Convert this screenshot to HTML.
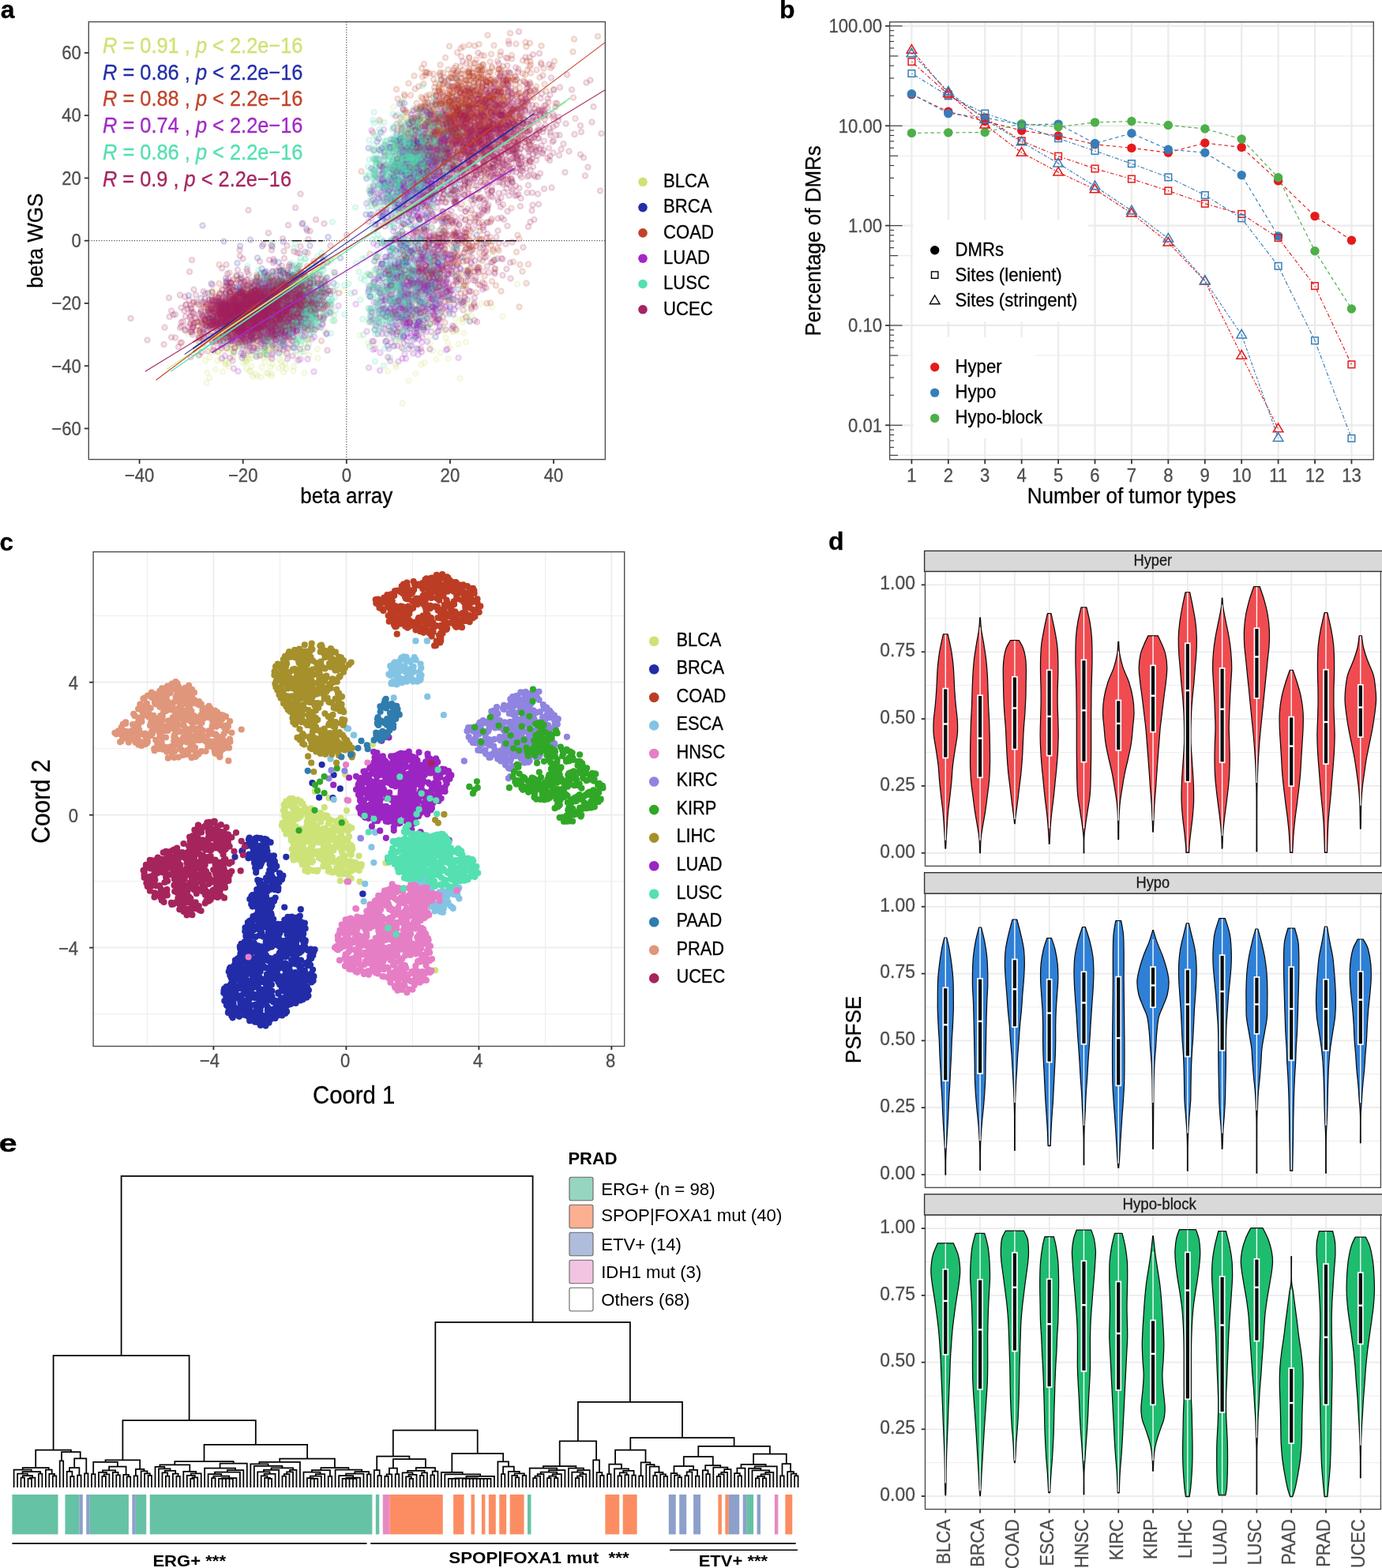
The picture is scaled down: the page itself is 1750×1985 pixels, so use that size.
<!DOCTYPE html>
<html lang="en"><head><meta charset="utf-8"><title>Figure</title>
<style>html,body{margin:0;padding:0;background:#fff}svg{display:block}text{font-family:'Liberation Sans', sans-serif}</style>
</head><body>
<svg width="1750" height="1985" viewBox="0 0 1750 1985">
<rect width="1750" height="1985" fill="#fff"/>
<g id="pa">
<rect x="112.3" y="27.6" width="654.1" height="554" fill="#fff"/>
<line x1="112.3" y1="304.7" x2="766.4" y2="304.7" stroke="#222" stroke-width="1" stroke-dasharray="1.2 2"/>
<line x1="438.8" y1="27.6" x2="438.8" y2="581.6" stroke="#222" stroke-width="1" stroke-dasharray="1.2 2"/>
<defs>
<marker id="mBLCA" markerUnits="userSpaceOnUse" markerWidth="20" markerHeight="20" refX="10" refY="10"><circle cx="10" cy="10" r="6.7" fill="#CDE374" fill-opacity=".12" stroke="#CDE374" stroke-opacity=".19" stroke-width="3.6"/></marker>
<marker id="mBRCA" markerUnits="userSpaceOnUse" markerWidth="20" markerHeight="20" refX="10" refY="10"><circle cx="10" cy="10" r="6.7" fill="#232EA8" fill-opacity=".12" stroke="#232EA8" stroke-opacity=".19" stroke-width="3.6"/></marker>
<marker id="mCOAD" markerUnits="userSpaceOnUse" markerWidth="20" markerHeight="20" refX="10" refY="10"><circle cx="10" cy="10" r="6.7" fill="#C1432A" fill-opacity=".12" stroke="#C1432A" stroke-opacity=".19" stroke-width="3.6"/></marker>
<marker id="mLUAD" markerUnits="userSpaceOnUse" markerWidth="20" markerHeight="20" refX="10" refY="10"><circle cx="10" cy="10" r="6.7" fill="#A229C5" fill-opacity=".12" stroke="#A229C5" stroke-opacity=".19" stroke-width="3.6"/></marker>
<marker id="mLUSC" markerUnits="userSpaceOnUse" markerWidth="20" markerHeight="20" refX="10" refY="10"><circle cx="10" cy="10" r="6.7" fill="#53E0B0" fill-opacity=".12" stroke="#53E0B0" stroke-opacity=".19" stroke-width="3.6"/></marker>
<marker id="mUCEC" markerUnits="userSpaceOnUse" markerWidth="20" markerHeight="20" refX="10" refY="10"><circle cx="10" cy="10" r="6.7" fill="#A62560" fill-opacity=".12" stroke="#A62560" stroke-opacity=".19" stroke-width="3.6"/></marker>
</defs>
<path transform="scale(.5)" d="M1106,372 1101,301 625,864 535,853 681,879 966,462 1161,871 712,813 559,851 1115,893 564,859 702,845 1083,823 727,843 650,857 1070,737 638,792 745,760 717,738 747,799 1017,815 601,844 637,927 1132,688 1102,689 656,828 1094,444 727,812 584,884 763,752 996,449 1037,613 1090,669 607,806 1101,432 1145,361 667,905 1100,817 1099,693 1093,763 638,803 1152,512 722,921 987,760 539,892 1192,296 1210,297 705,818 1013,867 1012,412 1142,268 1065,716 658,773 1057,417 1058,354 520,913 681,808 1122,383 616,919 1166,342 1007,541 1097,380 1110,475 767,785 1105,800 538,885 1097,747 655,766 608,819 624,819 781,782 1127,837 779,880 684,861 751,689 623,887 721,750 1138,644 666,829 1131,496 1154,256 1084,625 743,939 698,875 602,818 637,840 625,895 1035,365 1050,403 1032,358 1127,377 631,909 1157,342 626,748 1047,836 1161,332 932,868 1040,339 1127,587 956,869 595,865 804,684 1165,706 671,917 1012,840 1111,225 662,811 685,880 774,775 718,804 1093,764 776,824 639,875 523,969 1182,334 1070,795 1149,825 1047,534 641,742 765,696 591,889 718,830 562,845 632,885 1234,227 621,899 640,953 652,899 1208,344 647,861 572,914 576,880 730,740 751,819 1087,306 948,377 1003,843 1129,855 1047,432 1110,211 1175,733 1046,299 682,808 656,817 1066,829 959,443 1139,414 979,862 1056,367 707,748 647,828 656,832 710,812 745,850 1127,329 640,791 1032,303 1040,414 728,814 571,922 693,862 550,773 804,884 679,857 675,834 546,935 531,905 820,787 712,868 653,828 1158,486 1225,269 1026,376 1175,723 1029,519 631,843 1100,364 608,865 1118,760 1171,372 756,812 712,861 1024,467 1018,704 1129,338 570,919 730,902 1098,366 687,908 1099,734 1117,735 652,952 720,833 1035,964 1097,361 667,888 1140,443 1129,414 1198,218 1034,339 1108,370 1146,349 1125,379 667,873 710,802 691,827 1071,348 1001,794 679,776 666,798 708,781 725,793 1022,523 727,860 1091,755 982,837 1077,703 623,864 982,940 1030,305 690,826 1086,336 692,800 698,789 672,761 990,695 688,841 1079,820 663,930 1097,741 1171,807 1174,430 665,856 1030,447 1222,447 767,883 754,783 528,804 1191,352 1149,322 701,833 681,885 1187,811 658,817 647,947 1144,338 691,805 502,877 644,801 1132,311 839,780 997,643 1115,348 1119,391 785,761 600,877 738,789 775,832 709,846 1152,516 714,852 700,831 527,842 1049,821 580,928 757,790 657,901 659,706 954,669 1010,592 1044,388 525,944 780,860 1153,824 1154,358 1089,869 671,877 1098,810 1011,676 1157,839 660,853 574,781 726,821 1080,291 1089,652 1050,347 496,892 771,944 673,854 1031,337 980,800 603,849 1167,720 615,868 1076,792 1169,349 667,843 591,855 1096,363 1160,214 1054,685 1064,802 674,839 690,922 752,831 1178,767 537,805 1182,442 1136,760 1122,593 1003,930 685,929 688,785 1027,766 733,840 1025,790 701,860 1072,727 1310,719 709,864 630,812 635,940 1146,477 549,836 1150,676 1068,411 1188,470 1183,513 1187,376 632,940 1135,303 713,820 1044,501 804,825 984,907 720,862 709,814 1176,430 721,864 1150,263 715,926 1190,260 1061,389 713,817 690,866 636,900 792,805 1178,772 1004,476 578,857 1120,456 1058,840 1088,884 723,802 690,845 1099,607 635,891 573,842 622,917 629,847 664,792 1107,550 1094,732 1082,522 1096,888 768,839 580,771 661,817 654,855 675,849 1229,331 676,789 1122,404 728,860 1254,380 614,851 708,911 751,818 1198,755 1113,468 706,811 666,899 763,778 965,764 975,801 1182,272 1090,323 822,838 624,802 476,845 607,837 724,823 1264,367 751,772 734,884 700,833 1122,384 1099,758 1059,361 969,717 622,869 636,828 1164,347 752,914 1128,300 1011,783 651,811 870,736 695,853 635,813 691,862 1171,816 710,866 667,794 551,913 1075,918 675,944 972,421 687,828 1029,429 580,880 610,899 772,869 661,955 506,878 1117,388 732,882 724,805 1093,302 1074,259 601,743 1021,298 1177,428 1156,200 665,853 651,884 728,851 679,946 1118,373 546,738 621,905 1117,440 1041,787 1106,540 1001,859 1146,840 1169,274 568,857 605,873 1222,268 1193,770 1114,327 788,812 674,762 567,860 1156,375 756,819 700,884 724,853 668,877 697,859 1005,734 1115,434 1195,679 1132,390 776,821 751,734 1150,427 1037,441 641,864 1238,369 565,941 620,844 712,875 669,794 507,865 1122,684 1079,401 587,862 1019,729 782,858 733,733 1155,411 725,934 697,830 671,832 1082,770 1200,385 763,891 709,771 1085,372 1077,826 1219,769 1161,273 951,521 1121,780 1077,770 1036,574 658,845 684,772 1074,786 589,874 1256,417 1086,625 596,794 552,890 671,866 732,700 1238,304 1106,391 934,695 603,835 596,814 678,725 743,774 1090,697 1154,362 719,746 1171,304 669,790 1143,243 552,890 1121,801 990,838 1136,356 1065,766 673,865 725,831 736,820 678,859 708,818 668,815 1172,808 1126,372 1002,923 692,854 607,848 1167,313 658,843 591,905 592,839 1154,295 997,768 1184,801 817,814 689,857 1173,275 1165,958 1140,882 1015,777 678,888 1053,454 1177,383 621,839 708,844 1122,683 1125,358 1112,452 1238,417 1074,413 1043,802 981,730 998,710 1140,330 733,760 744,814 744,928 1175,843 689,829 1147,331 1063,336 1111,401 695,882 748,851 1082,791 718,942 1210,343 654,767 733,857 682,790 530,827 718,851 1042,609 1077,748 1025,409 1078,796 741,838 1087,823 541,806 778,787 614,851 686,763 697,886 691,837 696,828 659,843 1144,304 622,871 765,716 689,811 770,753 1120,682 654,817 1073,452 751,836 1142,357 955,731 1089,684 1143,546 624,933 1208,483 1150,468 1141,371 632,831 1036,803 681,767 957,567 1073,300 1148,838 1122,441 1108,469 1034,758 1032,411 1059,777 619,851 1042,320 704,726 1125,836 952,489 1089,851 1104,292 1124,426 1226,317 1095,288 675,866 716,791 627,803 1224,419 588,760 1038,325 1016,370 1155,690 997,467 633,741 605,832 1189,344 690,818 559,909 1022,747 1003,764 942,870 686,801 1134,331 1120,414 1052,762 1036,770 628,828 1090,653 1123,342 1013,492 654,863 1177,657 713,916 1080,398 611,802 1077,471 1079,804 1176,470 1085,386 667,888 1093,239 684,838 1067,923 791,708 847,809 1079,717 683,793 1135,908 724,779 638,859 1060,324 752,796 1139,435 999,463 1131,794 590,898 1283,288 688,859 738,810 670,820 1233,375 1246,777 1136,490 1111,806 1014,392 659,792 737,846 696,748 583,845 1172,343 671,870 1094,476 1132,334 1028,355 759,761 1051,438 1095,826 1019,1021 730,817 783,899 673,793 686,904 1070,375 1047,321 1053,726 688,946 1124,258 1152,408 672,850 1160,309 1216,398 1026,346 1183,266 757,764 578,921 567,887 694,821 687,952 728,818 1194,799 943,694 1083,391 1021,745 655,794 729,823 722,834 1130,411 557,769 1118,354 1066,743 737,875 504,900 1122,368 777,860 732,855 676,885 740,801 1128,343 552,891 661,809 1113,736 662,745 1130,311 996,271 1140,400 612,827 1154,807 727,840 1054,804 1166,298 941,722 727,834 1118,457 805,907 494,881 507,843 1146,482 1053,946 663,780 702,713 808,795 1183,332 617,771 1226,306 624,878 1115,736 1120,268 730,737 747,824 614,868 662,852 553,824 1131,378 1104,841 1214,480 1152,416 623,875 680,905 1184,791 1138,312 1051,674 784,754 1136,480 564,775 1145,273 1046,402 588,853 1110,390 693,803 839,793 1028,303 713,897 619,850 599,826 986,375 1097,323 1016,779 1086,431 934,816 1067,848 1121,745 782,776 1012,822 714,834 1188,591 683,852 1018,439 1045,646 711,816 1178,342 641,817 1188,265 670,841 675,887 1247,648 773,761 763,760 659,747 637,907 668,843 1098,518 733,818 1179,368 610,818 705,849 670,854 1110,704 694,842 622,849 1112,415 725,893 911,849 1220,340 728,755 1083,673 667,897 620,776 639,777 793,766 1105,910 608,868 749,899 994,512 673,874 1120,828 623,911 745,822 1201,293 1164,399 743,814 642,869 1216,266 627,773 1156,348 1109,325 1148,263 552,861 1273,801 1188,678 998,442 1046,451 661,839 1028,422 645,799 625,835 693,847 1178,240 758,808 717,837 559,821 1118,484 801,804 681,860 706,932 1139,362 1104,317 554,890 750,746 768,808 1140,374 1050,441 753,851 583,845 647,841 1120,304 633,855 757,735 695,795 605,825 690,844 683,763 588,889 624,916 1098,414 658,829 618,850 627,841 1100,423 535,740 996,877 1113,404 1082,498 672,864 1118,337 1115,433 721,796 1077,339 1195,373 1043,890 776,834 787,833 1050,815 1107,713 1123,764 659,877 1197,540 531,957 1132,727 585,877 645,852 511,820 578,824 703,754 1043,393 1227,343 647,873 710,881 988,785 648,851 562,847 1055,484 635,800 713,805 710,791 1156,424 1077,381 587,806 1134,869 752,703 650,858 1067,387 812,720 1152,347 688,886 609,884 1093,435 1089,782 1095,727 1143,626 671,893 1030,745 1023,730 1205,344 1180,704 718,888 1116,303 736,824 1056,770 662,827 647,890 666,775 651,838 1056,729 747,814 1180,866" fill="none" stroke="none" marker-start="url(#mBLCA)" marker-mid="url(#mBLCA)" marker-end="url(#mBLCA)"/>
<path transform="scale(.5)" d="M648,775 625,774 1049,633 643,794 628,813 644,781 814,735 792,761 685,787 1048,352 645,823 1013,352 763,815 1113,396 673,799 675,801 1008,411 763,716 988,721 1019,718 660,772 1079,547 1092,498 1008,786 793,791 1054,428 1025,407 785,622 1173,372 708,751 707,792 1029,628 996,607 660,771 968,552 764,792 1150,375 1061,411 1016,352 1156,707 1065,727 670,718 1064,764 1139,452 1014,633 1057,425 727,752 1109,664 682,799 1126,352 1062,648 705,765 1035,377 737,805 1100,716 536,823 593,794 725,798 952,652 603,778 638,823 1047,580 1095,399 1015,360 755,781 1047,393 1076,319 724,713 611,798 1061,324 1094,417 1053,328 611,716 1080,377 1039,473 701,735 700,842 1032,353 1056,374 667,738 681,719 1135,332 942,543 1060,374 1006,359 1173,375 1001,533 611,703 636,852 1093,348 1083,367 744,772 538,804 509,755 1029,443 626,778 1146,674 689,820 773,638 1071,459 1149,361 1069,596 1120,363 1053,429 988,636 697,796 1120,290 1028,487 691,687 971,611 708,739 689,819 753,762 711,808 1130,712 478,748 1117,365 825,746 1081,494 731,796 1013,466 669,776 1184,690 641,818 827,846 691,803 796,715 740,804 937,750 714,840 1060,363 1084,720 1010,518 1015,757 641,761 702,766 967,548 683,755 737,789 560,830 1056,440 585,771 1041,525 745,734 1127,358 1140,426 1057,525 652,653 1063,483 938,752 1053,616 1053,386 1108,445 1031,403 621,811 985,615 1041,374 594,812 1053,489 990,353 637,829 676,805 1002,634 1142,645 1022,418 1086,618 1173,382 1050,518 1126,661 711,685 993,510 1118,358 1088,354 1108,681 1038,635 1076,326 661,782 1149,506 712,768 733,831 1042,687 772,693 656,804 1080,411 747,773 978,650 1018,375 1104,454 770,718 745,753 1022,437 756,734 693,746 1035,314 986,471 1108,426 983,625 1001,724 1118,672 1008,703 654,728 1128,260 784,703 1041,555 661,813 665,795 720,721 619,812 1093,776 626,817 739,752 1068,283 741,696 759,709 1087,376 1029,376 738,721 635,774 697,767 1095,403 1109,288 1014,621 1074,640 1054,405 646,756 548,760 1253,263 1090,503 713,778 1049,368 1084,471 1130,560 621,761 998,509 685,796 1134,402 976,865 1071,448 699,748 1089,665 640,754 1027,415 1158,383 1034,762 1039,364 1094,694 1015,471 1098,504 997,448 736,770 1166,761 1044,720 754,693 1080,348 775,819 710,686 720,751 928,452 975,693 680,790 723,783 1172,410 735,735 695,661 979,802 781,728 1050,474 1091,499 1083,458 767,775 1122,480 1050,515 1057,361 813,747 659,761 574,717 1058,449 678,772 1059,375 1019,428 1064,557 1113,692 994,771 1133,414 768,786 1050,751 675,813 1126,452 607,838 997,324 1104,757 1122,295 1117,202 1089,392 725,778 629,838 1058,693 1074,579 1120,536 513,571 1076,362 767,764 1037,705 524,838 769,767 1084,561 990,713 1006,487 671,807 1000,421 836,745 1044,440 997,384 1072,380 1093,476 992,694 1125,337 1096,446 1076,769 704,786 711,759 1066,765 962,803 1073,441 649,815 747,786 1101,344 1077,763 637,717 1195,227 1059,630 1007,707 1165,679 1061,379 573,773 731,755 582,779 608,729 773,753 726,773 1057,379 736,773 1058,830 567,773 1061,760 763,723 641,785 963,547 752,773 1119,677 589,773 1010,458 1018,477 551,798 1026,418 643,790 1032,619 1125,351 608,623 718,720 1024,622 1035,562 704,754 1066,357 1004,754 1059,401 645,782 1073,402 990,763 1082,408 1061,360 1103,728 983,696 760,777 1253,658 668,728 677,750 744,752 1155,620 743,766 616,858 1157,597 689,766 753,796 711,737 696,739 1053,479 1139,777 997,629 1109,664 660,693 1041,290 739,746 1018,671 629,808 1149,392 640,754 1044,364 651,814 1060,417 999,431 757,751 1075,576 1139,377 1020,391 1081,737 1055,426 1077,339 1028,659 1073,829 1094,487 595,778 758,771 644,811 1063,578 990,362 723,745 683,796 1025,567 1022,719 997,678 845,717 973,461 622,767 1059,620 1026,801 1018,692 685,807 1048,347 653,774 757,721 988,692 1141,270 735,748 605,751 1108,701 1045,321 1121,283 720,789 1118,338 726,842 1039,705 1105,782 1031,405 938,697 1019,385 575,842 1070,351 1006,444 1034,674 978,531 989,669 1133,384 997,353 1112,602 1056,362 1041,773 987,425 1119,403 1010,548 645,758 743,835 1115,357 740,702 592,787 739,805 1082,483 719,770 1050,425 1115,383 1057,529 1025,434 678,798 730,696 1032,382 1096,341 749,768 721,842 1021,277 947,714 1011,476 1078,687 677,744 1013,368 969,482 1100,761 1033,496 1026,661 749,775 1148,338 669,690 1080,574 1172,765 682,715 1080,522 933,375 1076,414 989,646 532,805 757,776 752,837 715,793 763,706 1068,458 1061,554 1003,437 1063,277 706,730 727,760 590,832 613,784 1121,600 611,826 633,758 1054,708 1176,444 607,744 655,749 1032,365 1040,626 1003,414 1088,448 1002,454 1043,759 1069,362 1047,715 1007,485 1027,666 1054,376 1020,565 632,781 634,786 1064,711 1082,438 686,774 632,814 1124,379 712,767 1081,682 1105,477 605,743 637,738 711,835 608,782 1003,356 817,808 1152,252 606,772 1083,795 683,761 946,430 1051,613 584,856 772,731 1096,759 713,705 680,762 717,721 793,700 1110,419 1008,698 994,684 629,783 740,762 600,749 1044,450 1107,687 964,467 1123,340 1040,797 989,372 708,747 1068,493 967,455 650,758 971,421 1096,702 997,446 738,674 721,769 771,734 1028,617 794,735 643,783 970,535 1054,388 1097,646 1084,772 1021,661 722,778 1157,355 966,698 654,758 776,579 1073,699 1094,466 1087,311 1110,391 1012,263 1042,708 588,771 617,814 601,839 621,816 1051,443 1034,608 805,768 640,759 645,803 967,375 1035,396 993,675 1093,717 753,819 1125,564 582,785 1092,349 535,718 982,790 1039,569 1018,587 960,817 1016,722 674,729 733,702 1066,793 967,616 938,490 663,680 1006,369 1085,635 661,736 1035,439 713,820 684,740 1018,518 675,704 1013,639 659,771 638,764 748,812 967,440 609,838 1017,698 1113,359 736,780 1001,605 1045,642 600,727 643,840 1105,399 661,848 780,706 1040,427 658,778 1088,433 989,611 1035,357 978,660 1097,371 1083,372 601,791 1051,853 1156,198 1123,325 742,702 1018,422 1043,476 655,722 1082,284 987,372 712,834 1074,379 661,793 1119,559 689,743 1089,657 708,785 576,814 1057,460 661,811 1074,428 1060,394 1049,354 723,761 707,781 1129,736 528,806 576,825 1007,525 1037,775 689,738 683,794 1000,684 1064,477 1010,432 982,492 1043,635 776,740 1057,373 609,783 619,762 992,703 755,744 749,818 750,800 1145,454 716,791 631,759 743,808 1140,328 1029,808 1074,720 1073,499 1032,430 1113,643 556,864 1066,611 776,789 989,702 1089,820 702,845 626,778 1103,492 989,427 795,722 1020,665 1158,280 962,710 698,816 1062,814 1136,204 734,729 990,449 1031,446 1097,778 743,736 646,736 714,788 814,728 1023,505 1078,688 676,787 1040,717 986,482 633,825 1100,413 1201,503 1093,726 637,754 775,745 1017,433 644,794 979,562 688,798 632,762 1094,260 1074,370 1160,733 1225,620 1076,269 1047,685 581,794 967,668 1068,464 813,721 724,765 767,736 1107,379 693,780 1061,412 1029,395 1092,374 658,768 1023,368 668,807 1073,421 623,804 1104,672 1034,327 968,761 1037,442 664,794 1074,409 676,735 1018,546 1086,741 1108,464 1019,469 1055,363 697,735 1151,784 740,750 1086,609 1068,433 672,785 693,754 715,743 666,790 657,799 1106,368 1094,609 1099,396 997,450 1052,721 1009,656 621,772 1068,395 603,846 1018,349 1131,346 688,778 1158,448 1061,781 788,739 683,729 1011,356 1046,391 1060,714 1050,400 1114,726 693,739 1122,436 655,743 1124,374 788,808 987,707 740,699 1064,338 1096,661 749,726 1081,420 1028,432 776,766 1050,412 746,704 1080,273 821,650 1073,657 662,717 991,547 655,741 1012,715 746,742 1114,706 1089,374 1073,427 691,836 1055,472 657,786 1124,474 1125,359 714,788 605,829 733,809 975,786 650,777 1162,474 1014,745 757,764 996,757 734,800 1051,321 592,788 1073,651 1156,698 676,847 974,385 1190,814 561,821 743,852 1192,414 1089,720 1042,307 726,816 685,796 1182,301 1049,363 1047,367 601,780 651,702 993,629 700,734 720,782 1049,361 1010,431 685,717 1059,422 616,774 1013,481 821,715 576,807 1090,291 621,763 653,799 747,720 626,767 663,778 1164,456 1058,442 1029,653 1097,731 959,351 756,757 1087,727 1024,261 1080,441 1123,586 616,900 1153,426 989,673 1042,462 1100,337 799,745 1036,394 709,816 745,746 968,457 765,567 1072,415 775,800 570,763 1099,484 727,785 702,720 1014,692 1102,489 639,756 662,770 1157,418 715,768 1026,426 1066,361 1060,708 601,860 1163,356 1022,462 701,719 1054,458 964,335 737,752 1123,398 1071,457 1048,378 608,732 1032,375 718,741 1202,373 616,807 1090,672 1130,392 1099,593 1064,401 1017,339 1011,593 1107,694 1112,379 964,381 679,780 1126,354 1085,394 1097,422 633,791 652,785 721,712 1084,290 652,754 1161,253 659,793 657,797 1074,358 1106,625 590,815 578,829 1063,481 1106,305 673,764 1038,402 1076,388 1056,477 933,739 1079,737 629,806 1034,721 673,803 1077,412 987,837 567,611 1035,452 1000,525 975,693 572,705 1078,434 1020,611 681,763 721,773 1016,619 701,787 736,747 1080,403 963,783 941,426 1044,367 763,823 641,772 739,701 681,742 634,607 1157,625 774,785 1033,640 1017,466 585,863 1059,437 652,769 1054,368 1036,364 1078,650 1093,464 1090,653 731,727 1157,287 1029,662 653,716 1026,429 1070,346 780,778 692,782 1147,424 1107,329 937,543 1019,490 561,785 1074,457 782,749 1095,471 1004,468 560,760 1089,411 659,783 1064,431 949,835 1149,333 1009,673 712,728 992,839 1058,359 1067,443 1168,317 703,728 1093,694 757,732 1056,882 1156,442 614,775 658,738 1102,447 654,747 1081,396 658,800 1026,487 572,838 1040,381 962,421 1061,435 1030,432 1060,432 1120,751 1088,288 681,755 696,760 605,738 1081,434 725,750 1092,713 1090,493 1046,480 718,691 667,750 1073,375 707,748 1113,710 1107,376 679,782 759,773 662,751 706,664 1005,514 1037,450 1092,296 753,679 1063,393 992,441 565,816 608,813 680,807 673,773 682,727 641,810 618,813 1017,682 1099,402 1150,480 1025,506 1133,313 955,358 1076,321 974,463 738,724 710,722 672,760 1052,383 769,768 1047,657 994,489 1057,409 1005,337 525,792 1020,322 1002,789 633,789 999,577 1033,372 1067,722 964,743 678,749 1111,733 1069,390 584,809 862,653 1113,434 1055,679 1091,319 674,763 1037,314 1056,308 1061,814 636,728 575,749 982,459 988,725 617,827 1057,739 1075,544 609,815 683,771 1152,469 982,876 1109,347 601,734 629,769 1016,742 600,698 1068,405 1037,679 1065,603 679,797 1016,729 1144,653 628,767 1145,354 1033,664 595,829 1207,595 676,776 1024,851 572,744 636,799 584,775 1050,417 708,764 1011,353 673,795 1068,376 688,787 617,836 1012,390 1078,685 990,792 1125,365 762,779 1201,320 998,876 743,782 1053,785 651,797 702,710 1103,853 603,794 1126,630 1145,398 1036,480 1067,367 1068,361 717,822 1052,331 752,742 1102,776 665,756 612,743 1083,828 640,750 1035,379 1086,732 1036,382 1046,310 570,770 1067,511 679,752 951,567 1058,322 1022,399 1009,679 1047,515 585,716 1096,640 947,381 707,712 1041,337 1000,503 1063,452 759,744 1014,802 1071,284 1074,340 1090,453 706,686 608,801 973,437 666,730 680,750 1135,321 1128,278 536,806 983,679 987,376 644,856 716,781 703,794 607,768 1191,636 1046,544 1123,403 648,821 799,765 800,764 949,513 1103,411 990,723 1133,738 1134,751 691,698 1179,284 1091,290 710,696 1089,390 1059,373 1064,471 968,668 1027,696 1057,358 665,740 1065,633 721,755 1161,496 1116,376 1085,412 639,828 770,755 1009,413 1127,751 1069,438 1045,639 971,476 1059,809 993,410 674,687 593,891 1108,653 1062,732 657,795 664,623 1001,508 601,666 994,801 562,874 1049,686 542,809 1032,310 742,769 610,831 555,844 1013,688 1131,373 1017,425 941,484 601,781 1112,668 629,792 1093,342 690,733 1102,721 582,751 1084,393 1065,460 1139,492 651,713 668,760 1076,438 1015,700 639,727 1066,359 677,699 781,754 1145,693 714,712 1025,444 652,773 716,776 575,770 777,769 1085,475 735,691 1059,426 1097,413 675,729 1100,358 1074,414 1029,480 686,842 606,841 681,702 1040,486 995,693 1056,396 1107,328 1128,651 729,690 633,744 1151,398 617,746 948,661 685,786 755,776 667,712 623,848 1061,378 714,785 1015,613 1069,632 773,799 1149,343 717,612 1031,550 927,543 1123,654 836,737 616,728 623,765 984,484 981,733 700,785 1056,823 759,784 690,624 1087,307 1120,379 1047,825 1080,386 1037,815 1019,393 1091,390 622,759 1099,346 702,797 1074,419 645,810 1180,269 959,502 1032,428 962,741 960,379 967,422 619,762 684,752 1026,384 1088,388 1043,698 1045,415 1011,668 614,843 1073,810 662,806 1159,283 1023,732 1082,721 728,761 650,749 749,784 1131,379 1040,438 1134,344 707,730 669,692 674,744 1167,652 585,800 733,759 676,781 1085,379 560,819 1095,686 1020,453 1093,395 1077,348 1059,504 617,789 1063,418 1108,665 629,773 992,818 1035,430 1025,762 770,819 701,795 1009,664 1184,459 951,404 722,693 1073,510 678,844 701,852 1022,852 1041,383 1065,640 704,832 700,767 660,767 1187,349 1015,437 1028,625 698,773 557,815 970,548 934,733 742,774 1065,660 1104,241 797,772 977,714 689,735 976,781 572,855 1047,527 1070,430 527,742 831,600 1120,344 1032,476 1039,688 1007,453 1027,667 1083,432" fill="none" stroke="none" marker-start="url(#mBRCA)" marker-mid="url(#mBRCA)" marker-end="url(#mBRCA)"/>
<path transform="scale(.5)" d="M1229,250 1148,721 1167,262 1219,281 690,797 1132,740 1236,193 1237,308 1108,328 1174,380 1242,315 660,769 1243,183 501,815 1235,325 1324,153 1223,163 560,791 805,749 1377,173 1122,233 554,790 1160,267 1112,261 604,811 629,766 1191,320 1205,319 1108,752 1150,327 671,782 1196,264 1138,295 1233,289 1217,234 975,392 1238,296 691,752 1110,703 1084,321 1127,642 622,757 1141,337 1304,304 1160,216 1268,236 721,812 1291,357 1197,184 658,739 1159,251 656,773 1134,504 1265,268 686,774 1402,303 1151,331 1129,266 1121,213 1264,290 1173,298 1240,214 1166,743 1312,271 1168,340 624,802 1122,241 1161,692 1347,243 788,705 1106,392 1154,188 555,670 731,696 1212,362 1285,204 1222,177 672,755 1309,244 1200,270 1100,659 1163,206 1178,319 1119,449 1331,107 1281,204 1237,245 1249,247 664,760 1156,284 1163,326 1176,224 1082,309 1088,327 1200,193 1042,384 679,739 657,754 1254,210 753,721 1204,241 1137,265 1191,365 1145,307 537,760 598,760 674,773 1184,275 1187,230 1185,267 704,736 1106,242 690,792 1451,131 1316,294 1148,280 1245,325 1162,266 1248,253 1094,343 490,818 1344,366 1187,194 1302,278 1181,161 675,750 1130,644 1268,316 612,805 566,833 1236,209 1229,463 714,755 1229,638 1216,330 677,796 1230,445 745,727 624,757 1203,329 527,816 1140,329 1221,276 624,821 747,719 1098,310 639,795 1123,257 1198,264 1036,378 1306,300 1308,372 1205,292 635,808 1232,348 499,770 1188,306 1067,581 1187,182 1140,308 1227,216 573,779 1132,362 1225,385 587,763 676,803 1145,362 1179,306 1194,363 624,809 1087,240 974,739 1158,281 551,765 1110,348 1132,403 632,747 1212,359 1168,311 1200,208 1179,253 1210,197 1108,324 1260,155 1338,669 1140,308 1156,292 602,789 1188,146 1249,206 1099,651 1212,322 702,758 1090,379 1186,276 814,863 1174,763 1189,362 457,868 1232,208 662,762 645,723 1269,234 1246,361 679,751 1158,651 1117,237 1217,306 546,814 1183,685 1115,311 662,769 1160,253 1248,248 1149,658 652,797 1233,326 1101,358 1097,364 1197,247 1270,218 1101,595 1140,303 1175,285 1055,261 1240,182 584,802 1199,394 1177,588 1222,219 1290,185 1178,294 1119,639 1123,330 1218,250 1337,221 610,766 1205,257 1149,235 1072,449 1158,275 652,804 701,761 1196,186 1157,390 662,770 1077,357 1218,166 1203,297 1250,284 1213,112 1195,264 1143,428 1039,636 1113,311 1218,285 1109,393 1004,377 1248,314 665,780 1192,235 1284,260 1281,274 1114,386 1108,233 1151,172 608,832 700,707 615,795 1183,321 1189,412 1273,243 1306,319 1300,312 1298,315 714,757 1137,324 1047,309 1165,359 1077,423 1193,320 729,726 1189,608 1071,353 1164,323 632,751 662,789 780,806 1065,374 1208,294 1109,308 1270,316 1144,688 556,742 586,826 606,784 1190,338 716,755 1168,257 722,823 1094,371 521,815 1166,289 581,771 1123,573 1407,261 1343,212 721,787 1201,292 1267,140 1235,441 1221,253 550,815 1059,306 576,787 1150,331 560,783 1151,420 654,775 610,805 1090,394 637,803 1076,395 1067,298 501,825 1244,137 1188,629 1180,325 563,783 1017,327 694,755 1114,300 1093,465 1331,239 569,835 1177,751 580,757 1228,265 653,812 1259,287 1210,275 655,780 673,769 1102,342 1139,219 1315,306 1200,688 1252,279 581,691 1111,228 1298,322 1145,338 1171,391 1156,327 1268,265 1206,223 1073,344 1189,291 651,765 1177,299 1183,201 1312,278 720,735 1247,199 1082,183 1288,300 640,819 1001,604 1206,328 589,818 1175,240 1133,306 619,812 1125,367 1170,218 1161,351 1261,263 617,788 1169,357 1138,292 1066,371 711,718 1087,305 1283,184 1144,295 1140,256 1084,259 1264,240 1158,203 1269,251 1186,179 1270,293 1074,389 1159,272 1078,265 1044,350 1174,229 663,797 625,767 1140,195 618,761 1123,312 1106,350 1171,391 1212,208 1084,699 1204,160 1204,291 1154,199 1220,606 1178,265 1252,231 645,715 1173,785 1184,301 718,718 1197,236 1250,660 1133,215 1288,201 1038,325 1207,375 1254,214 1101,230 698,767 1206,364 1234,322 1218,429 1071,359 1176,213 585,745 1137,268 1262,175 1162,291 1269,350 1138,309 712,844 715,785 1327,269 1107,276 1217,240 1101,599 1130,329 1164,286 1139,296 1142,219 757,766 1085,426 1191,286 1119,366 1292,204 715,794 1220,288 1222,660 1077,627 1128,301 1130,248 1209,288 1181,307 1157,401 1103,289 1148,291 647,754 1025,423 1018,261 1144,293 718,862 1152,306 1204,229 1207,239 700,797 1270,312 1162,277 1144,313 1251,220 597,819 1084,455 667,787 1151,352 1075,304 1113,682 1221,336 1218,330 1242,245 1335,331 1330,304 1114,187 1309,240 1172,371 1110,727 1227,322 1138,606 1174,348 1093,376 721,769 662,816 672,769 1173,298 1199,193 1233,283 1268,131 522,778 1130,706 1153,294 1232,322 629,757 1302,297 1320,340 1194,244 1085,273 662,826 1249,277 576,795 1141,304 1140,256 1249,252 1239,378 1069,384 1213,207 1124,398 589,757 506,842 1235,244 1093,308 1269,233 1191,307 1146,235 1140,330 641,799 1159,180 1154,363 1213,249 579,775 588,864 1287,201 703,767 1103,329 1136,248 616,720 600,774 1101,371 684,735 611,793 1153,334 594,882 1045,595 551,815 708,841 1226,728 1165,237 1057,332 1113,331 1167,122 1168,360 1101,385 1137,275 626,769 1066,372 1089,757 679,810 624,796 1294,284 1222,220 623,788 1173,240 695,783 1134,737 1149,362 1181,311 559,791 1140,231 711,796 1296,351 651,703 705,799 1263,176 1128,669 677,784 1086,704 1207,264 944,335 1216,269 1182,364 629,755 581,765 1288,104 1181,253 664,767 539,820 642,721 549,772 667,773 643,780 1160,297 1191,233 1341,145 680,750 1244,622 1196,268 1154,252 691,774 1168,693 1168,143 1145,234 1268,189 1287,231 1248,631 1153,324 589,785 1230,325 1190,350 1264,279 1242,201 569,745 1174,285 1147,417 1242,767 588,857 1211,193 1383,231 1316,311 1241,270 1115,328 654,784 1171,291 683,785 1167,360 1343,155 679,767 1115,263 718,787 1097,277 1276,355 1304,194 794,736 1269,357 1161,323 1246,359 1141,274 1164,293 1216,320 1142,296 1155,514 1240,275 1142,369 595,850 1171,241 675,847 606,806 1132,667 1150,598 1188,223 1284,341 1220,266 1228,331 1287,254 1194,247 1112,430 1088,186 683,797 1026,372 716,721 956,651 596,833 1158,312 663,778 759,747 649,765 1133,314 610,758 713,786 1176,320 1155,223 1211,323 1199,198 1259,283 1192,204 1250,237 546,864 1159,712 1095,607 1234,297 1278,319 1344,164 1120,263 1066,275 1216,178 629,775 623,768 1150,257 682,805 607,817 686,782 1265,329 1114,343 1142,197 1249,322 1280,214 526,889 629,743 563,851 1171,269 1112,253 639,781 1318,236 1096,331 637,738 1222,256 1298,198 1229,201 1159,225 1136,686 579,851 646,766 1222,316 617,861 1186,297 1179,203 1167,245 708,805 1066,698 1212,176 1224,164 1194,264 1144,260 711,788 1077,419 1151,229 528,772 1089,676 1137,243 758,816 1225,413 1177,591 1093,284 1228,312 1015,701 537,774 1164,604 1211,210 1278,334 1160,402 1062,303 1134,304 700,779 1195,249 609,774 1314,236 1223,307 1255,287 1144,248 1188,250 1180,711 1237,184 1113,230 677,710 1028,336 1101,264 1179,325 1269,281 1024,239 751,826 1163,267 610,797 1168,187 1145,562 1133,380 671,817 1307,298 698,796 1250,313 701,776 1131,727 1164,284 506,815 600,786 1223,198 1161,666 1095,343 696,800 611,789 1214,366 642,773 746,761 678,744 752,735 689,748 1136,199 580,775 676,757 1286,148 1280,257 1211,367 961,304 1119,623 1180,724 604,771 699,767 1225,351 1239,243 710,821 1161,617 1299,277 1238,406 1227,389 1285,319 1189,391 759,690 629,819 1211,220 583,818 1079,469 1102,367 528,782 1265,263 1333,118 1193,288 647,794 1219,224 521,823 1341,215 679,738 668,796 1110,611 1113,652 1155,275 618,809 1098,187 618,740 1184,263 1256,723 1149,284 1159,274 1115,164 1252,372 1160,346 749,771 1158,373 615,784 1209,312 1157,334 1103,263 1189,648 1268,325 1238,236 656,736 1134,377 1191,192 503,856 1196,291 1109,270 619,748 1128,307 716,781 1183,659 1135,340 1066,434 765,728 1140,306 605,806 1078,671 1232,355 1160,381 751,871 1168,254 1085,379 1265,227 1098,201 1213,185 1144,621 614,744 1144,307 682,825 1142,313 636,784 550,800 1359,177 1326,205 581,816 687,762 578,816 1134,298 1282,296 1249,636 688,754 1254,681 1075,313 1271,260 1269,737 1172,186 1195,491 1225,242 1095,268 1157,670 1088,275 1052,464 1149,323 1180,291 1232,206 693,742 1367,196 1021,538 1148,178 1203,309 1187,621 1195,368 1255,267 1208,353 1172,178 1176,283 1303,350 1156,289 1154,593 695,742 1105,332 1124,411 1119,383 1178,289 568,764 1175,309 1294,318 1186,684 1153,293 1514,92 1080,249 1133,360 616,828 609,779 1181,244 1094,382 1275,255 1263,229 1051,378 607,792 594,837 637,779 1043,365 1191,274 1196,338 1049,192 634,744 1162,221 1212,346 1317,670 652,700 1180,270 1260,629 1242,244 1006,359 660,847 676,766 1137,227 634,809 614,819 771,766 624,723 1085,350 1223,627 1207,177 1143,667 1306,227 1241,600 1158,320 1217,279 1196,404 1216,609 1308,638 1121,353 1192,329 720,760 688,742 1131,610 1146,281 632,795 1141,313 724,757 633,782 1170,259 844,737 710,759 1087,305 1125,206 1166,381 656,800 626,731 1115,693 1306,363 1364,279 1057,295 737,771 1146,321 676,697 1097,319 665,736 621,779 600,748 1027,279 1227,366 618,755 1104,244 1241,296 712,760 1077,183 589,749 1152,287 616,784 686,724 553,853 1191,161 1068,173 1125,358 1090,300 1200,332 1158,295 1150,291 1067,246 704,789 1153,342 784,737 1170,225 1207,274 1173,320 1225,280 619,824 1149,645 779,640 1143,326 1150,365 520,809 1104,599 1170,303 594,832 1123,352 1141,277 1234,294 1326,259 1048,355 1173,118 1107,292 1200,263 1269,241 1239,201 1100,221 1097,312 1227,253 1162,343 1240,257 1074,581 1084,290 1111,319 711,785 650,798 1062,299 1004,226 1167,343 1102,359 1151,335 1324,186 1121,315 615,831 1052,369 1195,634 1115,268 681,806 1189,182 1119,201 1103,303 1035,211 1281,200 656,810 726,736 1317,300 1206,741 1129,302 1138,256 1062,279 1213,322 1128,146 620,775 1236,369 665,807 1149,265 1056,447 1301,202 573,798 1312,353 1240,312 1217,287 1202,242 1173,331 1147,320 1043,298 1179,327 1062,676 1246,273 612,808 731,739 1127,817 1102,659 1263,634 511,851 1129,282 1026,284 1268,319 623,786 610,823 1259,268 1128,620 1258,240 1238,291 1116,378 1159,609 1123,610 1021,482 637,787 1227,718 1080,184 546,819 660,805 1290,290 1222,224 1290,300 1241,156 652,813 1061,637 1341,169 1094,301 1072,385 1260,311 677,801 1193,362 1281,201 1152,318 1148,186 1226,313 1156,243 1181,265 695,790 638,791 640,739 752,758 550,776 1210,257 1153,218 1255,268 1137,259 634,781 1093,267 1178,201 1282,299 638,816 699,817 673,789 1110,694 1159,329 1192,294 1166,231 596,785 1158,133 1091,312 1095,689 680,816 1302,377 1016,315 1049,302 520,812 1159,356 1200,229 621,791 1203,389 1266,241 1138,117 1207,314 1204,264 1048,466 1093,477 1219,170 1158,184 1351,247 1068,394 1227,294 625,812 997,372 1154,271 640,715 614,775 1133,264 1178,614 597,823 614,787 1189,302 1177,261 1256,286 1155,167 1240,324 1197,262 1305,315 1306,214 1118,300 1337,296 1178,632 678,787 1174,641 613,780 694,806 667,860 647,749 1005,366 555,718 1169,353 1166,215 1108,707 1227,699 1164,349 1342,230 1239,361 1218,256 1214,169 768,746 1152,700 1071,373 767,749 1230,334 1216,310 1316,223 1094,577 1047,419 1214,238 1112,245 1230,205 1067,269 760,799 687,711 1119,226 610,737 1106,258 1155,287 1201,299 1094,807 1269,175 773,707 1130,326 1296,149 1216,258 1340,411 1200,255 1070,250 1171,284 704,804 617,833 1290,289 1201,354 727,760 1144,331 1152,328 1007,250 1219,605 1207,324 1132,327 1187,229 1198,221 672,755 1276,300 1287,454 1130,308 1268,183 1178,246 644,738 1188,146 1086,366 620,819 1222,179 1311,595 1112,726 784,786 1019,403 1061,664 1280,224 624,810 1141,244 621,772 1226,319 1263,261 1330,267 1079,600 786,769 724,783 1378,268 1145,244 704,789 1118,681 750,745 1250,252 1221,563 695,772 1187,202 573,797 652,814 1126,631 1032,286 1286,279 1153,260 1158,227 1214,605 1232,286 1244,371 704,770 1049,279 1164,210 523,772 1150,217 1196,451 1214,357 578,789 604,793 1271,323 1226,141 643,778 1246,169 1133,313 1100,672 1215,239 1066,322 611,771 1239,325 1126,210 1206,151 724,824 1198,625 544,831 650,787 1138,238 763,792 1067,683 1155,338 1235,562 1170,616 1054,347 1168,708 670,784 549,798 1236,250 1109,296 1180,288 670,765 567,783 1204,298 1103,341 1214,640 1395,172 1219,189 1321,310 1117,311 1125,196 1214,259 567,813 1313,294 1244,287 1219,196 1206,199 1176,722 528,785 1187,294 1079,337 1165,296 1218,298 1277,252 1192,626 1098,336 592,819 1115,183 1240,334 1179,364 1215,274 562,791 672,783 659,802 606,706 770,786 1114,361 705,750 1135,394 1160,384 679,805 1062,392 1161,666 1176,336 595,777 1039,322 1048,342 1208,614 1211,178 1136,241 1119,262 1264,246 1158,671 1191,305 1200,294 684,711 1181,229 1228,177 1213,306 1161,310 618,768 549,808 1091,281 691,875 1266,325 647,819 705,740 1215,585 596,824 1457,300 711,779 1279,309 1119,603 1224,283 1225,194 1307,111 628,773 1180,336 1142,296 1180,338 1212,361 655,734 1158,301 1268,305 1112,222 1227,272 1153,640 1102,341 1222,306 1274,168 1115,192 1200,234 1235,278 1168,303 1169,517 1305,274 1081,352 682,751 1315,605 703,780 1283,246 1158,347 611,774 1221,267 1186,301 729,732 1188,114 1085,527 1177,330 652,877 1180,213 1180,246 1333,717 756,822 1087,307 1290,316 678,752 1188,620 1084,453 1139,301 1244,202 1125,593 1021,277 1156,345 1289,368 1140,311 558,814 1095,290 605,808 1113,230 719,797 1133,551 1143,272 1127,254 1221,303 654,819 1343,233 1110,332 1160,281 1251,284 650,778 600,785 1452,247 1181,597 647,786 1169,257 1379,213 596,750 737,802 1278,286 1073,491 1195,316 677,754 646,779 623,788 625,819 629,793 1334,155 1277,267 1243,252 1231,265 699,746 1098,733 637,738 1079,621 1224,268 1089,282 535,786 1014,380 1196,351 1128,316 1321,248 1065,585 1356,227 677,748 1190,344 581,774 1052,327 1283,297 1275,215 1061,377 1230,250 594,771 1205,341 703,813 1255,322 551,825 1189,333 1342,109 1144,303 1240,257 1230,252 1235,89 1174,273 1146,297 1306,204 1170,269 1294,205 1221,219 1079,281 1274,248 747,731 1273,212 1081,683 1206,611 756,692 995,425 1359,333 1198,288 1317,356 1175,263 586,797 603,759 1119,331 1190,551 1171,383 1211,720 770,783 1205,269 1148,299 1283,325 516,778 715,776 1172,347 1183,304 654,740 1049,417 1236,301 1238,343 1080,260 620,829 677,780 1330,189 1251,115 1217,299 1178,291 764,780 774,769 1229,270 615,851 676,790 1081,329 1188,304 1150,199 574,823 657,790 1202,322 1102,384 994,429 743,768 691,770 653,734 1213,690 1295,527 1172,419 1292,299 790,773 1159,214 1155,183 1146,262 1079,316 1251,208 767,736 1158,347 650,749 1181,263 1053,688 527,827 1267,340 736,797 1118,578 1164,339 732,819 1196,277 1403,227 1315,777 1266,206 1122,445 1255,230 1205,228 1192,227 1110,256 1205,336 1093,395 567,769 1126,277 1192,698 1179,303 1057,622 1305,194 1333,235 1151,425 1006,330 645,769 1156,501 1210,274 641,821 1172,305 1136,728 1237,236 1117,422 1404,155 707,744 1059,393 1184,247 1197,632 1118,257 1148,338 662,820 564,734 1232,207 1061,374 1313,175 1209,681 1213,195 1108,308 1240,248 1220,377 655,814 1232,618 1211,252 1241,323 1389,258 678,697 1135,290 1121,335 1325,312 1194,346 1118,261 1131,323 1243,319 691,790 1204,558 710,710 1318,290 715,829 1329,350 1048,349 1226,421 1154,342 1214,292 1170,606 1057,596 1153,337 1200,160 1162,279 711,804 1066,274 1152,310 737,807 1224,202 1172,249 681,804 1287,311 1337,232 1319,273 1235,301 1262,234 614,791 602,798 1156,324 1240,271 1235,279 1064,295 1015,298 1151,397 612,773 749,788 777,740 1211,352 1329,207 1189,248 1166,289 1157,334 664,835 1233,325 1167,235 594,776 728,792 1296,365 615,762 1162,338 1222,366 1251,239 653,766 1185,185 1161,247 1191,286 1157,761 1074,162 731,777 667,734 1137,258 1219,281 1166,234 718,758 594,833 538,740 1157,316 1084,393 1181,355 1241,210 1301,276 1070,194 1098,691 562,753 1120,675 1195,299 1292,84 657,812 1344,185 1170,317 1218,182 1343,367 784,709 643,815 937,643 636,771 1176,237 607,741 1330,330 1370,159 627,825 1319,258 1212,676 1112,290 676,735 560,783 739,862 1133,235 641,749 1261,317 587,803 684,740 1225,325 1166,168 1057,636 676,837 1159,228 680,820 1084,338 1139,395 627,810 714,825 679,769 1212,353 1009,457 606,803 1157,387 741,758 915,434 681,847 640,768 651,820 1336,177 578,794 1024,341 1178,324 1192,283 1187,383 1135,176 658,749 589,734 659,780 677,778 1227,283 1116,334 665,774 1044,521 1197,193 608,792 1265,175 1234,208 1179,300 1399,167 1053,399 1117,342 571,844 1187,390 670,823 602,793 1146,669 1167,197 621,731 1244,559 678,812 1304,231 605,790 1005,313 549,847 596,835 1278,242 1120,377 1291,277 655,758 1149,358 1101,340 1189,175 1300,663 769,737 1200,262 1197,601 1064,271 1207,499 666,800 1207,263 1238,269 1080,243 1069,355 1216,343 1233,768 1089,353 1232,216 648,836 1079,346 1221,243 1165,228 504,771 1103,211 1238,325 1246,280 718,767 1016,324 1219,227 684,801 647,796 1328,361 1274,204 1218,235 1063,303 1126,355 1180,230 1173,226 1120,287 628,808 1264,287 620,762 696,724 1218,337 669,763 1191,253 1176,294 1055,377 1214,347 709,779 1323,687 1149,317 1298,243 1078,698 1184,405 1162,290 1155,271 1228,300 1454,99 1145,341 1272,347 1159,277 1257,346 655,769 1354,274 1218,199 714,762 1128,291 756,675 1056,278 1196,326 1188,273 1257,244 1219,330 1148,381 1210,225 1155,292 609,861 1180,296 593,755 1112,301 1122,185 505,837 1172,610 609,779 1246,249 1189,214 1199,210 1191,333 1150,567 623,805 1126,263 1238,247 1133,249 604,816 641,758 1077,584 1260,272 1253,252 595,749 1232,372 528,807 1258,309 575,838 571,784 1237,319 539,790 1144,198 617,833 1136,219 1024,683 1188,270 1219,326 1222,311 738,782 1153,272 746,751 629,743 609,828 612,820 1135,357 1284,260 1188,187 1186,227 1267,347 1221,388 1076,260 764,788 1182,628 574,820 1077,191 645,753 1202,116 794,780 1203,688 668,779 1224,687 694,765 1103,681 1061,317 1102,314 729,797 1178,557 1276,291 1060,219 1040,241 1070,693 646,759 1116,552 1216,241 1168,262 1308,366 775,765 1146,366 1256,203 1082,519 591,707 1138,271 710,764 1153,332 644,763 1180,251 596,766 1156,287 1139,253 1195,271 1097,345 1153,257 1124,397 616,784 1266,223 1106,301 659,766 1124,314 1269,226 1114,486 1161,646 1151,306 650,792 1281,366 669,812 710,786 1254,230 714,772 1144,313 1263,203 1143,269 1123,213 1057,300 728,771 637,834 1116,361 1134,292 1332,258 999,422 560,843 1191,235 1120,246 1111,343 662,746 1251,334 1243,287 1319,245 1213,307 1241,230 595,790 1279,325 1051,225 1246,172 1170,345 654,808 1184,343 1073,212 711,845 1025,697 1097,245 1111,396 670,820 573,813 1246,712 1025,243 1371,116 1124,553 1154,589 1113,214 1237,611 1211,288 1269,292 1241,241 669,801 1219,140 598,698 716,725 709,800 1200,772 619,866 1129,593 1181,205 1191,234 650,696 652,797 1146,221 1210,330 809,762 651,749 589,711 1150,590 1064,321 1123,321 1056,307 1161,320 693,773 1232,242 1169,199 1325,314 623,724 1190,305 1224,258 507,836 1177,261 1232,260 778,674 1191,276 1166,352 669,809 1194,274 1186,580 1111,308 1227,263 1211,214 1316,208 1187,184 1200,173 569,804 1290,292 687,764 1239,330 1262,225 1112,584 1205,204 718,816 1230,332 1110,307 608,852 703,753 1243,302 1212,240 1281,217 1133,566 732,793 1174,381 1196,356 719,816 1262,269 1247,305 1189,353 581,740 1052,483 1177,236 1104,266 592,827 1105,264 1219,337 1249,246 1188,234 1112,603 1058,338 1101,283 742,815 1358,219 1174,299 655,844 1138,302 1212,316 1296,140 1178,685 1171,386 627,797 643,827 1143,186 1284,199 1261,186 685,710 1275,314 1156,274 1186,215 1308,339 1123,536 1130,285 1247,611 1069,271 1295,246" fill="none" stroke="none" marker-start="url(#mCOAD)" marker-mid="url(#mCOAD)" marker-end="url(#mCOAD)"/>
<path transform="scale(.5)" d="M1083,353 1032,497 639,814 728,908 611,894 1041,703 1021,849 1011,798 1016,710 1035,794 732,845 600,866 1056,829 979,504 761,909 981,500 968,845 1079,647 1046,509 668,821 710,842 688,868 1034,745 1108,748 731,814 1153,428 1042,507 1033,770 744,800 1017,776 1013,350 692,824 942,508 671,878 1173,771 1072,837 1056,666 1078,736 1066,795 998,764 1059,457 586,837 1059,849 735,808 809,806 825,731 699,842 1021,406 1094,411 1096,726 714,862 1184,414 1058,760 1068,891 1051,504 1093,756 1069,433 643,801 955,621 796,853 1171,405 1041,850 1100,406 1005,805 1155,363 703,809 972,509 1066,435 1138,754 1116,748 1075,716 995,457 1060,814 749,790 705,750 988,446 1021,711 761,777 1138,793 987,477 1032,464 703,754 608,834 1052,572 996,852 1009,368 699,813 1094,416 1070,395 698,793 1062,766 1057,720 643,828 736,827 1103,737 794,755 962,938 1080,450 1013,374 1031,529 1159,776 1101,784 980,559 668,787 713,830 1051,697 1041,746 1097,391 1019,797 728,848 968,782 1022,724 1001,668 1078,454 1133,708 616,832 1048,342 1023,493 989,476 698,835 1064,502 1034,775 1032,766 1027,424 1007,715 957,452 737,810 964,511 650,796 1073,599 1010,832 946,469 1103,408 1028,412 720,805 1035,762 1035,883 694,797 1080,806 712,788 722,838 761,688 1070,756 1015,780 659,851 1053,730 578,707 1099,416 630,889 790,858 1013,775 737,834 1055,438 1055,836 539,864 1016,692 1022,696 674,784 1140,739 669,755 777,800 1021,356 1015,804 950,883 949,517 1120,714 1002,768 1147,429 676,772 681,794 1042,711 977,800 1016,418 706,817 1130,605 999,516 778,742 1059,549 720,799 638,817 1036,535 1101,800 1099,378 1014,762 685,736 1083,641 969,426 618,820 982,793 804,747 946,732 1062,664 1120,565 761,808 747,786 1099,747 574,813 1076,464 1047,464 1036,447 662,828 1038,395 675,818 995,421 662,807 662,870 1035,819 1137,382 1029,497 966,755 651,811 1030,817 1000,694 585,872 726,829 1031,845 670,812 743,829 559,765 720,819 696,854 992,682 770,807 1002,428 1056,432 1090,765 742,779 579,828 720,855 1137,694 1039,832 707,804 1141,782 960,688 779,909 1101,747 1095,759 1082,468 725,757 1021,817 734,872 767,786 1110,357 1008,559 1095,748 1051,437 993,453 1092,467 1013,385 1112,354 1065,755 947,765 608,809 1056,481 1005,698 1084,781 1004,847 994,707 1017,475 1042,471 785,845 1008,795 1016,380 1071,766 1070,466 689,818 965,669 1088,376 712,848 713,821 675,865 735,803 562,907 1010,802 988,532 979,744 1024,471 666,844 686,794 1118,735 701,819 1085,790 661,794 702,770 1068,513 746,881 1021,855 716,825 764,755 957,703 1132,464 682,835 1077,704 1030,527 1030,795 728,779 1107,644 1023,753 704,846 1065,477 673,830 700,843 1022,470 1094,541 1063,674 1069,470 974,536 1107,413 1116,408 1094,476 941,330 614,780 627,773 639,815 1040,454 670,882 1050,657 604,842 1071,415 683,794 572,857 1079,468 1081,687 1036,648 959,468 641,888 771,760 1075,508 1010,474 1010,517 660,834 673,729 1029,744 1129,774 1094,515 1050,662 1036,721 1122,674 1025,472 990,649 1136,717 1099,425 1074,462 1049,475 942,790 836,789 960,786 1011,458 771,850 663,775 1111,807 699,861 631,869 1060,434 1092,840 818,674 1081,725 1054,843 1053,816 702,796 764,761 1084,513 1114,436 1101,702 675,793 702,822 626,837 1006,489 1052,448 640,835 690,897 1021,837 677,864 1009,707 1051,582 1059,898 781,795 1129,834 642,881 976,764 1063,440 1093,399 739,737 929,839 1012,482 666,863 731,838 741,734 806,757 1051,298 1051,746 662,851 1070,779 1070,469 959,729 695,819 725,844 946,728 1031,494 1099,406 1030,786 1058,741 689,832 689,790 973,758 1106,675 1066,415 734,754 1018,372 1016,669 1010,518 958,705 794,755 1008,496 1035,854 1074,727 722,826 591,857 753,760 1025,510 1076,664 1038,786 1048,414 1039,832 676,740 1087,405 1034,741 622,797 1066,716 1082,478 1066,477 1122,803 953,447 721,879 762,805 1044,691 1027,520 660,825 1034,725 971,467 958,492 1089,381 1083,460 1135,354 638,789 685,829 633,837 1054,395 1022,431 1043,434 1001,396 660,794 1014,737 1118,511 1101,781 982,904 797,742 1020,481 676,820 1024,817 1026,476 994,843 742,790 952,825 1030,819 1108,771 950,570 1107,525 693,773 1054,832 612,848 653,802 765,777 1027,451 706,741 770,706 774,796 1096,789 1148,723 1077,330 993,793 1063,335 1149,676 650,767 1058,658 703,779 1111,762 1020,531 1026,528 1094,476 1046,466 817,756 953,765 1056,785 1027,443 1094,419 1211,688 1059,514 717,820 1111,429 775,764 749,797 742,833 755,797 1000,478 725,855 1043,712 1005,775 716,870 1042,743 1002,762 1047,451 1099,294 718,835 1068,645 1128,452 1076,722 588,800 721,820 1036,541 748,747 945,885 1060,859 1058,429 1060,540 1098,599 1127,441 1077,670 1061,728 975,651 979,473 746,804 972,677 1109,382 957,778 947,481 1068,404 1120,477 1042,529 1070,471 1059,816 1115,469 706,778 735,815 1121,679 1000,553 1051,358 1029,632 1024,483 1071,655 1113,453 1007,459 1116,380 620,833 734,856 673,829 1026,458 594,863 1118,744 720,795 1052,388 603,940 1035,382 1006,822 784,808 1025,831 1097,620 795,941 1019,908 1020,477 1084,739 1041,536 1087,293 693,789 1101,372 1046,721 1040,746 1037,766 1037,428 959,795 1066,482 702,800 1039,875 1100,414 615,806 1013,501 1038,751 1039,381 1089,283 1021,783 1100,651 1002,807 1011,423 1147,635 1156,683 1046,439 686,828 996,696 995,705 971,543 1017,674 763,836 995,734 670,780 984,730 717,835 744,810 638,858 1099,387 1016,771 1131,387 943,864 626,874 629,833 1035,828 616,775 1023,868 978,822 1009,915 581,821 1154,397 1069,543 960,431 730,831 1057,603 1139,745 1034,433 1064,719 968,669 675,784 766,751 970,502 1020,782 1054,370 717,885 1052,438 694,856 1130,717 1041,415 641,829 691,831 1058,443 937,483 647,799 1128,721 1105,359 1054,548 1031,520 1040,481 692,806 1050,843 1020,780 700,779 1040,726 727,895 1107,676 1069,453 1069,379 982,789 570,776 974,465 1110,810 1003,413 529,831 1082,807 1045,475 1076,778 1012,753 794,799 730,814 827,843 1070,405 1113,462 1018,520 657,781 971,781 748,785 1018,717 1135,397 1133,442 1010,527 1045,779 1133,449 1103,431 1097,491 1121,721 1137,468 691,837 1101,628 1040,442 1040,681 812,750 970,438 689,830 1020,609 730,768 1067,424 978,538 1100,795 723,812 1058,816 789,819 724,791 1100,382 1101,467 761,817 1053,783 802,805 1033,633 1079,736 1022,466 665,802 1042,429 983,468 1026,466 1137,683 1130,613 742,790 1011,779 770,853 720,831 1079,788 662,854 676,898 1056,503 759,787 1107,512 1055,529 1017,742 1047,400 1119,637 607,845 731,851 1014,730 1082,865 613,860 592,933 541,769 1077,733 685,731 1036,483 962,453 978,845 1047,860 1124,346 1041,455 1070,384 731,802 1136,787 1059,681 743,823 755,802 1009,422 1055,850 1053,795 1082,727 769,787 998,833 673,813 946,616 1046,488 698,861 1057,492 1017,748 1052,719 711,831 1146,825 656,834 939,802 1047,448 972,781 1115,488 674,801 1024,748 1026,774 967,496 715,795 989,560 770,758 661,824 1133,692 697,848 737,740 1113,828 681,835 617,855 1037,777 691,892 1057,791 1017,803 950,708 1033,664 687,828 1098,434 725,827 968,662 669,813 1032,705 715,772 743,730 1115,793 708,814 1038,815 1095,753 1108,691 682,773 746,804 1074,587 742,880 997,430 1117,615 726,803 1031,802 970,773 718,875 741,816 714,795 655,788 614,866 723,821 741,901 657,792 1090,650 1234,235 1043,712 1083,401 969,441 799,784 1059,469 653,883 980,727 1074,778 1034,480 963,734 732,711 1080,728 1004,788 778,793 754,828 1137,645 778,772 700,881 647,825 1075,411 1034,478 1089,434 1100,464 1123,431 1042,592 1035,793 1079,782 1159,752 664,792 1089,516 733,842 1093,663 774,754 1068,867 1073,721 1114,626 1063,793 713,780 779,823 761,783 1008,759 1053,347 677,717 1104,440 1065,361 1026,787 1065,482 720,841 785,745 738,763 1020,418 1111,658 762,795 1019,388 583,784 598,850 1085,404 727,743 1113,770 768,809 628,791 941,791 760,754 714,749 1038,817 1050,426 654,764 817,821 989,727 1037,823 955,499 1080,735 1143,656 986,496 1147,661 1183,758 1156,564 1091,458 1059,755 785,726 1022,802 1036,417 715,811 1098,435 685,808 1174,439 1095,482 1126,729 990,458 1079,777 1003,498 740,829 979,510 946,806 1073,736 702,834 1097,455 1030,502 1121,314 1031,784 964,486 760,796 1037,437 1144,734 639,783 992,504 1106,771 1074,412 729,850 769,799 963,893 748,839 1077,744 791,832 1051,486 1061,362 1004,677 1033,488 980,490 626,809 700,727 997,433 588,774 636,859 1033,735 1053,856 757,818 672,835 1063,710 1027,711 1094,733 966,831 990,779 732,835 742,855 1050,632 732,831 969,453 1090,403 1060,884 679,813 673,844 749,818 1071,791 693,803 1007,805 1078,711 1161,906 1101,487 1127,647 1053,424 624,777 989,757 1019,798 1138,734 1084,376 938,814 1124,493 628,849 805,718 1063,771 1053,453 751,785 749,810 1014,736 695,815 1123,354 1022,822 996,697 693,853 1059,700 746,742 769,781 634,778 1045,609 1084,747 673,823 647,712 1007,670 1040,682 1103,441 1043,875 1067,522 985,500 632,862 1120,448 791,701 740,747 630,861 959,740 1098,506 1018,766 1064,510 967,796 617,876 1040,637 1031,780 1089,884 987,723 1014,360 823,708 1166,681 1030,863 665,753 1038,388 657,799 653,773 946,864 1031,747 998,705 617,896 1075,811 760,770 616,797 689,874 645,881 689,908 989,750 666,857 1019,480 594,821 671,715 677,821 665,816 1031,530 632,851 1021,744 1002,466 1010,761 1051,480 1123,684 1010,628 638,847 655,802 668,859 640,847 742,864 777,825 713,857 820,800 1163,366 799,794 946,473 716,769 660,839 942,810 1112,768 973,429 1000,731 758,807 987,702 1123,697 1016,779 1163,594 991,867 1080,373 717,767 733,746 1052,737 958,402 987,783 984,826 707,722 1110,669 1119,401 638,848 1072,349 1048,448 1068,650 682,784 1044,419 839,772 1003,651 1073,492 1008,442 1024,748 717,780 1001,822 707,801 992,385 960,570 985,651 1095,745 993,770 713,778 1014,468 697,796 985,746 947,715 1015,372 1044,782 945,487 749,810 639,763 782,780 1056,699 726,780 1027,496 1046,281 699,794 1066,528 707,816 1070,854 696,710 980,473 1061,821 1051,824 760,790 1057,786 980,616 662,803 615,883 1096,428 1122,650 1058,735 655,812 1093,419 684,786 681,771 1168,420 1025,743 1062,447 816,821 1108,840 1058,546 810,829 1018,804 1017,361 985,883 708,821 1070,829 601,783 1091,429 999,722 1033,788 1072,514 682,851 1105,789 709,749 1083,754 940,781 1038,422 650,851 1029,739 1014,527 1047,793 989,780 791,758 1074,382 687,850 639,838 1059,752 1043,715 1006,840 1149,758 1010,454 1090,716 984,464 1069,650 1129,405 669,754 678,775 695,871 637,869 704,817 1076,733 967,531 1194,667 1086,546 1067,658 729,881 1106,812 964,676 1082,709 1079,513 587,831 1127,368 1060,336 1073,684 648,754 753,799 1042,634 970,793 955,727 1044,403 1041,719 1060,455 984,458 689,838 977,760 1061,685 1122,733 1079,451 994,548 1068,705 696,799 1093,483 1018,774 978,803 589,913 1202,452 1082,322 1114,825 1078,492 1168,711 976,461 654,775 696,797 692,797 613,836 738,814 689,789 680,853 1092,680 1054,419 1049,691 989,808 999,674 719,863 606,808 1032,495 1121,370 765,849 933,561 967,752 957,846 1103,312 1054,741 756,912 1098,795 712,850 712,797 651,809 626,795 652,828 726,837 742,841 1143,736 1111,727 705,835 514,837 1035,350 990,506 1135,400 1059,686 690,825 960,698 688,779 1102,815 988,914 544,825 708,843 609,808 1056,786 1049,431 1105,448 1149,829 962,764 576,840 1025,896 612,838 1042,358 1060,384 610,804 710,793 1026,729 996,585 1040,507 1087,588 973,474 1077,349 1112,624 1070,493 1071,476 634,783 708,884 689,837 755,767 1003,796 1041,697 673,753 1007,507 1067,680 1027,753 1006,683 1007,472 632,879 974,453 658,900 779,880 1087,750 997,804 1000,468 691,801 710,868 750,807 756,817 1023,727 606,852 1077,728 1097,738 1040,735 1058,404 1028,908 689,756 715,802 1005,527 650,796 1096,543 800,764 1043,747 1075,445 668,872 724,798 1025,484 780,783 1065,388 1053,464 1065,811 1045,765 1006,430 1106,816 826,796 747,734 1027,826 737,776 1048,464 993,428 629,851 611,835 1054,727 976,419 707,893 743,809 1075,386 1010,528 1084,376 715,865 637,822 692,849 970,453 898,740 691,848 974,367 1142,429 1056,546 1064,730 674,833 1025,504 677,796 1029,695 760,773 1090,493 981,515 979,726 667,777 697,774 671,808 715,802 720,841 712,833 993,488 729,798 753,819 680,822 1126,411 672,806 1056,824 1115,765 1132,696 1130,732 707,745 1141,382 672,690 1148,796 615,741 1136,425 1055,455 1110,838 1128,778 1073,834 1036,719 743,707 958,538 1069,627 992,746 1036,450 1081,453 712,828 718,809 1001,797 1040,426 1080,541 974,480 995,466 1044,403 1143,478 721,787 751,837 744,799 1185,699 954,680 1104,403 1012,383 670,704 771,746 734,699 1072,665 999,498 1018,469 1100,311 1068,461 988,761 614,821 707,866 1096,713 789,770 740,763 1012,535 1097,707 1011,750 630,811 1062,742 1040,418 662,799 750,764 1018,409 1089,349 698,802 642,766 1025,500 969,704 1089,531 716,826 774,775 1005,514 618,820 612,810 1077,477 684,792 721,757 970,725 1167,604 769,785 1039,493 1038,418 1095,777 1130,886 1060,473 744,815 1029,436 1037,354 1093,454 1106,400 1040,778 1003,765 690,806 928,515 613,906 1063,607 857,774 1127,449 720,872 730,801 1004,763 978,373 1087,437 1033,755 1115,274 774,793 1009,599 941,552 1144,464 1052,498 1001,473 574,809 740,844 1108,706 679,838 1030,419 767,742 1115,412 1003,413 760,824 723,844 1078,711 647,735 1034,443 1086,445 936,725 1066,697 1087,631 973,396 656,751 1058,729 694,771 677,739 998,777 1000,473 1025,454 1103,705 1036,382 1058,734 796,790 1036,755 686,791 1025,808 1027,809 765,782 1028,780 988,464 1014,492 1014,853 1032,508 1078,742 639,799 1024,384 743,792 1087,677 742,748 992,718 1004,779 1019,753 667,827 1001,783 818,782 808,779 836,793 753,775 1040,785 1013,425 1006,875 1053,535 1043,495 643,723 805,827 901,770 731,752 1023,473 1097,802 1051,755 1010,476 995,825 1043,490 1144,756 1140,449 645,840 610,793 661,866 623,829 1051,389 718,736 1085,459 1003,555 570,901 1131,679 656,838 1017,753 978,417 1097,334 1004,595 1084,713 1049,480 1103,767 729,827 633,811 1017,798 783,819 767,831 709,801 1103,646 1062,503 977,751 1062,494 979,863 1047,434 1056,844 678,847 977,688 754,798 581,859 946,505 1047,895 1020,815 1036,467 972,831 1083,413 642,845 1036,811 1122,745 770,836 1077,428 602,832 1000,660 1133,884 1123,356 1079,450 674,804 674,863 752,841 1162,609 1003,737 1066,496 740,786 653,865 1075,493 1044,651 760,884 1084,499 1053,798 1104,438 972,328 1096,684 986,787 635,828 560,795 1030,828 736,806 1031,797 723,804 1063,349 713,754 975,564 1222,733 1084,732 1050,452 1068,370 982,551 1059,723 1056,499 1063,825 1069,402 749,808 675,818 678,839 950,443 934,931 1153,501 740,766 616,858 1046,604 1071,431 1122,782 1039,844 1016,434 1037,783 1078,381 1009,806 954,818 1080,395 974,681 677,772 749,788 975,759 1090,396 1004,466 1134,645 1129,356 1039,498 654,831 1005,826 666,809 1018,551 1202,754 1133,484 650,903 1079,840 1044,470 625,758 743,839 1054,436 716,804 1111,714 1158,389 1024,787" fill="none" stroke="none" marker-start="url(#mLUAD)" marker-mid="url(#mLUAD)" marker-end="url(#mLUAD)"/>
<path transform="scale(.5)" d="M682,835 804,756 669,704 1005,725 1042,792 749,722 1039,336 950,915 760,753 708,769 1030,426 965,605 781,773 1031,437 972,617 1040,419 685,711 769,793 771,810 923,710 812,717 662,778 1122,461 1009,481 979,443 1086,365 743,821 983,409 715,786 782,785 758,672 812,721 694,693 786,770 1063,452 676,733 1046,275 998,373 580,729 1091,391 996,624 1091,715 743,671 821,743 1004,512 992,684 686,802 1005,778 660,786 1109,396 982,757 801,738 757,696 873,796 1137,796 788,823 1002,543 746,789 1041,499 665,773 769,714 787,795 1160,425 752,809 670,808 744,775 979,382 947,810 662,745 672,793 986,398 749,861 813,829 1021,618 745,879 815,640 1053,440 737,778 1033,785 1100,416 1000,426 752,790 760,739 985,738 975,368 976,434 738,794 918,655 1042,404 1042,505 1007,403 999,416 1062,399 991,759 817,779 945,304 1013,495 768,765 1051,405 1135,314 996,639 989,475 798,812 1032,695 736,836 697,782 1070,421 1070,470 1102,761 951,644 1067,449 1048,674 776,760 969,673 1014,740 1065,770 1038,549 646,820 1049,677 742,752 1044,810 729,757 715,819 1045,739 1048,634 1009,371 611,818 717,787 1033,369 1129,445 771,718 793,753 970,448 759,835 737,796 683,765 1022,794 1081,474 682,821 719,819 1032,401 1076,421 1093,706 996,727 701,842 961,496 718,726 1019,341 723,729 968,733 1057,443 743,794 975,738 817,768 791,787 711,823 689,793 675,761 792,780 980,472 691,780 783,777 781,782 962,514 1022,884 749,710 682,783 989,449 648,809 949,725 693,811 1077,301 1080,396 770,759 1067,696 761,708 1005,469 940,723 1065,402 977,506 1070,605 1064,284 1027,369 1028,687 1020,649 701,777 1053,731 998,655 663,801 792,758 998,632 710,702 984,817 1049,419 782,816 693,761 1065,481 742,806 700,768 795,813 784,784 1026,399 1055,430 734,802 1036,382 766,826 1049,371 700,823 980,355 1059,570 687,789 1028,479 959,685 688,780 1074,358 976,374 977,389 995,511 1003,802 710,732 757,732 739,822 1117,419 1027,358 757,770 1054,397 784,790 1026,669 982,797 787,765 693,731 785,772 672,825 977,735 646,782 788,709 1045,760 665,803 669,778 1131,411 1037,395 989,680 1087,390 914,705 1100,252 1131,498 984,469 1048,404 1121,384 759,807 720,826 1006,704 935,780 739,757 1054,314 1030,737 763,723 1041,346 767,810 712,685 1017,707 645,792 954,432 1122,402 944,402 727,833 762,752 729,737 743,719 997,374 754,718 687,781 804,649 945,709 999,798 736,843 766,764 1009,409 665,837 977,544 1004,769 731,718 991,378 999,427 709,804 937,797 1019,660 1013,457 1055,390 768,788 730,804 751,888 1132,275 913,759 987,489 1037,399 1064,467 688,782 976,496 788,784 704,755 840,760 786,708 962,838 954,345 1054,698 794,766 974,475 1053,378 749,772 1035,728 758,861 1033,800 798,782 806,808 1074,738 1021,569 708,749 809,695 975,718 1037,330 761,746 762,766 743,823 734,760 768,748 996,401 1078,415 935,404 1022,837 1007,463 697,840 762,873 700,826 733,745 1112,309 1069,217 995,680 726,783 786,742 1005,403 1079,368 999,508 1040,465 737,752 661,794 1017,634 1027,660 1019,292 723,740 999,770 702,764 1083,431 1018,489 925,653 1112,289 793,799 727,720 751,728 1109,659 1092,317 1024,411 772,793 1114,400 776,777 936,877 889,743 649,728 1119,367 695,852 700,810 722,725 650,741 941,522 1084,305 1004,435 745,774 681,740 575,855 1069,394 774,859 769,791 747,792 1085,742 1046,412 996,404 1018,429 985,657 952,685 739,697 1071,348 1026,446 690,617 848,697 1003,459 1018,358 654,799 647,852 772,740 1095,483 1013,839 960,449 1063,341 1041,416 1017,851 935,695 1078,779 1037,437 997,320 1065,396 1058,456 1021,340 789,773 976,523 953,410 575,868 932,524 1080,411 791,836 1035,470 1015,667 978,456 1008,503 1035,752 743,704 754,735 769,772 731,804 1090,321 1063,302 741,697 692,793 1079,444 1048,394 713,771 775,794 659,888 1026,398 668,753 696,702 1104,366 790,781 1002,818 987,699 751,797 1072,636 1026,761 651,802 780,755 1007,290 945,586 1111,407 1069,456 642,850 712,819 1014,765 1028,653 1017,638 1042,500 809,721 714,756 744,785 1068,801 1065,761 1119,324 1018,700 1081,648 691,813 701,812 747,809 1122,728 802,765 724,809 748,616 715,711 754,809 931,692 985,492 1008,503 1036,386 1008,349 1053,578 1018,352 661,767 725,761 793,797 758,742 986,404 754,756 1048,379 987,434 714,773 687,745 1025,606 718,792 683,765 683,826 726,733 674,898 963,616 1029,702 778,767 802,758 949,789 1081,652 942,570 763,827 714,868 730,759 1070,360 632,822 974,358 688,798 773,769 1053,783 787,698 710,852 1040,454 755,788 920,848 800,784 1026,838 1042,677 737,738 980,471 689,765 1113,800 948,344 947,401 751,778 696,758 695,729 718,708 900,525 1000,856 960,803 781,836 757,754 777,737 1011,593 1015,429 1071,416 767,768 979,433 699,815 1052,648 1024,634 951,823 819,811 999,441 1043,477 1020,544 794,842 717,818 960,371 778,781 1024,440 803,769 960,479 941,749 692,786 764,738 820,796 1061,403 792,830 1048,687 1036,698 719,872 1107,267 791,728 1018,418 661,818 1115,652 822,726 735,761 746,740 782,751 760,672 946,367 785,764 776,774 808,736 1078,434 978,496 696,760 728,843 1111,786 681,766 1006,727 933,723 1012,743 950,387 736,733 991,834 744,824 813,750 703,716 714,684 788,787 728,794 1103,361 1094,520 1108,317 1068,356 766,787 1103,406 1004,463 966,377 1022,696 1081,450 808,746 1086,445 1044,420 628,746 692,818 940,729 1012,483 634,791 1168,331 1004,473 993,424 1094,309 952,515 1026,531 648,799 1066,342 1019,585 1106,723 1053,402 752,754 1014,414 786,754 958,474 983,427 1011,404 724,744 702,814 709,711 832,790 957,768 1001,383 1057,328 734,804 1060,303 702,832 1127,395 767,749 710,776 995,420 1059,475 1014,413 567,863 967,790 872,722 1149,760 1071,419 667,711 1020,765 984,498 1032,639 1074,356 1019,709 1039,397 1103,491 819,795 783,677 993,794 707,738 709,746 817,727 1095,378 718,813 1017,257 1102,356 824,760 992,727 717,738 734,742 939,427 1083,294 1027,428 721,765 991,657 671,757 1044,434 1129,437 1005,352 711,721 935,355 690,819 983,517 757,737 806,736 1008,452 1051,802 1029,777 811,778 996,684 746,710 994,416 1016,424 820,741 853,722 786,777 957,787 1063,388 943,606 836,778 1043,356 1064,564 1031,367 729,831 1044,491 782,756 1094,663 1074,383 1034,356 796,745 1040,753 812,768 815,733 980,751 715,820 623,866 1061,769 1051,402 1025,352 987,573 1091,678 1030,834 992,685 1038,402 804,740 1135,380 954,811 1023,801 1010,726 739,772 1004,382 715,768 1030,508 703,735 781,719 787,727 842,562 1095,536 721,772 719,794 837,764 972,778 1002,440 742,817 718,817 1032,437 698,738 675,768 1017,463 668,861 687,787 767,727 1011,478 792,708 1042,399 735,760 745,750 883,718 700,762 742,780 1155,401 714,788 1013,402 984,383 1053,445 1031,430 685,811 718,738 680,710 607,876 1074,717 987,712 668,766 690,799 657,804 1084,452 1016,720 909,688 1018,814 779,755 777,788 817,736 1150,332 941,733 842,812 727,759 744,751 995,348 1050,489 776,724 942,476 997,761 976,812 1024,704 794,667 948,683 735,784 977,368 778,805 1060,405 815,727 707,838 1075,386 755,825 672,748 998,729 995,471 960,772 980,394 791,820 841,758 983,450 1031,654 988,815 974,459 1103,438 1041,458 968,699 1133,422 707,738 1014,382 987,416 808,719 950,437 774,774 819,750 1065,603 947,312 678,789 1019,675 1063,297 1074,414 762,791 732,789 1119,373 1008,716 1047,423 729,798 747,812 769,767 1098,517 1077,308 1040,394 961,428 1034,344 743,758 1011,754 799,794 1045,423 672,893 677,869 748,772 736,779 1093,574 729,730 1082,353 1011,392 770,818 997,707 826,703 1009,680 1005,396 637,795 716,728 737,741 781,747 973,405 994,825 1081,399 944,749 1034,434 943,454 1071,422 803,753 659,786 756,800 796,797 1007,749 997,405 1033,367 980,421 954,735 752,684 1057,339 684,793 732,758 1045,702 1003,530 1069,443 695,719 1026,336 1003,341 836,765 1017,459 968,813 1050,746 1068,464 654,716 712,740 836,656 775,784 982,507 746,742 1069,524 1075,431 1089,656 787,777 685,723 816,652 962,692 958,648 957,594 696,764 1122,298 787,812 752,771 719,758 785,777 1054,756 947,442 704,764 1073,378 1116,639 1087,627 996,490 776,819 1113,701 1028,383 763,864 817,717 977,475 998,722 963,792 972,667 698,754 1063,671 796,690 1042,465 946,451 715,786 711,716 677,706 741,786 811,694 696,724 620,760 1047,665 1086,336 987,568 827,724 1070,756 1041,701 627,674 1049,384 734,833 593,814 699,784 735,849 974,737 749,822 1052,719 954,781 984,698 732,767 704,733 742,723 999,434 1070,414 832,788 999,598 719,796 692,806 771,811 1030,315 995,758 1021,703 962,309 848,753 1009,407 951,449 731,801 1068,375 774,655 785,758 754,727 671,855 1061,356 654,761 1013,433 821,763 632,783 918,808 796,767 802,816 646,812 801,760 735,737 1036,398 790,714 1075,482 661,829 1007,443 971,471 1049,859 1102,347 791,769 722,820 705,714 707,816 800,810 700,790 632,748 1054,304 723,775 973,794 1107,693 1031,766 1030,772 974,882 976,728 1097,318 957,469 689,777 755,796 1028,629 1002,438 754,693 947,284 710,818 1051,436 747,781 1059,473 720,833 773,766 964,394 810,767 1058,736 745,768 777,791 1053,432 680,847 656,794 758,768 775,739 1023,458 815,684 776,815 803,784 681,814 1000,684 1045,397 1080,770 1009,560 1148,408 662,744 792,799 1001,379 991,702 954,724 691,872 993,374 1040,428 719,770 816,699 975,674 1004,390 983,392 953,770 732,791 1027,773 1012,397 1038,307 708,783 790,748 952,418 1003,422 1159,630 925,698 979,712 964,404 850,786 1018,365 771,699 1018,514 716,800 1051,411 676,768 690,780 769,891 825,729 696,804 1022,401 772,655 754,786 659,769 680,778 664,765 1129,410 1029,648 719,838 984,707 728,761 1011,312 781,754 744,737 1062,278 1069,822 698,717 651,841 632,762 752,764 1063,457 1083,354 1005,468 1104,400 985,806 1076,424 975,523 995,639 747,680 1060,490 997,497 972,439 1076,708 957,737 1013,312 1044,418 771,735 808,742 996,468 797,743 988,511 763,703 1091,681 699,779 1023,762 1005,760 767,845 1067,397 689,815 1050,373 962,692 1052,447 1084,542 1004,345 997,572 1054,742 1090,433 1050,757 1088,727 966,794 1019,754 1038,407 950,431 1004,490 1069,412 950,726 669,833 1042,357 717,853 1012,530 1043,833 727,831 1141,756 770,709 726,726 1029,418 719,686 633,809 1003,610 997,356 998,723 641,792 998,753 735,696 682,730 927,445 1061,424 715,766 1024,351 1066,743 796,724 1006,400 751,824 644,822 733,774 745,784 976,432 1051,301 700,831 972,406 658,804 962,828 1077,434 759,770 715,739 744,727 782,785 1112,387 797,800 1005,690 952,460 709,721 1040,334 1037,525 1027,683 720,786 706,786 717,777 957,749 677,739 691,807 1014,411 1024,658 1055,421 784,740 712,803 711,792 839,660 995,454 707,782 792,714 749,722 1056,606 770,733 1136,321 737,717 1059,610 1075,705 971,407 1032,427 1087,341 783,829 725,768 984,797 758,754 702,737 1005,716 638,826 1125,701 934,510 951,846 954,526 1049,750 758,737 637,822 791,735 810,655 1042,368 993,327 1055,786 976,808 1063,756 936,786 785,740 726,829 665,728 663,767 806,821 1040,695 937,473 733,781 1052,648 1055,421 655,750 825,769 688,779 982,801 748,739 648,791 630,792 950,443 1089,655 988,702 1014,516 993,622 785,799 696,823 974,473 1031,439 1077,421 1059,400 797,776 1044,611 731,826 781,725 949,436 736,781 755,771 1031,644 1029,496 1033,874 1037,458 1036,789 1163,342 765,766 702,823 629,733 696,762 696,768 784,848 638,778 683,763 684,796 949,834 1050,410 984,761 756,723 724,820 1058,437 982,782 682,696 984,768 1136,342 648,704 748,867 1085,356 1015,747 1031,364 1022,364 806,784 1000,361 762,707 1024,798 1136,397 836,770 691,804 1052,680 957,842 1058,427 1033,678 845,689 980,692 1040,727 1040,401 1022,768 1020,532 682,861 995,752 1043,379 821,772 975,671 947,438 723,830 671,858 1000,361 745,698 664,757 989,415 1077,364 1008,685 760,826 982,376 1092,389 789,679 757,858 1060,327 1083,377 1137,753 973,472 1097,323 722,755 1063,698 717,766 1046,420 1016,422 798,834 1033,421 778,703 1081,350 744,808 781,762 1097,355 956,404 758,749 1013,787 1013,375 1006,473 778,762 630,799 1005,452 995,390 1053,726 671,772 1049,576 992,729 756,789 743,712 727,709 720,799 729,799 766,800 755,855 1054,814 1013,429 1120,413 953,605 728,758 790,778 1024,401 714,780 679,740 1023,600 1053,443 987,514 687,748 997,801 961,640 1022,734 1010,415 1042,385 752,690 1007,365 1058,726 814,720 952,661 1023,428 847,813 1069,447 1092,274 733,826 1071,356 1036,649 986,520 1097,406 1065,838 1152,628 1046,344 702,725 1018,351 933,781 968,336 814,736 761,774 653,773 767,754 1061,453 1002,686 715,789 963,755 989,767 750,813 662,812 826,704 1012,739 799,823 608,827 948,403 706,784 977,358 759,790 960,816 1058,409 760,778 661,782 1005,369 782,871 993,425 696,803 724,712 973,310 944,818 985,428 761,707 1129,424 788,772 675,774 1017,800 1105,433 1031,385 1116,581 1062,466 845,798 795,799 648,900 764,766 1090,438 950,457 748,813 990,633 955,801 762,751 986,617 955,760 990,720 1099,643 1018,813 711,766 1064,622 686,794 795,804 933,747 976,627 1084,802 950,726 995,289 1041,310 1012,840 1032,747 1085,691 1064,346 947,781 707,802 635,782 751,743 823,800 1042,770 765,805 722,760 1062,449 715,770 991,731 661,690 1035,693 721,832 988,906 939,784 683,781 940,800 1091,497 752,671 941,378 1004,415 1073,747 994,411 978,447 1053,406 1018,342 1112,290 1042,451 1011,407 761,653 748,814 1123,374 773,790 1098,359 691,760 681,756 768,772 749,721 682,752 655,684 934,808 753,710 969,820 626,761 1071,805 989,804 605,819 789,724 710,870 1063,369 1009,423 1063,312 776,767 758,792 686,800 1020,603 778,826 677,795 942,494 1034,434 744,629 956,415 767,788 1103,359 1026,462 961,805 761,663 1187,695 997,356 1069,451 708,717 763,719 1130,426 700,767 1037,334 664,810 657,784 992,565 1085,404 696,803 1004,372 1065,661 1013,382 1068,389 717,762 978,682 713,786 712,736 1024,427 988,461 750,869 765,796 777,784 766,786 954,400 935,446 1031,473 1044,397 796,809 637,808 1003,405 753,735 847,733 1003,495 720,729 1050,696 951,412 1019,323 716,812 903,666 1125,392 708,816 1051,389 636,863 833,762 718,762 770,737 1003,427 1042,454 959,415 1027,429 1099,748 1036,757 962,764 965,512 1018,329 1012,618 1139,371 764,779 1018,390 771,814 1070,469 980,437 739,686 682,773 646,835 1011,800 773,741 1070,321 735,798 961,470 1060,471 785,802 737,666 1077,765 1072,419 742,784 706,776 1103,747 968,743 934,442 672,766 770,740 1097,726 987,396 1090,734 934,482 1009,653 932,422 992,738 746,759 989,677 1014,452 1060,315 989,498 1043,364 991,605 1067,350 1042,686 759,723 1025,400 935,815 1053,307 1008,468 1056,791 995,359 772,802 809,723 952,415 1043,713 1013,728 1151,625 999,529 681,860 689,761 1004,474 706,895 781,763 1014,454 1060,721 682,855 1080,362 982,847 667,838 747,800 1040,473 725,817 734,834 691,773 755,754 954,701 992,554 765,768 992,694 1003,501 1021,703 1097,416 972,926 1012,859 940,503 775,715 977,422 726,742 1122,395 829,662 1108,394 1041,622 777,828 1112,404 654,766 997,424 790,778 659,809 1059,474 1079,710 1019,682 722,829 638,788 1035,448 1135,309 1004,665 963,726 667,702 1007,708 838,844 1111,768 1027,409 1094,677 820,684 700,726 1041,473 672,878 961,327 990,397 1025,386 752,754 1000,729 1058,389 992,449 1066,331 1030,682 758,780 1042,779" fill="none" stroke="none" marker-start="url(#mLUSC)" marker-mid="url(#mLUSC)" marker-end="url(#mLUSC)"/>
<path transform="scale(.5)" d="M556,762 602,746 561,781 1060,554 562,792 1230,321 1210,315 1249,319 676,850 1258,438 1263,400 738,777 1178,360 1239,380 1203,660 604,870 630,783 488,829 1299,342 492,819 754,740 1261,327 657,788 1173,662 693,656 1296,368 617,843 1399,359 1144,656 1300,359 1080,552 1000,790 1287,436 1184,222 680,757 1131,658 1205,704 716,691 675,805 670,788 661,826 646,774 655,793 575,759 518,797 1199,386 1215,431 522,800 690,769 1134,341 701,779 595,767 543,848 647,795 1235,528 652,815 1168,439 637,844 1401,289 655,807 728,777 609,851 612,773 1271,279 701,760 601,800 1261,553 1299,277 538,866 1274,431 724,796 570,801 547,752 612,828 563,763 577,812 593,779 691,850 1282,418 628,772 1264,318 537,771 566,854 631,794 631,791 641,809 1350,138 1202,345 1230,330 691,779 720,727 581,807 1314,358 1265,461 1278,376 634,770 636,753 630,751 1066,883 564,847 775,722 662,775 578,823 750,724 1136,550 585,862 1175,494 670,795 641,793 1168,551 1298,380 636,838 509,807 1212,360 1222,538 648,774 1130,512 1146,564 1210,391 680,590 662,752 642,763 574,815 666,849 702,811 726,788 1230,368 1189,317 743,734 757,759 646,784 603,792 1083,616 614,797 1293,247 698,733 671,773 1415,296 517,854 655,814 821,712 728,698 591,733 1335,488 1272,436 655,786 669,758 670,791 1244,345 537,824 504,795 523,825 1144,318 632,763 595,842 626,780 677,786 1338,574 1218,301 1123,751 666,765 775,783 1340,357 685,748 1218,233 1117,622 1121,479 1069,454 698,825 1260,393 1183,694 624,762 1250,300 700,736 1234,393 1088,479 1227,372 680,770 1276,487 1220,405 1152,549 750,767 1104,557 560,842 1152,300 630,751 1225,326 591,792 1064,655 691,778 1241,563 1360,304 1194,532 1186,399 821,765 594,810 764,690 985,685 703,798 630,814 1298,303 584,789 727,800 712,753 699,756 622,865 1276,309 642,798 1222,290 583,766 575,826 591,822 685,778 1194,375 1154,309 639,771 613,822 1312,182 486,834 718,793 1136,594 1268,423 1303,360 579,790 1348,283 1163,567 634,788 1184,370 1215,522 608,714 695,791 719,769 1387,250 1278,186 761,491 1169,294 1115,458 1121,315 629,752 572,809 995,796 1378,357 1137,388 658,744 572,741 1268,390 1284,319 496,747 1274,350 595,727 1287,384 1192,585 635,786 1234,592 666,787 459,816 1339,264 537,782 434,787 665,762 1228,317 612,803 1192,368 1108,809 469,834 623,744 1142,326 1153,654 785,585 716,722 724,768 703,796 753,800 597,813 1269,233 694,818 586,741 1257,449 638,729 1250,432 1308,386 1370,280 1132,549 1158,439 703,772 1332,211 1082,433 1227,531 688,813 589,830 1307,436 1221,428 579,814 1344,309 635,775 1116,717 1212,340 660,830 726,751 603,820 681,777 1194,777 582,845 1230,255 1285,166 1207,274 642,777 536,762 1288,409 1269,291 700,727 542,774 1296,237 617,810 1523,338 1141,353 771,760 594,805 1325,269 1293,705 1295,304 548,821 550,771 600,818 1113,809 1152,482 661,756 1366,135 1347,350 705,765 1088,597 622,836 613,828 1092,533 1124,720 991,722 608,770 1029,652 1260,319 678,787 645,781 773,735 572,771 491,733 1285,447 802,771 1366,329 713,810 1182,250 1060,668 760,739 736,797 762,788 1396,197 1250,445 1333,427 1353,373 720,828 680,792 640,764 1257,269 1250,424 609,770 640,796 741,800 1080,356 485,839 1261,423 1150,595 582,792 764,745 1200,374 746,766 701,793 645,746 660,763 698,846 1146,609 628,794 628,844 1322,310 1040,463 1311,256 1136,356 1260,332 562,800 1222,295 1223,211 1180,803 615,804 743,793 658,730 1211,480 638,887 1250,424 632,874 1339,396 652,776 654,790 647,815 1192,315 1243,496 689,843 1204,777 630,759 681,806 1319,271 1267,326 1202,562 672,759 594,747 594,799 566,769 626,759 709,809 1282,346 1324,314 1185,355 521,818 1436,189 747,703 746,786 658,760 1206,623 534,781 687,795 1264,407 1036,724 757,784 1345,378 640,815 1241,327 1223,576 643,843 643,818 1081,434 1043,685 1225,430 1010,677 598,769 680,739 1316,289 656,757 1219,378 515,738 1091,486 537,807 820,751 1200,307 595,821 672,815 1321,400 1207,442 1247,334 1236,397 640,795 1319,416 700,753 744,752 653,797 1126,409 1002,294 1364,349 690,737 1230,616 644,802 1356,296 1202,385 1353,556 1224,340 755,748 1115,779 655,809 1191,245 625,788 1232,330 1079,674 1359,340 589,769 1198,414 582,739 1151,511 676,792 609,803 611,736 1314,80 784,761 663,823 1285,335 529,850 1080,606 714,836 1264,615 1122,549 1171,370 1312,341 712,843 732,746 700,827 625,681 535,822 1258,461 1157,396 1133,389 1026,684 509,812 554,795 648,767 719,742 1319,377 732,675 696,818 1042,300 646,820 1031,712 696,806 1291,468 690,775 695,741 728,756 1274,285 644,784 646,812 576,774 1253,405 650,827 598,784 1194,412 1213,264 1190,434 1083,635 1287,307 566,863 540,801 1233,218 1202,313 652,792 1269,392 1272,415 562,841 511,797 1093,547 1185,404 1274,210 618,748 687,773 1184,529 715,730 598,747 599,836 529,767 722,825 624,846 602,778 1244,446 1123,243 541,782 613,826 1287,383 1195,341 599,785 1266,307 578,779 1252,394 1275,291 665,797 1281,349 1212,403 633,777 759,641 1111,467 1274,518 622,801 1150,585 1073,376 633,755 678,790 1171,315 734,806 693,757 646,792 749,743 562,772 714,713 1232,371 630,787 583,779 510,788 1161,408 1185,687 742,802 475,783 1255,266 556,746 602,770 628,743 1160,305 523,824 652,783 1330,371 1213,574 649,803 686,779 558,801 1273,267 1200,401 1156,511 1299,356 771,699 541,887 1022,568 808,761 1254,250 1292,322 1228,257 1176,457 1448,227 1262,325 700,768 1234,428 576,762 475,827 1319,502 1282,273 598,778 1326,344 1305,379 1237,357 701,834 696,745 1416,393 1219,356 579,818 630,695 650,801 1291,429 630,790 619,828 631,780 1382,266 1166,477 373,861 1325,626 645,735 1129,423 553,778 670,864 1254,339 624,796 722,723 1290,231 543,823 640,759 717,796 1150,461 643,778 1238,328 692,711 655,796 754,794 504,899 1024,648 1309,401 606,808 686,755 686,834 649,772 726,784 1178,741 654,828 638,775 677,756 651,735 627,806 1088,357 560,794 1342,329 1139,560 1270,284 1004,435 1166,597 1276,556 642,859 664,751 706,803 1053,588 596,794 594,793 715,721 1179,556 1299,480 1246,326 479,760 577,789 558,817 685,754 533,805 1172,155 1111,300 1356,285 1144,450 800,744 760,722 1170,446 644,812 1269,373 1242,423 1342,406 1092,689 535,815 1285,535 1282,354 1390,375 673,784 1332,413 588,799 608,818 656,756 1358,340 581,782 597,758 1194,782 624,789 1372,237 662,756 752,836 631,789 1238,346 1318,344 672,792 1238,366 1205,425 608,648 820,805 1232,330 1470,318 571,724 701,771 546,816 581,807 608,742 572,714 703,717 1329,277 562,802 671,806 821,566 734,749 684,760 1112,616 1369,249 1071,497 1366,280 688,806 1186,270 613,770 1111,512 1217,356 1272,291 1296,457 686,790 1333,251 713,800 562,812 1263,316 1411,262 1286,225 631,784 555,787 644,774 689,840 656,738 1296,453 1296,347 721,731 571,756 1254,348 758,805 585,786 1157,632 1257,316 646,784 1393,395 753,825 1106,411 1080,583 732,806 531,817 1179,310 656,729 529,809 1282,314 563,759 545,757 585,773 679,754 662,840 660,752 1136,760 618,830 769,763 662,745 1082,422 676,771 1058,294 1232,346 573,670 1255,418 692,792 1088,705 1297,249 642,787 695,732 618,795 489,823 1060,439 444,796 651,862 553,755 592,815 1244,329 1196,367 1334,224 1281,405 1297,303 331,806 574,810 706,798 669,756 1266,272 686,811 737,735 563,845 1144,833 675,787 1222,384 637,858 681,814 1079,494 1297,613 637,830 1070,320 580,803 572,817 723,774 727,622 761,624 784,744 787,788 469,837 623,793 803,739 1293,452 1391,163 662,771 1317,443 714,791 699,700 1033,338 749,770 712,718 1234,674 503,864 692,741 612,836 1310,394 722,838 1172,432 596,822 617,750 591,767 733,735 1245,298 730,570 1331,145 713,800 1251,232 962,417 1165,423 456,830 1001,677 1366,290 1249,313 624,709 1311,406 822,772 725,721 1285,211 659,746 1228,407 1158,280 1210,305 490,791 705,822 1257,377 698,720 1299,384 1108,378 664,756 636,855 1215,500 1172,334 557,826 554,766 626,709 1099,559 711,847 561,818 1336,214 765,751 594,819 549,818 730,789 1192,391 1230,228 613,837 1201,347 731,701 535,861 668,799 1085,373 1137,542 1098,686 1205,437 1208,677 641,780 1173,303 672,741 1166,479 699,808 544,783 1263,489 615,772 483,904 755,794 685,773 1318,335 1249,265 1312,323 718,810 553,820 537,754 610,707 1139,669 1276,325 1204,711 642,825 595,826 639,793 1296,334 656,814 1110,616 1158,649 1274,446 582,803 1229,400 1156,367 1286,233 1095,380 669,746 1376,325 1245,441 659,757 533,793 700,686 1288,351 624,750 1176,369 1342,408 1095,694 815,707 1244,664 593,756 780,743 615,747 1304,332 767,762 629,774 565,801 1148,368 1185,711 837,622 1299,426 663,785 643,754 609,834 1225,507 646,796 699,738 1269,449 1146,256 530,825 659,860 1195,377 667,762 1344,410 594,779 589,792 456,747 794,717 660,808 1186,299 1233,270 1165,344 653,771 510,892 1122,535 1313,319 587,831 1180,345 1332,281 1077,671 723,756 564,768 594,822 1113,394 593,765 1205,350 573,796 681,774 622,785 573,788 1156,715 643,827 1234,534 661,745 1200,442 1263,342 1240,421 1315,414 797,835 622,812 1305,496 728,852 734,834 758,803 597,823 1298,328 470,801 1256,265 643,798 1165,290 1035,703 583,800 499,816 635,773 660,763 645,772 610,762 1247,664 1376,325 576,723 1313,310 679,828 1186,269 638,806 772,830 1159,335 1262,360 1275,350 1238,272 1218,327 580,757 1199,328 678,819 1301,336 562,783 592,799 638,741 1127,411 1045,305 551,762 1213,565 610,789 650,775 1340,331 1308,318 1142,415 602,710 1274,324 1070,517 1289,495 1173,600 718,722 1336,308 607,817 1296,289 1071,717 1192,664 1327,255 576,806 1261,362 559,771 1108,601 646,781 583,906 1007,840 515,834 599,795 658,778 1455,340 1295,334 619,782 716,819 751,752 602,849 678,782 619,817 788,825 654,781 635,808 588,798 648,816 673,755 1202,811 767,758 582,813 805,705 1147,483 1334,314 540,815 1107,621 1266,221 1200,371 1266,194 757,745 603,820 1278,416 1234,523 1224,468 623,762 609,842 1171,361 731,756 700,723 680,778 611,759 1495,203 1297,276 744,722 697,810 683,855 1350,422 753,640 638,837 1134,642 729,798 637,784 621,764 725,797 631,723 719,636 727,746 1268,524 663,774 1251,213 566,824 638,805 603,830 1238,419 775,700 636,764 786,716 630,754 625,813 1261,442 1060,678 727,770 727,815 643,794 646,783 1071,824 805,780 1077,315 1163,362 1359,372 1253,226 737,730 645,814 713,785 1158,580 1227,358 1102,640 1150,615 1222,379 1215,345 579,826 726,781 683,792 774,723 649,842 1245,390 1043,800 635,806 1226,411 763,709 657,794 662,765 1204,348 662,836 1269,334 1131,312 1243,350 1056,715 601,821 1213,345 639,740 1341,280 553,836 1298,435 1009,762 515,870 483,817 576,844 657,794 616,818 1146,558 791,755 621,778 720,743 697,830 1298,401 1274,345 572,769 1201,397 555,778 610,817 1441,383 489,794 1122,634 1255,378 1176,366 1270,366 594,785 562,805 745,722 1309,494 1375,389 655,806 610,827 724,837 612,804 701,775 1186,386 1124,492 813,782 618,806 718,741 649,751 1216,365 671,747 671,809 707,754 590,811 681,838 601,791 1362,328 598,718 639,861 572,809 578,799 1282,290 1237,490 578,782 1099,632 1309,369 672,789 655,783 1322,397 652,768 676,776 518,809 558,775 612,819 795,768 605,782 1265,421 1253,397 1402,356 1065,738 620,796 1229,334 1300,379 1340,361 596,790 514,803 1078,449 1140,442 729,740 594,799 561,817 576,850 637,767 596,809 1145,406 706,751 1216,382 605,791 1318,399 584,716 682,758 1352,443 654,779 1219,366 1280,293 710,805 636,786 689,714 575,830 535,825 680,788 1178,580 1166,351 618,748 1199,370 1146,414 1214,503 1241,376 643,765 1292,321 1207,330 1176,493 551,828 628,780 1220,345 703,748 640,778 626,809 1186,362 758,723 707,798 1431,436 740,803 653,765 717,686 745,637 594,777 1301,335 699,839 585,716 1199,379 821,740 727,753 1163,570 1260,330 1127,513 1146,345 1310,275 1177,469 688,729 1183,302 1208,250 706,756 610,775 1375,334 1251,316 694,741 1054,783 1173,321 655,807 747,752 1275,194 526,784 1336,377 1186,406 1335,333 1179,535 687,703 1232,391 596,815 733,825 645,788 1157,328 1132,666 710,823 566,795 1283,681 513,770 1296,278 514,765 696,755 666,826 1121,421 693,820 444,855 730,732 571,786 1023,461 1267,292 565,801 655,835 800,556 1262,199 519,856 559,786 1280,350 673,795 1256,239 619,712 626,758 1214,504 1064,551 1152,593 1309,260 1124,280 626,818 1379,302 1283,477 1312,329 1370,296 624,801 1253,374 544,824 1180,429 691,814 655,774 515,822 736,752 464,814 686,778 1155,313 1343,562 1190,267 741,785 1084,455 525,799 743,733 1402,227 1263,161 647,779 656,796 694,736 1200,426 748,734 547,782 628,816 1255,296 1289,421 1218,459 1310,425 736,773 692,837 659,806 613,792 670,788 671,820 1206,365 483,799 560,783 1192,366 701,705 1171,379 1371,369 1353,348 698,807 1141,349 1091,687 1085,485 1271,278 1297,461 733,726 700,771 724,732 1201,768 627,832 1189,694 1099,637 1368,377 1107,649 652,778 1243,308 800,667 1205,552 546,857 1111,435 1076,527 636,769 668,823 677,798 694,734 586,757 539,788 1254,328 519,808 1289,111 647,829 1194,496 1168,393 828,742 1315,387 638,746 1181,661 605,764 572,783 1114,603 623,858 1154,561 604,816 745,772 780,770 706,729 1197,396 665,783 417,829 1216,361 582,775 629,748 1147,483 1319,325 1207,284 627,799 654,779 1111,748 1054,749 584,832 1186,231 657,758 1312,276 779,835 1238,366 602,801 1364,517 688,753 786,717 604,830 752,775 693,794 1317,275 575,787 1342,229 719,763 783,725 800,795 1087,614 638,825 668,789 1239,309 480,688 646,795 1401,387 1238,338 531,823 1078,609 743,697 1323,253 1285,328 1279,335 627,775 572,836 681,831 1239,428 1173,364 1417,342 811,803 1097,780 636,787 654,786 647,749 622,774 710,744 705,760 1319,330 602,752 626,827 1228,253 755,730 603,809 1392,406 625,828 1237,364 714,785 644,777 1302,388 1126,703 715,750 663,810 1150,638 990,746 657,771 1228,389 567,782 683,770 1234,338 1228,337 595,737 1211,550 610,740 1282,352 564,795 1281,618 1478,399 1283,372 561,801 551,815 1293,185 647,738 721,717 1203,317 1215,380 613,852 1068,415 1374,280 661,788 1254,440 1287,216 676,740 1105,256 616,732 1229,353 707,760 781,730 573,778 506,856 669,812 1229,472 1083,499 696,850 636,739 1293,221 1212,342 610,751 692,767 554,780 1239,461 672,723 1342,328 669,743 652,773 586,730 1276,202 658,662 485,790 497,836 1181,351 647,760 657,711 1247,356 1028,593 1201,451 612,792 555,782 1253,693 737,765 590,810 1300,400 712,759 572,813 668,794 607,773 1083,295 720,769 1263,366 796,748 562,756 1208,290 640,775 1187,406 1294,429 483,781 705,744 824,721 1310,283 1192,329 622,792 733,670 646,833 1343,431 1202,507 621,755 1210,240 605,811 1162,706 711,805 1025,784 698,836 617,759 675,780 657,829 750,793 1247,325 572,805 624,797 1102,406 576,773 675,753 673,788 760,804 621,836 1194,506 615,749 614,786 590,813 572,826 760,782 1273,656 648,853 548,773 587,822 582,809 533,773 1296,260 1203,384 815,761 1271,292 459,826 607,777 599,777 704,758 1127,291 642,751 556,793 1268,386 1345,350 429,802 1096,702 609,840 675,807 1243,352 1132,377 1210,683 1255,323 1334,354 1242,388 665,828 1185,325 672,793 1269,447 1155,511 1317,428 653,724 795,780 1200,469 980,685 691,778 459,779 491,764 698,761 788,738 1175,313 1208,815 635,820 1234,264 1186,572 648,825 603,797 1223,333 1389,292 681,808 1153,711 1115,691 1312,357 672,831 974,573 565,777 676,763 1482,445 590,821 666,801 530,758 1329,240 1179,599 597,762 1202,358 482,840 1083,367 1143,685 607,866 1362,448 1253,680 568,797 1103,714 569,822 1262,232 1387,273 639,747 640,775 665,800 1099,408 1186,380 1123,381 1120,501 600,800 680,773 1376,380 728,730 597,752 1140,760 1017,654 666,802 1195,413 688,815 593,789 1244,255 1265,401 596,759 571,781 558,788 712,737 1141,289 697,744 1250,327 749,754 691,767 1116,360 1222,715 684,827 1237,519 1397,475 661,742 1064,687 535,821 712,735 1121,682 1109,403 786,770 1306,389 781,606 616,776 653,829 691,824 816,731 1312,363 1136,694 687,834 660,831 1233,229 594,779 848,690 720,782 1225,408 1225,583 705,781 645,735 698,744 716,775 1201,366 1293,403 1403,295 630,725 1169,434 639,776 574,882 1098,442 1006,402 714,830 1281,453 701,794 566,811 1166,401 705,787 1086,599 592,800 1210,250 571,797 609,827 663,758 1163,363 1062,556 702,780 578,755 624,800 631,791 1264,274 591,775 671,742 1227,333 1261,399 697,749 629,779 1178,493 592,759 820,780 1233,349 651,763 1302,326 535,784 1180,452 1330,351 1187,413 688,812 1166,235 528,804 645,787 643,763 485,810 667,618 1276,339 486,841 687,749 699,859 696,766 576,827 1433,313 760,773 1277,378 1175,477 587,814 742,812 1220,364 548,863 683,724 756,766 1220,361 1340,367 683,742 1167,290 1206,470 690,768 675,765 1231,635 551,806 759,737 717,709 1212,341 1250,284 656,747 1188,736 678,760 1163,345 719,749 657,799 878,595 564,804 1202,543 652,774 595,880 1330,360 1160,424 593,751 650,832 1296,237 629,798 1287,372 570,813 612,832 1188,276 1184,297 504,852 1071,687 1347,287 689,768 1305,402 1226,296 582,801 602,770 762,720 635,774 1217,291 1188,425 1264,321 1148,652 668,782 1244,381 1229,337 1227,416 580,755 1245,283 626,792 735,723 1186,394 1305,386 831,736 1234,330 1182,288 698,736 1379,280 1176,468 1182,334 1284,405 1277,355 557,795 652,796 707,742 1247,376 706,764 744,800 1292,382 628,798 770,700 1189,418 601,829 1270,264 708,786 559,793 1197,250 1133,315 765,756 544,815 1323,259 613,755 1373,386 1191,366 485,781 1195,435 1129,588 687,621 648,743 769,736 1120,502 1240,309 1266,293 543,850 1294,285 714,839 637,711 1273,411 587,805 685,761 573,769 1016,574 612,798 581,779 1206,399 597,769 777,749 1234,234 1161,221 1261,336 644,855 1361,284 1192,419 415,872 577,777 784,764 559,744 1284,320 1233,369 1153,505 1310,375 1186,479 616,793 1085,393 641,817 734,751 667,730 510,830 657,789 1141,493 612,854 1325,274 585,835 738,773 1289,315 1143,534 556,795 578,788 528,788 705,800 656,824 603,802 1147,331 696,764 635,771 1214,331 553,753 600,821 795,661 1305,370 661,803 702,820 662,778 1243,216 1151,325 659,847 667,771 759,749 1249,404 705,749 723,816 1270,386 700,740 720,761 1202,219 1259,256 767,565 1263,412 661,823 663,753 1358,267 1372,276 652,728 1181,589 1074,278 1193,348 708,734 544,788 668,781 1165,438 1154,360 625,830 620,774 1293,231 667,758 536,820 1228,337 676,760 1224,337 1257,352 616,793 1146,218 1189,375 619,792 705,769 1001,608 606,830 805,718 1106,551 654,832 1248,223 734,773 634,780 1489,423 593,760 701,786 1244,285 1381,317 1313,415 615,830 1222,328 514,858 582,741 1263,290 676,780 1183,605 639,781 1235,390 640,772 691,789 1238,355 1176,639 667,775 575,790 1142,557 1156,366 602,805 1503,270 1246,483 764,772 1173,293 745,718 602,683 639,778 696,756 1119,788 1201,298 628,801 615,724 538,721 813,724 605,775 724,750 591,838 1252,270 600,790 660,776 598,796 1271,340 729,813 640,792 1262,302 1219,499 1358,406 1281,334 619,714 1245,482 1250,373 708,808 1378,293 1323,425 701,787 508,792 617,787 572,808 1227,434 1307,399 582,823 1269,501 591,797 1248,394 1299,385 625,792 1020,594 1121,444 1133,321 608,825 1099,798 1245,554 1311,402 625,837 583,853 636,770 1189,739 624,837 1177,389 1291,347 1144,331 1193,282 580,801 1240,374 1309,201 1271,436 597,765 1113,295 1394,342 715,742 712,735 741,717 707,678 548,795 1145,403 1172,585 578,806 748,755 1281,317 661,813 648,834 1105,614 1282,146 704,792 460,867 606,786 1019,634 1235,275 1275,266 790,763 1330,407 1166,427 1323,293 589,777 1088,704 1128,389 1177,419 660,788 1326,311 1154,599 643,802 1216,722 514,800 1226,333 1266,256 1085,414 602,776 1265,337 1215,656 1173,725 1195,335 588,762 714,790 1378,478 690,688 1187,354 599,781 726,731 663,763 622,742 669,777 1101,334 649,816 734,774 578,808 615,831 611,802 1125,296 674,774 1065,680 1104,390 1351,296 702,723 635,805 701,778 651,709 1368,439 677,835 1153,383 1341,314 577,845 728,718 1178,613 1291,334 556,859 653,794 583,789 787,784 704,714 738,771 650,802 672,737 1239,321 1387,400 1226,533 645,734 630,780 1253,347 563,858 1226,642 1262,310 1211,134 1362,491 720,654 1042,808 1212,544 1342,316 636,850 684,789 646,827 655,756 650,852 519,756 739,760 1257,409 1143,307 1223,419 1070,779 1248,395 1120,553 678,755 1241,446 597,800 623,790 642,788 1286,387 776,708 1025,703 1084,691 731,805 1169,767 663,751 1341,249 1087,606 674,809 666,809 1170,423 1358,381 1184,302 548,818 634,800 623,781 575,818 1220,285 650,784 582,811 751,742 726,787 1135,300 621,864 599,798 538,760 734,795 634,853 632,861 711,781 1049,716 1150,512 618,791 1138,733 612,842 705,742 1273,452 1250,450 1189,563 1306,317 1254,283 647,737 1394,335 1237,435 468,751 1136,332 676,822 652,760 588,764 556,767 651,765 434,854 562,679 618,747 1068,346 1049,384 674,800 698,813 489,767 1216,332 604,806 573,833 1349,311 621,820 604,815 549,834 1365,332 580,727 548,802 1003,606 1278,351 1040,450 1298,289 719,744 582,827 581,790 594,745 1268,341 651,821 626,812 639,836 1252,232 1235,306 701,742 589,807 537,738 541,878 1024,646 628,785 614,811 1135,365 761,769 1212,361 543,813 545,752 1191,322 639,810 710,783 1375,191 1190,454 1246,381 693,778 677,846 985,696 1276,430 591,768 703,796 829,665 1485,209 1194,333 702,758 749,772 627,724 1156,344 1233,564 665,812 675,749 691,751 547,793 1336,255 753,723 702,759 1285,572 640,775 1212,263 1230,387 1261,584 603,768 1126,765 659,750 748,749 439,797 590,777 568,781 1291,311 673,763 1082,563 1306,171 756,789 691,819 619,789 1231,505 1085,723 615,811 1224,392 1115,401 596,833 1179,292 1083,625 1251,398 1228,514 666,779 603,772 1213,678 1123,457 579,802 638,772 687,802 1379,286 722,782 1234,483 714,797 559,813 681,797 624,758 1237,258 647,836 1243,459 761,769 553,793 817,657 1123,414 1106,731 1022,516 609,781 1355,447 634,822 1274,467 705,786 1122,405 1231,729 1048,588 1300,314 1022,811 674,812 1095,397 668,798 656,755 628,802 789,766 1231,650 1290,262 1185,474 1140,312 1298,262 594,782 551,777 651,762 1161,490 1361,394 1144,435 1339,444 619,859 752,764 625,801 572,797 644,809 1407,271 1321,288 608,786 681,759 679,768 1200,276 1178,464 1258,328 1137,573 649,744 1427,364 1094,491 1187,337 1176,315 1183,389 539,831 1226,294 772,773 1191,331 1164,409 569,773 1195,384 1261,378 727,775 561,881 549,809 1161,300 600,847 665,762 768,748 715,816 720,850 1275,235 636,829 1154,517 602,809 691,789 642,790 608,797 1287,350 657,785 587,811 1151,356 1222,294 1315,418 1208,424 725,716 1177,284 599,804 599,771 678,790 1018,881 1177,755 830,719 1135,459 625,753 686,712 764,796 658,762 650,791 639,774 1350,391 596,763 692,792 1139,402 532,828 650,801 1306,471 614,808 655,727 1358,233 1302,381 634,813 613,765 1112,593 1189,393 724,735 676,777 725,784 680,765 1301,313 597,761 598,848 621,847 520,743 1197,413 1065,792 1186,463 1218,294 721,791 812,740 1286,217 1128,554 1255,364 714,673 1172,651 1203,423 674,755 1198,579 539,814 1347,402 695,784 1223,250 694,773 580,842 766,776 668,759 589,851 1296,485 1151,770 745,764 722,729 560,808 641,744 591,835 749,727 1227,652 640,769 1339,384 616,770 618,811 1279,264 619,807 587,794 711,700 724,791 1189,463 1393,240 743,772 1348,305 708,807 1293,266 1208,389 1275,419 495,806 625,792 570,778 597,854 674,737 1208,443 613,800 1225,260 759,744 1188,348 661,771 1036,542 1128,374 654,803 1159,609 1318,522 1272,302 1336,447 650,739 1146,594 566,813 1270,551 1194,622 1106,407 609,740 626,778 1353,229 1146,430 674,765 1076,702 567,770 1247,416 1242,339 1217,545 621,754 713,728 1247,499 659,787 557,872 1102,417 666,730 1332,235 1124,615 595,814 1381,289 1223,411 1392,325 735,738 471,772 1166,275 631,804 618,839 726,785 632,744 486,658 1247,378 1363,312 1285,268 1183,321 1332,345 551,769 1349,342 628,800 1166,403 1184,450 598,814 660,746 1198,332 1283,205 1357,386 1341,381 658,796 1179,355 1178,460 1100,446 1296,414 1320,432 690,733 575,793 741,826 625,773 589,812 600,781 603,841 651,742 518,844 1114,363 1285,465 677,820 596,818 619,790 488,847 1520,483 1307,309 654,786 625,799 1205,443 1077,625 1145,275 622,752 659,772 1142,384 742,736 1335,258 586,798 1414,306 682,741 1155,834 1273,406 1281,354 1212,342 1267,323 667,785 737,777 573,833 670,764 765,726 748,526 765,745 1165,323 1111,632 710,816 1163,457 642,810 1194,371 1242,425 1226,373 1288,317 736,740 1260,655 602,750 747,772 1177,293 1188,410 1409,342 610,792 1159,452 631,756 1259,393 610,696 725,808 1265,449 1099,325 740,833 1043,558 1153,485 1284,380 1246,474 577,865 751,815 594,801 540,801 467,787 551,858 1248,417 615,655 540,808 858,742 698,826 656,794 696,795 684,797 679,757 624,831 639,798 579,732 655,750 1090,603 657,714 720,789 1218,310 630,771 1184,424 636,742 1227,395 1301,308 808,697 1240,231 1103,309 652,831 1220,331 620,797 1285,354 1280,317 636,852 593,832 603,762 678,755 675,806 817,741 1418,221 1238,321 695,847 1367,294 1186,387 1281,390 630,748 1145,491 428,754 685,782 1061,689 1278,333 1148,746 1253,689 1264,360 530,759 1349,519 1130,298 650,826 1312,239 594,842 1218,379 1169,301 1225,350 1270,654 1242,381 640,844 1118,593 1216,627 1327,302 1257,600 769,754 748,760 647,776 760,773 602,791 1261,505 1248,353 1202,399 645,820 483,773 1071,645 1198,354 576,841 1171,429 1195,331 579,715 1253,303 1319,293 1199,231 573,774 1268,287 679,855 610,784 1348,357 1287,291 1271,290 657,781 660,787 570,768 705,780 617,780 1111,503 1179,536 1284,422 547,790 1141,346 1180,372 746,803 1330,280 616,827 1139,431 799,784 706,795 702,764 589,726 1133,463 576,779 1238,690 610,779 701,728 1174,387 646,763 1186,490 561,772 587,796 647,820 1126,583 1363,351 1273,462 543,764 519,765 1332,251 1034,745 706,792 1286,308 697,789 635,830 645,800 546,813 614,761 667,708 626,807 1229,375 1213,430 1144,370 774,806 626,688 618,770 1349,296 616,789 1225,570 1324,433 1298,462 1198,517 1306,281 1178,375 1198,285 597,798 747,747 618,783 659,780 1238,351 787,747 509,783 542,791 793,697 1186,280 761,746 829,887 1250,413 710,767 689,748 1137,309 645,765 748,705 1231,402 1258,294 1200,455 1247,315 557,777 559,799 604,808 611,818 716,772 1210,382 652,758 1179,393 1179,384 727,684 1058,588 1200,358 689,803 1191,680 1124,705 1336,333 573,725 618,800 1236,345 729,764 1219,432 824,776 1134,597 597,788 731,788 552,800 663,765 1348,488 741,770 647,818 682,774 603,780 1207,418 731,773 583,762 725,789 1233,601 762,761 1267,191 607,795 1329,325 727,757 600,784 1421,378 1038,817 630,778 632,784 760,732 704,782 668,772 758,754 612,798 1012,616 607,793 1254,432 545,766 1219,390 522,770 1218,438 1162,270 655,794 676,772 536,768 614,821 682,730 1135,388 790,769 1202,299 1216,462 1191,386 778,584 633,806 587,830 570,792 1348,266 1243,398 1312,257 541,788 490,828 1228,451 1115,446 1140,375 576,693 1041,652 1313,350 671,731 688,781 758,778 1318,376 785,729 613,762 553,822 1159,588 1243,259 688,633 656,801 1295,283 1200,416 1067,681 829,772 603,817 691,739 480,803 653,796 626,787 1054,375 512,817 592,824 564,787 627,783 691,738 717,715 1356,378 1163,322 805,712 1286,244 1275,302 712,809 729,748 1342,209 678,766 699,773 1098,620 1470,391 1179,600 1154,430 589,825 1054,275 704,763 602,868 1202,431 605,817 1233,438 603,781 645,785 1321,449 551,822 589,795 658,850 597,753 1232,364 646,764 581,780 1267,292 712,740 670,763 649,747 660,797 1196,386 611,743 677,776 611,805 1261,364 558,768 668,826 673,727 452,878 613,777 605,763 641,738 568,791 1259,408 1204,397 655,791 1499,309 1176,321 1167,528 717,753 1272,402 1232,282 1138,402 1210,253 1325,305 1234,467 632,787 583,726 682,714 1169,309 638,831 678,790 1325,331 651,763 1250,304 1401,321 649,761 832,736 530,787 1155,357 482,821 1216,348 1347,533 1472,334 1148,420 1210,335 1082,309 625,841 1312,364 763,777 1169,286 557,775 1371,163 1315,476 639,822 696,761 607,633 1157,243 639,823 613,805 688,765 613,794 1253,403 1338,469 513,841 1183,438 1206,424 561,817 664,797 679,779 699,811 582,738 554,806 716,604 764,749 1076,717 565,825 1042,517 1250,291 574,711 1132,675 1313,492 1288,182 687,745 657,803 1150,419 766,722 1129,384 1292,665 625,739 1180,629 738,781 732,729 1320,415 725,739 692,665 498,765 1200,710 751,758 1220,529 693,781 1246,339 1138,386 673,782 720,724 471,771 1241,346 691,727 694,801 729,814 1262,511 628,805 1055,424 829,703 635,764 1130,400 1229,269 1077,657 775,770 672,825 607,786 1185,404 1186,345 1195,651 1295,285 720,754 1273,697 1269,337 1216,315 578,837 731,777 1179,230 716,798 574,803 586,804 704,778 562,733 534,849 736,765 640,782 591,803 642,758 1247,291 1224,375 740,823 645,786 1006,703 616,757 1324,262 1113,710 602,784 664,780 523,812 588,858 1302,270 589,852 494,805 804,769 1284,373 629,532 1122,601 1218,446 517,819 1215,321 1126,401 763,816 1185,339 1182,373 1246,425 571,780 682,658 636,770 1218,354 1037,424 1193,738 1291,371 684,751 614,821 1173,349 610,788 1278,370 624,757 614,740 1190,336 756,715 709,805 698,762 593,834 633,770 1244,331 659,829 614,736 582,759 634,781 652,796 531,789 643,837 1409,316 1114,374 1245,486 572,741 1077,623 665,770 659,820 603,788" fill="none" stroke="none" marker-start="url(#mUCEC)" marker-mid="url(#mUCEC)" marker-end="url(#mUCEC)"/>
<path d="M333,304.7 h8 m4,0 h3 m22,0 h12 m4,0 h14 m3,0 h6 M478,304.7 h3 m5,0 h14 m3,0 h38 m3,0 h26 m2,0 h28 m3,0 h10 m2,0 h22 m3,0 h14" stroke="#0a0a0a" stroke-width="1.6" fill="none" opacity=".9"/>
<line x1="211.3" y1="467.4" x2="717" y2="129" stroke="#CDE374" stroke-width="1.1"/>
<line x1="245" y1="444.85" x2="410" y2="334.44" stroke="#CDE374" stroke-width="1.8" stroke-linecap="round"/>
<line x1="475" y1="290.94" x2="650" y2="173.83" stroke="#CDE374" stroke-width="1.8" stroke-linecap="round"/>
<line x1="233.7" y1="448.6" x2="676" y2="144" stroke="#232EA8" stroke-width="1.1"/>
<line x1="245" y1="440.82" x2="410" y2="327.19" stroke="#232EA8" stroke-width="1.8" stroke-linecap="round"/>
<line x1="475" y1="282.42" x2="650" y2="161.91" stroke="#232EA8" stroke-width="1.8" stroke-linecap="round"/>
<line x1="197.5" y1="481.3" x2="766.4" y2="53.6" stroke="#C1432A" stroke-width="1.1"/>
<line x1="245" y1="445.59" x2="410" y2="321.54" stroke="#C1432A" stroke-width="1.8" stroke-linecap="round"/>
<line x1="475" y1="272.68" x2="650" y2="141.11" stroke="#C1432A" stroke-width="1.8" stroke-linecap="round"/>
<line x1="268.8" y1="446" x2="652.4" y2="212.6" stroke="#A229C5" stroke-width="1.1"/>
<line x1="268.8" y1="446" x2="410" y2="360.09" stroke="#A229C5" stroke-width="1.8" stroke-linecap="round"/>
<line x1="475" y1="320.54" x2="650" y2="214.06" stroke="#A229C5" stroke-width="1.8" stroke-linecap="round"/>
<line x1="216.2" y1="470.2" x2="722" y2="124" stroke="#53E0B0" stroke-width="1.1"/>
<line x1="245" y1="450.49" x2="410" y2="337.55" stroke="#53E0B0" stroke-width="1.8" stroke-linecap="round"/>
<line x1="475" y1="293.06" x2="650" y2="173.28" stroke="#53E0B0" stroke-width="1.8" stroke-linecap="round"/>
<line x1="183.8" y1="470.2" x2="766.4" y2="113.7" stroke="#A62560" stroke-width="1.1"/>
<line x1="245" y1="432.75" x2="410" y2="331.79" stroke="#A62560" stroke-width="1.8" stroke-linecap="round"/>
<line x1="475" y1="292.01" x2="650" y2="184.93" stroke="#A62560" stroke-width="1.8" stroke-linecap="round"/>
<rect x="112.3" y="27.6" width="654.1" height="554" fill="none" stroke="#4d4d4d" stroke-width="1.4"/>
<line x1="106.8" y1="66.92" x2="112.3" y2="66.92" stroke="#333" stroke-width="1.8"/>
<text x="102.8" y="75.22" font-size="24.09" text-anchor="end" fill="#4d4d4d" stroke="#4d4d4d" stroke-width="0.3" textLength="24.58" lengthAdjust="spacingAndGlyphs">60</text>
<line x1="106.8" y1="146.18" x2="112.3" y2="146.18" stroke="#333" stroke-width="1.8"/>
<text x="102.8" y="154.48" font-size="24.09" text-anchor="end" fill="#4d4d4d" stroke="#4d4d4d" stroke-width="0.3" textLength="24.58" lengthAdjust="spacingAndGlyphs">40</text>
<line x1="106.8" y1="225.44" x2="112.3" y2="225.44" stroke="#333" stroke-width="1.8"/>
<text x="102.8" y="233.74" font-size="24.09" text-anchor="end" fill="#4d4d4d" stroke="#4d4d4d" stroke-width="0.3" textLength="24.58" lengthAdjust="spacingAndGlyphs">20</text>
<line x1="106.8" y1="304.7" x2="112.3" y2="304.7" stroke="#333" stroke-width="1.8"/>
<text x="102.8" y="313" font-size="24.09" text-anchor="end" fill="#4d4d4d" stroke="#4d4d4d" stroke-width="0.3" textLength="12.29" lengthAdjust="spacingAndGlyphs">0</text>
<line x1="106.8" y1="383.96" x2="112.3" y2="383.96" stroke="#333" stroke-width="1.8"/>
<text x="102.8" y="392.26" font-size="24.09" text-anchor="end" fill="#4d4d4d" stroke="#4d4d4d" stroke-width="0.3" textLength="37.49" lengthAdjust="spacingAndGlyphs">−20</text>
<line x1="106.8" y1="463.22" x2="112.3" y2="463.22" stroke="#333" stroke-width="1.8"/>
<text x="102.8" y="471.52" font-size="24.09" text-anchor="end" fill="#4d4d4d" stroke="#4d4d4d" stroke-width="0.3" textLength="37.49" lengthAdjust="spacingAndGlyphs">−40</text>
<line x1="106.8" y1="542.48" x2="112.3" y2="542.48" stroke="#333" stroke-width="1.8"/>
<text x="102.8" y="550.78" font-size="24.09" text-anchor="end" fill="#4d4d4d" stroke="#4d4d4d" stroke-width="0.3" textLength="37.49" lengthAdjust="spacingAndGlyphs">−60</text>
<line x1="176.6" y1="581.6" x2="176.6" y2="587.1" stroke="#333" stroke-width="1.8"/>
<text x="176.6" y="610" font-size="24.09" text-anchor="middle" fill="#4d4d4d" stroke="#4d4d4d" stroke-width="0.3" textLength="37.49" lengthAdjust="spacingAndGlyphs">−40</text>
<line x1="307.7" y1="581.6" x2="307.7" y2="587.1" stroke="#333" stroke-width="1.8"/>
<text x="307.7" y="610" font-size="24.09" text-anchor="middle" fill="#4d4d4d" stroke="#4d4d4d" stroke-width="0.3" textLength="37.49" lengthAdjust="spacingAndGlyphs">−20</text>
<line x1="438.8" y1="581.6" x2="438.8" y2="587.1" stroke="#333" stroke-width="1.8"/>
<text x="438.8" y="610" font-size="24.09" text-anchor="middle" fill="#4d4d4d" stroke="#4d4d4d" stroke-width="0.3" textLength="12.29" lengthAdjust="spacingAndGlyphs">0</text>
<line x1="569.9" y1="581.6" x2="569.9" y2="587.1" stroke="#333" stroke-width="1.8"/>
<text x="569.9" y="610" font-size="24.09" text-anchor="middle" fill="#4d4d4d" stroke="#4d4d4d" stroke-width="0.3" textLength="24.58" lengthAdjust="spacingAndGlyphs">20</text>
<line x1="701" y1="581.6" x2="701" y2="587.1" stroke="#333" stroke-width="1.8"/>
<text x="701" y="610" font-size="24.09" text-anchor="middle" fill="#4d4d4d" stroke="#4d4d4d" stroke-width="0.3" textLength="24.58" lengthAdjust="spacingAndGlyphs">40</text>
<text x="438.8" y="636.5" font-size="28.34" text-anchor="middle" stroke="#000" stroke-width="0.3" textLength="117.07" lengthAdjust="spacingAndGlyphs">beta array</text>
<text x="54" y="304.7" font-size="28.34" text-anchor="middle" stroke="#000" stroke-width="0.3" transform="rotate(-90 54 304.7)" textLength="119.93" lengthAdjust="spacingAndGlyphs">beta WGS</text>
<text x="130" y="66.8" font-size="27.4" fill="#CDE374" stroke="#CDE374" stroke-width="0.3" textLength="253.5" lengthAdjust="spacingAndGlyphs"><tspan font-style="italic">R</tspan> = 0.91 , <tspan font-style="italic">p</tspan> &lt; 2.2e−16</text>
<text x="130" y="100.55" font-size="27.4" fill="#232EA8" stroke="#232EA8" stroke-width="0.3" textLength="253.5" lengthAdjust="spacingAndGlyphs"><tspan font-style="italic">R</tspan> = 0.86 , <tspan font-style="italic">p</tspan> &lt; 2.2e−16</text>
<text x="130" y="134.3" font-size="27.4" fill="#C1432A" stroke="#C1432A" stroke-width="0.3" textLength="253.5" lengthAdjust="spacingAndGlyphs"><tspan font-style="italic">R</tspan> = 0.88 , <tspan font-style="italic">p</tspan> &lt; 2.2e−16</text>
<text x="130" y="168.05" font-size="27.4" fill="#A229C5" stroke="#A229C5" stroke-width="0.3" textLength="253.5" lengthAdjust="spacingAndGlyphs"><tspan font-style="italic">R</tspan> = 0.74 , <tspan font-style="italic">p</tspan> &lt; 2.2e−16</text>
<text x="130" y="201.8" font-size="27.4" fill="#53E0B0" stroke="#53E0B0" stroke-width="0.3" textLength="253.5" lengthAdjust="spacingAndGlyphs"><tspan font-style="italic">R</tspan> = 0.86 , <tspan font-style="italic">p</tspan> &lt; 2.2e−16</text>
<text x="130" y="235.55" font-size="27.4" fill="#A62560" stroke="#A62560" stroke-width="0.3" textLength="239" lengthAdjust="spacingAndGlyphs"><tspan font-style="italic">R</tspan> = 0.9 , <tspan font-style="italic">p</tspan> &lt; 2.2e−16</text>
<circle cx="814" cy="230.3" r="5.8" fill="#CDE374"/>
<text x="840" y="237.1" font-size="23.87" stroke="#000" stroke-width="0.3" textLength="57.73" lengthAdjust="spacingAndGlyphs">BLCA</text>
<circle cx="814" cy="262.6" r="5.8" fill="#232EA8"/>
<text x="840" y="269.4" font-size="23.87" stroke="#000" stroke-width="0.3" textLength="61.4" lengthAdjust="spacingAndGlyphs">BRCA</text>
<circle cx="814" cy="294.9" r="5.8" fill="#C1432A"/>
<text x="840" y="301.7" font-size="23.87" stroke="#000" stroke-width="0.3" textLength="63.85" lengthAdjust="spacingAndGlyphs">COAD</text>
<circle cx="814" cy="327.2" r="5.8" fill="#A229C5"/>
<text x="840" y="334" font-size="23.87" stroke="#000" stroke-width="0.3" textLength="58.95" lengthAdjust="spacingAndGlyphs">LUAD</text>
<circle cx="814" cy="359.5" r="5.8" fill="#53E0B0"/>
<text x="840" y="366.3" font-size="23.87" stroke="#000" stroke-width="0.3" textLength="58.95" lengthAdjust="spacingAndGlyphs">LUSC</text>
<circle cx="814" cy="391.8" r="5.8" fill="#A62560"/>
<text x="840" y="398.6" font-size="23.87" stroke="#000" stroke-width="0.3" textLength="62.62" lengthAdjust="spacingAndGlyphs">UCEC</text>
<text x="0.8" y="23" font-size="32" stroke="#000" stroke-width="0.3" font-weight="bold" font-family="'DejaVu Sans', sans-serif">a</text>
</g>
<g id="pb">
<rect x="1126.6" y="27.8" width="612.7" height="554" fill="#fff"/>
<line x1="1126.6" y1="32.9" x2="1739.3" y2="32.9" stroke="#EBEBEB" stroke-width="2.2"/>
<line x1="1126.6" y1="159.25" x2="1739.3" y2="159.25" stroke="#EBEBEB" stroke-width="2.2"/>
<line x1="1126.6" y1="285.6" x2="1739.3" y2="285.6" stroke="#EBEBEB" stroke-width="2.2"/>
<line x1="1126.6" y1="411.95" x2="1739.3" y2="411.95" stroke="#EBEBEB" stroke-width="2.2"/>
<line x1="1126.6" y1="538.3" x2="1739.3" y2="538.3" stroke="#EBEBEB" stroke-width="2.2"/>
<line x1="1126.6" y1="70.93" x2="1739.3" y2="70.93" stroke="#EBEBEB" stroke-width="1.1"/>
<line x1="1126.6" y1="197.28" x2="1739.3" y2="197.28" stroke="#EBEBEB" stroke-width="1.1"/>
<line x1="1126.6" y1="323.63" x2="1739.3" y2="323.63" stroke="#EBEBEB" stroke-width="1.1"/>
<line x1="1126.6" y1="449.98" x2="1739.3" y2="449.98" stroke="#EBEBEB" stroke-width="1.1"/>
<line x1="1126.6" y1="576.33" x2="1739.3" y2="576.33" stroke="#EBEBEB" stroke-width="1.1"/>
<line x1="1154.4" y1="27.8" x2="1154.4" y2="581.8" stroke="#EBEBEB" stroke-width="2.2"/>
<line x1="1200.82" y1="27.8" x2="1200.82" y2="581.8" stroke="#EBEBEB" stroke-width="2.2"/>
<line x1="1247.24" y1="27.8" x2="1247.24" y2="581.8" stroke="#EBEBEB" stroke-width="2.2"/>
<line x1="1293.66" y1="27.8" x2="1293.66" y2="581.8" stroke="#EBEBEB" stroke-width="2.2"/>
<line x1="1340.08" y1="27.8" x2="1340.08" y2="581.8" stroke="#EBEBEB" stroke-width="2.2"/>
<line x1="1386.5" y1="27.8" x2="1386.5" y2="581.8" stroke="#EBEBEB" stroke-width="2.2"/>
<line x1="1432.92" y1="27.8" x2="1432.92" y2="581.8" stroke="#EBEBEB" stroke-width="2.2"/>
<line x1="1479.34" y1="27.8" x2="1479.34" y2="581.8" stroke="#EBEBEB" stroke-width="2.2"/>
<line x1="1525.76" y1="27.8" x2="1525.76" y2="581.8" stroke="#EBEBEB" stroke-width="2.2"/>
<line x1="1572.18" y1="27.8" x2="1572.18" y2="581.8" stroke="#EBEBEB" stroke-width="2.2"/>
<line x1="1618.6" y1="27.8" x2="1618.6" y2="581.8" stroke="#EBEBEB" stroke-width="2.2"/>
<line x1="1665.02" y1="27.8" x2="1665.02" y2="581.8" stroke="#EBEBEB" stroke-width="2.2"/>
<line x1="1711.44" y1="27.8" x2="1711.44" y2="581.8" stroke="#EBEBEB" stroke-width="2.2"/>
<rect x="1156.7" y="278.3" width="221" height="129.1" fill="#fff"/>
<rect x="1156.7" y="426.9" width="154.7" height="128" fill="#fff"/>
<line x1="1126.6" y1="32.9" x2="1142.6" y2="32.9" stroke="#333" stroke-width="1.1"/>
<line x1="1126.6" y1="159.25" x2="1142.6" y2="159.25" stroke="#333" stroke-width="1.1"/>
<line x1="1126.6" y1="121.21" x2="1132.1" y2="121.21" stroke="#333" stroke-width="1.1"/>
<line x1="1126.6" y1="98.97" x2="1132.1" y2="98.97" stroke="#333" stroke-width="1.1"/>
<line x1="1126.6" y1="83.18" x2="1132.1" y2="83.18" stroke="#333" stroke-width="1.1"/>
<line x1="1126.6" y1="70.94" x2="1137.1" y2="70.94" stroke="#333" stroke-width="1.1"/>
<line x1="1126.6" y1="60.93" x2="1132.1" y2="60.93" stroke="#333" stroke-width="1.1"/>
<line x1="1126.6" y1="52.47" x2="1132.1" y2="52.47" stroke="#333" stroke-width="1.1"/>
<line x1="1126.6" y1="45.14" x2="1132.1" y2="45.14" stroke="#333" stroke-width="1.1"/>
<line x1="1126.6" y1="38.68" x2="1132.1" y2="38.68" stroke="#333" stroke-width="1.1"/>
<line x1="1126.6" y1="285.6" x2="1142.6" y2="285.6" stroke="#333" stroke-width="1.1"/>
<line x1="1126.6" y1="247.56" x2="1132.1" y2="247.56" stroke="#333" stroke-width="1.1"/>
<line x1="1126.6" y1="225.32" x2="1132.1" y2="225.32" stroke="#333" stroke-width="1.1"/>
<line x1="1126.6" y1="209.53" x2="1132.1" y2="209.53" stroke="#333" stroke-width="1.1"/>
<line x1="1126.6" y1="197.29" x2="1137.1" y2="197.29" stroke="#333" stroke-width="1.1"/>
<line x1="1126.6" y1="187.28" x2="1132.1" y2="187.28" stroke="#333" stroke-width="1.1"/>
<line x1="1126.6" y1="178.82" x2="1132.1" y2="178.82" stroke="#333" stroke-width="1.1"/>
<line x1="1126.6" y1="171.49" x2="1132.1" y2="171.49" stroke="#333" stroke-width="1.1"/>
<line x1="1126.6" y1="165.03" x2="1132.1" y2="165.03" stroke="#333" stroke-width="1.1"/>
<line x1="1126.6" y1="411.95" x2="1142.6" y2="411.95" stroke="#333" stroke-width="1.1"/>
<line x1="1126.6" y1="373.91" x2="1132.1" y2="373.91" stroke="#333" stroke-width="1.1"/>
<line x1="1126.6" y1="351.67" x2="1132.1" y2="351.67" stroke="#333" stroke-width="1.1"/>
<line x1="1126.6" y1="335.88" x2="1132.1" y2="335.88" stroke="#333" stroke-width="1.1"/>
<line x1="1126.6" y1="323.64" x2="1137.1" y2="323.64" stroke="#333" stroke-width="1.1"/>
<line x1="1126.6" y1="313.63" x2="1132.1" y2="313.63" stroke="#333" stroke-width="1.1"/>
<line x1="1126.6" y1="305.17" x2="1132.1" y2="305.17" stroke="#333" stroke-width="1.1"/>
<line x1="1126.6" y1="297.84" x2="1132.1" y2="297.84" stroke="#333" stroke-width="1.1"/>
<line x1="1126.6" y1="291.38" x2="1132.1" y2="291.38" stroke="#333" stroke-width="1.1"/>
<line x1="1126.6" y1="538.3" x2="1142.6" y2="538.3" stroke="#333" stroke-width="1.1"/>
<line x1="1126.6" y1="500.26" x2="1132.1" y2="500.26" stroke="#333" stroke-width="1.1"/>
<line x1="1126.6" y1="478.02" x2="1132.1" y2="478.02" stroke="#333" stroke-width="1.1"/>
<line x1="1126.6" y1="462.23" x2="1132.1" y2="462.23" stroke="#333" stroke-width="1.1"/>
<line x1="1126.6" y1="449.99" x2="1137.1" y2="449.99" stroke="#333" stroke-width="1.1"/>
<line x1="1126.6" y1="439.98" x2="1132.1" y2="439.98" stroke="#333" stroke-width="1.1"/>
<line x1="1126.6" y1="431.52" x2="1132.1" y2="431.52" stroke="#333" stroke-width="1.1"/>
<line x1="1126.6" y1="424.19" x2="1132.1" y2="424.19" stroke="#333" stroke-width="1.1"/>
<line x1="1126.6" y1="417.73" x2="1132.1" y2="417.73" stroke="#333" stroke-width="1.1"/>
<line x1="1126.6" y1="576.34" x2="1137.1" y2="576.34" stroke="#333" stroke-width="1.1"/>
<line x1="1126.6" y1="566.33" x2="1132.1" y2="566.33" stroke="#333" stroke-width="1.1"/>
<line x1="1126.6" y1="557.87" x2="1132.1" y2="557.87" stroke="#333" stroke-width="1.1"/>
<line x1="1126.6" y1="550.54" x2="1132.1" y2="550.54" stroke="#333" stroke-width="1.1"/>
<line x1="1126.6" y1="544.08" x2="1132.1" y2="544.08" stroke="#333" stroke-width="1.1"/>
<polyline points="1154.4,119.6 1200.8,141.3 1247.2,153.5 1293.7,165.2 1340.1,172 1386.5,182.8 1432.9,187.4 1479.3,193.2 1525.8,181 1572.2,186.5 1618.6,228.9 1665,273.6 1711.4,304.3" fill="none" stroke="#E41A1C" stroke-width="1.15" stroke-dasharray="4.5 3.5"/>
<polyline points="1154.4,118.7 1200.8,143.6 1247.2,149 1293.7,158 1340.1,157.1 1386.5,181.5 1432.9,168.8 1479.3,189.2 1525.8,193.2 1572.2,221.7 1618.6,298.9" fill="none" stroke="#377EB8" stroke-width="1.15" stroke-dasharray="4.5 3.5"/>
<polyline points="1154.4,168.4 1200.8,167.9 1247.2,167.5 1293.7,156.7 1340.1,160.7 1386.5,154.9 1432.9,153.5 1479.3,158.5 1525.8,163 1572.2,176 1618.6,224.8 1665,317.8 1711.4,391" fill="none" stroke="#4DAF4A" stroke-width="1.15" stroke-dasharray="4.5 3.5"/>
<polyline points="1154.4,78.1 1200.8,119.6 1247.2,149 1293.7,178.3 1340.1,197.7 1386.5,213.5 1432.9,226.6 1479.3,241.5 1525.8,257.8 1572.2,270.9 1618.6,301.1 1665,362 1711.4,461.4" fill="none" stroke="#E41A1C" stroke-width="1.15" stroke-dasharray="1.5 2.5 5 2.5"/>
<polyline points="1154.4,93 1200.8,121.4 1247.2,143.6 1293.7,158.9 1340.1,175.2 1386.5,191 1432.9,207.2 1479.3,224.4 1525.8,247 1572.2,276.3 1618.6,336.8 1665,431.2 1711.4,554.9" fill="none" stroke="#377EB8" stroke-width="1.15" stroke-dasharray="1.5 2.5 5 2.5"/>
<polyline points="1154.4,63.2 1200.8,118.3 1247.2,158 1293.7,193.2 1340.1,218 1386.5,239.7 1432.9,270 1479.3,307 1525.8,355.8 1572.2,450.1 1618.6,542.7" fill="none" stroke="#E41A1C" stroke-width="1.15" stroke-dasharray="1.5 2 4 2"/>
<polyline points="1154.4,67.7 1200.8,116 1247.2,151.2 1293.7,179.7 1340.1,206.8 1386.5,235.7 1432.9,266.8 1479.3,302 1525.8,355.3 1572.2,423.9 1618.6,554.4" fill="none" stroke="#377EB8" stroke-width="1.15" stroke-dasharray="1.5 2 4 2"/>
<circle cx="1154.4" cy="119.6" r="5.7" fill="#E41A1C"/>
<circle cx="1200.8" cy="141.3" r="5.7" fill="#E41A1C"/>
<circle cx="1247.2" cy="153.5" r="5.7" fill="#E41A1C"/>
<circle cx="1293.7" cy="165.2" r="5.7" fill="#E41A1C"/>
<circle cx="1340.1" cy="172" r="5.7" fill="#E41A1C"/>
<circle cx="1386.5" cy="182.8" r="5.7" fill="#E41A1C"/>
<circle cx="1432.9" cy="187.4" r="5.7" fill="#E41A1C"/>
<circle cx="1479.3" cy="193.2" r="5.7" fill="#E41A1C"/>
<circle cx="1525.8" cy="181" r="5.7" fill="#E41A1C"/>
<circle cx="1572.2" cy="186.5" r="5.7" fill="#E41A1C"/>
<circle cx="1618.6" cy="228.9" r="5.7" fill="#E41A1C"/>
<circle cx="1665" cy="273.6" r="5.7" fill="#E41A1C"/>
<circle cx="1711.4" cy="304.3" r="5.7" fill="#E41A1C"/>
<circle cx="1154.4" cy="118.7" r="5.7" fill="#377EB8"/>
<circle cx="1200.8" cy="143.6" r="5.7" fill="#377EB8"/>
<circle cx="1247.2" cy="149" r="5.7" fill="#377EB8"/>
<circle cx="1293.7" cy="158" r="5.7" fill="#377EB8"/>
<circle cx="1340.1" cy="157.1" r="5.7" fill="#377EB8"/>
<circle cx="1386.5" cy="181.5" r="5.7" fill="#377EB8"/>
<circle cx="1432.9" cy="168.8" r="5.7" fill="#377EB8"/>
<circle cx="1479.3" cy="189.2" r="5.7" fill="#377EB8"/>
<circle cx="1525.8" cy="193.2" r="5.7" fill="#377EB8"/>
<circle cx="1572.2" cy="221.7" r="5.7" fill="#377EB8"/>
<circle cx="1618.6" cy="298.9" r="5.7" fill="#377EB8"/>
<circle cx="1154.4" cy="168.4" r="5.7" fill="#4DAF4A"/>
<circle cx="1200.8" cy="167.9" r="5.7" fill="#4DAF4A"/>
<circle cx="1247.2" cy="167.5" r="5.7" fill="#4DAF4A"/>
<circle cx="1293.7" cy="156.7" r="5.7" fill="#4DAF4A"/>
<circle cx="1340.1" cy="160.7" r="5.7" fill="#4DAF4A"/>
<circle cx="1386.5" cy="154.9" r="5.7" fill="#4DAF4A"/>
<circle cx="1432.9" cy="153.5" r="5.7" fill="#4DAF4A"/>
<circle cx="1479.3" cy="158.5" r="5.7" fill="#4DAF4A"/>
<circle cx="1525.8" cy="163" r="5.7" fill="#4DAF4A"/>
<circle cx="1572.2" cy="176" r="5.7" fill="#4DAF4A"/>
<circle cx="1618.6" cy="224.8" r="5.7" fill="#4DAF4A"/>
<circle cx="1665" cy="317.8" r="5.7" fill="#4DAF4A"/>
<circle cx="1711.4" cy="391" r="5.7" fill="#4DAF4A"/>
<rect x="1150.1" y="73.8" width="8.6" height="8.6" fill="none" stroke="#E41A1C" stroke-width="1.5"/>
<rect x="1196.5" y="115.3" width="8.6" height="8.6" fill="none" stroke="#E41A1C" stroke-width="1.5"/>
<rect x="1242.9" y="144.7" width="8.6" height="8.6" fill="none" stroke="#E41A1C" stroke-width="1.5"/>
<rect x="1289.4" y="174" width="8.6" height="8.6" fill="none" stroke="#E41A1C" stroke-width="1.5"/>
<rect x="1335.8" y="193.4" width="8.6" height="8.6" fill="none" stroke="#E41A1C" stroke-width="1.5"/>
<rect x="1382.2" y="209.2" width="8.6" height="8.6" fill="none" stroke="#E41A1C" stroke-width="1.5"/>
<rect x="1428.6" y="222.3" width="8.6" height="8.6" fill="none" stroke="#E41A1C" stroke-width="1.5"/>
<rect x="1475" y="237.2" width="8.6" height="8.6" fill="none" stroke="#E41A1C" stroke-width="1.5"/>
<rect x="1521.5" y="253.5" width="8.6" height="8.6" fill="none" stroke="#E41A1C" stroke-width="1.5"/>
<rect x="1567.9" y="266.6" width="8.6" height="8.6" fill="none" stroke="#E41A1C" stroke-width="1.5"/>
<rect x="1614.3" y="296.8" width="8.6" height="8.6" fill="none" stroke="#E41A1C" stroke-width="1.5"/>
<rect x="1660.7" y="357.7" width="8.6" height="8.6" fill="none" stroke="#E41A1C" stroke-width="1.5"/>
<rect x="1707.1" y="457.1" width="8.6" height="8.6" fill="none" stroke="#E41A1C" stroke-width="1.5"/>
<rect x="1150.1" y="88.7" width="8.6" height="8.6" fill="none" stroke="#377EB8" stroke-width="1.5"/>
<rect x="1196.5" y="117.1" width="8.6" height="8.6" fill="none" stroke="#377EB8" stroke-width="1.5"/>
<rect x="1242.9" y="139.3" width="8.6" height="8.6" fill="none" stroke="#377EB8" stroke-width="1.5"/>
<rect x="1289.4" y="154.6" width="8.6" height="8.6" fill="none" stroke="#377EB8" stroke-width="1.5"/>
<rect x="1335.8" y="170.9" width="8.6" height="8.6" fill="none" stroke="#377EB8" stroke-width="1.5"/>
<rect x="1382.2" y="186.7" width="8.6" height="8.6" fill="none" stroke="#377EB8" stroke-width="1.5"/>
<rect x="1428.6" y="202.9" width="8.6" height="8.6" fill="none" stroke="#377EB8" stroke-width="1.5"/>
<rect x="1475" y="220.1" width="8.6" height="8.6" fill="none" stroke="#377EB8" stroke-width="1.5"/>
<rect x="1521.5" y="242.7" width="8.6" height="8.6" fill="none" stroke="#377EB8" stroke-width="1.5"/>
<rect x="1567.9" y="272" width="8.6" height="8.6" fill="none" stroke="#377EB8" stroke-width="1.5"/>
<rect x="1614.3" y="332.5" width="8.6" height="8.6" fill="none" stroke="#377EB8" stroke-width="1.5"/>
<rect x="1660.7" y="426.9" width="8.6" height="8.6" fill="none" stroke="#377EB8" stroke-width="1.5"/>
<rect x="1707.1" y="550.6" width="8.6" height="8.6" fill="none" stroke="#377EB8" stroke-width="1.5"/>
<path d="M1154.4,56.6L1160.67,67.29L1148.13,67.29Z" fill="none" stroke="#E41A1C" stroke-width="1.5"/>
<path d="M1200.82,111.7L1207.09,122.39L1194.55,122.39Z" fill="none" stroke="#E41A1C" stroke-width="1.5"/>
<path d="M1247.24,151.4L1253.51,162.09L1240.97,162.09Z" fill="none" stroke="#E41A1C" stroke-width="1.5"/>
<path d="M1293.66,186.6L1299.93,197.29L1287.39,197.29Z" fill="none" stroke="#E41A1C" stroke-width="1.5"/>
<path d="M1340.08,211.4L1346.35,222.09L1333.81,222.09Z" fill="none" stroke="#E41A1C" stroke-width="1.5"/>
<path d="M1386.5,233.1L1392.77,243.79L1380.23,243.79Z" fill="none" stroke="#E41A1C" stroke-width="1.5"/>
<path d="M1432.92,263.4L1439.19,274.09L1426.65,274.09Z" fill="none" stroke="#E41A1C" stroke-width="1.5"/>
<path d="M1479.34,300.4L1485.61,311.09L1473.07,311.09Z" fill="none" stroke="#E41A1C" stroke-width="1.5"/>
<path d="M1525.76,349.2L1532.03,359.89L1519.49,359.89Z" fill="none" stroke="#E41A1C" stroke-width="1.5"/>
<path d="M1572.18,443.5L1578.45,454.19L1565.91,454.19Z" fill="none" stroke="#E41A1C" stroke-width="1.5"/>
<path d="M1618.6,536.1L1624.87,546.79L1612.33,546.79Z" fill="none" stroke="#E41A1C" stroke-width="1.5"/>
<path d="M1154.4,61.1L1160.67,71.79L1148.13,71.79Z" fill="none" stroke="#377EB8" stroke-width="1.5"/>
<path d="M1200.82,109.4L1207.09,120.09L1194.55,120.09Z" fill="none" stroke="#377EB8" stroke-width="1.5"/>
<path d="M1247.24,144.6L1253.51,155.29L1240.97,155.29Z" fill="none" stroke="#377EB8" stroke-width="1.5"/>
<path d="M1293.66,173.1L1299.93,183.79L1287.39,183.79Z" fill="none" stroke="#377EB8" stroke-width="1.5"/>
<path d="M1340.08,200.2L1346.35,210.89L1333.81,210.89Z" fill="none" stroke="#377EB8" stroke-width="1.5"/>
<path d="M1386.5,229.1L1392.77,239.79L1380.23,239.79Z" fill="none" stroke="#377EB8" stroke-width="1.5"/>
<path d="M1432.92,260.2L1439.19,270.89L1426.65,270.89Z" fill="none" stroke="#377EB8" stroke-width="1.5"/>
<path d="M1479.34,295.4L1485.61,306.09L1473.07,306.09Z" fill="none" stroke="#377EB8" stroke-width="1.5"/>
<path d="M1525.76,348.7L1532.03,359.39L1519.49,359.39Z" fill="none" stroke="#377EB8" stroke-width="1.5"/>
<path d="M1572.18,417.3L1578.45,427.99L1565.91,427.99Z" fill="none" stroke="#377EB8" stroke-width="1.5"/>
<path d="M1618.6,547.8L1624.87,558.49L1612.33,558.49Z" fill="none" stroke="#377EB8" stroke-width="1.5"/>
<rect x="1126.6" y="27.8" width="612.7" height="554" fill="none" stroke="#4d4d4d" stroke-width="1.4"/>
<line x1="1121.1" y1="32.9" x2="1126.6" y2="32.9" stroke="#333" stroke-width="1.8"/>
<text x="1117.1" y="41.2" font-size="24.09" text-anchor="end" fill="#4d4d4d" stroke="#4d4d4d" stroke-width="0.3" textLength="67.6" lengthAdjust="spacingAndGlyphs">100.00</text>
<line x1="1121.1" y1="159.25" x2="1126.6" y2="159.25" stroke="#333" stroke-width="1.8"/>
<text x="1117.1" y="167.55" font-size="24.09" text-anchor="end" fill="#4d4d4d" stroke="#4d4d4d" stroke-width="0.3" textLength="55.31" lengthAdjust="spacingAndGlyphs">10.00</text>
<line x1="1121.1" y1="285.6" x2="1126.6" y2="285.6" stroke="#333" stroke-width="1.8"/>
<text x="1117.1" y="293.9" font-size="24.09" text-anchor="end" fill="#4d4d4d" stroke="#4d4d4d" stroke-width="0.3" textLength="43.01" lengthAdjust="spacingAndGlyphs">1.00</text>
<line x1="1121.1" y1="411.95" x2="1126.6" y2="411.95" stroke="#333" stroke-width="1.8"/>
<text x="1117.1" y="420.25" font-size="24.09" text-anchor="end" fill="#4d4d4d" stroke="#4d4d4d" stroke-width="0.3" textLength="43.01" lengthAdjust="spacingAndGlyphs">0.10</text>
<line x1="1121.1" y1="538.3" x2="1126.6" y2="538.3" stroke="#333" stroke-width="1.8"/>
<text x="1117.1" y="546.6" font-size="24.09" text-anchor="end" fill="#4d4d4d" stroke="#4d4d4d" stroke-width="0.3" textLength="43.01" lengthAdjust="spacingAndGlyphs">0.01</text>
<line x1="1154.4" y1="581.8" x2="1154.4" y2="587.3" stroke="#333" stroke-width="1.8"/>
<text x="1154.4" y="610" font-size="24.09" text-anchor="middle" fill="#4d4d4d" stroke="#4d4d4d" stroke-width="0.3" textLength="12.29" lengthAdjust="spacingAndGlyphs">1</text>
<line x1="1200.82" y1="581.8" x2="1200.82" y2="587.3" stroke="#333" stroke-width="1.8"/>
<text x="1200.82" y="610" font-size="24.09" text-anchor="middle" fill="#4d4d4d" stroke="#4d4d4d" stroke-width="0.3" textLength="12.29" lengthAdjust="spacingAndGlyphs">2</text>
<line x1="1247.24" y1="581.8" x2="1247.24" y2="587.3" stroke="#333" stroke-width="1.8"/>
<text x="1247.24" y="610" font-size="24.09" text-anchor="middle" fill="#4d4d4d" stroke="#4d4d4d" stroke-width="0.3" textLength="12.29" lengthAdjust="spacingAndGlyphs">3</text>
<line x1="1293.66" y1="581.8" x2="1293.66" y2="587.3" stroke="#333" stroke-width="1.8"/>
<text x="1293.66" y="610" font-size="24.09" text-anchor="middle" fill="#4d4d4d" stroke="#4d4d4d" stroke-width="0.3" textLength="12.29" lengthAdjust="spacingAndGlyphs">4</text>
<line x1="1340.08" y1="581.8" x2="1340.08" y2="587.3" stroke="#333" stroke-width="1.8"/>
<text x="1340.08" y="610" font-size="24.09" text-anchor="middle" fill="#4d4d4d" stroke="#4d4d4d" stroke-width="0.3" textLength="12.29" lengthAdjust="spacingAndGlyphs">5</text>
<line x1="1386.5" y1="581.8" x2="1386.5" y2="587.3" stroke="#333" stroke-width="1.8"/>
<text x="1386.5" y="610" font-size="24.09" text-anchor="middle" fill="#4d4d4d" stroke="#4d4d4d" stroke-width="0.3" textLength="12.29" lengthAdjust="spacingAndGlyphs">6</text>
<line x1="1432.92" y1="581.8" x2="1432.92" y2="587.3" stroke="#333" stroke-width="1.8"/>
<text x="1432.92" y="610" font-size="24.09" text-anchor="middle" fill="#4d4d4d" stroke="#4d4d4d" stroke-width="0.3" textLength="12.29" lengthAdjust="spacingAndGlyphs">7</text>
<line x1="1479.34" y1="581.8" x2="1479.34" y2="587.3" stroke="#333" stroke-width="1.8"/>
<text x="1479.34" y="610" font-size="24.09" text-anchor="middle" fill="#4d4d4d" stroke="#4d4d4d" stroke-width="0.3" textLength="12.29" lengthAdjust="spacingAndGlyphs">8</text>
<line x1="1525.76" y1="581.8" x2="1525.76" y2="587.3" stroke="#333" stroke-width="1.8"/>
<text x="1525.76" y="610" font-size="24.09" text-anchor="middle" fill="#4d4d4d" stroke="#4d4d4d" stroke-width="0.3" textLength="12.29" lengthAdjust="spacingAndGlyphs">9</text>
<line x1="1572.18" y1="581.8" x2="1572.18" y2="587.3" stroke="#333" stroke-width="1.8"/>
<text x="1572.18" y="610" font-size="24.09" text-anchor="middle" fill="#4d4d4d" stroke="#4d4d4d" stroke-width="0.3" textLength="24.58" lengthAdjust="spacingAndGlyphs">10</text>
<line x1="1618.6" y1="581.8" x2="1618.6" y2="587.3" stroke="#333" stroke-width="1.8"/>
<text x="1618.6" y="610" font-size="24.09" text-anchor="middle" fill="#4d4d4d" stroke="#4d4d4d" stroke-width="0.3" textLength="22.94" lengthAdjust="spacingAndGlyphs">11</text>
<line x1="1665.02" y1="581.8" x2="1665.02" y2="587.3" stroke="#333" stroke-width="1.8"/>
<text x="1665.02" y="610" font-size="24.09" text-anchor="middle" fill="#4d4d4d" stroke="#4d4d4d" stroke-width="0.3" textLength="24.58" lengthAdjust="spacingAndGlyphs">12</text>
<line x1="1711.44" y1="581.8" x2="1711.44" y2="587.3" stroke="#333" stroke-width="1.8"/>
<text x="1711.44" y="610" font-size="24.09" text-anchor="middle" fill="#4d4d4d" stroke="#4d4d4d" stroke-width="0.3" textLength="24.58" lengthAdjust="spacingAndGlyphs">13</text>
<text x="1432.95" y="636.5" font-size="28.34" text-anchor="middle" stroke="#000" stroke-width="0.3" textLength="264.44" lengthAdjust="spacingAndGlyphs">Number of tumor types</text>
<text x="1039.5" y="304.8" font-size="28.34" text-anchor="middle" stroke="#000" stroke-width="0.3" transform="rotate(-90 1039.5 304.8)" textLength="241.33" lengthAdjust="spacingAndGlyphs">Percentage of DMRs</text>
<circle cx="1183.7" cy="316.7" r="5.7" fill="#000"/>
<text x="1209.6" y="323.5" font-size="23.87" stroke="#000" stroke-width="0.3" textLength="61.38" lengthAdjust="spacingAndGlyphs">DMRs</text>
<rect x="1179.5" y="343.9" width="8.4" height="8.4" fill="none" stroke="#000" stroke-width="1.4"/>
<text x="1209.6" y="355.7" font-size="23.87" stroke="#000" stroke-width="0.3" textLength="135.12" lengthAdjust="spacingAndGlyphs">Sites (lenient)</text>
<path d="M1183.7,374L1189.97,384.69L1177.43,384.69Z" fill="none" stroke="#000" stroke-width="1.4"/>
<text x="1209.6" y="387.9" font-size="23.87" stroke="#000" stroke-width="0.3" textLength="154.76" lengthAdjust="spacingAndGlyphs">Sites (stringent)</text>
<circle cx="1183.7" cy="464.8" r="5.7" fill="#E41A1C"/>
<text x="1209.6" y="471.6" font-size="23.87" stroke="#000" stroke-width="0.3" textLength="58.95" lengthAdjust="spacingAndGlyphs">Hyper</text>
<circle cx="1183.7" cy="497.1" r="5.7" fill="#377EB8"/>
<text x="1209.6" y="503.9" font-size="23.87" stroke="#000" stroke-width="0.3" textLength="51.59" lengthAdjust="spacingAndGlyphs">Hypo</text>
<circle cx="1183.7" cy="529.4" r="5.7" fill="#4DAF4A"/>
<text x="1209.6" y="536.2" font-size="23.87" stroke="#000" stroke-width="0.3" textLength="110.55" lengthAdjust="spacingAndGlyphs">Hypo-block</text>
<text x="987" y="22.8" font-size="32" stroke="#000" stroke-width="0.3" font-weight="bold" font-family="'DejaVu Sans', sans-serif">b</text>
</g>
<g id="pc">
<rect x="118.1" y="698.6" width="672.6" height="625.9" fill="#fff"/>
<line x1="186.4" y1="698.6" x2="186.4" y2="1324.5" stroke="#EBEBEB" stroke-width="0.9"/>
<line x1="118.1" y1="1283.7" x2="790.7" y2="1283.7" stroke="#EBEBEB" stroke-width="0.9"/>
<line x1="354.4" y1="698.6" x2="354.4" y2="1324.5" stroke="#EBEBEB" stroke-width="0.9"/>
<line x1="118.1" y1="1115.7" x2="790.7" y2="1115.7" stroke="#EBEBEB" stroke-width="0.9"/>
<line x1="522.4" y1="698.6" x2="522.4" y2="1324.5" stroke="#EBEBEB" stroke-width="0.9"/>
<line x1="118.1" y1="947.7" x2="790.7" y2="947.7" stroke="#EBEBEB" stroke-width="0.9"/>
<line x1="690.4" y1="698.6" x2="690.4" y2="1324.5" stroke="#EBEBEB" stroke-width="0.9"/>
<line x1="118.1" y1="779.7" x2="790.7" y2="779.7" stroke="#EBEBEB" stroke-width="0.9"/>
<line x1="270.4" y1="698.6" x2="270.4" y2="1324.5" stroke="#EBEBEB" stroke-width="1.7"/>
<line x1="438.4" y1="698.6" x2="438.4" y2="1324.5" stroke="#EBEBEB" stroke-width="1.7"/>
<line x1="606.4" y1="698.6" x2="606.4" y2="1324.5" stroke="#EBEBEB" stroke-width="1.7"/>
<line x1="774.4" y1="698.6" x2="774.4" y2="1324.5" stroke="#EBEBEB" stroke-width="1.7"/>
<line x1="118.1" y1="1199.7" x2="790.7" y2="1199.7" stroke="#EBEBEB" stroke-width="1.7"/>
<line x1="118.1" y1="1031.7" x2="790.7" y2="1031.7" stroke="#EBEBEB" stroke-width="1.7"/>
<line x1="118.1" y1="863.7" x2="790.7" y2="863.7" stroke="#EBEBEB" stroke-width="1.7"/>
<path d="M403.6,1066.4h0M409.5,1069.3h0M375.3,1061.3h0M422.4,1091.1h0M365.7,1039.2h0M425,1072.3h0M375.9,1032.7h0M410.7,1074.9h0M408.7,1077.3h0M404.2,1036.6h0M444.7,1082.1h0M389.1,1031.4h0M436.9,1049.5h0M445.4,1048h0M457.2,1096.9h0M364.9,1042.3h0M368.2,1033.2h0M366.4,1013.4h0M415,1054.5h0M375.9,1084.6h0M369.6,1075.3h0M368.1,1051.7h0M378.3,1035.7h0M387.9,1100.8h0M378,1048.9h0M446.2,1075.1h0M378.3,1034.5h0M437.6,1041.9h0M381.5,1070.8h0M395.1,1055.1h0M416.6,1098.9h0M375.1,1023.4h0M452,1093.7h0M382.1,1027.2h0M434.1,1106.7h0M381,1081.7h0M382.9,1094.4h0M418.9,1038.2h0M374.3,1083.4h0M363,1031.3h0M415,1097.4h0M374.4,1046.2h0M394.1,1101.5h0M428.9,1069h0M370.6,1010.8h0M406.8,1084.5h0M433.8,1102.5h0M433.8,1081.6h0M439.8,1104h0M393,1079.7h0M451.2,1099.4h0M421.9,1047.6h0M417.4,1071.6h0M432.9,1048.2h0M433.6,1068.6h0M406.7,1031.5h0M429.7,1059.8h0M420.8,1104.6h0M387.6,1078.9h0M377.2,1025.1h0M402.5,1101.6h0M390.4,1077.6h0M376.7,1052.7h0M441.1,1103.9h0M417.5,1040.6h0M370.1,1059.7h0M444.4,1097h0M385,1025h0M403.5,1036.2h0M378.4,1050.9h0M422,1059.4h0M389.1,1096h0M430.8,1067.5h0M388.5,1090.9h0M370.6,1012.1h0M422.4,1054.4h0M422.5,1076.5h0M441.3,1108.6h0M429.6,1062.2h0M420.8,1087.2h0M454.5,1083.6h0M369.5,1055.1h0M422,1103.5h0M395.6,1067.4h0M448.9,1091.5h0M432.2,1093.8h0M412.6,1090.9h0M389.7,1103.5h0M364.5,1053.8h0M414,1088.5h0M391.2,1090.6h0M370.6,1022.8h0M410.4,1083.7h0M444.7,1080.1h0M379.2,1062.9h0M386.5,1084.3h0M423.4,1062.5h0M388.7,1047.5h0M445.3,1102.5h0M412.5,1060.4h0M415.3,1059.1h0M412.8,1050.9h0M384.2,1057.2h0M369.2,1053h0M442.1,1102.5h0M406.2,1040.7h0M376,1072.6h0M376.3,1031.2h0M428.5,1041.2h0M393.4,1072.8h0M368.7,1061.2h0M382.3,1028h0M411.9,1053.4h0M395.5,1050.9h0M377.4,1074h0M423.4,1063.2h0M445.9,1071.9h0M434.2,1093h0M381.1,1084.1h0M383.2,1017.4h0M398.4,1079.7h0M428,1103.6h0M409.3,1087.4h0M409,1079.7h0M375.7,1014.6h0M367,1011.1h0M414.2,1061.6h0M375.3,1028.7h0M444.7,1112h0M390.3,1056.6h0M410.3,1052.7h0M430,1096.5h0M374.9,1055.2h0M434,1050h0M376.4,1024.6h0M450.3,1092h0M430.4,1098.3h0M422.4,1049.9h0M419.2,1060.5h0M434.6,1089.5h0M442,1050.1h0M450.7,1100.3h0M429.3,1088.4h0M436.8,1050.1h0M391.9,1056.8h0M356.8,1044.8h0M423.4,1073.2h0M426.3,1042.9h0M425.6,1067.4h0M412.2,1048.4h0M430,1087.8h0M420.9,1085.4h0M382.9,1049.6h0M361.1,1027.8h0M414,1060.9h0M419,1087.5h0M372.7,1057.1h0M373.6,1059.6h0M411.5,1070.4h0M394.4,1037.4h0M425.1,1066.5h0M385.8,1083h0M372.3,1087h0M397,1102.2h0M401.2,1057.7h0M432.3,1056.7h0M421.9,1055.4h0M377.3,1012.6h0M402.6,1077.8h0M404,1034.9h0M417.4,1051.5h0M438.1,1063.3h0M438.8,1073.3h0M393.8,1035.9h0M428.3,1066.9h0M418.4,1074.2h0M452.7,1100.2h0M384.4,1052.1h0M414.1,1074h0M395.3,1057.8h0M434.6,1095.9h0M363.6,1019.8h0M441.4,1073.2h0M400.7,1034.4h0M441.5,1046.2h0M390.2,1065.2h0M434.8,1104.6h0M401,1046.2h0M364,1015.9h0M415.5,1058.5h0M428.3,1038.8h0M378.3,1077.2h0M364.4,1039.3h0M385.7,1022.2h0M393.6,1084h0M430.9,1067.4h0M389.4,1049.4h0M454.7,1101.9h0M394.4,1045.6h0M397.6,1048.2h0M376.4,1066.8h0M440.2,1064.4h0M374.4,1087.5h0M413.4,1067.2h0M413.6,1090.6h0M364.6,1015.7h0M433.8,1102.3h0M371,1086.1h0M379.1,1088.2h0M411,1088.1h0M397.5,1042.9h0M408,1064h0M443.3,1077.7h0M446.1,1092.5h0M444.1,1101.2h0M411.2,1082.3h0M440.7,1051.8h0M395.5,1024.9h0M377.4,1052.1h0M362,1039.8h0M362.3,1055.7h0M417.6,1103.4h0M359.6,1018.6h0M375.3,1030.1h0M380.7,1083.1h0M375.3,1036.9h0M374,1087.3h0M388.7,1065.2h0M406.8,1030.5h0M440.6,1047.9h0M411.6,1061.7h0M395.1,1091.5h0M431.3,1071.3h0M372.4,1023.7h0M389.8,1034.6h0M384,1063.7h0M371.7,1088.7h0M445.4,1094.2h0M364.4,1035.7h0M406.6,1056.7h0M439.3,1051.3h0M413.3,1062.8h0M388.7,1040h0M363.8,1039.5h0M405.2,1082.9h0M393.8,1079.9h0M366.9,1048.9h0M443.6,1076.4h0M415.5,1055.6h0M395.5,1064.3h0M397.3,1077.7h0M382.9,1028.3h0M433.2,1042h0M432.4,1042.2h0M370.6,1017.1h0M374.8,1049.7h0M444.4,1069.9h0M365.3,1031.1h0M372.4,1020.2h0M409.9,1075.7h0M437,1094.1h0M396.6,1042.2h0M398.2,1081.2h0M425.7,1071.6h0M357.7,1042.2h0M392,1076h0M367,1047.1h0M409.7,1090.6h0M443.1,1071.9h0M372.5,1088.3h0M393.1,1060.1h0M370.7,1082.7h0M431.5,1095.6h0M364.5,1033h0M416.8,1080.9h0M394,1056.1h0M413.3,1066.5h0M415.1,1035.1h0M442.3,1070.8h0M386.3,1102.1h0M381.2,1067.9h0M359.1,1026.2h0M425.5,1039.7h0M396.1,1069.8h0M376.9,1056.7h0M370.9,1048h0M410.8,1035h0M415.9,1042.3h0M405.5,1050.7h0M436,1086.7h0M444.5,1097.7h0M399,1053.1h0M415.7,1103h0M411.4,1062.7h0M401.5,1102.9h0M432.6,1102.5h0M433.3,1070.4h0M435.4,1039.4h0M368.9,1054.4h0M409,1049.1h0M411.5,1032.4h0M388.2,1049h0M380.7,1014.3h0M426.2,1098.9h0M379.2,1086.2h0M415.8,1102.8h0M368.8,1064h0M450.5,1093.5h0M397.8,1044.9h0M388.3,1059.9h0M405.8,1029h0M377.1,1074.1h0M361,1018.3h0M432.6,1040.2h0M451.1,1099.2h0M429.4,1106.4h0M374.9,1032h0M426.1,1090.8h0M395.2,1077.2h0M385,1074.9h0M402.4,1063.1h0M382.3,1092.2h0M364.9,1037.3h0M385.3,1065.2h0M404.6,1086.6h0M414.6,1075.4h0M393.8,1076.8h0M438.7,1061.8h0M409.3,1096.7h0M428.2,1062.2h0M439,1090.9h0M380.7,1058.9h0M379.2,1068.5h0M418.9,1082.8h0M416.4,1099.6h0M374.8,1023.2h0M401.8,1053.9h0M383.6,1091.7h0M416,1064.6h0M371.2,1040h0M360.2,1040.4h0M421.5,1062.8h0M383.8,1069.5h0M373.9,1034.1h0M372.6,1080.3h0M443.7,1090.4h0M362.2,1050.6h0M394.3,1030h0M407.6,1087.7h0M404,1086h0M359.9,1032.6h0M397.3,1038.7h0M436.6,1084.9h0M380.1,1033.9h0M414.2,1032.7h0M394.3,1042.8h0M359.9,1049.8h0M392.1,1080.7h0M396.1,1089.9h0M375.2,1065.3h0M373.1,1028.7h0M378.4,1056.6h0M388.4,1054.5h0M429,1045.5h0M375,1034.9h0M431.5,1035.5h0M394,1023.4h0M436.8,1083.7h0M389.8,1047.8h0M390.2,1088.7h0M397.5,1032.3h0M360,1023.1h0M388.8,1052h0M432.6,1077.7h0M371.3,1028.8h0M385.4,1082.6h0M398.7,1048h0M415.7,1092.8h0M426.8,1104.5h0M378.6,1080.1h0M401,1048.7h0M362.1,1047.7h0M390.5,1059.8h0M385.4,1023.9h0M398.4,1057.4h0M373.4,1077.6h0M381.1,1016.9h0M391.9,1051.8h0M371.7,1068.8h0M430,1065.7h0M397.2,1045.7h0M362.4,1049.9h0M417.8,1056.8h0M390.2,1033.9h0M358.2,1043.9h0M383.5,1077.9h0M375.4,1056.8h0M394.1,1068.1h0M422.2,1072.9h0M399.3,1051.1h0M385,1095h0M370.1,1060.8h0M388.4,1045.3h0M376.1,1031.3h0M397.4,1032.4h0M408,1076h0M413.8,1073.2h0M415.1,1095.1h0M392.4,1101h0M388.9,1082.9h0M457.8,1094.4h0M372.6,1072.9h0M407.7,1066.8h0M394.9,1037.4h0M435.1,1063.7h0M380.8,1033.5h0M390.1,1025.9h0M362.4,1014.4h0M367.7,1054.9h0M382.6,1060.9h0M440.1,1048.6h0M431.5,1041.7h0M391.1,1087.5h0M445,1094.9h0M415.8,1051.6h0M430.6,1073.1h0M443.8,1092h0M369,1047h0M428.6,1051.5h0M422.6,1049.1h0M368.3,1011.6h0M386,1084.6h0M413.2,1058.3h0M395.3,1039.8h0M440.5,1095.9h0M410.8,1022.1h0M439,1026.2h0M442.1,1059.1h0M430.8,1115.1h0M455.5,1116.1h0M488.4,1092.5h0M416.4,1010.2h0M398.9,1001.9h0M471.9,942.3h0M437,980.3h0M551.1,1228.3h0" fill="none" stroke="#CDE378" stroke-width="8.2" stroke-linecap="round"/>
<path d="M354.3,1243.6h0M363.5,1190.6h0M338.8,1087.7h0M319,1063.3h0M348.1,1093.4h0M304.3,1268.3h0M338.3,1158.8h0M359.1,1209.2h0M313.4,1285.6h0M333.3,1260.2h0M323.2,1240.8h0M317.3,1182.9h0M343.5,1254.5h0M375.4,1236.4h0M328.1,1252.8h0M379.6,1244.2h0M349.4,1113.6h0M326.7,1147.9h0M359.1,1254.6h0M323.9,1212.9h0M369.4,1190.7h0M322.2,1162.8h0M328.5,1136.3h0M344.6,1288.8h0M304.6,1271.5h0M318.6,1240.9h0M331.8,1291.3h0M312.9,1222.3h0M357.5,1109.9h0M354.2,1273.2h0M340.8,1195.9h0M293.7,1261.1h0M363,1168.2h0M326.3,1114.2h0M352.3,1197.1h0M342,1066.4h0M336.4,1298.6h0M328.4,1268.3h0M339.1,1115.2h0M381.1,1215.6h0M376,1182.3h0M384.7,1230.6h0M310.2,1253.7h0M313.7,1214.2h0M374.7,1177.3h0M309.1,1252h0M382.9,1244.9h0M346.1,1277.6h0M324,1082.9h0M384.1,1260.2h0M326.8,1263.9h0M354.3,1276.6h0M304.9,1210.7h0M385.5,1234.5h0M303.7,1220.2h0M331.8,1062.3h0M320.9,1134.9h0M352.6,1226.6h0M363.5,1171.4h0M393.3,1206.1h0M331.1,1256.9h0M329.2,1169h0M341,1286.2h0M321.7,1228.7h0M308.3,1198.7h0M314.3,1269.6h0M314.5,1265.2h0M361.4,1168.6h0M369.5,1204h0M334,1074.1h0M330.4,1126.6h0M333.1,1289.4h0M315.3,1226.6h0M329.5,1090.6h0M330.6,1141.2h0M378.7,1264.2h0M351.1,1190.6h0M292,1275.3h0M325.1,1233.4h0M336.5,1146.1h0M335.9,1135h0M360.7,1205h0M379.7,1215.7h0M328.3,1217.2h0M300.1,1215.5h0M355,1238h0M310.5,1254.7h0M368,1246.2h0M344.5,1187.6h0M293.4,1249.4h0M316.3,1181.3h0M329.8,1071.8h0M347.2,1169.7h0M328.9,1206.6h0M329.8,1061.2h0M298.5,1256.5h0M368.4,1230.9h0M316.2,1292.2h0M357.4,1263.5h0M293.5,1280.7h0M319.6,1176.8h0M358.7,1273h0M340.3,1277.1h0M327.5,1131h0M324.3,1162.4h0M337.4,1145.3h0M331.8,1167.6h0M286,1260.6h0M324.8,1134.6h0M338.3,1114.3h0M370.2,1176.4h0M324,1203.2h0M324.4,1131.4h0M317.9,1178.9h0M342.1,1240.8h0M375.8,1161.5h0M314.4,1223h0M318.2,1256.7h0M374.9,1213.9h0M346.4,1282.8h0M392.4,1240.6h0M374,1165.1h0M333.9,1164.2h0M293.9,1260.2h0M360.2,1191.1h0M317.3,1289.2h0M347.4,1281.6h0M344.5,1261.5h0M294.8,1269.8h0M336.9,1066.2h0M332,1149.9h0M361.2,1283h0M339.4,1225.3h0M326.7,1246.8h0M292.7,1238.1h0M351.2,1184.3h0M326.8,1197.4h0M350.3,1174.8h0M311.4,1235.2h0M349.2,1120.8h0M287.7,1258h0M325.4,1231.8h0M332.1,1207.9h0M338.6,1114.5h0M316.9,1263.5h0M348.4,1191.9h0M394.4,1243.5h0M372.1,1199.4h0M394.5,1232.3h0M315,1265.9h0M344.7,1119.9h0M313.4,1181.7h0M383.5,1265.2h0M353.3,1190.1h0M368.3,1187.8h0M359.4,1280.8h0M323.7,1248.9h0M324.6,1234.9h0M293.3,1286h0M382.9,1248.3h0M343.4,1103.2h0M343.4,1144.3h0M340.1,1106.4h0M338.5,1077.7h0M338.6,1193.4h0M320.4,1228.3h0M351.1,1224.4h0M353.7,1206.8h0M342.5,1290.6h0M379.9,1225h0M342.6,1198.8h0M371.2,1253.9h0M320.4,1142.4h0M311.6,1200.2h0M343.3,1139.7h0M361.2,1168.6h0M308.2,1271.8h0M310.5,1174.4h0M308.7,1216.8h0M311.3,1185h0M310.7,1270.6h0M316.3,1138.3h0M367.4,1221.6h0M375.1,1189.2h0M329.9,1297.9h0M324.6,1144.8h0M326.6,1091.4h0M375,1247.7h0M320.7,1249.7h0M325.7,1128h0M351.4,1237.9h0M337.3,1256.4h0M325.8,1074.4h0M304.7,1270.9h0M321.2,1283.6h0M297.1,1231.3h0M296.3,1222.6h0M386.2,1234.2h0M324.8,1087.7h0M312.9,1285.6h0M321.8,1070.5h0M345,1195.9h0M371.7,1186h0M306.8,1077.2h0M317.2,1242.5h0M335.3,1204.4h0M381.8,1171h0M303,1286.8h0M300.8,1236.6h0M306.4,1251.8h0M340.1,1216.4h0M336.9,1209.4h0M318.2,1144.8h0M386.4,1199.1h0M335.4,1139h0M350.2,1096.7h0M291.7,1224.8h0M321.8,1193.8h0M339.8,1281.6h0M341.9,1150.2h0M312.4,1197.4h0M356,1170.4h0M338,1213.6h0M333.3,1079.1h0M379.8,1251.5h0M310.6,1276.9h0M340.7,1161.6h0M346.8,1287.3h0M339,1175.2h0M315,1262h0M340.5,1141.4h0M380.4,1252.8h0M362.5,1251.4h0M365.6,1254.3h0M309.4,1280.9h0M321.3,1250h0M353.5,1278.8h0M392.2,1214.4h0M302.4,1226.4h0M384.4,1244.4h0M374.5,1269.8h0M348.5,1286.7h0M356.9,1177.5h0M326.3,1144.1h0M358.7,1246h0M363.6,1183.3h0M302.5,1215.2h0M319.8,1282.7h0M394.6,1208.3h0M342.9,1176.6h0M284.3,1267.1h0M344.4,1173h0M304,1199h0M322.8,1186h0M394.2,1213.2h0M329.9,1157h0M332.1,1224.4h0M371.8,1192.8h0M357.2,1285.4h0M343.5,1104.4h0M312.8,1232.6h0M372.3,1215.2h0M365,1169h0M332,1084.4h0M337.2,1289.4h0M363.6,1164.4h0M349,1238.5h0M328.5,1215.7h0M362,1207.4h0M337,1062.7h0M336.4,1084.2h0M338.6,1200.7h0M306.6,1267.9h0M341.2,1157.8h0M328,1273h0M311,1249.9h0M365.2,1167h0M324,1164.2h0M334.5,1134.9h0M316.6,1245.4h0M334.8,1173.1h0M385.9,1168.5h0M325.3,1275.7h0M328.3,1220.9h0M358.9,1220.3h0M332.4,1216.6h0M307.2,1244.8h0M321.1,1230.7h0M353.8,1112h0M303.7,1279.3h0M378.8,1261h0M327.1,1201.3h0M365.7,1242.7h0M369.9,1198.6h0M310.3,1229.1h0M347.6,1190.2h0M313,1195.7h0M343.6,1178.3h0M387.5,1219h0M314.8,1253.5h0M330.6,1093.7h0M348.5,1289.1h0M322.4,1242.1h0M363.3,1225.5h0M325.1,1217.5h0M375.6,1237.3h0M311.8,1176.9h0M378.6,1266.4h0M305.4,1228.7h0M337,1134.5h0M333.2,1255h0M306.8,1208.4h0M321.1,1165h0M331.9,1258.7h0M390.2,1222.3h0M307.5,1232.3h0M287.5,1261.9h0M352.2,1267.1h0M360.3,1226.7h0M318.8,1171.6h0M314.8,1194.3h0M322.8,1145.6h0M317.4,1201.7h0M381.8,1172h0M386.8,1240.9h0M354.9,1218h0M363.3,1179.6h0M329.7,1152.9h0M340.7,1171.9h0M343.7,1187.5h0M316.2,1066.3h0M375.8,1208.6h0M384.5,1260.7h0M362.3,1225.8h0M369.6,1168.5h0M390.4,1260.6h0M383.7,1183.6h0M347.7,1285.7h0M332.4,1242.9h0M388.4,1221.6h0M345.4,1140h0M349.5,1211.3h0M320.2,1290.2h0M378,1233.7h0M284.1,1251.5h0M337,1290.2h0M356.4,1207.3h0M339.6,1292.7h0M390.4,1221.7h0M381.6,1228h0M366.3,1177.9h0M351.3,1279.7h0M340.1,1243.7h0M348,1116.4h0M302.8,1233.8h0M289.4,1267.6h0M336.3,1262.6h0M354.6,1238.9h0M371.6,1233.2h0M286.2,1258.1h0M381.9,1204h0M304.1,1213.4h0M341.1,1152.4h0M337.1,1068.2h0M354,1105.4h0M386.8,1200.7h0M326.1,1229.8h0M324.8,1229.5h0M370.3,1248.2h0M382.6,1243.7h0M369.1,1267.9h0M323.6,1205h0M349.5,1273.8h0M347.9,1090.4h0M318.9,1205.3h0M347,1140.7h0M338,1233.3h0M330.7,1135.4h0M327.8,1134.2h0M369.3,1170.5h0M304.4,1207.7h0M367.9,1197h0M379.2,1223.9h0M345.9,1265.6h0M324.8,1085.9h0M344,1089.6h0M352.6,1257.9h0M321.5,1087.7h0M360.8,1234.7h0M386.4,1192.6h0M350.1,1267.3h0M314.5,1245.8h0M356.2,1171.9h0M311.7,1204h0M341.3,1182h0M353,1223.5h0M314.9,1168.8h0M340.9,1253h0M327.5,1281.2h0M338.2,1154.8h0M337.7,1145h0M328.1,1077.8h0M352.5,1243.2h0M333.5,1130h0M324.3,1273.4h0M386.6,1175.4h0M387.2,1239.7h0M297.3,1247.2h0M358.5,1172.3h0M388.4,1249.8h0M352.6,1172.3h0M316.2,1280.3h0M305.1,1214.1h0M288.9,1281.9h0M394.2,1208h0M318.6,1233.6h0M388.7,1250.8h0M309.9,1192h0M369.5,1242.2h0M320.5,1160.2h0M363.8,1234.5h0M335.8,1087.2h0M379.5,1178.6h0M324.4,1101.2h0M397.3,1205h0M295.5,1228.5h0M372.7,1205.7h0M329,1215.3h0M325.1,1157.9h0M324.1,1215.1h0M322.4,1143.7h0M381.9,1251.9h0M361.4,1262.6h0M326.5,1214h0M292.1,1251.6h0M325.5,1086.9h0M310.6,1242.1h0M307.2,1270.8h0M322.5,1173.1h0M331.1,1125.9h0M356.9,1252.6h0M375.3,1204.4h0M322.6,1293.6h0M323.3,1281.6h0M384.5,1197.5h0M295.2,1253.9h0M329.4,1096.4h0M371.2,1214.7h0M336.9,1246.6h0M343.8,1158.6h0M342,1231h0M362.9,1196.4h0M374.9,1258.1h0M332.8,1171.1h0M347.9,1126.2h0M381.8,1252.8h0M291.2,1272.3h0M372.5,1201.5h0M342.6,1107.8h0M335.6,1120.8h0M299.1,1258.3h0M371,1256.4h0M307.8,1276.2h0M309,1215.4h0M366.7,1246.2h0M332.6,1169.1h0M336.3,1148.1h0M334.8,1224.3h0M348.2,1093.7h0M323.2,1066.5h0M324.4,1133.8h0M307.8,1233.6h0M372.5,1236.7h0M316.5,1167.9h0M322.7,1172.7h0M316.4,1165.5h0M381,1223.2h0M304.5,1275.7h0M384.2,1181.9h0M393.4,1202.5h0M309.5,1235.4h0M315,1062.7h0M339.1,1149.9h0M312.5,1071.1h0M337.9,1063.4h0M333.4,1185.7h0M374.5,1193.1h0M339.4,1141.7h0M370.4,1180.2h0M375.4,1260.6h0M387.6,1234.1h0M361.1,1170.2h0M344.2,1198.6h0M343.2,1256.6h0M370.5,1207.6h0M352,1278.2h0M325.2,1287.9h0M297.4,1240.9h0M338.9,1236.4h0M317,1272.2h0M368.3,1271.1h0M289.7,1230.1h0M320.7,1083.9h0M312.9,1221.1h0M329.4,1172.9h0M332.4,1202.7h0M389.2,1259h0M335.3,1214.1h0M305.2,1235.3h0M366.2,1172.9h0M369.9,1244.1h0M341.3,1124.2h0M343.2,1218.7h0M319,1213.2h0M382.1,1257.1h0M368.1,1260.7h0M338.7,1274.6h0M361.3,1219.4h0M388.3,1233.5h0M376.6,1170.4h0M361.9,1191.1h0M327.9,1117.8h0M330,1226.7h0M389.9,1222.2h0M353.3,1235.5h0M320.8,1075.9h0M362,1278.9h0M360.4,1205.2h0M335.3,1062.2h0M353.9,1213h0M398.6,1202.1h0M382.6,1245.3h0M327.5,1125h0M330.9,1252.5h0M316.3,1275.1h0M315.1,1176.7h0M343.1,1122.9h0M378.1,1244.8h0M364.3,1202.4h0M384.3,1237.8h0M370,1261.7h0M355.1,1204.8h0M341.4,1123.6h0M316.4,1205.4h0M318.5,1219.3h0M310.5,1257.8h0M366.3,1186h0M287.3,1273h0M378.5,1178.6h0M333.7,1065.4h0M343.3,1282.3h0M366.8,1228.2h0M319.6,1245.1h0M343.3,1125.3h0M314.6,1273.5h0M322.1,1245h0M324.2,1104.6h0M353.7,1209h0M339.4,1160.1h0M324.3,1288.5h0M317.8,1258.6h0M344.1,1083.5h0M362.7,1260h0M324.4,1278.6h0M322.6,1078.5h0M332.2,1207.6h0M333.1,1253.9h0M311.6,1257.4h0M346.7,1188.3h0M313.9,1192.4h0M290.8,1226.4h0M330.1,1070.7h0M294.5,1284.7h0M300.5,1234.1h0M290.1,1252.9h0M352.9,1173.8h0M351.5,1214.2h0M376.4,1258.5h0M362,1254.1h0M338.8,1279.1h0M380.5,1259h0M321.6,1072.2h0M372,1173.1h0M331.9,1268.1h0M396.6,1241.6h0M312.7,1207.7h0M378.4,1237.4h0M382.7,1169.2h0M333.1,1071.9h0M375,1196.4h0M329.1,1093.7h0M335.2,1073.8h0M331.1,1091.8h0M379.6,1206.1h0M384.3,1192.4h0M381,1200h0M357.8,1211.5h0M331.9,1262.7h0M393.5,1201.5h0M311.2,1069.9h0M283.5,1253.8h0M309.7,1207.2h0M389.7,1239.2h0M313.7,1205.3h0M314.8,1242.2h0M311.1,1268.8h0M361.6,1274.2h0M321.6,1289.3h0M350.1,1120.8h0M353.5,1117.1h0M292,1246.4h0M297.1,1241.1h0M352.7,1284.7h0M354.9,1199.3h0M348.6,1118.4h0M357.3,1267.5h0M332.2,1263.2h0M345.8,1183.8h0M352.9,1192.3h0M361.6,1193.4h0M346.5,1115.7h0M315.3,1197.5h0M342.4,1168.4h0M301.5,1249.4h0M343,1100.2h0M357.3,1203.7h0M355.2,1174.8h0M335.8,1225.1h0M305.9,1235.9h0M354.2,1191.3h0M324.8,1163.1h0M368.4,1232.5h0M326.3,1079.7h0M366.5,1207.5h0M374.2,1164.1h0M369.3,1204.6h0M356.3,1191.2h0M360.3,1194h0M364.7,1162.1h0M323.1,1098.6h0M290.7,1266.3h0M356.7,1169.8h0M333.1,1268.9h0M336.7,1192.3h0M375.4,1203.5h0M318.9,1289.4h0M352.1,1124.2h0M345.9,1268.3h0M338.7,1128.2h0M332.7,1160.6h0M352.4,1124h0M354.6,1173.1h0M375.8,1253.1h0M345.8,1139.6h0M310.6,1230.9h0M332.6,1223.9h0M310.8,1266.6h0M311.8,1269h0M332.8,1155.6h0M349.5,1185h0M345.9,1194.1h0M394.3,1238.2h0M339.6,1262.6h0M317.9,1177.3h0M382.9,1201.4h0M389.6,1221.4h0M337.7,1085.2h0M340.8,1224.9h0M307.4,1225.1h0M350.5,1240.1h0M341.3,1101.6h0M372.3,1166.5h0M297.7,1222.9h0M364.6,1261.2h0M314.2,1286.7h0M332.1,1255.8h0M372.5,1177.6h0M328.1,1088.7h0M359.3,1281.4h0M343.2,1144.8h0M327.1,1245.4h0M341.6,1094.2h0M328.5,1118.5h0M374.3,1191.8h0M308.1,1246.9h0M341.2,1252.1h0M352.6,1185.6h0M351.7,1169.9h0M356.6,1195h0M381.3,1187.1h0M379.6,1245.3h0M363,1192.1h0M353.7,1191.4h0M363.9,1272.7h0M318.4,1134.5h0M333.9,1162.4h0M356.1,1241.3h0M372.4,1254.2h0M334,1166.6h0M379.8,1159.6h0M347,1184.3h0M323.8,1061.2h0M313.5,1173.7h0M393,1221.5h0M379.1,1260.1h0M339.7,1256.2h0M314.8,1219.7h0M350.6,1231h0M330.5,1285.1h0M367,1196h0M315.2,1191.9h0M304.7,1242.9h0M355.6,1265.2h0M346.4,1120.4h0M336.6,1171.3h0M322.4,1199h0M343.2,1236.9h0M328.5,1276.7h0M353.2,1217.8h0M314.4,1275.9h0M321.9,1262.9h0M326.4,1150.1h0M320.3,1146.1h0M291.2,1251h0M322.6,1230.8h0M331.5,1294.2h0M385.9,1229.2h0M323.9,1137.9h0M330.9,1175.9h0M297.8,1219.7h0M308.3,1207.8h0M329.8,1289.7h0M334,1124.3h0M317.3,1290.1h0M344.4,1220.6h0M319.6,1233.4h0M339.6,1225.7h0M314.5,1086.3h0M291.3,1234.7h0M374.5,1181h0M343,1149.1h0M283.3,1257h0M326.9,1258.5h0M344.9,1096h0M345.5,1235.8h0M352.4,1174.1h0M300.7,1213.8h0M333.3,1222.7h0M293.6,1243.1h0M337.7,1127.8h0M374,1184.5h0M385.7,1190.2h0M332.5,1206.3h0M329.2,1216.4h0M321.3,1216.9h0M353.4,1236h0M326.7,1154.3h0M336.4,1124.3h0M347,1235.7h0M383.6,1181.2h0M359.4,1283.3h0M354.1,1177.1h0M341.5,1158.2h0M375.6,1183.3h0M380,1216h0M357.7,1219.7h0M330.9,1168.9h0M391.6,1215.5h0M336.1,1239.2h0M370,1203.8h0M294.1,1238.5h0M301.1,1251.5h0M354.8,1212.5h0M380.7,1262.3h0M299.4,1236h0M289.2,1265h0M369.1,1215.6h0M380.1,1242.2h0M340.5,1294.7h0M335.6,1166.5h0M356.7,1249.2h0M350.7,1286.1h0M312.7,1275.3h0M347.2,1233.7h0M360.3,1164.6h0M323.7,1236.2h0M286.7,1249h0M370.7,1260.8h0M313.8,1170.5h0M315.7,1257.8h0M334.3,1070.8h0M352.7,1189.7h0M338.2,1147.3h0M350.5,1221.6h0M313.2,1205.4h0M311.1,1238.9h0M304.6,1202.3h0M368.6,1251.9h0M343.9,1279.1h0M390.9,1253.6h0M344,1141h0M318.6,1071.3h0M293.3,1269.4h0M315.9,1060.6h0M373.2,1168.2h0M337,1215.1h0M320.7,1222.5h0M290.4,1249.3h0M373.5,1181.2h0M374.2,1211.9h0M348.2,1099.9h0M332,1128.5h0M292.4,1281.7h0M306.4,1202.5h0M322.1,1092.6h0M352.3,1256.5h0M322.5,1283.9h0M354.7,1106.2h0M335.2,1062.2h0M344.8,1110.1h0M381.3,1167.1h0M329.4,1076.2h0M334.9,1291.1h0M345.8,1213.3h0M352.7,1116.5h0M384.5,1253.5h0M317.3,1203.7h0M354.1,1210h0M346.6,1115.1h0M290.4,1270.5h0M396.3,1209.4h0M323.5,1133.3h0M338,1114.6h0M340.1,1252.4h0M322.5,1240.6h0M293.7,1232.2h0M310.3,1178.9h0M377.3,1203.3h0M389.4,1234.1h0M363.4,1237.7h0M363.1,1280.7h0M351.6,1218.4h0M346.2,1187.7h0M317.5,1231.2h0M305.1,1208.3h0M327.7,1223h0M336.5,1085.5h0M353.8,1206.7h0M340.8,1181.1h0M332.3,1255.2h0M360.3,1253.3h0M387.1,1233.3h0M350.6,1274.6h0M353.9,1240.7h0M389,1249.9h0M355.4,1237.4h0M395.1,1234h0M313.7,1083h0M348.7,1136.6h0M362.5,1255.6h0M344.3,1254.6h0M373.2,1236.6h0M321.3,1177.5h0M375,1194.9h0M304,1200.2h0M329.9,1139.2h0M356.3,1280.8h0M323.9,1263.4h0M307,1227.5h0M312.3,1184.4h0M313.9,1167.5h0M345.5,1216.7h0M330.6,1260.8h0M332.7,1255.3h0M336.7,1199.2h0M334.7,1119.8h0M303.8,1198h0M380.4,1224.6h0M341.2,1260.2h0M380.4,1266.5h0M320.5,1162.2h0M295.4,1269.8h0M301.1,1263.7h0M356.5,1113.5h0M338.5,1267.2h0M375.8,1237.6h0M372.9,1189h0M338.8,1185.8h0M327.5,1264.7h0M318.6,1070h0M337.7,1073.5h0M311.7,1245.4h0M315.3,1081.5h0M331.4,1198.4h0M347,1238.7h0M310.8,1239.9h0M289.5,1279.8h0M345.6,1100.5h0M295.6,1271.9h0M375.1,1232.7h0M317.7,1255.9h0M374,1231h0M320,1164.6h0M367,1229.6h0M335.7,1289h0M356,1272.3h0M315.2,1179.1h0M397.4,1235.9h0M329,1176.9h0M292.7,1276.6h0M320.5,1287.8h0M362.8,1206.6h0M339.6,1181h0M329.4,1277.7h0M319.9,1163.1h0M315.6,1242.2h0M318.2,1194.2h0M353.6,1170.7h0M305.1,1208.7h0M386.1,1245.1h0M351,1270.1h0M325.9,1294h0M393.4,1213.5h0M307.8,1211.4h0M358.9,1210.8h0M324.5,1279.5h0M336.3,1251.8h0M367.9,1203.5h0M325.2,1126h0M363.8,1175.6h0M307.4,1226.5h0M374,1220.3h0M342.6,1066.4h0M321.6,1173.5h0M306.3,1077.4h0M294.6,1288.3h0M297.9,1215.5h0M371.7,1248.8h0M364.5,1160.8h0M349,1283.4h0M333.8,1269.2h0M365.3,1175.3h0M392.4,1241.4h0M307,1228.2h0M306.2,1217.6h0M375.8,1215.7h0M375.4,1237.1h0M343.8,1237.4h0M378.5,1184.4h0M361.8,1264.9h0M382.4,1241.6h0M359.2,1209.2h0M299.2,1278.1h0M305.9,1260.1h0M364.3,1191.5h0M329.6,1115h0M318.7,1201.5h0M329.8,1074.4h0M381,1178h0M326.5,1263.2h0M372.2,1218.1h0M331,1169.7h0M346.8,1225.6h0M328.4,1184.2h0M379.6,1223.2h0M326.6,1271.2h0M396.1,1227.6h0M324.4,1238.7h0M340.4,1288.9h0M340.4,1212.5h0M362.4,1210.9h0M331.5,1223.1h0M334.2,1291.8h0M374.2,1266.3h0M340.6,1089.3h0M324.8,1078.9h0M328.1,1167.6h0M337.7,1295.1h0M344.1,1098.7h0M301.5,1222.9h0M342.1,1157.6h0M339.4,1157.7h0M361.6,1201.9h0M310.1,1199.5h0M335.7,1242.5h0M396.1,1238h0M354.4,1181.3h0M293.6,1235.2h0M350.3,1122.6h0M383.9,1190.7h0M335.9,1136.7h0M349.2,1215.3h0M351.1,1285.8h0M333.1,1148.2h0M370.2,1192.6h0M312.4,1281.4h0M307.2,1076.7h0M344.8,1278.7h0M382.9,1255.9h0M353.5,1182.2h0M333.3,1260h0M376.3,1190h0M389.2,1259.9h0M301.5,1276.6h0M369.6,1160.5h0M363.5,1180.6h0M355.9,1281.2h0M326.6,1231.5h0M341.3,1126.2h0M313.8,1195.4h0M357.8,1242.7h0M327,1162.1h0M358.4,1108.6h0M353.2,1188.3h0M344.6,1182.3h0M354.2,1246.5h0M366.8,1229.3h0M379.6,1172.3h0M339.1,1171.9h0M310.3,1211.9h0M323.6,1141.6h0M295.9,1280.3h0M333.2,1198.5h0M309.5,1284.8h0M292.7,1227.2h0M319.1,1288.5h0M332.8,1261.4h0M323.7,1186.1h0M325.9,1132.3h0M337.1,1172h0M369.1,1168.2h0M330.2,1158.4h0M305.4,1266.7h0M316.4,1190.9h0M331.9,1090.7h0M345.3,1235.1h0M326.8,1227h0M380.8,1178.3h0M383.3,1242.3h0M329.7,1229.9h0M342.1,1085.9h0M388.3,1262.7h0M340.8,1151.2h0M346.2,1163.5h0M371.3,1217.6h0M331.1,1180.5h0M317.6,1062.8h0M368.8,1237.4h0M322.6,1272.1h0M348.7,1187.4h0M363,1197.5h0M305.5,1194.8h0M319.8,1133.1h0M310.7,1245.1h0M364.8,1271h0M352.4,1271.6h0M346.2,1180.9h0M389.8,1203.1h0M369.8,1171.2h0M386.3,1244.5h0M342.7,1161.9h0M352.1,1127.1h0M386.8,1190.7h0M345.6,1163.7h0M344.3,1146.5h0M335.1,1123.9h0M333.5,1122.3h0M291.4,1277.4h0M286.8,1271.9h0M341.2,1125.1h0M345,1215.4h0M348.6,1195.7h0M385.2,1174.7h0M329.1,1156.7h0M343.9,1246.6h0M352.7,1183.9h0M325.5,1060.7h0M366.7,1257.8h0M318.7,1281.5h0M292.9,1270.9h0M305.2,1235.5h0M343.7,1104.2h0M383.3,1188.2h0M386.8,1232.2h0M311.8,1215.9h0M371.9,1193.7h0M325.3,1283.9h0M329.2,1095.5h0M379.8,1258.2h0M333.6,1088.3h0M359.8,1171.9h0M337,1111.4h0M298.3,1262.9h0M352.7,1239.1h0M325.9,1078.5h0M325.7,1271.8h0M291.4,1259.3h0M361.7,1232.6h0M342.1,1125.9h0M329.5,1279.6h0M377.8,1187.7h0M322.1,1232.7h0M382.3,1232.9h0M365.4,1173.1h0M360.7,1267.9h0M329.1,1237.6h0M363.7,1179.9h0M372.7,1175.7h0M335.6,1260.4h0M322.3,1146.4h0M364.1,1197.3h0M330.6,1273.7h0M363.8,1224.7h0M297.4,1262.6h0M328.5,1280.6h0M355.2,1113.1h0M346.4,1171.6h0M323.3,1259.2h0M301.5,1285.5h0M319.7,1147.6h0M310.7,1273.3h0M301.8,1220h0M332.5,1070.1h0M373.3,1245.1h0M344.6,1090.8h0M335.7,1285.6h0M368.6,1162.5h0M302.7,1212.4h0M372.7,1233.6h0M341,1233.3h0M320.1,1287.9h0M369.1,1252.2h0M345,1280.6h0M336.5,1288.5h0M333.4,1288.5h0M318.2,1183.4h0M347.4,1191.5h0M381.5,1263.5h0M301.9,1229.3h0M343.3,1156.4h0M293.9,1278.5h0M318.6,1138.2h0M324.1,1158.5h0M323.7,1175.9h0M301.3,1238.6h0M392.3,1210.5h0M362.3,1084.8h0M297.5,1084.8h0M360.2,1148.5h0M380.8,1151.2h0M346.9,1083.3h0M357.1,1113.1h0M407.6,968h0M395.4,991.2h0M404.1,1009.6h0M430.8,998.4h0M422.6,981h0M459.2,1131.5h0M421.5,1010.2h0M459.5,1131.7h0" fill="none" stroke="#222CA9" stroke-width="8.2" stroke-linecap="round"/>
<path d="M565.8,760.5h0M480.4,768.7h0M583.3,790.2h0M494.5,754h0M501.9,784.5h0M511,739.5h0M587.9,759.7h0M536.4,800.8h0M494.9,773.4h0M598.7,779.8h0M511.8,786.2h0M539.5,773.1h0M558.2,793.7h0M584.6,750.8h0M547.9,791.1h0M569.5,745h0M563,741h0M491.1,765h0M494.2,759.9h0M605.7,768h0M555.9,739.9h0M572.7,788h0M508.2,777.9h0M548.9,737.8h0M508.7,789.3h0M519.3,786h0M549.6,743.2h0M585.8,786.7h0M514.9,745.2h0M499,773.3h0M499,790.9h0M575.4,779.3h0M532.4,741.7h0M580.9,785.7h0M534.3,796.7h0M492.5,759.7h0M557.4,750h0M559.4,794.5h0M589.3,769.4h0M548.3,788.2h0M495.1,775.8h0M558.3,807.7h0M528.1,740.8h0M505.8,772.3h0M564.9,735.2h0M494,770.5h0M542.2,742h0M561.5,779.6h0M557,733.5h0M542.3,751.2h0M565.8,788.4h0M508,747.3h0M566.7,748.7h0M540.5,735.8h0M492.7,765.2h0M548,731.7h0M514.2,756.1h0M608.3,767.3h0M511.5,740.6h0M513.7,791.8h0M518.8,747.2h0M511.2,751.1h0M546.3,731.7h0M595.2,755.3h0M545.3,785.5h0M577.3,787.7h0M585,794.2h0M607.6,768h0M492.2,760h0M518.3,751h0M566.6,740.8h0M576.2,785.8h0M503.1,789.4h0M519.6,792.5h0M492.7,786.7h0M507.7,767.4h0M551.8,816.9h0M566.6,733h0M500.3,793.3h0M538.6,760.6h0M591.8,750.8h0M596.7,760h0M574.9,742.8h0M560.9,794.6h0M524.1,761.8h0M494.4,785.5h0M584.1,759.4h0M495.7,752.1h0M545.4,749.9h0M567.6,780.1h0M567.3,731.4h0M510.5,751.5h0M536.7,765.5h0M552.2,744.1h0M554.6,772.8h0M597.9,771.3h0M571.1,772.3h0M540.5,754.8h0M523.6,736.1h0M593.9,768h0M486.4,761.7h0M566.7,777.6h0M598.3,760.5h0M544.6,766.5h0M525.5,760.5h0M513.9,789.2h0M562.2,785h0M542.2,789.9h0M566.1,795.5h0M583,746.8h0M556,804.3h0M500,776.6h0M593.9,758.8h0M525.3,788.9h0M565.4,759.7h0M494.7,774.7h0M589.9,776.6h0M544.7,746.2h0M512.1,770.6h0M600.6,751.2h0M600.1,747.8h0M546.4,748.7h0M536.7,779.5h0M560.9,796.8h0M539.5,778.1h0M573.7,782.1h0M480.5,769.4h0M498,770.5h0M514.6,781.2h0M561.4,754.5h0M593.5,778.8h0M597.1,762.7h0M560.1,727.2h0M500.7,787.7h0M515.6,775h0M562.7,779.5h0M528.9,765.1h0M498.5,766.3h0M542.2,752.7h0M545.9,782.2h0M576.2,791.9h0M562,777.4h0M571.2,777.8h0M580.8,740h0M535.2,785.8h0M558.3,782.7h0M553.4,757.6h0M580.7,777.8h0M583,793.5h0M540.2,732.4h0M535.6,798.1h0M519.8,771.8h0M550.1,737h0M490.3,753h0M500,748.2h0M561.4,748.9h0M559.9,747.4h0M535.7,754.1h0M515.8,741.8h0M567,737.6h0M553.9,768h0M566.1,730.4h0M594.7,787.3h0M493.5,755.3h0M601.4,780.4h0M542.2,767.6h0M497.3,776.1h0M500,778.6h0M496.7,753.6h0M510.2,741.2h0M522.3,749.9h0M568.5,765.1h0M554.4,782h0M547.8,792.1h0M547.1,732.3h0M585.7,776.1h0M529.7,796.1h0M594.4,769.3h0M567.4,779.3h0M546.4,745.6h0M509,749.6h0M583.1,789.9h0M563.3,797.1h0M558.9,794.1h0M552.9,727.8h0M493.1,762h0M584.1,744.3h0M581.7,741.7h0M527.1,792.3h0M518,748.2h0M495.8,784.1h0M569.8,746.5h0M573.1,783.4h0M544.5,789h0M559.8,740.5h0M589.1,765h0M538.2,785.3h0M514.9,782.3h0M571.7,747.1h0M556.7,731.9h0M537.4,799.6h0M578.4,753.8h0M558.5,777.3h0M538.5,782.5h0M531.6,761.6h0M575.8,787.5h0M539.7,773h0M516.8,783.1h0M523.3,762.1h0M558.3,791.9h0M594.9,760.3h0M538.5,768.5h0M606.7,775h0M485.4,773.1h0M557.3,732.6h0M550.2,791.9h0M518.2,777.1h0M524.9,739.7h0M558.3,777.3h0M574.8,763.7h0M544.8,756.1h0M481,761h0M588.1,755h0M490.6,768.2h0M558.1,801.7h0M604.5,758.3h0M498.3,751.9h0M569.5,745h0M514.4,754.3h0M599.8,749.9h0M582.6,743.3h0M480.4,760.8h0M534.6,781.1h0M574.5,748.8h0M586.5,740.4h0M536.9,752.7h0M548.6,749.2h0M545.3,749.7h0M541,788.8h0M526.5,797.6h0M571.5,769.4h0M554.1,749.6h0M550.2,793.7h0M543.7,798.5h0M514,774.8h0M489.7,764h0M496,777.4h0M561.2,791.4h0M565.2,794.6h0M553.5,739.8h0M545.4,752.1h0M605.2,770.1h0M575.4,785.2h0M587.6,781.4h0M516.9,767.5h0M554.4,755h0M554.3,730.3h0M495.7,779.9h0M579.2,745.3h0M562.5,792.5h0M591.8,742.2h0M595.9,751.4h0M574.9,743.6h0M589.2,767.1h0M515.3,737.7h0M550.7,732.8h0M528.8,794.9h0M594.1,782.4h0M572.7,746.3h0M499.2,774.6h0M502,786.3h0M523.1,769.8h0M503.1,747.7h0M475.7,759.2h0M602.6,759.9h0M550.2,735.3h0M563.8,781.1h0M537.3,799.1h0M495.2,761.3h0M557.6,811.7h0M542.7,769.5h0M480.8,760.4h0M599.1,761.3h0M551.9,817.2h0M552.7,811.7h0M541.6,778.1h0M531.9,757.4h0M538.5,733.6h0M558.6,729.2h0M535.3,745.4h0M524.2,746.4h0M501,767.3h0M569.8,734.8h0M522.1,760.5h0M600,772.8h0M530.2,782h0M589.6,786h0M510.3,768.1h0M499,750.7h0M541.2,779.3h0M544.8,770.2h0M578.1,749.3h0M530.2,790.3h0M593.5,749.6h0M519.1,770.4h0M507,774.5h0M600.4,747.5h0M537.7,758.9h0M587.1,761.9h0M491.7,779.4h0M576.3,774.3h0M510.5,782.8h0M516.6,789.6h0M577.3,737h0M507.3,789.6h0M558.2,811.3h0M544.6,756.3h0M478.8,758.6h0M577.4,791.1h0M528.4,787.5h0M546.7,740.9h0M562.8,773.7h0M596,756.6h0M575.1,765.1h0M496.7,760.9h0M552,791.8h0M507.3,749.4h0M554.2,736.6h0M499.2,754.1h0M565.5,796.8h0M545.3,739.3h0M586.2,748.8h0M523.7,791.3h0M546.4,756.2h0M576.7,742.1h0M562.8,773.6h0M486.3,756.7h0M494.9,763.3h0M546,740.2h0M546.7,805.6h0M550.1,817.4h0M539.4,789.9h0M483.1,763.2h0M561,744.8h0M604.6,763.3h0M548.6,800.2h0M513.2,792.8h0M514,757.8h0M550.8,768.2h0M535.5,779.7h0M575.1,738.8h0M541.8,744.9h0M599,744.9h0M532,799.2h0M501.9,793.1h0M491.4,754.3h0M538.5,757.3h0M540,797.4h0M556.2,760h0M520.6,751.9h0M483,770.6h0M544,801.9h0M595.9,759.8h0M508.7,742.1h0M578.2,754.2h0M550.8,767.6h0M513,755.7h0M516.9,758.4h0M546,784h0M516.1,794.7h0M529.3,739.5h0M596.3,745h0M577.9,758.5h0M525.6,787.6h0M537.3,793.6h0M575.3,745.6h0M560.5,801.8h0M573.5,742.2h0M503.9,783.2h0M513.3,778.9h0M585,743.2h0M556.7,743.9h0M578.1,793.7h0M566.8,739.2h0M536.3,741.4h0M527.1,757.7h0M572.5,736.8h0M535,738.2h0M567.6,733.3h0M527.9,759h0M560.5,771.7h0M567.8,767.3h0M586.8,782.9h0M476.3,763.8h0M529.5,783.6h0M598.9,782.3h0M545.9,768.1h0M546.1,756.9h0M494.3,781.6h0M595.9,783.5h0M498.2,779h0M574.7,761.3h0M562.6,765.8h0M543.2,749.1h0M516.1,768.5h0M599,782.1h0M577.5,793.8h0M570.8,788.6h0M502.7,802.7h0M557.3,813.4h0" fill="none" stroke="#BC3D24" stroke-width="8.2" stroke-linecap="round"/>
<path d="M525.7,834.3h0M514.5,831.8h0M501.6,853h0M518.1,852.4h0M530.9,861.6h0M498,845.5h0M521.2,852.7h0M512.3,848.8h0M498.2,847.3h0M497.6,865.4h0M519.3,854.8h0M523.6,844.2h0M531,855.4h0M531.8,861.1h0M503.3,843.5h0M500.4,853.2h0M508.2,845h0M516.9,857.8h0M518,852.8h0M515.1,862.7h0M532.1,859.6h0M515.8,847.7h0M500.3,838.3h0M507.1,835.5h0M495.9,849.6h0M510.3,861.5h0M496.1,864.5h0M505.4,850.2h0M507,843h0M494.2,843h0M522.3,860.7h0M518.5,836.3h0M516.9,851.6h0M508,859h0M533.3,845.6h0M519.2,848.4h0M502.4,866.5h0M494.7,843h0M531.4,850.4h0M508.3,832.8h0M507.5,858.8h0M520.9,852.7h0M532.5,840.5h0M503.7,852.7h0M531.6,856.8h0M528.5,862.7h0M492.4,853.5h0M502.1,855.6h0M525.4,861.6h0M499.7,840.7h0M498.2,862.7h0M521.9,849.7h0M515.1,858.3h0M511,831.4h0M532.6,860.1h0M512.8,849.9h0M493.8,854.8h0M526.6,835.4h0M499.8,843.6h0M503.7,859.3h0M508.9,864.2h0M520.3,854.3h0M523,862.7h0M519.7,838.1h0M515.5,852.8h0M533.5,854.8h0M512.5,843.2h0M520.8,846.2h0M523.8,850.3h0M524.7,832h0M498.9,839.6h0M496,847.5h0M495.4,865.5h0M495.9,864.1h0M505.1,840h0M495.7,853h0M494.5,855h0M514.5,836h0M560.9,1143.4h0M579.8,1124.6h0M525,1129.2h0M523.6,1145.6h0M571.8,1130.7h0M560.8,1151.8h0M545.3,1147.5h0M555.4,1147.4h0M529.1,1137.1h0M540.1,1122.3h0M530.9,1126.1h0M527.8,1134h0M541.2,1142.7h0M525,1110.2h0M560.5,1138h0M529.4,1114.6h0M546.8,1142.1h0M548,1132.7h0M532.6,1127h0M541.5,1130.2h0M574,1132.1h0M524.3,1118.1h0M573.6,1149.6h0M537,1124.9h0M546,1125.7h0M567.4,1142.2h0M557.9,1154.2h0M523.2,1140.4h0M560.5,1146.6h0M526.2,1136.9h0M523.6,1128.9h0M541,1125.3h0M544.3,1133.4h0M523.8,1134.1h0M521.3,1143h0M547.5,1130.8h0M540.6,1131.7h0M528,1130.5h0M556.7,1129.4h0M524.8,1134.5h0M531.7,1136.2h0M538.1,1143.9h0M539.3,1146h0M539.3,1146.6h0M567.9,1128.9h0M536.4,1120.4h0M571.1,1147.3h0M559.6,1146.2h0M545.8,1139.9h0M552.1,1152.1h0M550.4,1153.4h0M542.8,1120h0M527.1,1129.1h0M537.5,1112.6h0M569.9,1128.6h0M532.3,1132.5h0M539.1,1138.8h0M535.5,1139h0M531.4,1136.1h0M555.6,1152.3h0M572.1,1130.7h0M550.2,1147.5h0M562.3,1147.1h0M563.2,1145.7h0M530,1143.8h0M560.8,1155h0M568.9,1130.4h0M545.6,1127.6h0M526.8,1147.3h0M552,1146.2h0M533.9,1113.1h0M565.7,1132.7h0M541.2,1125.3h0M531.4,1121.3h0M533.2,1133.3h0M545,1131.1h0M573.7,1125h0M557.9,1133.3h0M581.4,1137.6h0M580.3,1125.5h0M529.4,1117.7h0M536.1,1150.6h0M520.4,1143.1h0M543.2,1118.4h0M530.8,1113.8h0M581.3,1123.8h0M549.8,1135.8h0M524.9,1143h0M551.5,1149.2h0M546.4,1124.8h0M560,1127.9h0M526.4,1112.3h0M559.8,1153.9h0M530.2,1111.4h0M540,1125.9h0M529.6,1143h0M544.4,1129.8h0M579.3,1133.7h0M553.6,1151.8h0M561.7,1150.1h0M524.3,1122.4h0M530.8,1133.3h0M530.5,1127h0M544,1123.3h0M565,1132.3h0M571,1125.1h0M573.7,1149.9h0M554.1,1151.8h0M537,1149.2h0M576.6,1126.5h0M579.2,1128.5h0M566.5,1134.5h0M535.3,1114h0M565.9,1128.6h0M571.6,1128.9h0M554.3,1144h0M523.8,1131.7h0M526.4,811.4h0M540.8,811.4h0M498.6,883.4h0M541.2,881.9h0M561.8,905.2h0M448.2,930.7h0M441,922.5h0M475,1053.9h0M470.4,1072.4h0M473.3,1092h0M462.2,1118.9h0M460.6,1141.1h0M505.8,1124.5h0M527.4,1231.4h0M439,921.7h0M447.7,930.6h0M418.5,960.8h0M429.8,942.3h0M422.6,1012.2h0M475,1053.4h0" fill="none" stroke="#83C4E4" stroke-width="8.2" stroke-linecap="round"/>
<path d="M468.8,1167.5h0M471.7,1154.7h0M520.2,1134.6h0M490.8,1208.7h0M524.7,1151.8h0M540.4,1123.2h0M504.6,1199.8h0M511.4,1180.6h0M483.6,1182.7h0M524.7,1131.5h0M459.1,1186.9h0M478.8,1203.5h0M440.8,1189.1h0M529.2,1186.1h0M530.8,1152.5h0M466.7,1194.6h0M504.9,1217.6h0M540,1230h0M465.2,1231.9h0M462.6,1217h0M499.7,1201.3h0M538.6,1190.9h0M485,1144.2h0M547,1214h0M487.6,1189.4h0M502.8,1167.8h0M512.8,1198.3h0M455.4,1199.3h0M512.5,1153.5h0M513.4,1178.2h0M452.3,1217.4h0M530.2,1148h0M424,1199.6h0M530.8,1202.7h0M518.6,1201h0M527,1135.8h0M449.3,1188.2h0M482.3,1214.7h0M535.1,1145.9h0M474.7,1198.5h0M516,1197.3h0M505.8,1155.5h0M499.1,1159.1h0M526.1,1239h0M499.8,1208h0M494.5,1126.1h0M489.4,1139.3h0M505.5,1142.5h0M432.7,1170.6h0M443.2,1220.6h0M466.2,1217h0M471.9,1225.9h0M456.3,1221.5h0M495.3,1135h0M528.1,1147.6h0M429.7,1193.2h0M501.6,1207.7h0M518.8,1124.4h0M544.5,1231.1h0M541.5,1155.3h0M476.3,1146.7h0M521.2,1134.3h0M485.5,1223.5h0M471.6,1149.2h0M491.8,1144.1h0M520.7,1232h0M502.6,1191h0M502,1168.3h0M495.6,1203.9h0M536.9,1159h0M442.8,1179.9h0M491.5,1237.8h0M447.1,1215.6h0M522.3,1174.7h0M533.2,1208.2h0M535.7,1241.1h0M534.9,1234.3h0M496.6,1150.9h0M545.5,1140.2h0M445.5,1227h0M534,1131.5h0M500.4,1250.2h0M476.6,1217.4h0M537.9,1232.9h0M503.2,1235.6h0M524.7,1247.3h0M447.9,1165.2h0M492.4,1133h0M464.4,1209.8h0M532.7,1181.4h0M481,1217.8h0M446.8,1165h0M523.6,1174.1h0M438.3,1189.6h0M461.4,1206h0M466.9,1233.8h0M538.1,1215h0M520,1126h0M548.5,1131.2h0M506.1,1238.1h0M512.5,1248.1h0M540.9,1142.2h0M525.9,1146.9h0M491.7,1134.6h0M507.2,1137.3h0M468.4,1149h0M528.2,1186.5h0M499,1123.2h0M535.8,1146.1h0M429.6,1193.1h0M437.5,1185h0M480.4,1154.6h0M517.6,1124.3h0M462.4,1187.1h0M454.4,1184.4h0M433.8,1176.5h0M525.5,1169.7h0M513.3,1241.6h0M502.1,1129.3h0M514,1153.3h0M531.6,1243.7h0M485.6,1216.6h0M429.6,1198.3h0M511.6,1246.7h0M525.2,1203.6h0M511.3,1124.5h0M525.8,1160.8h0M529.9,1201.9h0M457.4,1228.8h0M546.3,1228.7h0M435.6,1179.6h0M432,1180.5h0M460.9,1191.9h0M539.5,1222.3h0M529.6,1125.2h0M488.2,1175.9h0M520.4,1242.2h0M506.2,1192.7h0M485.9,1227.2h0M542.6,1190h0M465.7,1209.3h0M537.3,1217.6h0M506.1,1140.4h0M520.9,1201.7h0M520.2,1182h0M502.5,1139.2h0M466.7,1175h0M519.6,1131.7h0M475.5,1231.3h0M519.4,1152.7h0M467.1,1210.9h0M519.9,1122.9h0M502.9,1169.7h0M468.1,1174.9h0M468.8,1229.2h0M514.9,1236.3h0M437.6,1183.3h0M543.1,1136.5h0M479.8,1204.9h0M494.5,1125h0M477.9,1165h0M503.9,1243.1h0M433.5,1193.5h0M485,1171.8h0M448.9,1180.9h0M438.9,1212.3h0M448.2,1219.8h0M535.9,1239.7h0M492.3,1207.2h0M470.8,1192.8h0M480.1,1185h0M436.8,1189.7h0M490.4,1126.9h0M508.1,1201.8h0M525.9,1165.4h0M508.4,1164.9h0M515.3,1256.4h0M447,1213.3h0M530.1,1152.2h0M429.7,1189.4h0M491.6,1203.4h0M525.2,1164.3h0M531.3,1217.7h0M540.5,1192.2h0M494,1187h0M523.4,1120.4h0M518.1,1190h0M498.6,1237.7h0M437.5,1189.4h0M505.8,1156.4h0M526.1,1207.3h0M497.2,1130h0M433.5,1179.5h0M458.8,1208.4h0M448,1191.2h0M451.6,1209h0M489,1146.6h0M474.8,1153.7h0M524.8,1153.5h0M462.6,1207.3h0M467.9,1210.8h0M533.3,1200.4h0M461.5,1196.7h0M454.2,1170.5h0M451.6,1179.1h0M526.6,1121.7h0M493,1147.6h0M506.1,1228.5h0M525.8,1166.2h0M514.8,1185.4h0M503.9,1125.3h0M436.9,1222.9h0M510.1,1246.9h0M481.2,1201.4h0M462.7,1186.6h0M528.8,1169.8h0M486.2,1140.6h0M478,1166.9h0M448,1168.4h0M470.5,1207.7h0M484,1220.7h0M461.2,1221.2h0M487.2,1163.8h0M533.7,1128.4h0M504.5,1184.2h0M533.5,1215.8h0M473.6,1200.6h0M480,1221.9h0M442.8,1195h0M494.4,1243.7h0M466.1,1173.2h0M516.3,1202.5h0M489.3,1202.1h0M481.6,1192h0M520.9,1173.3h0M475.6,1215.4h0M454.4,1210.1h0M453.6,1211.5h0M450.5,1171.8h0M553.1,1132h0M532.1,1197.2h0M493.6,1182.1h0M509.5,1232.4h0M441.3,1167.7h0M490.6,1139.6h0M437.6,1208.1h0M465.6,1164.7h0M503.1,1128.6h0M440.6,1222.8h0M472.4,1210.5h0M445.1,1213.8h0M492,1132.8h0M475.8,1193.4h0M449.1,1192.1h0M491,1175.4h0M510.5,1189.1h0M432.9,1179.3h0M505.3,1188.3h0M493.3,1162.2h0M456.5,1207.2h0M517.6,1185.8h0M507.8,1136.2h0M536.6,1182.1h0M520.2,1155.4h0M522,1159.4h0M521.6,1194.3h0M525.9,1157.2h0M473.8,1210.7h0M497.8,1176.6h0M522.4,1252.6h0M503.2,1210h0M480.2,1182.2h0M457.2,1222.1h0M456.8,1161.8h0M452.5,1175.4h0M430,1215.7h0M451.4,1205.5h0M464.4,1185.4h0M535.5,1177.2h0M483.1,1199h0M491.7,1237.5h0M544.1,1230.2h0M494.5,1215.5h0M500.1,1168.3h0M457.9,1162.7h0M518.6,1203.8h0M546.2,1136.9h0M488.4,1190h0M460,1195.5h0M494.9,1240.3h0M512.5,1182.9h0M537,1124.1h0M451.6,1169.1h0M530.4,1183.6h0M510.9,1143.2h0M468.4,1145.3h0M469.4,1157.4h0M474.5,1213.8h0M525.9,1244.1h0M505.6,1233.1h0M510.1,1128.5h0M512.9,1222h0M483.3,1194.2h0M509.2,1213.7h0M480.6,1168.5h0M493,1199.2h0M441.3,1182.1h0M490.3,1224.5h0M520.1,1205h0M490.3,1141.4h0M468.8,1161h0M487,1127.6h0M468.8,1158h0M488.1,1205.8h0M540.6,1214.4h0M544.9,1132h0M464.3,1207h0M527.5,1234.6h0M504,1241.9h0M511.7,1171.2h0M472.9,1229.2h0M542.1,1227.4h0M515.6,1163.1h0M491.2,1172.8h0M531.6,1161.5h0M482.1,1226.5h0M497.4,1212.8h0M514.4,1151.6h0M542.4,1204.7h0M501,1170.2h0M514.8,1149.9h0M510.5,1156.9h0M480.6,1153h0M505.7,1125.2h0M450.2,1169.9h0M468,1160.8h0M527.5,1171h0M543.9,1216.2h0M468.3,1199.1h0M514.5,1233.5h0M497.2,1134.8h0M438.8,1192.5h0M462.6,1160.8h0M500.3,1209.8h0M512.3,1180.6h0M526.1,1202.8h0M485.7,1138.7h0M497.8,1233.8h0M526.3,1239.6h0M486.7,1199.8h0M439.8,1222.6h0M496.2,1152.5h0M524.6,1171.2h0M527.4,1234.2h0M518.4,1252.5h0M441,1188.2h0M492.3,1167.1h0M479.6,1221.6h0M521.3,1230h0M528.2,1160.7h0M455.9,1188h0M522.2,1155.1h0M544.8,1134.4h0M454.3,1171.6h0M503.8,1194.6h0M442.2,1221.7h0M478.3,1194.5h0M541.8,1187.8h0M437.6,1164.3h0M483.6,1164.6h0M453,1161.7h0M437.5,1189.6h0M508.6,1138.4h0M495,1204.7h0M524,1167.2h0M465,1193.7h0M513.2,1202.6h0M511.8,1239.8h0M512.8,1210h0M459.4,1166.1h0M509,1190.6h0M440.6,1197.1h0M518.5,1140.9h0M442.3,1203.8h0M540,1159.8h0M526.4,1207.6h0M440.1,1216.7h0M542.6,1201.3h0M444.8,1214.1h0M532.9,1180.2h0M539.8,1216.6h0M428.5,1187.9h0M499.7,1248.3h0M479,1166.1h0M494.1,1129.8h0M477.4,1161.6h0M500,1218.7h0M504.3,1148.9h0M507.5,1160.5h0M467.1,1212.2h0M494.9,1181.2h0M495.6,1213.6h0M526,1170.7h0M516.3,1240.7h0M491.5,1183.5h0M485.3,1143.1h0M504.6,1154.4h0M461.8,1164.2h0M511.4,1202.3h0M537.1,1135.1h0M442.1,1172.9h0M526.2,1234.5h0M449.5,1217.2h0M448.3,1181.1h0M513.6,1135.5h0M483.1,1177.5h0M458.1,1193.8h0M468.5,1197.4h0M467.2,1218.9h0M540.9,1204.1h0M535.1,1182.7h0M523.2,1130.6h0M491.5,1177.6h0M429.9,1181.2h0M438.3,1215.9h0M536.1,1176.3h0M498.1,1172.7h0M503.3,1253.8h0M454.7,1201.3h0M430.5,1177.5h0M472.2,1194.3h0M493.8,1232.2h0M455.8,1162.6h0M530.9,1136.8h0M502.7,1206.2h0M523.6,1147.3h0M470.7,1194.8h0M507.7,1219.1h0M513.6,1177.2h0M541.9,1229.3h0M535.8,1141.4h0M470.9,1166.5h0M484.3,1236.1h0M427.7,1184.8h0M426.7,1197.5h0M485.8,1132.1h0M438.6,1167.1h0M476.7,1203.2h0M486.2,1236.3h0M435.2,1198.3h0M464.7,1176.1h0M503.3,1234.6h0M495.8,1129.3h0M531.4,1133h0M437.1,1211h0M434,1180.4h0M484,1226.8h0M529.2,1173.7h0M469.7,1153.9h0M515.9,1169.7h0M517.6,1133.6h0M453,1194.4h0M535.9,1178.7h0M436.4,1170.5h0M469.5,1167.2h0M481.7,1137.4h0M478.9,1137.8h0M442.6,1199.2h0M499,1156.5h0M517.7,1192.3h0M499.5,1137.1h0M475.7,1187.7h0M554.3,1133h0M533.3,1152.1h0M504.1,1184.5h0M478.3,1232.5h0M516.8,1170.2h0M532.6,1235.9h0M471,1147.9h0M542.5,1229.6h0M452.6,1191.6h0M444.2,1225.9h0M504.5,1245.1h0M465,1193.2h0M521.9,1145.6h0M482.1,1151.6h0M451.5,1181.3h0M493.8,1200.8h0M447,1175.2h0M499,1222.1h0M464.1,1181.8h0M451.4,1201.8h0M528.3,1196.2h0M538.2,1151h0M529,1217h0M539.2,1194.8h0M464,1171.4h0M519.5,1158.4h0M491.7,1226.2h0M472.8,1168.4h0M436.9,1212.3h0M481,1169.7h0M441.2,1179.2h0M465,1195.8h0M535.7,1150.8h0M474.3,1149.3h0M477.5,1157.2h0M521.3,1206.8h0M474.7,1147.2h0M532.6,1165.2h0M503,1226.9h0M524.9,1196.6h0M520.3,1119.6h0M491.5,1208.3h0M504.6,1196.5h0M510.8,1186.9h0M474.2,1204.9h0M544.4,1197.4h0M509.3,1252.8h0M462.9,1176.5h0M529.5,1157.1h0M438.5,1194.1h0M473.7,1154.4h0M533.3,1150h0M455.3,1168.8h0M426.6,1201.5h0M536.7,1189.5h0M504.3,1250.5h0M495,1127.9h0M446.3,1224.7h0M442.2,1226.7h0M536.2,1138.4h0M474.5,1201.3h0M500.9,1174.8h0M500.8,1249.7h0M543.3,1158.3h0M536.5,1124.2h0M546.1,1229.6h0M488.5,1179h0M524,1229.4h0M503.9,1124.1h0M483.7,1160.8h0M475.8,1218.4h0M513.9,1225.7h0M524.2,1151.4h0M510.6,1168.6h0M552.3,1134.7h0M478.4,1201.8h0M505.2,1157.5h0M496.2,1165.2h0M539.3,1182.8h0M452.9,1229h0M488.5,1203.5h0M469.2,1166.3h0M471.7,1222.2h0M539.9,1144.7h0M430.8,1200.5h0M484,1169.2h0M528.5,1229.6h0M525.5,1229h0M537.4,1162.1h0M498.2,1159.6h0M518.5,1186.3h0M537.5,1233.4h0M449.4,1202.4h0M515.8,1175.8h0M532.6,1184h0M441.4,1163.6h0M487,1183.5h0M435.4,1197.6h0M477.3,1224.9h0M519.6,1209h0M534.4,1180.4h0M478.9,1221.4h0M531,1216h0M461.3,1189.5h0M534.1,1174.9h0M502.2,1190.5h0M542.6,1190h0M474.7,1140.5h0M445,1172.2h0M487,1209.3h0M501.4,1235.8h0M544,1205.9h0M501.9,1232.3h0M495.2,1189.7h0M540.1,1207.4h0M427.9,1202.4h0M513.3,1197.5h0M438.7,1183.7h0M516.5,1235.3h0M454.5,1191.1h0M472.8,1218.3h0M476.1,1139.9h0M526.2,1156.1h0M476.4,1227.2h0M479.2,1133.8h0M496.6,1119.4h0M501.3,1180.7h0M543,1134.1h0M524.2,1171.6h0M468.3,1201.3h0M488.2,1187.5h0M534.4,1142.9h0M470.7,1157.6h0M504,1168.1h0M507.6,1142.7h0M468.8,1144.9h0M534.2,1155.7h0M498.8,1155.8h0M514.5,1172.7h0M503.6,1191.4h0M537.5,1143.8h0M497.4,1213.6h0M477.8,1139.2h0M523.9,1133.1h0M479.6,1144.2h0M529.2,1191.5h0M504.3,1244.8h0M462,1175.6h0M541.8,1130.2h0M482.8,1218.8h0M481.9,1163.4h0M456.5,1222.8h0M461,1185.3h0M534.6,1230.2h0M526.3,1141.7h0M498.5,1157.5h0M477.1,1171.8h0M481.6,1222.9h0M530.8,1156.1h0M448.8,1190.2h0M500.5,1124.5h0M527.5,1154.9h0M500.4,1123.1h0M538.8,1133h0M527.7,1125.1h0M472.1,1172.7h0M506.5,1198h0M446.4,1177.7h0M492.2,1185.6h0M480.7,1138.7h0M464.3,1153.6h0M524.4,1120.4h0M465.7,1229.4h0M506.1,1252.8h0M445.3,1193.9h0M492.1,1180.7h0M503,1249.8h0M462.7,1165.6h0M462.2,1206.1h0M447.5,1190.5h0M513.5,1137.2h0M518.6,1173.5h0M434.5,1174.4h0M514,1202.2h0M519.6,1141.8h0M470.6,1228.4h0M536.3,1157.4h0M526.3,1222.8h0M442.3,1164.4h0M479.5,1186.3h0M475.4,1194h0M531,1175.2h0M450.6,1230h0M483.9,1161.4h0M523.8,1121.6h0M492.6,1131.4h0M455.4,1172.8h0M448.7,1222.2h0M487.3,1204.5h0M480.9,1147.8h0M454.2,1214.3h0M431.5,1198h0M502.4,1175.9h0M498.7,1235h0M455,1168.5h0M523.3,1126.7h0M515.2,1141.6h0M461.1,1230.9h0M526.7,1175.7h0M522.5,1142.1h0M504.4,1196.5h0M493.1,1151.2h0M498.7,1124.4h0M538.2,1181.1h0M533.9,1237.9h0M489.4,1210.1h0M476.5,1224.9h0M487.9,1188.9h0M454,1217.6h0M547.6,1139.6h0M479.2,1178.2h0M470.2,1195.3h0M544.9,1197.8h0M439.5,1187.9h0M495.1,1187.6h0M457.3,1170.9h0M466.8,1199.9h0M497.6,1206.9h0M536.8,1190.2h0M488.4,1212.6h0M474.3,1210.9h0M519.6,1123.5h0M472.7,1207.3h0M531.2,1135.2h0M510.6,1163.3h0M494.8,1162.2h0M534.2,1209.9h0M492.5,1204.8h0M498.8,1194.9h0M481.1,1211.1h0M483.6,1190.5h0M499.7,1230.4h0M526.9,1166.5h0M444.6,1223.2h0M501.5,1194h0M435.4,1194.5h0M538,1150.7h0M510.7,1177.5h0M441.3,1205.4h0M527.3,1134.2h0M525,1243.6h0M447,1180.7h0M538.8,1213.3h0M527.3,1124.8h0M502.3,1190.6h0M502.2,1195.9h0M487.2,1226.3h0M452,1169h0M464.6,1176h0M452.3,1230.8h0M507.4,1224.3h0M470.2,1156.5h0M474.5,1162.1h0M498,1159.4h0M511.2,1222.2h0M470.9,1215.2h0M463.3,1178h0M531.9,1132.2h0M496,1187.7h0M525.4,1149.3h0M511.4,1194h0M539.8,1240.9h0M532.3,1193.6h0M460.8,1233.1h0M478.3,1162h0M514.1,1225.5h0M508.8,1236.2h0M428,1189.7h0M518.3,1158.5h0M545.6,1134.1h0M480.4,1140.1h0M510.4,1229.8h0M498,1221.3h0M450.3,1150.2h0M444.1,1162.5h0M452.3,1160.5h0M578.9,1127.1h0M556.2,1133.7h0M556.6,1140.3h0M441,1013.4h0M441,1116.2h0M438,968h0M465.4,965.5h0M439.6,1012.8h0M439.4,1116.1h0M578.3,1127.4h0M451,1150.5h0M314.6,1211.5h0" fill="none" stroke="#E67EC6" stroke-width="8.2" stroke-linecap="round"/>
<path d="M626.8,917.9h0M619.5,958.9h0M691.8,937.4h0M694.7,948.2h0M670.2,939h0M657.4,932.4h0M646.2,972.9h0M646.5,962.4h0M606.5,917.4h0M680.2,916.6h0M693.5,945.3h0M686.5,942.8h0M649.6,932.9h0M644,931.4h0M657,913.6h0M646.8,952.8h0M660.2,950.4h0M622.3,900.7h0M698.2,907.1h0M665.1,879.7h0M661.2,946.9h0M640.9,958.8h0M606.7,929.2h0M651.1,921.1h0M665.2,914.2h0M660.4,900.1h0M698.7,905.9h0M705.8,916.9h0M678.3,946.4h0M596.2,921.1h0M680.2,883.2h0M644.6,963.3h0M593.6,932.9h0M696.1,923.6h0M693.4,932h0M659.8,913.1h0M666.2,900.3h0M682.4,942.6h0M687.2,919.1h0M666.1,905.8h0M638.2,893.4h0M645.4,921.1h0M644.3,941.3h0M661.9,923.5h0M653.4,892.4h0M655.2,922.5h0M688.3,922.4h0M655.2,951.7h0M687.8,892h0M670,896.6h0M692.4,896h0M661.2,924.2h0M662.9,893.3h0M626.8,904.2h0M665.5,951.2h0M674.8,942.2h0M649.2,970.1h0M693.7,898.8h0M665.5,897.7h0M638.3,944.5h0M699.4,945.6h0M655.9,883h0M692.4,904.9h0M619.1,936h0M671.5,933.4h0M633.4,919.9h0M677.7,901.3h0M681,941.7h0M695.9,948.9h0M654.6,950.8h0M672.7,881.8h0M634.2,963.4h0M660.9,891.3h0M690,933h0M681.2,929h0M638,922.2h0M669.8,931.6h0M643.9,985.3h0M652.8,938.9h0M651.8,892h0M696.4,946.4h0M664.2,886.9h0M683.6,955.7h0M695.3,907.3h0M670.3,896.5h0M668.7,905.4h0M660.5,950.4h0M685.8,939.5h0M701.9,905.7h0M638.8,959.1h0M672.4,891.1h0M655.1,946.7h0M696.6,908.4h0M660,896.6h0M683.8,914h0M675,926.9h0M662.2,904.5h0M646.6,897.3h0M677.7,949h0M596.2,937.1h0M659.4,876.4h0M648.7,950h0M604,930.3h0M654.9,925.6h0M647.8,971h0M675.6,875.6h0M702.4,913h0M655.5,911.1h0M682.4,931.3h0M654.3,954.5h0M625.2,944.7h0M642.5,949.2h0M666.1,935.8h0M628.1,907.6h0M632.9,912.2h0M702.8,917.8h0M626.9,906.6h0M617.9,926h0M609.5,939.2h0M639.7,922.4h0M670.6,963.1h0M702,941.2h0M660.6,895.7h0M667,902.7h0M668.5,955.6h0M697.4,947.1h0M646.1,983.2h0M634.9,960h0M668.9,903.6h0M680.5,928.2h0M672.7,924.2h0M649.1,882.1h0M658.1,947.3h0M614.4,949.6h0M638.2,892.8h0M638.3,945.9h0M676.4,903.2h0M673.2,931.6h0M661.1,886.1h0M684,901h0M664.6,965.5h0M667.4,892.9h0M690.4,897.2h0M637.2,897.6h0M696.9,905.9h0M680.1,939.8h0M650.2,894.3h0M673.7,914h0M649.6,901.6h0M602,940.3h0M620.2,917.2h0M632.9,932.8h0M676.1,882.5h0M634.1,919.1h0M650.4,928h0M652.7,905h0M655,957h0M647.1,960.7h0M682.4,918h0M659.9,960.6h0M630.2,960.7h0M694.5,919.2h0M669.8,951.3h0M662.1,917.2h0M662.7,940.8h0M634,950.4h0M639.1,914.3h0M651.3,930.2h0M638.9,944.9h0M678.3,879h0M698.2,902.7h0M670.5,957.4h0M702.4,942.4h0M646.4,940h0M703.3,910h0M642,935.9h0M646,913.9h0M631.2,959.6h0M667.4,886.7h0M600.8,937.5h0M627.8,899.3h0M669,935.4h0M660.6,930.5h0M657.5,956.2h0M630.3,916.2h0M653.6,924.3h0M669.9,917.7h0M651.7,928.1h0M637.2,963.4h0M654.9,952.5h0M665,942.4h0M691.4,919h0M646,918.4h0M598.8,940.2h0M601.9,927.1h0M669.1,885.5h0M664,965.6h0M619.8,943.5h0M629.7,954.1h0M591.5,925.4h0M631.8,920.8h0M627.1,903.4h0M646.3,885.2h0M673.7,943.3h0M625.2,899.5h0M666.5,961.3h0M639,941h0M682.4,958.1h0M694.1,918h0M690.6,910.7h0M673.7,878.8h0M676.1,904.1h0M612.3,915.5h0M685.9,927.1h0M682.5,875.5h0M678,940.2h0M629.1,916.5h0M606,923.8h0M644.1,972.6h0M669.9,963.5h0M674.4,930.6h0M680.6,937.6h0M653.1,902.3h0M645.1,944.8h0M634.7,921.5h0M620.7,941.2h0M668.2,963.3h0M695,940.6h0M639.6,931h0M674.4,931.1h0M697,922.8h0M609.8,915.7h0M664.8,914.6h0M645.6,892.4h0M598.9,922h0M626.9,904.1h0M598.8,925.5h0M626.4,955.3h0M602.7,927.4h0M665.6,875.9h0M643.2,951.3h0M671.3,947h0M679.3,876.2h0M662,895.3h0M605.3,949.7h0M653.1,955.6h0M651.9,916.9h0M691.3,921.1h0M650.9,917.4h0M620.8,920.5h0M641.6,943.3h0M662.3,899.5h0M696,899.6h0M627.1,921.5h0M663,905.7h0M652.1,951.3h0M639.5,962.3h0M666.1,899.2h0M640.1,934.4h0M653.8,883.2h0M634.1,918.2h0M619.4,918.5h0M664.1,911.3h0M658.3,890h0M615.6,926.3h0M667,926.3h0M653.3,941.7h0M673.4,938.9h0M636.9,954.4h0M605.6,918.2h0M671.4,928.7h0M659.3,936.4h0M642.2,944.2h0M617.5,940.6h0M633.8,954h0M607.6,914.5h0M674.2,888.4h0M660.7,956h0M657.4,949.3h0M663.5,890.9h0M630.4,903.7h0M661.9,949.7h0M679.5,943.5h0M694.8,937.3h0M608.9,922.7h0M703.6,912.5h0M664.7,882.2h0M605.4,924h0M670.2,894.6h0M617.4,914.2h0M672.5,913.6h0M658,911.2h0M660.7,876.6h0M684.2,948.3h0M628,956h0M669.6,890.6h0M643.5,936.7h0M626.7,953.1h0M600.6,924h0M651.7,905h0M608.2,942.6h0M618.6,913h0M620.4,908.8h0M675.5,899.3h0M687.1,923h0M657.5,948h0M683.3,916h0M593.1,921.2h0M676.4,910.4h0M672.8,880.4h0M676.5,945.3h0M659.2,952.5h0M610.4,942h0M650,933.7h0M666.2,964.4h0M634.4,937h0M652.9,883h0M658.9,914.2h0M612.2,939.8h0M608.6,949.9h0M608.3,938.1h0M637.3,895.7h0M652.6,956.9h0M626.4,900.7h0M656.3,922h0M697.3,902.2h0M668.4,891.8h0M671.4,939.1h0M689,934.6h0M672.5,899h0M634.1,961.9h0M669.2,964.8h0M623.6,907.1h0M682.6,886h0M666.2,959h0M662.6,894h0M621,958.8h0M688.5,895h0M685.9,937.9h0M645.7,914.1h0M665.5,939.3h0M693.1,946.5h0M660.8,951.6h0M676.3,955.9h0M687.1,907.8h0M688.9,926.6h0M608.7,916.4h0M688.9,942.3h0M671.3,932.2h0M676.5,877.9h0M682.4,920.1h0M653,928.8h0M668.4,917.8h0M630.4,913.8h0M648.3,924.3h0M662.5,894.7h0M652.4,910.2h0M607.1,942h0M611.7,912.1h0M633.6,937.3h0M640.1,968.6h0M706.8,910.2h0M627.1,954.9h0M614.3,936.3h0M601.5,921.4h0M669.1,878.7h0M658.9,897.5h0M642,950.2h0M651.7,887.1h0M597.5,921.7h0M675.4,953.2h0M649.7,904.4h0M679.1,959.2h0M628.6,900.6h0M650,971.5h0M675,948.7h0M681.7,952.6h0M666.3,902.3h0M678.8,938.8h0M618.8,924.2h0M626.5,949.3h0M638,924.8h0M625.9,935.9h0M677.5,924.3h0M601.6,935.2h0M688.7,940.9h0M682,917.2h0M614.6,953.2h0M615.4,954.5h0M646.1,931.7h0M637,897h0M644.4,946.1h0M642.3,936.4h0M633.7,952.6h0M640.5,929.8h0M632.5,935.2h0M682.9,927.8h0M638.1,898.1h0M693.1,920.4h0M654.1,880.8h0M676.9,912h0M670.4,923h0M640.7,894.5h0M642.3,951h0M625,913.9h0M628.1,909.9h0M692.1,895.5h0M660.7,896.8h0M620.8,915.8h0M644.7,903.2h0M603.2,930.8h0M658.8,943.4h0M696.6,945.7h0M622.6,954.9h0M655.6,919.6h0M611.7,913.8h0M629,895.1h0M644,935h0M675.3,905.8h0M616.5,940.9h0M614.7,930.8h0M679.4,901.9h0M667.8,877.7h0M626.8,906h0M672.4,910.8h0M691.5,937.1h0M669.7,888.5h0M655.1,912.7h0M611.1,939.7h0M717.9,932.8h0M587.7,963.3h0M587.8,963.5h0M456.5,1061.2h0M436.4,975.8h0M419.5,975.2h0M416.4,985.5h0M456.9,1061.3h0" fill="none" stroke="#8F84E0" stroke-width="8.2" stroke-linecap="round"/>
<path d="M758.1,1001.4h0M724.8,1028.9h0M678.8,932.5h0M691.1,998.4h0M720.4,1039.6h0M671.3,999.9h0M680.2,998.2h0M675.5,985.4h0M718.8,1015.8h0M689.5,999h0M747.1,986.6h0M689.1,946.6h0M725.3,1023.8h0M672.9,1001.2h0M717.5,1006.6h0M720.4,1022.7h0M650.9,977.3h0M677.6,1001h0M718.3,1033.5h0M747.4,1017.6h0M689.7,994.3h0M721.4,1035.5h0M705.6,961.5h0M717.4,1032.5h0M737.3,978.9h0M739.9,1016.2h0M734.1,955.3h0M730,988.6h0M756.1,1011.5h0M694.9,982.5h0M703,957.7h0M740,977.2h0M725.3,959.4h0M716.3,1005.5h0M747.3,983h0M763.5,997.4h0M752.8,1021.5h0M673.7,984.5h0M685.3,933.4h0M681,918.2h0M723.7,978.8h0M663.8,986.3h0M735.3,978.8h0M723,1012.5h0M758,1014.8h0M755.7,1010.3h0M739.9,975h0M723.2,1015.8h0M757.2,993.9h0M693.4,986.7h0M687.4,919.6h0M699.5,977.5h0M704.6,1012.1h0M678.6,935.8h0M704.4,967.4h0M718.6,1032.8h0M682.1,918.8h0M677.4,942.2h0M695.4,980.8h0M752.9,1017.3h0M730.4,992h0M751.4,1000.4h0M687.5,1007.9h0M708.5,981.5h0M670.1,952.3h0M693.5,1011.6h0M737.5,1023.9h0M733.3,976.6h0M698.2,1008h0M655.4,988.2h0M697.9,973.4h0M700.7,970.2h0M677.2,947.5h0M720.6,963.5h0M684.9,921.4h0M722.9,1017.3h0M677.6,986.8h0M753.7,979.6h0M678.6,952.3h0M704.2,977.7h0M749.7,1017.9h0M678.6,930.7h0M717.6,948.8h0M750.8,981.5h0M750.2,1009h0M673.8,948.7h0M717.1,963.9h0M694.3,957.4h0M698.7,935h0M729.1,1027.7h0M733.5,967.1h0M673.1,991.7h0M732,963.8h0M729.3,985.2h0M714.5,1004.3h0M748.2,1014.8h0M687.3,998.1h0M728.7,994h0M706.5,1021.3h0M726.5,981h0M733.8,1006h0M694.7,962.1h0M734.6,964.2h0M660.8,987.6h0M689.2,936.2h0M687.4,944.5h0M707.8,973.8h0M742.9,1023.2h0M709.9,945.5h0M706,979.6h0M687.1,1007.9h0M726,961.9h0M686.9,1004.9h0M703.3,987.2h0M722.4,978.2h0M694.4,936.8h0M720.3,979.1h0M705.6,928.2h0M737.2,966.3h0M703.6,976.9h0M709.8,1012.2h0M682.2,944h0M679.5,998.8h0M727.1,994.3h0M677.6,992.5h0M755.9,1005.2h0M709.6,1003.1h0M682.1,992.9h0M747.1,986.5h0M721.7,1015h0M726.8,1010.6h0M679.9,939.6h0M704.7,982.1h0M708.7,980.6h0M674.2,987.3h0M697.4,946.6h0M677.7,943.1h0M696.5,950.2h0M710.7,985.9h0M664.3,985.2h0M690.2,990.7h0M727.4,1031.3h0M710.2,989h0M750.4,1012.8h0M705.9,979.3h0M721.4,988.3h0M697.1,984h0M714,999.5h0M714,1039.9h0M712.1,949.5h0M734.7,976.1h0M678,916.6h0M689.6,1002.8h0M731.5,969.1h0M696,1003h0M676.1,937.5h0M719.3,1025.4h0M682.2,933.7h0M732.7,964.5h0M699.9,1000h0M692.4,955.9h0M724.2,979.6h0M652.3,989.8h0M672.6,994.3h0M722.1,951.5h0M710.5,971.4h0M681.1,915.6h0M706,1018.3h0M706,999h0M649.5,983.5h0M677,938.3h0M720.6,1038h0M689.7,1008.7h0M677.5,956.6h0M698.2,974.8h0M712.2,957.1h0M715.7,950.9h0M657.7,979.6h0M714.1,991.5h0M720,960.5h0M697.7,958.8h0M653.9,992.7h0M680.5,938.4h0M703.9,1008.1h0M651.7,976.7h0M695.9,990.6h0M696.3,929.6h0M687.5,943h0M695.8,953.7h0M697.9,965.9h0M735.1,1011.7h0M720.8,981.8h0M746.4,1022.4h0M684.2,952.2h0M679.2,1011.7h0M670.6,991.2h0M686.3,916.3h0M731.6,1008.1h0M742.7,973h0M709.1,971.6h0M724,978h0M729.5,1014.2h0M654.8,967.8h0M657,992.2h0M708.6,1035.1h0M717.8,988.2h0M706.1,1001h0M702.1,949.7h0M669.1,1002.8h0M705.4,964.8h0M686.3,941h0M656,970.2h0M690.6,926.8h0M741.2,1007h0M680.1,940.1h0M714,1009h0M694,947.2h0M729.1,1009.3h0M720.4,963.1h0M689.7,935.7h0M660,992.4h0M684.2,1012h0M753.9,979.7h0M667.5,951.2h0M695.2,994.2h0M677.3,956.1h0M664.3,996.2h0M695.8,933.3h0M687.3,926.7h0M755.3,1002h0M659.3,992.7h0M729,983.8h0M718.9,995.7h0M730.4,1029h0M738.1,985.1h0M700.8,992.7h0M697.2,965.3h0M700.7,978.8h0M708.8,1019.1h0M694.8,932.6h0M703,951.5h0M676.5,1009.3h0M701.6,981.9h0M749.9,978.9h0M741.7,1006.1h0M696.1,1010h0M753.3,1011.5h0M713,954.5h0M735.5,1033.6h0M736.2,1031.8h0M662.1,999.8h0M728.1,984.6h0M743.1,972.3h0M762.9,994.9h0M656.7,968.3h0M726.9,1014.3h0M694.3,948.6h0M704.1,975.8h0M726.5,976.3h0M758.1,1003.6h0M688.5,917.9h0M656.4,969.9h0M739.8,972.9h0M719.3,981.1h0M685.4,915.1h0M734.2,1022.7h0M697.5,985.5h0M689.2,1012.4h0M676.9,1005.4h0M724.7,953.1h0M748.7,1022.5h0M683,999.4h0M724.2,985.6h0M704.4,990.3h0M738.6,970.8h0M708.6,999.7h0M717.8,962.1h0M718.5,1007.3h0M703.1,1003.8h0M751.8,988.6h0M671.4,995.8h0M742.9,1018.4h0M730,987.3h0M722.7,1029.3h0M656.4,970.9h0M682.3,928.7h0M721.3,991.3h0M703.2,1007.9h0M692.7,941h0M706.5,980.2h0M690.5,1000.8h0M655.4,969.2h0M684.6,936.2h0M688.3,993.2h0M705.4,990.8h0M712.4,998.9h0M668.3,952.2h0M677,991.9h0M739.3,1008.3h0M744.5,1003.9h0M734.4,1026.2h0M758.9,991.8h0M754.3,979.9h0M702.6,1023.2h0M760.7,1011.6h0M742.3,979.1h0M691.7,951h0M719,1031.5h0M732.1,1030.4h0M720.5,993.5h0M699,930.4h0M704.1,924.7h0M739.7,1019.3h0M720.1,991.6h0M742.7,988.2h0M662.6,983.9h0M709,1004.8h0M668.7,999.5h0M732.6,968.9h0M721.7,984.8h0M733.7,992.4h0M682.5,990.5h0M746.4,1002.7h0M732.2,994.3h0M668.2,988.4h0M746.7,1006.1h0M725.1,1039.7h0M736.4,997.8h0M722.3,1015.8h0M752.6,986.5h0M693.5,949.5h0M691.1,998.2h0M720.9,959.2h0M668.8,956.8h0M657.8,979.6h0M709.1,973.6h0M717,962.3h0M751.8,1004.1h0M750.9,979.7h0M682.1,933.1h0M698.8,977.3h0M687.6,946.8h0M717.7,1039.8h0M707.8,1019.7h0M659,988.3h0M678.5,994h0M754.8,1007h0M707.3,1010.1h0M712.1,1034.5h0M760.5,1012.2h0M700.5,973h0M660.4,997.5h0M644.9,997.2h0M680.1,965.9h0M688.9,963.8h0M682.8,977.5h0M685,984.1h0M594.3,995.9h0M603.9,989.3h0M604.8,997.2h0M598.9,1004.4h0M600.9,999.8h0M674.9,872.6h0M674.5,887.8h0M660.4,902.6h0M670.3,906.8h0M621,907.8h0M601.1,920.7h0M611.8,926h0M631.5,918.6h0M641,923.9h0M646.5,931.1h0M660.7,919.7h0M671.2,922.7h0M609.2,939.4h0M640.7,941.3h0M654.8,940h0M663.6,936.7h0M650.2,947.3h0M657.4,950.1h0M666.6,946.6h0M398.5,1025.8h0M432.7,1041.4h0M378.5,1051.3h0M426.7,972.7h0M410.6,983h0M405.1,989.6h0M398.9,993.7h0M402,1000.9h0M410.6,1004h0" fill="none" stroke="#31A727" stroke-width="8.2" stroke-linecap="round"/>
<path d="M412,939.9h0M407.5,950.2h0M421.9,864h0M424.9,825.7h0M373.1,900.8h0M376.7,890.6h0M423.4,951h0M394.6,911.1h0M386,825.3h0M381.8,845h0M357.3,867.2h0M429.1,940.1h0M361.9,843.9h0M355.4,861.7h0M409.3,872h0M434.9,836.1h0M404.2,868.4h0M420,834h0M349.7,851.9h0M421.8,928h0M424.1,920.6h0M352,855.6h0M399.4,949.3h0M388.8,856.5h0M444.2,953.8h0M416.4,888.8h0M389.7,858.8h0M373.4,846.9h0M396.2,836.6h0M388.4,856.7h0M360.3,880.7h0M381.5,856.4h0M388.8,841.3h0M364.3,866.2h0M379.4,923h0M385.2,931.9h0M381.1,833.2h0M404.3,859.4h0M393.3,918.6h0M375.8,898.8h0M439.5,942.1h0M412.7,935.5h0M436,945.1h0M366.1,825.1h0M380.1,849.6h0M358,842.6h0M409.6,845.2h0M363.1,851.6h0M379.8,878.4h0M402.9,893.6h0M414.7,883.5h0M391.4,882.6h0M395.4,822.1h0M420.9,859.4h0M397.9,939.7h0M375.1,850.2h0M392.3,908.7h0M364,881.4h0M361.8,838.6h0M370.9,825.9h0M375.9,870.1h0M416.2,917.7h0M402.3,890.1h0M401.7,878.5h0M378.1,910.4h0M349.6,862.4h0M367.2,893.3h0M399.6,908.6h0M382.6,872h0M430,948.3h0M371,904.8h0M351.7,840.7h0M426.8,863h0M392.4,935.4h0M395.4,882.5h0M394.3,873.4h0M417.3,933.5h0M394.7,814.6h0M375.3,877h0M435.1,945.8h0M406.3,936.3h0M383.1,898.4h0M377.2,831.5h0M397.4,889.9h0M436.6,949.5h0M356.8,873.4h0M441.7,947.9h0M381.1,843.3h0M394.1,905.3h0M372.4,870.4h0M372.4,905.1h0M407.1,929.2h0M372.1,859.2h0M412,823.8h0M372.3,902.4h0M399.9,936h0M387.2,869.1h0M382.5,869h0M399.5,912.9h0M383.4,824.7h0M424.6,884.7h0M407.1,924.4h0M423,935.1h0M393.5,867.4h0M433.9,898.8h0M430.2,883.1h0M410.1,929.5h0M361.5,834.8h0M390.5,898.8h0M388.3,867.4h0M378.6,861.2h0M429.8,927.1h0M381.7,874.6h0M362.3,885.1h0M392.8,935.6h0M394.2,820.1h0M405.4,817.7h0M387.3,839.5h0M421.5,834.9h0M431.3,944.6h0M385.2,856h0M404.4,873.8h0M380.9,903h0M428.8,831.5h0M413.9,874.2h0M391.3,912h0M356.7,856.9h0M431.2,895.1h0M429.2,895h0M389.2,840.1h0M378.2,899.4h0M355,855.4h0M442.5,942.9h0M381.9,877.1h0M421.7,836.4h0M379.1,821.5h0M413.4,855.7h0M409.8,871.2h0M404.2,876.3h0M394.1,852.2h0M374.6,827.4h0M426.7,927.6h0M391.1,887.4h0M374,864h0M416,938.3h0M374,917.1h0M413.4,857.7h0M428.7,946.7h0M410.7,923.9h0M437.9,938.3h0M358.9,834.8h0M387.8,828h0M360.5,850.5h0M418.5,944.5h0M435.3,901.3h0M420.5,839.5h0M411.4,903.3h0M419.1,836.4h0M353.5,879.6h0M370.9,847.3h0M423.4,841h0M424.9,914.1h0M354.7,854.6h0M379.7,884.7h0M433.2,839.9h0M366.9,858.2h0M426.8,938.2h0M395.3,879.5h0M394.4,947.9h0M372.4,891.8h0M436.3,911.5h0M371.2,895.7h0M399.6,940.6h0M418.7,844.4h0M405.8,953.9h0M424.5,860.6h0M445.4,946.9h0M428,878h0M379.7,936.4h0M395.4,876.6h0M371.5,863.4h0M361.4,857h0M370.2,893.7h0M392,932.9h0M412.1,954.8h0M382.3,909.5h0M418.6,871.3h0M392.6,860.4h0M406.9,816.6h0M377.3,900.3h0M374.9,885.6h0M391.4,888.8h0M353.2,857.5h0M435.6,942.2h0M384.1,879.6h0M435.8,933.8h0M376.5,933.8h0M405.7,825.2h0M416.8,944.1h0M364.7,898.4h0M416.6,939.6h0M415.7,942.7h0M387.9,824.9h0M380.2,829.9h0M394.4,940.1h0M393.2,932.1h0M392.2,905.4h0M365.6,832.3h0M400.6,846.1h0M423.3,836.1h0M382,900h0M384.8,828.1h0M357.9,860.3h0M391.9,908.9h0M398,879.6h0M427.9,944.6h0M356.1,877.9h0M382.4,936.7h0M385.6,897.5h0M417,943.4h0M387.2,848.6h0M351.7,873.3h0M432.5,942.2h0M392.6,865.7h0M362.7,892.9h0M390.6,875.2h0M400.9,935.2h0M354.8,870.4h0M419.8,912.6h0M427.2,894.4h0M356.2,855.5h0M370.1,831.4h0M432.4,845.8h0M410.7,952.7h0M410.2,856.9h0M394.5,865.3h0M422.8,944.6h0M392.8,946.8h0M429.3,857.2h0M367.2,850.6h0M395.7,919.9h0M411.5,832.2h0M418.8,950.6h0M360.9,830.8h0M395.9,847.6h0M406.3,837.7h0M436.8,845.8h0M390.3,905.4h0M428.3,951.2h0M413.2,827.7h0M400.1,920.3h0M398.3,893h0M375.9,856h0M426.1,841.3h0M380.9,862.6h0M396.4,854.5h0M425.4,938.5h0M380.5,878.6h0M358.1,882.3h0M363.1,840.2h0M405.8,890.5h0M378.7,907.2h0M370.4,909.1h0M417,868.2h0M430.6,856.2h0M359.2,882.5h0M445.5,955.7h0M378.1,836.9h0M353.4,856.9h0M398.8,946.5h0M406.6,869.5h0M428.3,892.8h0M365,867.1h0M418.7,865.5h0M383.1,941.3h0M431.4,929.6h0M373.1,822.9h0M400.2,951.4h0M377.2,881.4h0M387.8,837.4h0M428.6,897.6h0M389,913.9h0M360.1,883.1h0M395.7,932.4h0M423.4,927.6h0M374.2,832.5h0M402.5,847h0M404.8,853h0M429.1,877.6h0M396.6,933.2h0M361.5,853.9h0M369.4,881.3h0M427.9,940.4h0M418.8,831.3h0M416.4,888.4h0M435.1,850.8h0M426.2,915.5h0M347.4,854.7h0M362.7,884.7h0M424.9,896.8h0M403.2,895.9h0M380.2,894.7h0M365,828.3h0M393.6,831.9h0M430.5,839.3h0M419.4,907.2h0M429.4,891.9h0M359.7,847.1h0M422,919.4h0M367.2,888.4h0M437.5,938.4h0M361.6,833.7h0M440.3,940h0M397.8,864.8h0M355.9,876.6h0M372.9,896.4h0M392.5,824.5h0M366.8,860.9h0M383.2,941.3h0M379.4,884.5h0M380.7,828.7h0M357.9,874.9h0M402.4,924.5h0M349.3,869.7h0M360.9,833.5h0M406,818.3h0M411.5,861.9h0M413.5,831h0M430.7,846.8h0M373.7,917.1h0M415.7,907.2h0M400.7,839.3h0M355.7,846.7h0M381.7,931.5h0M404.6,842.3h0M370.6,830.2h0M422.6,896h0M435.5,911.4h0M397,872.7h0M407.5,865h0M403.8,853.9h0M361.5,859.2h0M401,947.8h0M390.9,876.9h0M391.6,884.7h0M371.2,871.4h0M404.2,864.1h0M433.3,910.9h0M355.9,841h0M402.2,911.2h0M383.4,851.1h0M393.6,834.4h0M351.3,873.8h0M388.3,824.6h0M395.8,913.2h0M401.6,949.1h0M397.1,947.7h0M439.1,937.1h0M378.8,822.5h0M413.4,870.7h0M378.5,870.7h0M358.1,878.2h0M445.8,946.9h0M427.4,837h0M377,863.3h0M350.4,843.3h0M386.7,835.5h0M420.3,954.9h0M364.4,868.9h0M417.4,928.1h0M426.3,846.8h0M379.9,836.9h0M404.8,845.6h0M444.7,838.6h0M421.9,836.6h0M408.4,940.3h0M415.8,831.6h0M381.4,914.1h0M435.9,946.7h0M393.3,848.5h0M359.1,890.4h0M384.6,835.7h0M431.9,832.3h0M387.9,832.6h0M378.7,839.2h0M373.8,826h0M410.7,943.4h0M377.7,854.7h0M386,825.3h0M422.8,893.5h0M414,943.6h0M404.5,865.7h0M410.7,884.6h0M364.8,871.6h0M399.8,899.4h0M358.7,877.2h0M369.5,890.6h0M419.9,889.5h0M364.4,851.6h0M361.5,861.7h0M406.3,839.6h0M434,948.6h0M384.2,892.2h0M383.4,828.1h0M403.3,863.7h0M445.7,956.3h0M446.5,955h0M362.2,838.7h0M390,853.8h0M432.4,892.3h0M413.6,875.3h0M355.6,883.8h0M404.4,850h0M385.3,942.5h0M427.2,848.6h0M359,839.8h0M429.1,889h0M347.6,850.1h0M400.1,922.9h0M392.6,902.9h0M377.6,823.9h0M435.2,945.1h0M426.3,872.9h0M362.5,894.4h0M433,881.9h0M441.8,841.4h0M426.4,836.9h0M440.4,944.8h0M393.3,833.7h0M402.2,854.1h0M431.7,842.7h0M397.7,941.5h0M427.5,845.9h0M417,840.2h0M394.8,876.7h0M385.8,816.3h0M421.5,904.9h0M376.8,832.3h0M417.4,826.9h0M412.7,945.1h0M392.5,888.9h0M420.4,863.5h0M397.1,901.1h0M361.6,885h0M435.4,914.7h0M403,848.9h0M385.2,844.7h0M391.3,904.1h0M349,843.9h0M442.5,945.7h0M371.2,914.2h0M428.9,930h0M393.6,822.9h0M409.5,879.2h0M389,918h0M377.2,874.9h0M427.8,846.9h0M388.5,877.1h0M366.8,864.9h0M387.2,852h0M423.1,914.1h0M428.7,889.5h0M391.7,835.2h0M391.6,874.4h0M418.9,821h0M412.1,939.5h0M432.5,891.6h0M385.8,837.9h0M427.3,931.1h0M379.6,859.6h0M426.6,836.9h0M422.6,928.8h0M382.8,904.3h0M434.7,918h0M410.5,946.5h0M422.9,939.6h0M348.4,865.7h0M376.8,886.7h0M380.2,846.2h0M401.4,944.1h0M406.2,940.5h0M381,828.4h0M426.2,872.9h0M396.9,940.6h0M364.6,885.2h0M424.7,936.8h0M364.9,861.6h0M367.2,900.7h0M410.6,922.7h0M407.1,824.8h0M420,822.8h0M394.8,862.1h0M379.5,905.7h0M387.2,885.7h0M437.9,936.5h0M383.4,929h0M418.5,909.4h0M389,874.9h0M433.6,930.4h0M417.3,949.6h0M387.8,879.9h0M354.2,842.8h0M430.6,899.9h0M405.2,936.2h0M436.7,942.1h0M432.1,915.7h0M417.2,915.8h0M410.4,827.5h0M417.1,843.3h0M347.9,852.7h0M386.6,915.2h0M366.7,897.5h0M442,947.1h0M407.6,818.4h0M385.1,861.3h0M395.9,926.4h0M407.1,939.4h0M381,846.3h0M404.4,943.4h0M364.2,888.2h0M417.3,942.5h0M375.9,861.3h0M411.6,846.5h0M385.2,931.5h0M424.4,848.6h0M360.5,833.6h0M390.1,957.4h0M394.2,965.7h0M397.3,977h0M426.1,965.7h0M429.2,956.4h0M445.6,958.5h0M562.4,1030.9h0M551.1,1038.1h0M554.8,1041.8h0" fill="none" stroke="#A5902B" stroke-width="8.2" stroke-linecap="round"/>
<path d="M556.7,976.8h0M524.8,1026.9h0M476,980.9h0M484.7,991.8h0M554.2,964.8h0M552.8,964.2h0M518.2,981.5h0M480.9,967.3h0M471.8,969.5h0M516,957.2h0M528.8,1031.7h0M456.6,987.4h0M560.1,977.5h0M455.4,988.9h0M517.5,1021.7h0M507.7,953.7h0M528.4,1009.5h0M513,991.8h0M466,990h0M466.9,1036h0M542.8,975.9h0M534.9,980.2h0M529.3,984.3h0M541,1012.1h0M507.5,954.4h0M526.3,959.5h0M561.3,976.6h0M512.8,969.6h0M514.7,963.3h0M543.9,1019h0M474.6,1004.8h0M498.2,969.6h0M470.9,1005h0M556.4,1000.6h0M565,976.9h0M532.5,1029.3h0M509.8,997.5h0M516.9,1031.6h0M513.9,971h0M508.9,1000.6h0M508.6,981.9h0M553.7,1007.5h0M557.4,983.9h0M508.3,969.7h0M477.5,1029.2h0M488.3,967.6h0M502.1,1010.5h0M537.1,1021.8h0M486.4,962h0M524.5,993.2h0M533.8,968.7h0M550.5,991h0M557.3,982.1h0M558.8,1002.1h0M536.1,989.9h0M474.8,991.3h0M530.2,1031.3h0M506.2,992.5h0M479.4,1019.6h0M480.5,1019h0M504.2,1014.5h0M504.3,1037.9h0M456.6,989.8h0M507.7,987.8h0M502.5,1028.9h0M518.6,981.1h0M491.7,1036.2h0M482.1,962.4h0M505.7,954.7h0M530.7,991.8h0M490.1,1011h0M511.4,958.6h0M569.4,986h0M471.6,997.4h0M486.4,1001.9h0M456.6,985.2h0M514.4,1022h0M556,984.5h0M486.4,1034.6h0M489,988.2h0M518.4,1007.7h0M538.2,1016.1h0M542.6,1016.5h0M526,975.8h0M509.8,995.4h0M569.7,982.6h0M488.9,1033.2h0M544.5,960.6h0M541,1030.8h0M509.9,1018.5h0M501.6,972.8h0M498.7,1027.3h0M548.7,971.6h0M488.2,969.5h0M508.3,957.6h0M553.6,991.1h0M491.4,1010.1h0M519.2,1008.3h0M517.8,990.5h0M467,1010h0M552.2,974.7h0M462.4,1022.3h0M459.7,1031.9h0M498.6,972.1h0M490.4,1038.6h0M540.8,1030h0M500,978.9h0M483.6,976.6h0M521.4,969.6h0M477.6,1009.5h0M527.8,1028h0M543,1026.1h0M508.3,967.2h0M514.9,982.1h0M501.5,1019h0M545.6,1025.3h0M563.5,996.4h0M499.3,1023.4h0M463.6,1000.9h0M504.8,984.4h0M490.7,966.8h0M496.3,1010.3h0M540.1,1017.3h0M471.4,972.6h0M525.7,961.8h0M498.3,1022.5h0M540.5,1023h0M499.3,957.2h0M530.8,971.1h0M521.2,974.9h0M516.9,1041.3h0M502.4,1041.6h0M528.5,962.5h0M527.9,1008.7h0M487.3,971.1h0M546.8,972h0M565.7,992.1h0M557.2,1000.3h0M528.6,1019.2h0M482.9,963.6h0M502.6,992.9h0M550.9,1007.1h0M505.8,957.4h0M522.9,958h0M468.6,994.7h0M481.4,1005.2h0M555.7,980.4h0M469.1,1003.5h0M465.1,1006.7h0M527.1,1018.7h0M526.4,967h0M483.3,993.1h0M474.7,1015.3h0M551.5,972.6h0M468.4,991.5h0M513.6,999.4h0M456.7,1029.8h0M568.8,983.3h0M540.9,1030.4h0M492.7,976.6h0M519.1,961.2h0M518.6,1038.5h0M521,971.4h0M467.8,1000.2h0M472.1,1009.6h0M475.5,972.8h0M489.8,1038.9h0M480.9,1015.4h0M511.2,980.1h0M539.7,1012.5h0M553.8,984.3h0M482.1,960.1h0M508.6,973.9h0M548,977.8h0M477.6,966.8h0M540.1,1009.8h0M527.9,979.6h0M547.3,998.8h0M554.1,1005h0M548.7,1008.8h0M484.8,1034.2h0M539.1,1025.1h0M481.9,1011.7h0M507.1,975.2h0M476.1,974.3h0M481.6,994h0M511.4,991.6h0M516.6,997.1h0M518,1020.5h0M489.7,1033.3h0M471.1,999.3h0M521.1,977.6h0M542.6,1013h0M518.1,1010.2h0M514.6,960.9h0M539.7,964.6h0M523.9,998.9h0M498.7,1047.3h0M491,1025.2h0M523.1,1008h0M501.6,1020.6h0M551.7,963.1h0M461,1013.3h0M520,1006.5h0M475,967.7h0M505,961.9h0M492.8,970h0M539.1,964.3h0M547,995.3h0M516,1014.5h0M515.2,1028.6h0M546.6,1020.1h0M517.4,1041.4h0M507.6,1001.4h0M519.7,1010.5h0M462.7,984h0M521,970.6h0M456.4,1011.1h0M506.4,990.8h0M454.3,1022.5h0M484.2,990.5h0M501.8,974.7h0M455.6,1008.6h0M479.7,993.4h0M456.1,1025.5h0M508.7,1011.1h0M480.1,978.8h0M477.4,983.2h0M513.5,1016h0M483.3,1003.4h0M460.4,976.5h0M551.5,971.3h0M515.3,990h0M483.3,961.1h0M568.6,978.7h0M544.8,1002.5h0M493,991.3h0M478.7,1036h0M543,1005.4h0M475.3,1024.1h0M460.5,1030.2h0M497.3,980.2h0M508,971.2h0M564.3,987.4h0M478.4,1026.6h0M497.8,1021.7h0M518.7,981.3h0M514.1,1007.6h0M474.5,958.9h0M515.9,1001.1h0M525.9,1041.7h0M490.7,974.3h0M513.7,969.6h0M494.4,980.8h0M474.8,972.8h0M512.9,990h0M553.6,978.3h0M471,989.3h0M500.9,995.5h0M479.4,1010.2h0M514.8,1025.2h0M470.1,1008.7h0M486.5,1025.1h0M468.8,989.2h0M553.5,983h0M456.9,1020.9h0M554.1,1002.1h0M463,1019.4h0M515,1040.3h0M537.8,1018.3h0M542.9,967.9h0M505.1,987.5h0M495.2,1010.2h0M523.4,959.8h0M484.9,1029.5h0M512.2,1032.4h0M468.3,972.3h0M549.4,1007.7h0M473.7,967.4h0M552.7,962.3h0M528.7,1017.3h0M517.9,957.7h0M497.1,979.8h0M524.3,1007.3h0M553.6,1012.9h0M517.9,984.2h0M484.8,957.3h0M544.7,1019.1h0M482.1,973.9h0M530.5,952.4h0M510.3,1018h0M488.8,1023.5h0M473.7,964.9h0M482.7,976.2h0M536.2,978.1h0M473.9,974.4h0M552.3,978.2h0M522.8,963.6h0M491.8,1029.5h0M526.4,1030.8h0M498.4,1011.2h0M484.4,996.6h0M522.8,965.9h0M486.1,1033.4h0M497.2,976.5h0M493.9,1033.3h0M479.6,1003.2h0M490.2,1024h0M472.8,993.2h0M549.9,1008.7h0M534.9,1004.4h0M536.5,1025.2h0M550.4,1013.9h0M507.4,1005h0M543.7,1018.9h0M461.3,999.8h0M563.5,1001.9h0M535.7,987.7h0M558.6,1010.8h0M476.4,1015.4h0M481.5,980.8h0M504.6,955.1h0M524.6,1018.2h0M527.9,968.8h0M533,991.5h0M484.1,1029.4h0M525.4,1017.3h0M476.7,968.5h0M512.8,1029.9h0M481.4,969.4h0M510.1,982h0M461.8,1002.8h0M501.2,963h0M459.5,998.7h0M524.5,1026.4h0M506.2,968.7h0M522.9,1037.8h0M513.3,984.4h0M530,1033.2h0M458.7,1003.6h0M568,976.2h0M520.3,1010.2h0M473.5,972.5h0M455.1,1005h0M490,1024.4h0M485.4,1004.7h0M505,1042.4h0M478.1,1039.2h0M530.5,1013.6h0M479.5,1005.5h0M454.2,992.7h0M534.7,972h0M479.2,995.6h0M537.1,1017.7h0M524.8,994.1h0M493.3,1029.4h0M489.7,1039h0M478.9,1017h0M548.6,1010.3h0M547.1,998.7h0M491.4,1040.2h0M541.5,966.8h0M463.9,1023.8h0M504.9,1025h0M508.6,1027.9h0M521.7,1021h0M480.9,1017.2h0M503,965.2h0M467.5,1027.8h0M560.1,973.7h0M518.9,1031h0M518.8,989.4h0M521.3,974.6h0M453.6,993.7h0M501,962.6h0M487,1021.2h0M486.4,972.7h0M563,974h0M507.9,966.4h0M475.7,961.2h0M519,1029.2h0M521.3,1043.8h0M468,988.8h0M523.4,1042.5h0M547.6,1010.4h0M481.6,960.4h0M518,994.2h0M510.4,977.9h0M456.9,1010.2h0M520.4,986.7h0M508.4,998.5h0M507.7,953.8h0M468.5,1029.1h0M525.7,1040.1h0M555.3,991.9h0M527.3,1025.5h0M473.4,1000.8h0M491.2,1030h0M553.7,998.2h0M554.6,975.5h0M499.7,1029.5h0M543.7,1024.5h0M504.9,979.3h0M548.5,1010.5h0M555.4,995.1h0M470.5,997.6h0M548,978.2h0M501.1,966h0M457.7,998.2h0M520.4,960.3h0M487.2,982.8h0M508.7,992.6h0M484,970.2h0M485.4,1034.8h0M541.1,1028.9h0M546.6,1014.6h0M497.4,962h0M535.9,1023.1h0M467.6,1005.6h0M514.8,1039.8h0M543.6,1021.1h0M477.5,953.2h0M520.3,1003.6h0M519,1012.6h0M563.2,1000h0M521.7,995.5h0M468.3,1026.3h0M482,1035.3h0M542.2,990.6h0M522.4,998.4h0M555.5,1013.8h0M456,1013.6h0M497.8,972.4h0M487.5,976.7h0M478.9,1019.6h0M543.8,971h0M474.3,965.1h0M476,1034.7h0M533.5,1028.2h0M504.3,1028.2h0M522.3,1001.4h0M487.4,990.6h0M538.2,1002.9h0M565.4,990.8h0M507.5,1027.3h0M507.6,959.5h0M500.4,959.1h0M522,1035.1h0M528.7,991.9h0M521.8,1009.6h0M494.8,1024.7h0M461.6,978.5h0M512.6,1001.5h0M541.1,970.7h0M501.6,987.2h0M462.2,1034.8h0M514.1,992.8h0M501.9,1015.2h0M516.8,1020.9h0M510.7,1001.8h0M502,994.1h0M555.8,1007.7h0M544.9,1019.1h0M546.9,1023h0M509.9,1010.1h0M526.1,1010h0M520.9,998.6h0M489,1037.7h0M479.2,965h0M548.3,1016.6h0M522.1,983h0M537.6,1008.8h0M473.6,971.3h0M520.4,1016.3h0M476.8,1001h0M526.7,1012.6h0M472.6,994.8h0M553.2,995.6h0M491.4,985.9h0M543.5,960.8h0M519.9,957.2h0M470.8,1021.2h0M523.8,992.1h0M484.4,1024h0M504.1,1019.9h0M553.6,989.2h0M496.1,1039.7h0M553.4,996.6h0M519.6,1027.9h0M517.8,1024.9h0M537.9,981.1h0M473.8,1014.4h0M552.7,979.6h0M559.7,975.8h0M473.9,995.4h0M501.8,993.8h0M476,993.4h0M509.5,1020.1h0M490.5,970h0M536.6,989.3h0M471.9,1012.3h0M469.6,1017.9h0M523.6,1008.3h0M510.8,993.9h0M475.8,989h0M510.9,972.6h0M522.5,974.2h0M567.8,979.1h0M513.9,954.2h0M542.8,1022.6h0M546.5,1000h0M455.2,1004.4h0M534.2,993h0M465.4,985.2h0M480.5,979.5h0M458.6,992.3h0M499,969h0M530.2,1027.2h0M556.5,1010.6h0M552.3,983.9h0M517.2,979.8h0M504.7,1031.6h0M509.3,1022.1h0M518.8,956.8h0M495.4,967.9h0M525.9,971.7h0M475.3,953.2h0M507.4,993.7h0M497.7,1031.5h0M497.7,1032.1h0M467.4,996.1h0M496.5,988.2h0M474.3,1039.1h0M488,965.5h0M512.2,954.2h0M516.6,1039.7h0M540.6,977.8h0M517.1,1009.1h0M541.8,976.3h0M527.7,974.7h0M465.2,991.1h0M534.1,1023.5h0M477.9,1034.2h0M468.7,992h0M552,960.3h0M475,974.2h0M493.1,1003.3h0M519.8,1037.5h0M462.1,976.4h0M509.8,990.8h0M496.2,993.9h0M497,982.7h0M533.7,998.4h0M520.2,1028.7h0M497.5,1033.1h0M500.2,990.2h0M490.6,976.2h0M466.7,986.5h0M497.7,1012.1h0M508.9,982h0M512.5,990.1h0M547.8,1008.8h0M557.1,997.7h0M459.4,999.2h0M549.9,966.1h0M525.4,1005.1h0M541.5,954.4h0M472.7,998h0M488.7,1039.7h0M541.1,1028h0M495.6,1012.6h0M532.2,979.8h0M491.5,981.2h0M547.8,1013.3h0M525.7,976.3h0M489.1,1020.9h0M480.7,959.8h0M521.8,1042.1h0M473.1,951.9h0M497.4,993.3h0M494.9,1022.9h0M571.4,981.4h0M494.7,987.1h0M507.1,989.3h0M531.6,993.5h0M465.6,986.5h0M463.6,985.3h0M473.3,1006.3h0M499,1017.9h0M534.3,988.8h0M509.5,989.3h0M469.2,980.1h0M496.1,1039.7h0M506.4,1041.9h0M484.8,980.5h0M501.1,1034.3h0M492.5,1030.3h0M508.8,995.2h0M520.2,961.6h0M523.4,1034.1h0M527.5,977.9h0M495.1,957.3h0M457.7,1020.6h0M541.8,957.6h0M488,1027.9h0M539.2,1014.3h0M530.9,985.8h0M478.7,990.6h0M501.2,976h0M522.4,1015.6h0M509.2,954.9h0M524.1,1037h0M532.4,972.9h0M545,978.7h0M501,1026.5h0M506.1,990.9h0M486.2,999.9h0M488.5,964.1h0M532.4,1007.2h0M473.9,1029.6h0M517.8,951.7h0M498.3,962.3h0M553.9,1008.7h0M518.6,1016.1h0M532.4,1001.7h0M502.1,956.4h0M537.8,975h0M521.2,1024.9h0M457.2,989.1h0M543.9,1022.5h0M468.9,1027.1h0M465,1028.6h0M527.1,986.9h0M471.5,973.5h0M549.6,1009.8h0M543.7,992.2h0M519.4,961.8h0M526.6,988.5h0M454,1005.9h0M467.6,986.9h0M527,1019.2h0M528.7,1020.6h0M566.8,985.2h0M482.5,964.4h0M495.4,973.1h0M507.1,985.9h0M475.3,1021.3h0M492.5,933.6h0M483.3,937.8h0M442.1,984.5h0M451,982.8h0M422.2,993.7h0M451,999.5h0M481.2,1051.7h0M488.8,1060.8h0M532.6,1053.4h0M470.9,1046.2h0M568.6,1063.7h0M491.5,1087.3h0M498.7,1051.3h0M521.3,1050.3h0" fill="none" stroke="#9B25C2" stroke-width="8.2" stroke-linecap="round"/>
<path d="M511.3,1089.5h0M520.2,1093.7h0M511.2,1067.8h0M518.3,1096.7h0M543.3,1089h0M593.7,1092.4h0M568.5,1065.9h0M495.5,1081h0M580.5,1108h0M515.3,1085h0M512.7,1061.7h0M603.7,1105.1h0M545.1,1111.1h0M539.3,1088.2h0M537.3,1093.3h0M542.5,1102.4h0M603.4,1097h0M556.5,1103h0M559.8,1092.6h0M497.1,1073.9h0M547.3,1114.5h0M554.6,1081.3h0M551.3,1075.4h0M515.1,1092.9h0M547,1098.6h0M572.4,1105.6h0M548.6,1095.9h0M571.8,1107.7h0M558.7,1055.8h0M543.1,1059.2h0M550.1,1083.2h0M512.9,1107.2h0M574,1114.4h0M523.8,1086.4h0M586.6,1094.4h0M537.6,1057.2h0M562,1060.9h0M556.3,1064.2h0M542,1106.1h0M576.8,1113.5h0M523,1074.8h0M519.4,1067h0M570,1084.9h0M510.8,1093.2h0M561.9,1069.9h0M503.4,1098.8h0M545.6,1073.4h0M543.8,1084.8h0M516,1067.2h0M592.4,1101.6h0M541.3,1092h0M583.3,1092.5h0M559.8,1098.8h0M533.5,1099.5h0M556,1065.6h0M595.6,1091.6h0M528.8,1055.6h0M576.9,1117.9h0M515.6,1085.2h0M557.5,1070.7h0M522.3,1055.3h0M553.4,1101.7h0M526.3,1070.6h0M522.6,1086h0M578.5,1076.3h0M513.1,1053.8h0M596.4,1091.7h0M556.1,1107.3h0M524.8,1066.9h0M529.6,1081.5h0M605.2,1105.2h0M547.8,1067.4h0M536.4,1095h0M554.9,1092.5h0M550.1,1100.9h0M502.8,1068.6h0M592.8,1091.1h0M546.3,1112.8h0M514.8,1099.2h0M541.9,1116.3h0M509,1084.3h0M539.1,1090.1h0M553.7,1100.4h0M581,1101.6h0M524.6,1058.7h0M563.5,1058.7h0M566.1,1082.1h0M504.3,1095.4h0M528.9,1072.8h0M532.3,1112.4h0M540.9,1085.9h0M538.7,1090.5h0M511.9,1111.4h0M541.4,1080h0M588.5,1098.2h0M512.6,1095.4h0M548.6,1083.3h0M506.3,1096.5h0M571.7,1091.1h0M597.4,1092.1h0M571.1,1099h0M562.6,1115.7h0M514.1,1054.2h0M516.8,1068.2h0M546.5,1099.7h0M520.9,1059.9h0M502.9,1078.2h0M564.8,1119.7h0M530.8,1055.8h0M520.8,1113.2h0M530.7,1090h0M556.9,1081.2h0M526.8,1068.5h0M522.4,1078.8h0M550.8,1061.3h0M554.5,1059.5h0M504.9,1102.4h0M515.5,1093h0M516.6,1063.1h0M574.4,1078.1h0M585.7,1100.5h0M580.3,1080.2h0M526.8,1095.1h0M536.7,1063.6h0M540.3,1069.8h0M575.7,1090.9h0M581.3,1100.1h0M568.7,1081.5h0M555.6,1093.7h0M565,1075.4h0M587.6,1086.4h0M516.7,1078.9h0M523.9,1077.5h0M582.8,1115.3h0M514.6,1063h0M560.2,1120.2h0M522,1106.3h0M551.9,1066.3h0M531.9,1087.3h0M554.2,1056.7h0M556.5,1104.7h0M547.4,1081.1h0M526.4,1111.2h0M510,1103.5h0M582,1076.2h0M519.1,1082.6h0M509.6,1074.1h0M522.9,1090.9h0M587,1103.5h0M565,1077.5h0M521.3,1099.7h0M542.4,1102h0M535.5,1103.7h0M596.5,1095.6h0M516.7,1053.2h0M495.8,1083.5h0M516,1112.7h0M511.2,1087.3h0M533.1,1063.6h0M527.6,1068h0M532.1,1083.6h0M586.1,1112.8h0M517.2,1044.4h0M566.3,1061.9h0M582.9,1078.4h0M512.3,1062.1h0M509,1076.4h0M540.2,1102.2h0M512.3,1074.2h0M506.2,1070.6h0M525.5,1099.9h0M513.8,1073.6h0M511.4,1098.3h0M525.2,1088.9h0M517.7,1104h0M517.6,1068.2h0M528.6,1099.6h0M577.1,1115.2h0M547.7,1117.4h0M566.8,1105.1h0M546.3,1059.2h0M536.2,1069.6h0M559.5,1077.5h0M537,1105.9h0M595.2,1110h0M557,1082.6h0M530.5,1093.8h0M515.4,1071.4h0M573.2,1092.2h0M515,1079.2h0M553.2,1076.2h0M502.3,1064.7h0M569.4,1080.5h0M596.7,1107.1h0M504.4,1101.5h0M532.9,1086.5h0M530.1,1110.9h0M566.4,1120.9h0M579.5,1098.3h0M580.2,1074.4h0M513.5,1048.4h0M577,1089.2h0M561.9,1091.2h0M534.4,1074.6h0M504.9,1103.9h0M513.8,1078.3h0M552.2,1096.9h0M508.2,1088.9h0M602.3,1105.3h0M553.3,1061.8h0M602.2,1100.4h0M545.4,1091.3h0M529.2,1094.5h0M580.1,1107.5h0M549.8,1088.9h0M537.2,1080h0M545.2,1103.9h0M550.9,1061.5h0M497.6,1065.2h0M548.7,1061.2h0M570.5,1100.9h0M554.2,1107.7h0M567.6,1092.5h0M560.3,1120h0M495.4,1079.5h0M579.1,1079.3h0M590.8,1090.7h0M550.4,1119.4h0M517.6,1091.9h0M585.5,1083.9h0M505.1,1063.6h0M543.4,1111.4h0M569.4,1092.4h0M587,1096.9h0M511.1,1062.9h0M528.2,1067.6h0M523.1,1071.5h0M513.3,1081.7h0M536.8,1076.3h0M495.1,1088.3h0M561.6,1100.2h0M549.2,1079.5h0M555.2,1083h0M542.9,1076.9h0M580.9,1088.6h0M585.5,1086.9h0M530.7,1083.7h0M526.9,1078.6h0M552.5,1067.7h0M570,1087.3h0M587.6,1104h0M523.1,1056.4h0M558.5,1056.4h0M519.2,1073.3h0M543,1064.6h0M545.1,1091.4h0M511,1065h0M584.2,1077.7h0M505.3,1087.2h0M571.3,1078.7h0M506.2,1097.2h0M520.7,1111.9h0M549.3,1105h0M601.2,1110.1h0M558.8,1111h0M570.1,1112.8h0M567.7,1071.6h0M514.3,1108.7h0M516.5,1069.3h0M549.8,1075.7h0M584.8,1103.5h0M592.4,1113.5h0M558.5,1095.4h0M554.2,1063.1h0M567.7,1086h0M530.9,1062.9h0M549.9,1115.7h0M547.2,1084.3h0M548.1,1108.2h0M562.2,1064.2h0M540.1,1092.9h0M528.5,1064.5h0M580.3,1100.2h0M490.9,1085.5h0M558.5,1088.3h0M576.2,1103.1h0M511.7,1052.8h0M550.4,1057.5h0M567.9,1083.9h0M537.5,1102.2h0M557.2,1120h0M499.7,1087.6h0M520.4,1079.9h0M589,1114.4h0M567.2,1103.3h0M577.1,1111.7h0M558.4,1066.7h0M523,1063.1h0M523.8,1065.1h0M504,1087.9h0M561.8,1101.9h0M523.2,1097.9h0M499.8,1093.9h0M548.6,1077.1h0M528.9,1061.4h0M587.8,1114.7h0M549.5,1084.4h0M540,1057.5h0M529.9,1099.7h0M515.7,1065.1h0M575.1,1098h0M542.2,1093.5h0M515.8,1053.8h0M568.3,1078.5h0M522.4,1095.9h0M531.3,1104.4h0M492.4,1091.6h0M500.2,1080.1h0M521.6,1079.2h0M528.6,1070h0M546.2,1076.9h0M528.9,1062.8h0M521.5,1079.7h0M539.3,1102.9h0M523.4,1066.8h0M524.6,1066h0M570.2,1085.8h0M550.8,1121.9h0M515.1,1067h0M570,1084.7h0M558,1098.9h0M585.3,1081.8h0M557,1081.3h0M526.8,1091.9h0M547.5,1077.4h0M500.8,1067.3h0M568,1073.1h0M587.7,1094.2h0M593,1086.6h0M585.3,1102.9h0M568.8,1073.4h0M598.6,1107.4h0M569.7,1104.4h0M522.7,1097.9h0M558.2,1059h0M535.7,1074.9h0M545.6,1094.4h0M571.3,1093.9h0M562.8,1070.3h0M529,1107h0M526.3,1096.6h0M559.2,1120.2h0M502.9,1092.5h0M512.4,1095.5h0M510.3,1089.9h0M529.3,1058.3h0M570.9,1073.7h0M558,1096.7h0M554.4,1077.4h0M536,1091.9h0M568.4,1074.5h0M540.5,1101.5h0M576.7,1115h0M561.9,1084.8h0M598.2,1088.1h0M515.3,1112.2h0M598.2,1109.1h0M530.9,1075.1h0M564.6,1076.5h0M581.2,1115.2h0M597.9,1104.2h0M599.3,1090h0M524.5,1058.5h0M535.7,1061.5h0M560.8,1056h0M544.4,1077.5h0M563.1,1115.4h0M511.4,1076.1h0M541.4,1071.2h0M512.2,1071.7h0M507.1,1067.5h0M562.9,1113.8h0M579.7,1100h0M595.6,1102.3h0M537.6,1084.6h0M582.7,1111.2h0M518.1,1107.7h0M570.4,1122.8h0M552.3,1066.5h0M510.8,1067.8h0M547.9,1074.3h0M521.7,1073.5h0M543.8,1064.8h0M533.3,1069.3h0M589.1,1109h0M552.9,1092.8h0M540.3,1059.7h0M499.9,1093h0M553.5,1058.8h0M512.5,1098.2h0M525.3,1083h0M512.1,1079.9h0M564.3,1073.4h0M514.8,1046.6h0M506.3,983.4h0M491.1,1011.2h0M533.7,1004.6h0M544.4,1010.8h0M552.2,1013.3h0M554.6,974.4h0M530.6,1024.6h0M527.5,1030.7h0M553.2,1030.3h0M461.7,1032.8h0M473.4,1036.5h0M507.3,1039h0M527.5,1041.6h0M466.8,1053.4h0M511,1124.8h0M491.5,1174.8h0M491.4,1174.9h0M501.7,1182.7h0M466.7,1053.5h0M511,1124.5h0" fill="none" stroke="#55E0B2" stroke-width="8.2" stroke-linecap="round"/>
<path d="M501.4,899.3h0M487.4,915.4h0M477.9,934.2h0M492.7,917.9h0M493,892h0M487.2,933.5h0M490.7,916.2h0M481.6,901h0M483.4,913.8h0M482.1,930.8h0M497.6,916.9h0M505.8,904.7h0M495,920.7h0M476.2,927.6h0M478,929h0M493.2,924.8h0M485.5,926.7h0M480.6,933.9h0M477.9,910.1h0M500.5,904.8h0M499.9,895.8h0M480.4,928.3h0M484.4,925.8h0M495.9,913.5h0M489.8,917.7h0M486.5,890.2h0M478.1,916.6h0M473.6,936.9h0M499.3,893.3h0M502.6,896.4h0M498,921.2h0M482.8,912.5h0M489.3,928.5h0M493.5,912.5h0M500.4,906.7h0M491,930h0M487.5,886.6h0M477.8,915.3h0M496.9,895.3h0M490.1,910.1h0M496.2,906.6h0M488.7,884.9h0M500,895.7h0M488.3,886.6h0M489,896.4h0M491.7,917h0M498,901.9h0M498.1,917.6h0M478.6,908.1h0M481.4,894.4h0M481.8,937.2h0M502.3,893.9h0M502.5,901.8h0M493.4,923.2h0M496,910.8h0M505.3,904h0M479.3,918h0M493.9,902.8h0M496,891h0M503.5,897.8h0M476.4,931.1h0M477.4,928.6h0M501.2,910.1h0M498.1,904.4h0M483,929.8h0M501.5,904.8h0M480.6,914.5h0M493.8,909.9h0M485.7,894.9h0M493,911.1h0M457.5,937.9h0M453.4,947.1h0M464.7,943.4h0M465.7,948.2h0M444.1,955.4h0M389.7,975.8h0M432.4,958.3h0M444.8,955h0" fill="none" stroke="#2F7CAF" stroke-width="8.2" stroke-linecap="round"/>
<path d="M226.8,898.8h0M174,934.1h0M224.3,912.2h0M268.6,919.4h0M239.8,927.1h0M282.8,937.3h0M276.3,950.4h0M215.7,949.2h0M226.2,869.4h0M182.9,895.5h0M212.8,959.7h0M214.7,896.5h0M202.4,928.4h0M211.2,951.7h0M264.9,907.9h0M221.2,910.8h0M251.9,924.2h0M174.9,908.6h0M228.3,941.7h0M198,912.3h0M253.4,920.8h0M242.3,900.2h0M202.3,874.9h0M235.6,935.7h0M197.6,891.5h0M239,907.8h0M279.1,914.1h0M281.7,935h0M226,958.6h0M255.3,924.8h0M230,906h0M202.5,894.9h0M243.1,921.1h0M248.5,935.4h0M201.6,877.7h0M197,918.1h0M224.5,884.4h0M204.8,913.2h0M173.8,915.5h0M227.9,947.9h0M284.1,921.2h0M218.4,955.8h0M236.9,898.6h0M231.4,876.1h0M229,902.5h0M227.2,895.5h0M239.7,911h0M288,920.6h0M211.2,871.2h0M251.8,892.3h0M229.5,880.2h0M233.7,902.6h0M192,912.8h0M242.4,875.9h0M280.6,905.2h0M252.7,931.5h0M197.3,936.9h0M279,952.3h0M263.2,895.8h0M257.7,909.7h0M235.5,891.2h0M225.8,938.5h0M177.4,891.6h0M258,901.8h0M239.6,895.5h0M250.7,927.2h0M221.4,897.3h0M199.1,940h0M264.6,893.8h0M175.4,941.9h0M244.6,909.5h0M224.2,879.2h0M205.8,907.6h0M243.7,932.2h0M196.7,885.5h0M255.2,930.5h0M224.4,871.1h0M265.8,901h0M219.7,889.2h0M269.5,914h0M276.5,951.8h0M227.2,902.6h0M199.5,888.6h0M219.2,922.5h0M222.4,863.1h0M218.7,890.5h0M223.4,913.5h0M173.6,935.7h0M226.8,887.4h0M291,935.9h0M154.7,926.3h0M217.2,951h0M211,946h0M175.9,914.6h0M201,880.8h0M264.7,925.2h0M158,931h0M272.6,930h0M225.7,880.8h0M213,894.7h0M218.9,946.8h0M252.7,936.9h0M208.6,900.3h0M244.3,933.8h0M183.5,928.7h0M237.9,885.4h0M211.9,887.3h0M185.2,936.2h0M269.2,945.8h0M262,937.7h0M273.5,930.3h0M225.3,924.8h0M223.5,936h0M278.7,915.6h0M240.7,939.7h0M191.4,913.9h0M220.5,959h0M263.4,944.9h0M179.5,913.6h0M191.9,878.4h0M186.7,932.3h0M238.4,953.5h0M201.3,909.4h0M171.1,936.1h0M264,944.4h0M223,920.6h0M200.2,887.8h0M185.7,894.8h0M216.7,872.3h0M223,905.4h0M250.7,934.5h0M212.3,898.8h0M238.7,937.6h0M159.2,914.4h0M195.6,950.2h0M247.1,946.6h0M153.2,929.7h0M232.8,918.8h0M280.5,909h0M186.8,937.1h0M234.1,908.7h0M158.9,925.5h0M157.6,916.1h0M208.4,895.3h0M242.3,948.5h0M237.2,905h0M258.4,896.5h0M240.3,934.2h0M185,930.6h0M155.1,930.9h0M220.4,933.5h0M174.4,932.5h0M212,868.6h0M209,923.1h0M246.6,949.9h0M225.6,888.2h0M148.3,927.4h0M251.4,954.8h0M226.7,885.5h0M220.6,931.5h0M252.1,888.2h0M192.2,877.8h0M194.3,913.4h0M240.2,948.2h0M245,914.5h0M192.9,928.7h0M291.4,939h0M233.6,876.6h0M203.8,895h0M153.7,929h0M241.7,913.5h0M255.5,914.9h0M211.1,947h0M204.7,940.1h0M243.5,883.7h0M194.4,908.3h0M233.1,906.2h0M221.3,907h0M221.1,951.2h0M162.9,930.6h0M187.1,904.2h0M286,907.2h0M194.4,905.8h0M278.5,957.9h0M170.6,906.2h0M175.3,931.2h0M230.1,887.3h0M244.4,940.1h0M186,940.8h0M218.9,908h0M165.4,932h0M237.9,933h0M199.5,923.6h0M216.7,921.3h0M150,925.4h0M254.7,905.2h0M170.8,927.8h0M269.7,919.4h0M216.6,913.5h0M183.4,931.3h0M276.7,942.5h0M247.5,890.4h0M246.8,950.2h0M181.4,884.6h0M264.1,929.8h0M244.9,886.2h0M195.3,947.9h0M247.3,931.7h0M229.6,949.8h0M271.8,946.5h0M155.1,932.3h0M243.1,872.8h0M211,887h0M204.2,924.3h0M228.9,877.9h0M232,933.9h0M205.9,948.6h0M223.4,873.5h0M257.8,899.3h0M237.3,878.5h0M178.6,897.1h0M271.6,940.5h0M153.4,938.4h0M239.6,878.2h0M185.4,896.6h0M224.1,926.5h0M183,883.5h0M259,936.6h0M159.8,930h0M201.4,947.9h0M184.5,942.1h0M239.8,890.8h0M256.9,924.8h0M246.3,886.4h0M208.9,891.2h0M183.2,896.2h0M267.2,939.1h0M202.6,932.3h0M291.2,913.1h0M153.8,920.8h0M187.6,929.8h0M271.9,951.4h0M238.1,885h0M227.6,872.3h0M203.4,885.4h0M267.4,924h0M273.4,912.3h0M274.9,906.2h0M208.5,920.1h0M164.8,927.7h0M276.2,917.2h0M241.3,904.4h0M196.2,878.8h0M193.8,907.7h0M224.6,865.1h0M217.7,865.7h0M287.6,939.4h0M165.4,935.3h0M215.3,949.1h0M260.6,951.1h0M186,890.5h0M190.3,905.3h0M177.3,896.2h0M216.6,870.5h0M274,919.8h0M189.1,905.4h0M215.7,877.2h0M213.4,912.3h0M271.7,938.7h0M216.7,945.1h0M212.5,924.9h0M201.1,926.2h0M221,900.5h0M237.4,949.9h0M283.5,929.1h0M246.5,932.1h0M273,930.4h0M229.9,909.6h0M211.5,877.9h0M282.6,939.6h0M162.3,928.8h0M285.1,940.7h0M286.5,918.3h0M228.9,895.3h0M233,913.1h0M281.2,910.6h0M277.9,933.3h0M235.4,922.6h0M145.4,927.8h0M256.6,931.6h0M160.5,935.2h0M226.1,937.5h0M246,876.8h0M244.5,945.2h0M253.8,891.1h0M276.2,943.6h0M199.4,884.9h0M169.2,903.9h0M218.8,953.8h0M262.8,940.4h0M276,936.5h0M192.4,883.1h0M175.4,942.7h0M192.3,912.7h0M229.6,939.3h0M256.4,898.8h0M241.4,946.2h0M248.3,909.2h0M199,890.1h0M279,909.7h0M248.6,931.3h0M191.6,931h0M290,946.7h0M274.4,930.9h0M197.2,912.2h0M242.6,959.2h0M216.1,898.3h0M286.9,946h0M226.1,943.4h0M249.4,908.4h0M218.2,957.6h0M236.2,955h0M174.2,933.2h0M175.3,925.6h0M226.7,918h0M215.7,876.8h0M269.4,929h0M238.6,872.1h0M278.2,958.3h0M247.3,911.2h0M237.9,895.7h0M212.2,918.3h0M210.1,899.9h0M221.2,918.9h0M288.9,919.4h0M214.3,949.3h0M211.8,889.8h0M223.9,925h0M231.9,908.6h0M272.8,929.3h0M243.8,945.4h0M190,918.3h0M237.2,908.7h0M208.6,925h0M227.9,907.9h0M231.8,955.9h0M246,957.6h0M255,951.2h0M265.9,925.9h0M237.7,928.7h0M204.5,893.2h0M269.9,901.4h0M168.1,917.2h0M214.3,948.3h0M221.9,899.8h0M173.6,921.2h0M274.8,954.5h0M183.8,894.5h0M228.4,926.2h0M269.3,912.4h0M203.5,923.1h0M163.1,939.1h0M266.4,897.4h0M192.3,925.7h0M179.4,909.4h0M188.3,895.7h0M171.5,939.8h0M195.6,885h0M147.1,929.3h0M216.2,872.9h0M239.2,867.9h0M199.2,942.1h0M241.5,885.3h0M229.9,949.4h0M262.2,936.9h0M202,915.7h0M251.9,928.1h0M197.8,919.9h0M273.4,908.8h0M241.8,909.7h0M264.8,908.4h0M187,880.5h0M220.6,931.3h0M195.9,889.4h0M195.2,948.1h0M256.1,935.1h0M204.6,933h0M272.4,953.8h0M198.5,914h0M237.3,952.3h0M269.9,903.8h0M284.8,947h0M218.5,897.6h0M165.5,925.5h0M279.5,918h0M186.9,939.2h0M282.3,948.3h0M175.2,897.4h0M237.7,937.7h0M260.3,907.2h0M210,933.5h0M234.4,870.9h0M196.2,918.2h0M247.7,958h0M251,928.5h0M175,919.2h0M159.2,915.9h0M156.8,930.7h0M254.8,891.3h0M221.7,929.8h0M204.1,930.9h0M246.6,922.3h0M185,891.8h0M170.2,920.7h0M222.6,882.6h0M232.5,879.6h0M203.2,906.1h0M266.3,896.8h0M178.1,939.2h0M236.4,939.5h0M272.3,899.6h0M181,904.8h0M190.7,896.5h0M206.9,902h0M237.1,950.1h0M207.2,883.7h0M211.2,880.8h0M251,937.1h0M239.4,880.3h0M286.1,925.6h0M184,893.6h0M203.9,878.1h0M282.9,905.9h0M245.9,906.1h0M220.2,938.3h0M275,901.6h0M209.4,945.9h0M265.2,938.4h0M176.3,924.2h0M155.7,916.8h0M246.7,914.2h0M232.5,883.3h0M231.6,875h0M201.9,886.5h0M261.2,939h0M270.9,912.5h0M206.5,875.8h0M232.8,925.9h0M188.4,900.4h0M152.1,939.3h0M180.1,900.1h0M196.6,916.4h0M238.2,926.4h0M188,907.5h0M207.2,922.8h0M241.3,880.1h0M230.4,899.2h0M242.9,940.7h0M205.6,886.2h0M179.3,944h0M179.5,929.1h0M255.9,936.6h0M162.8,939.7h0M232.5,935.1h0M185.9,938.1h0M197.6,914.7h0M172.4,924.9h0M191.9,876.6h0M201.4,945.3h0M189.9,930.5h0M154.1,926.8h0M235.3,911.4h0M240.3,894h0M284.4,946.2h0M274.7,939.2h0M205.7,911.9h0M229.3,879.8h0M219.5,918.1h0M265.4,929.1h0M221.1,942.5h0M281.4,932.9h0M251.3,913.6h0M205.2,871.4h0M247.1,924.2h0M181.8,905.2h0M190.5,917.9h0M252,929.3h0M305.7,923.5h0M289.3,963.2h0M256.3,934.8h0M267.7,938.9h0M293.4,927.6h0" fill="none" stroke="#E0967A" stroke-width="8.2" stroke-linecap="round"/>
<path d="M266.6,1089.4h0M264,1062.5h0M255,1053.7h0M264.9,1132.7h0M230.9,1118.6h0M225.2,1108.6h0M283.9,1059.1h0M273.8,1067.7h0M237.7,1085.7h0M266.6,1083.8h0M202.5,1101.7h0M237.1,1100.4h0M212.5,1083h0M197.3,1121.3h0M283.7,1122.4h0M216.2,1088.8h0M254.4,1065.4h0M272.3,1115.2h0M264.7,1140.6h0M231,1147.4h0M246.5,1080.2h0M284,1056.3h0M281.8,1092h0M274.9,1102h0M259.3,1106.7h0M192.6,1093.7h0M274.9,1046h0M213.8,1092.3h0M204.8,1135.5h0M275.8,1123.9h0M248.1,1128.5h0M265.6,1117.4h0M284.2,1058.5h0M272.3,1049.9h0M283.6,1114.4h0M274.7,1068.4h0M239.4,1150.3h0M214.8,1107.4h0M182.7,1110.9h0M235.3,1125.9h0M260.1,1111.3h0M200,1087h0M267.1,1136.4h0M194.8,1113.6h0M227.4,1085.6h0M203.5,1131.8h0M243.7,1101h0M288.9,1065.9h0M243.4,1158.2h0M228.1,1101.3h0M229.4,1140.5h0M222.1,1083.7h0M185,1098.3h0M274,1123.3h0M285,1123.7h0M251.2,1073.7h0M202.6,1101.2h0M217.5,1145h0M268.1,1053.5h0M221.2,1128.5h0M280.1,1068.5h0M260.7,1131.8h0M275.7,1060.9h0M204,1130.1h0M227.5,1138.4h0M284.6,1118.5h0M256.7,1069.3h0M281.7,1122.4h0M186.8,1122.3h0M196.4,1113.9h0M191.1,1096.3h0M273.4,1104.5h0M266.7,1057.2h0M244.5,1068.1h0M246.5,1111h0M215.4,1098.7h0M283.4,1053.1h0M240,1136.2h0M274.9,1064.7h0M195.9,1108.5h0M286.7,1108h0M276.1,1127.8h0M237.5,1156.8h0M251,1107.3h0M284.4,1055.1h0M192.2,1112.2h0M240.6,1079.2h0M257.1,1087.2h0M204.5,1093.2h0M223.1,1091.7h0M276.6,1064.4h0M289,1056.6h0M221,1075.3h0M201.9,1121h0M254,1099.7h0M238.4,1080.6h0M249.5,1110.6h0M269.9,1116.5h0M284,1136.7h0M262.2,1129.1h0M243.7,1060.9h0M232.5,1118.9h0M293.3,1103.1h0M247.7,1100.1h0M193.5,1113.2h0M198.2,1099.5h0M252.6,1066.8h0M199.9,1085.7h0M201.1,1095.7h0M190,1109.5h0M278.8,1123.8h0M272.5,1088.6h0M206.7,1079.3h0M246.1,1116.2h0M279.9,1114h0M210.2,1095.9h0M272.5,1125.5h0M250.5,1078.4h0M228,1103h0M278.6,1064.3h0M189.9,1114.8h0M230.9,1079.1h0M243.9,1144.3h0M256.5,1063.4h0M222.2,1142.9h0M260.9,1044.5h0M230,1101.3h0M235.1,1079.9h0M224.2,1130.1h0M254.6,1153h0M231.6,1112.1h0M267.9,1053.5h0M191.4,1095h0M257.8,1104.9h0M250.3,1047.9h0M277.4,1067.4h0M249,1129.6h0M184.9,1094.9h0M263.6,1089.5h0M280.2,1076.9h0M272.8,1052.5h0M197.4,1105.4h0M241.8,1157h0M245.2,1081.8h0M287.5,1107.5h0M286.3,1060.4h0M228.6,1111.2h0M194.5,1114.6h0M195.9,1104.1h0M266.8,1070h0M289.1,1114.7h0M225.5,1078.5h0M281.2,1061.4h0M257.8,1121.6h0M272,1126.7h0M293.4,1060h0M248.7,1073.3h0M239.6,1080.9h0M223.5,1091.3h0M270.2,1101.1h0M255.3,1067.5h0M212.2,1115.3h0M263.2,1136.6h0M184.9,1097.2h0M246.4,1050.7h0M203.5,1136.3h0M284.8,1059.2h0M260,1133h0M262.3,1041.3h0M258.7,1092.1h0M242.6,1066.7h0M279.7,1063.5h0M223.9,1141.9h0M245.7,1079.9h0M231.5,1133.9h0M185.4,1118h0M226,1136.8h0M278.1,1074.4h0M213.6,1078.4h0M262.9,1085.2h0M245.9,1113.5h0M263.5,1041.7h0M250.6,1060.9h0M285.7,1064.9h0M224.4,1099.5h0M264,1107.3h0M270.7,1061.6h0M215,1093.4h0M237.9,1155.5h0M277.2,1128.9h0M250.7,1127.5h0M289.3,1112.5h0M246.3,1142.9h0M241.5,1078.1h0M261.4,1069.5h0M233.2,1111.9h0M184.8,1110.9h0M221.7,1085.6h0M197.6,1096.9h0M290.2,1093.3h0M219.6,1144.6h0M212.3,1085.2h0M256.7,1128.5h0M261.9,1141.4h0M238.6,1137.6h0M187.6,1118.8h0M247,1126.8h0M239.9,1141.3h0M237.2,1138.8h0M217.3,1094.6h0M264.2,1132.9h0M274.3,1117.3h0M282.9,1070.3h0M246.2,1106.8h0M252.8,1052.6h0M250.1,1109.6h0M211.8,1133.3h0M256.8,1069.6h0M233.8,1112.5h0M240.9,1066.4h0M249.7,1079.2h0M211.4,1091.1h0M207.4,1134.3h0M235.3,1126.7h0M261,1103.1h0M264.4,1055.4h0M232.6,1154.1h0M285.7,1075.1h0M233.7,1102.6h0M192.1,1121.5h0M218.5,1098.6h0M291.7,1060h0M276,1124.8h0M236,1142.1h0M204.8,1098h0M224.1,1086.3h0M238.3,1078.3h0M229.3,1118.3h0M248.8,1131.2h0M243.3,1101.1h0M264,1060.1h0M283.2,1089.3h0M195.1,1106.6h0M223.2,1097h0M273.5,1051.4h0M268.5,1071.4h0M286.1,1092.2h0M270.3,1126.6h0M231.1,1080.3h0M286.6,1047.4h0M275,1109h0M222.7,1125.4h0M250.9,1044.6h0M192.8,1098.3h0M243,1074.8h0M265.1,1111.3h0M248.4,1118.4h0M245,1082.1h0M227.3,1151.3h0M214.7,1092.9h0M254.1,1072.9h0M203,1088h0M277.2,1091.8h0M220.9,1084.7h0M279.5,1119.7h0M191.6,1092.8h0M237.7,1106.9h0M249.5,1069.7h0M219.5,1094.4h0M245.2,1146.9h0M256.6,1103.5h0M236.5,1092.3h0M242.5,1110.7h0M182.6,1107.5h0M263.4,1046.9h0M272.7,1094.5h0M250,1066.1h0M195.5,1135.7h0M259.7,1143.4h0M204.1,1088.8h0M231.1,1143.6h0M285.1,1063.5h0M234.5,1134h0M227.8,1083h0M260.2,1071.8h0M205.4,1104.3h0M289.4,1114.9h0M210.1,1077.9h0M263.8,1113.2h0M199.4,1105.2h0M251.1,1044.5h0M227.8,1124.2h0M240.7,1064.5h0M242.7,1082.2h0M229.5,1115.3h0M236,1087.2h0M223,1118h0M198.1,1102.3h0M264.8,1111.5h0M209.2,1087.7h0M269.5,1127.2h0M285.4,1087.9h0M270.7,1089.5h0M268.8,1055.3h0M218.6,1076.5h0M240.9,1092.2h0M276.2,1119.7h0M255,1104.1h0M207.1,1087.8h0M258.8,1064.3h0M286.1,1109h0M279.6,1052.9h0M195,1099.4h0M220.3,1100.1h0M274.7,1123.2h0M283.6,1099.6h0M213.6,1085.6h0M233,1080.4h0M265.6,1051.3h0M288.7,1056.5h0M264.2,1054.5h0M263.9,1044.4h0M238.3,1153.5h0M217.2,1106.9h0M219.6,1096.5h0M284.9,1087.6h0M249.1,1108h0M198.9,1087.3h0M226.5,1113.8h0M225.4,1137.1h0M242,1105.4h0M271.1,1039.8h0M262.2,1113.2h0M267.9,1072.3h0M236.4,1098.8h0M265.9,1076.5h0M246.4,1104.6h0M278.4,1107.5h0M208.5,1117h0M289.4,1092.7h0M252.5,1152.1h0M193.3,1113.4h0M254.9,1050.2h0M269.7,1041.2h0M187.5,1120.8h0M280.1,1134.2h0M200.5,1101.1h0M273.2,1073.4h0M299,1054.1h0M231,1106.3h0M241.3,1137.4h0M244.1,1058.2h0M225.1,1105.8h0M282.6,1081.9h0M245.9,1126.4h0M251.8,1147h0M220.1,1108.4h0M241.3,1095.5h0M247.4,1091.6h0M245.1,1109.1h0M191.8,1089h0M230.5,1146.3h0M228.2,1146.9h0M293.5,1091.3h0M258.6,1046.7h0M202.5,1133.3h0M236.6,1158.5h0M221.4,1084.4h0M254.2,1094.5h0M236.1,1082.2h0M287.4,1109h0M252.5,1110.2h0M265.9,1045.4h0M287.9,1104.9h0M237.4,1152.2h0M239.1,1071.1h0M275.5,1136h0M273.2,1112.6h0M204.8,1139.8h0M233.6,1082.4h0M261.2,1133h0M256.9,1073.6h0M232.5,1068h0M211.1,1128.5h0M263.8,1052.7h0M208.4,1096.6h0M272.3,1089.2h0M211.4,1126.1h0M279.8,1044h0M208.2,1094.8h0M209.8,1105h0M251.7,1080.8h0M204.9,1099.9h0M210.1,1110.3h0M272.7,1106.1h0M219.8,1104.9h0M228.8,1130.6h0M234.3,1086.2h0M247.7,1142.3h0M233.9,1135.9h0M242.6,1069.9h0M189.9,1127.7h0M289,1058.5h0M254.4,1082.9h0M182.8,1103.7h0M269.9,1130.7h0M235.5,1139.9h0M256.1,1109.3h0M192,1109.8h0M265.2,1040.8h0M192.4,1096.2h0M279.3,1109.5h0M240.1,1121h0M250.7,1096.9h0M195.9,1130.4h0M198.2,1094.1h0M239.1,1135.2h0M218,1092.2h0M282.6,1079.3h0M189.8,1088.9h0M207.6,1141.9h0M241.7,1153h0M220.9,1112.9h0M277.3,1058.4h0M277.8,1100.3h0M264.4,1118.9h0M283.5,1074.6h0M225.3,1083.9h0M224.4,1091.4h0M244.8,1059.1h0M194.4,1093.7h0M270.4,1057.4h0M181.6,1101.9h0M273.6,1050h0M266.6,1138.9h0M261.2,1075.7h0M228.3,1095.1h0M205.8,1104.2h0M236,1086.8h0M261.2,1140.5h0M234,1104.8h0M203.6,1099.5h0M290.5,1059.5h0M190.1,1114.5h0M201.7,1131.6h0M199.5,1087.7h0M242.5,1062.9h0M259.8,1129.2h0M278,1126.6h0M273.3,1113.6h0M242.7,1079.9h0M272.2,1115h0M271.8,1039.9h0M247.9,1122.9h0M254.6,1124.9h0M227.1,1120.9h0M201.4,1096.1h0M249.8,1072.6h0M248.8,1095.4h0M264.9,1134.5h0M259.9,1106.4h0M268.2,1058.8h0M280.4,1121.8h0M220.5,1120.7h0M193.6,1092.2h0M203.5,1125h0M229.7,1128.5h0M290.7,1071.6h0M237.1,1128.4h0M265.3,1062.2h0M182.7,1106.9h0M284.7,1062.9h0M274.7,1107.1h0M239.4,1101.9h0M243.9,1119.2h0M275.4,1046.4h0M251.1,1054.8h0M227.9,1084.3h0M260,1063.8h0M226.5,1126.4h0M194.9,1107.5h0M237.8,1127.3h0M239.7,1122.5h0M240.4,1142.5h0M290.8,1107.3h0M268.2,1114.4h0M259.5,1125.7h0M206.4,1129.3h0M250.9,1150.6h0M248.1,1091.3h0M236.6,1156.7h0M232.8,1148.7h0M254.8,1087.8h0M276,1127.5h0M289.3,1091.8h0M241.2,1086.3h0M262.7,1067.7h0M240.1,1059.6h0M206.2,1099.5h0M240.5,1117.5h0M225.7,1091.3h0M191.2,1113h0M214.4,1080.6h0M273.8,1106.5h0M254.5,1115.7h0M203.8,1129.1h0M251.8,1054.6h0M281.5,1055.2h0M227.4,1102.4h0M286.4,1069.6h0M210.2,1100.2h0M268.2,1115.8h0M259.7,1094.8h0M271.6,1134.8h0M278.6,1127.8h0M283.8,1120.5h0M225.7,1104.8h0M244.1,1072.4h0M246,1085.8h0M258.6,1098h0M258.1,1098h0M282.6,1104.8h0M248,1150.2h0M219.9,1092.8h0M190.3,1099.5h0M280.9,1100.7h0M256.4,1118.7h0M256.6,1082.4h0M221.4,1096.2h0M216.9,1142.9h0M243,1087.4h0M193.1,1097.3h0M224.2,1073.6h0M280.6,1096h0M287.1,1114.7h0M202.7,1087.3h0M267.1,1076.2h0M305.7,1064.8h0M309.8,1072h0M307.8,1082.3h0M296.5,1077.8h0M304.7,1102.4h0M546,966.4h0" fill="none" stroke="#A6245C" stroke-width="8.2" stroke-linecap="round"/>
<rect x="118.1" y="698.6" width="672.6" height="625.9" fill="none" stroke="#4d4d4d" stroke-width="1.4"/>
<line x1="113.1" y1="863.7" x2="118.1" y2="863.7" stroke="#333" stroke-width="1.9"/>
<text x="99.1" y="873.3" font-size="24.09" text-anchor="end" fill="#4d4d4d" stroke="#4d4d4d" stroke-width="0.3" textLength="12.29" lengthAdjust="spacingAndGlyphs">4</text>
<line x1="113.1" y1="1031.7" x2="118.1" y2="1031.7" stroke="#333" stroke-width="1.9"/>
<text x="99.1" y="1041.3" font-size="24.09" text-anchor="end" fill="#4d4d4d" stroke="#4d4d4d" stroke-width="0.3" textLength="12.29" lengthAdjust="spacingAndGlyphs">0</text>
<line x1="113.1" y1="1199.7" x2="118.1" y2="1199.7" stroke="#333" stroke-width="1.9"/>
<text x="99.1" y="1209.3" font-size="24.09" text-anchor="end" fill="#4d4d4d" stroke="#4d4d4d" stroke-width="0.3" textLength="25.2" lengthAdjust="spacingAndGlyphs">−4</text>
<line x1="270.4" y1="1324.5" x2="270.4" y2="1329" stroke="#333" stroke-width="1.9"/>
<text x="265.4" y="1351.2" font-size="24.09" text-anchor="middle" fill="#4d4d4d" stroke="#4d4d4d" stroke-width="0.3" textLength="25.2" lengthAdjust="spacingAndGlyphs">−4</text>
<line x1="438.4" y1="1324.5" x2="438.4" y2="1329" stroke="#333" stroke-width="1.9"/>
<text x="437.2" y="1351.2" font-size="24.09" text-anchor="middle" fill="#4d4d4d" stroke="#4d4d4d" stroke-width="0.3" textLength="12.29" lengthAdjust="spacingAndGlyphs">0</text>
<line x1="606.4" y1="1324.5" x2="606.4" y2="1329" stroke="#333" stroke-width="1.9"/>
<text x="605.2" y="1351.2" font-size="24.09" text-anchor="middle" fill="#4d4d4d" stroke="#4d4d4d" stroke-width="0.3" textLength="12.29" lengthAdjust="spacingAndGlyphs">4</text>
<line x1="774.4" y1="1324.5" x2="774.4" y2="1329" stroke="#333" stroke-width="1.9"/>
<text x="773.2" y="1351.2" font-size="24.09" text-anchor="middle" fill="#4d4d4d" stroke="#4d4d4d" stroke-width="0.3" textLength="12.29" lengthAdjust="spacingAndGlyphs">8</text>
<text x="448.2" y="1396.6" font-size="31.94" text-anchor="middle" stroke="#000" stroke-width="0.3" textLength="104.24" lengthAdjust="spacingAndGlyphs">Coord 1</text>
<text x="63.3" y="1014.5" font-size="32.59" text-anchor="middle" stroke="#000" stroke-width="0.3" transform="rotate(-90 63.3 1014.5)" textLength="106.38" lengthAdjust="spacingAndGlyphs">Coord 2</text>
<circle cx="828.2" cy="811.8" r="6.3" fill="#CDE378"/>
<text x="856.4" y="817.6" font-size="24.2" stroke="#000" stroke-width="0.3" textLength="56.95" lengthAdjust="spacingAndGlyphs">BLCA</text>
<circle cx="828.2" cy="847.3" r="6.3" fill="#222CA9"/>
<text x="856.4" y="853.15" font-size="24.2" stroke="#000" stroke-width="0.3" textLength="60.57" lengthAdjust="spacingAndGlyphs">BRCA</text>
<circle cx="828.2" cy="882.9" r="6.3" fill="#BC3D24"/>
<text x="856.4" y="888.7" font-size="24.2" stroke="#000" stroke-width="0.3" textLength="62.98" lengthAdjust="spacingAndGlyphs">COAD</text>
<circle cx="828.2" cy="918.4" r="6.3" fill="#83C4E4"/>
<text x="856.4" y="924.25" font-size="24.2" stroke="#000" stroke-width="0.3" textLength="59.37" lengthAdjust="spacingAndGlyphs">ESCA</text>
<circle cx="828.2" cy="954" r="6.3" fill="#E67EC6"/>
<text x="856.4" y="959.8" font-size="24.2" stroke="#000" stroke-width="0.3" textLength="61.77" lengthAdjust="spacingAndGlyphs">HNSC</text>
<circle cx="828.2" cy="989.5" r="6.3" fill="#8F84E0"/>
<text x="856.4" y="995.35" font-size="24.2" stroke="#000" stroke-width="0.3" textLength="52.08" lengthAdjust="spacingAndGlyphs">KIRC</text>
<circle cx="828.2" cy="1025.1" r="6.3" fill="#31A727"/>
<text x="856.4" y="1030.9" font-size="24.2" stroke="#000" stroke-width="0.3" textLength="50.88" lengthAdjust="spacingAndGlyphs">KIRP</text>
<circle cx="828.2" cy="1060.6" r="6.3" fill="#A5902B"/>
<text x="856.4" y="1066.45" font-size="24.2" stroke="#000" stroke-width="0.3" textLength="49.67" lengthAdjust="spacingAndGlyphs">LIHC</text>
<circle cx="828.2" cy="1096.2" r="6.3" fill="#9B25C2"/>
<text x="856.4" y="1102" font-size="24.2" stroke="#000" stroke-width="0.3" textLength="58.15" lengthAdjust="spacingAndGlyphs">LUAD</text>
<circle cx="828.2" cy="1131.8" r="6.3" fill="#55E0B2"/>
<text x="856.4" y="1137.55" font-size="24.2" stroke="#000" stroke-width="0.3" textLength="58.15" lengthAdjust="spacingAndGlyphs">LUSC</text>
<circle cx="828.2" cy="1167.3" r="6.3" fill="#2F7CAF"/>
<text x="856.4" y="1173.1" font-size="24.2" stroke="#000" stroke-width="0.3" textLength="57.75" lengthAdjust="spacingAndGlyphs">PAAD</text>
<circle cx="828.2" cy="1202.8" r="6.3" fill="#E0967A"/>
<text x="856.4" y="1208.65" font-size="24.2" stroke="#000" stroke-width="0.3" textLength="60.57" lengthAdjust="spacingAndGlyphs">PRAD</text>
<circle cx="828.2" cy="1238.4" r="6.3" fill="#A6245C"/>
<text x="856.4" y="1244.2" font-size="24.2" stroke="#000" stroke-width="0.3" textLength="61.77" lengthAdjust="spacingAndGlyphs">UCEC</text>
<text x="-0.4" y="696.8" font-size="31.5" stroke="#000" stroke-width="0.3" font-weight="bold" font-family="'DejaVu Sans', sans-serif">c</text>
</g>
<g id="pd">
<rect x="1171.5" y="723.4" width="576.9" height="373" fill="#fff"/>
<line x1="1171.5" y1="1037.38" x2="1748.4" y2="1037.38" stroke="#EBEBEB" stroke-width="0.9"/>
<line x1="1171.5" y1="952.52" x2="1748.4" y2="952.52" stroke="#EBEBEB" stroke-width="0.9"/>
<line x1="1171.5" y1="867.67" x2="1748.4" y2="867.67" stroke="#EBEBEB" stroke-width="0.9"/>
<line x1="1171.5" y1="782.83" x2="1748.4" y2="782.83" stroke="#EBEBEB" stroke-width="0.9"/>
<line x1="1171.5" y1="1079.8" x2="1748.4" y2="1079.8" stroke="#EBEBEB" stroke-width="1.7"/>
<line x1="1171.5" y1="994.95" x2="1748.4" y2="994.95" stroke="#EBEBEB" stroke-width="1.7"/>
<line x1="1171.5" y1="910.1" x2="1748.4" y2="910.1" stroke="#EBEBEB" stroke-width="1.7"/>
<line x1="1171.5" y1="825.25" x2="1748.4" y2="825.25" stroke="#EBEBEB" stroke-width="1.7"/>
<line x1="1171.5" y1="740.4" x2="1748.4" y2="740.4" stroke="#EBEBEB" stroke-width="1.7"/>
<line x1="1197.3" y1="723.4" x2="1197.3" y2="1096.4" stroke="#EBEBEB" stroke-width="1.7"/>
<line x1="1241.09" y1="723.4" x2="1241.09" y2="1096.4" stroke="#EBEBEB" stroke-width="1.7"/>
<line x1="1284.88" y1="723.4" x2="1284.88" y2="1096.4" stroke="#EBEBEB" stroke-width="1.7"/>
<line x1="1328.67" y1="723.4" x2="1328.67" y2="1096.4" stroke="#EBEBEB" stroke-width="1.7"/>
<line x1="1372.46" y1="723.4" x2="1372.46" y2="1096.4" stroke="#EBEBEB" stroke-width="1.7"/>
<line x1="1416.25" y1="723.4" x2="1416.25" y2="1096.4" stroke="#EBEBEB" stroke-width="1.7"/>
<line x1="1460.04" y1="723.4" x2="1460.04" y2="1096.4" stroke="#EBEBEB" stroke-width="1.7"/>
<line x1="1503.83" y1="723.4" x2="1503.83" y2="1096.4" stroke="#EBEBEB" stroke-width="1.7"/>
<line x1="1547.62" y1="723.4" x2="1547.62" y2="1096.4" stroke="#EBEBEB" stroke-width="1.7"/>
<line x1="1591.41" y1="723.4" x2="1591.41" y2="1096.4" stroke="#EBEBEB" stroke-width="1.7"/>
<line x1="1635.2" y1="723.4" x2="1635.2" y2="1096.4" stroke="#EBEBEB" stroke-width="1.7"/>
<line x1="1678.99" y1="723.4" x2="1678.99" y2="1096.4" stroke="#EBEBEB" stroke-width="1.7"/>
<line x1="1722.78" y1="723.4" x2="1722.78" y2="1096.4" stroke="#EBEBEB" stroke-width="1.7"/>
<path d="M1194.4,802.9C1193.6,806.7 1190.8,818.8 1189.6,825.8C1188.5,832.8 1188,836.9 1187.3,844.9C1186.7,852.8 1186.3,865.6 1185.8,873.5C1185.3,881.5 1184.9,886.5 1184.3,892.6C1183.7,898.8 1182.7,905.9 1182.4,910.4C1182,914.8 1182,916 1182,919.4C1182,922.8 1181.8,925.7 1182.4,930.8C1182.9,935.9 1184.5,943.6 1185.4,949.9C1186.4,956.3 1187.4,962.7 1188.1,969C1188.8,975.4 1189.1,981.8 1189.6,988.1C1190.2,994.5 1190.9,1000.9 1191.6,1007.2C1192.3,1013.6 1193.2,1020 1193.9,1026.3C1194.5,1032.7 1195,1039.7 1195.4,1045.4C1195.8,1051.2 1196.1,1055.9 1196.3,1060.7C1196.6,1065.5 1196.9,1071.8 1197,1074.1L1197.6,1074.1C1197.7,1071.8 1198,1065.5 1198.3,1060.7C1198.5,1055.9 1198.8,1051.2 1199.2,1045.4C1199.6,1039.7 1200.1,1032.7 1200.7,1026.3C1201.4,1020 1202.3,1013.6 1203,1007.2C1203.7,1000.9 1204.4,994.5 1205,988.1C1205.5,981.8 1205.8,975.4 1206.5,969C1207.2,962.7 1208.2,956.3 1209.2,949.9C1210.1,943.6 1211.7,935.9 1212.2,930.8C1212.8,925.7 1212.6,922.8 1212.6,919.4C1212.6,916 1212.6,914.8 1212.2,910.4C1211.9,905.9 1210.9,898.8 1210.3,892.6C1209.7,886.5 1209.3,881.5 1208.8,873.5C1208.3,865.6 1207.9,852.8 1207.3,844.9C1206.6,836.9 1206.1,832.8 1205,825.8C1203.8,818.8 1201,806.7 1200.2,802.9Z" fill="#F04B50" stroke="#0a0a0a" stroke-width="1.25" stroke-linejoin="round"/>
<line x1="1197.3" y1="803.36" x2="1197.3" y2="1063.7" stroke="#fff" stroke-width="1.35"/>
<rect x="1194.3" y="871.61" width="6" height="87.86" fill="#0a0d10" stroke="#fff" stroke-width="1.7"/>
<line x1="1194.3" y1="916.5" x2="1200.3" y2="916.5" stroke="#fff" stroke-width="2.4"/>
<path d="M1240.8,781.8C1240.6,784.4 1240.3,791.4 1239.6,797.1C1238.8,802.9 1237.3,809.9 1236.3,816.2C1235.3,822.6 1234.2,829 1233.4,835.3C1232.7,841.7 1232.3,848.1 1231.9,854.4C1231.5,860.8 1231.4,867.2 1231.1,873.5C1230.9,879.9 1230.8,886.3 1230.6,892.6C1230.3,899 1229.9,905.4 1229.6,911.7C1229.3,918.1 1229.2,924.5 1229,930.8C1228.9,937.2 1228.7,943.6 1228.6,949.9C1228.6,956.3 1228.5,962.7 1228.6,969C1228.8,975.4 1229.1,981.8 1229.6,988.1C1230.1,994.5 1231.1,1000.9 1231.9,1007.2C1232.7,1013.6 1233.4,1020 1234.4,1026.3C1235.3,1032.7 1236.7,1039.7 1237.6,1045.4C1238.6,1051.2 1239.4,1055 1239.9,1060.7C1240.5,1066.4 1240.6,1076.6 1240.8,1079.8L1241.4,1079.8C1241.5,1076.6 1241.7,1066.4 1242.2,1060.7C1242.8,1055 1243.6,1051.2 1244.5,1045.4C1245.5,1039.7 1246.8,1032.7 1247.8,1026.3C1248.7,1020 1249.5,1013.6 1250.3,1007.2C1251.1,1000.9 1252,994.5 1252.6,988.1C1253.1,981.8 1253.4,975.4 1253.5,969C1253.7,962.7 1253.6,956.3 1253.5,949.9C1253.5,943.6 1253.3,937.2 1253.2,930.8C1253,924.5 1252.8,918.1 1252.6,911.7C1252.3,905.4 1251.9,899 1251.6,892.6C1251.4,886.3 1251.3,879.9 1251,873.5C1250.8,867.2 1250.7,860.8 1250.3,854.4C1249.9,848.1 1249.5,841.7 1248.7,835.3C1248,829 1246.9,822.6 1245.9,816.2C1244.9,809.9 1243.4,802.9 1242.6,797.1C1241.9,791.4 1241.6,784.4 1241.4,781.8Z" fill="#F04B50" stroke="#0a0a0a" stroke-width="1.25" stroke-linejoin="round"/>
<line x1="1241.09" y1="794.13" x2="1241.09" y2="1063.7" stroke="#fff" stroke-width="1.35"/>
<rect x="1238.09" y="880.21" width="6" height="104.09" fill="#0a0d10" stroke="#fff" stroke-width="1.7"/>
<line x1="1238.09" y1="934.64" x2="1244.09" y2="934.64" stroke="#fff" stroke-width="2.4"/>
<path d="M1279.5,810.5C1278.7,812.1 1275.7,816.5 1274.3,820C1273,823.5 1272.1,827.4 1271.5,831.5C1270.8,835.6 1270.5,839.5 1270.3,844.9C1270.2,850.3 1270.4,857.6 1270.5,864C1270.6,870.3 1270.7,876.7 1270.9,883.1C1271.1,889.4 1271.4,895.8 1271.9,902.2C1272.3,908.5 1273,914.9 1273.4,921.3C1273.8,927.6 1274,934 1274.3,940.4C1274.7,946.7 1274.9,953.1 1275.3,959.5C1275.7,965.8 1276.2,972.2 1276.8,978.6C1277.5,984.9 1278.4,991.3 1279.1,997.7C1279.9,1004 1280.7,1010.7 1281.4,1016.8C1282.2,1022.8 1283.2,1029.7 1283.7,1034C1284.3,1038.3 1284.4,1041.1 1284.6,1042.6L1285.2,1042.6C1285.3,1041.1 1285.5,1038.3 1286,1034C1286.6,1029.7 1287.6,1022.8 1288.3,1016.8C1289.1,1010.7 1289.9,1004 1290.6,997.7C1291.4,991.3 1292.3,984.9 1292.9,978.6C1293.6,972.2 1294,965.8 1294.5,959.5C1294.9,953.1 1295.1,946.7 1295.4,940.4C1295.7,934 1296,927.6 1296.4,921.3C1296.8,914.9 1297.5,908.5 1297.9,902.2C1298.3,895.8 1298.6,889.4 1298.9,883.1C1299.1,876.7 1299.1,870.3 1299.2,864C1299.3,857.6 1299.6,850.3 1299.4,844.9C1299.3,839.5 1299,835.6 1298.3,831.5C1297.6,827.4 1296.8,823.5 1295.4,820C1294.1,816.5 1291.1,812.1 1290.2,810.5Z" fill="#F04B50" stroke="#0a0a0a" stroke-width="1.25" stroke-linejoin="round"/>
<line x1="1284.88" y1="811" x2="1284.88" y2="1036.96" stroke="#fff" stroke-width="1.35"/>
<rect x="1281.88" y="856.72" width="6" height="91.87" fill="#0a0d10" stroke="#fff" stroke-width="1.7"/>
<line x1="1281.88" y1="896.44" x2="1287.88" y2="896.44" stroke="#fff" stroke-width="2.4"/>
<path d="M1326.4,776.7C1325.6,780.1 1323.2,790.5 1322,797.1C1320.7,803.7 1319.4,809.9 1318.7,816.2C1318,822.6 1317.8,829 1317.6,835.3C1317.4,841.7 1317.5,848.1 1317.6,854.4C1317.7,860.8 1318,867.2 1318.1,873.5C1318.2,879.9 1318.2,886.3 1318.1,892.6C1318,899 1317.7,905.4 1317.6,911.7C1317.4,918.1 1317.2,924.5 1317.2,930.8C1317.2,937.2 1317.4,943.6 1317.8,949.9C1318.1,956.3 1318.6,962.7 1319.1,969C1319.6,975.4 1320.4,981.8 1321,988.1C1321.6,994.5 1322.2,1000.9 1322.9,1007.2C1323.6,1013.6 1324.5,1020 1325.2,1026.3C1325.9,1032.7 1326.6,1038.4 1327.1,1045.4C1327.7,1052.4 1328.2,1064.5 1328.4,1068.3L1329,1068.3C1329.2,1064.5 1329.7,1052.4 1330.2,1045.4C1330.7,1038.4 1331.4,1032.7 1332.1,1026.3C1332.8,1020 1333.7,1013.6 1334.4,1007.2C1335.1,1000.9 1335.7,994.5 1336.3,988.1C1337,981.8 1337.7,975.4 1338.2,969C1338.8,962.7 1339.3,956.3 1339.6,949.9C1339.9,943.6 1340.1,937.2 1340.2,930.8C1340.2,924.5 1339.9,918.1 1339.8,911.7C1339.6,905.4 1339.3,899 1339.2,892.6C1339.1,886.3 1339.1,879.9 1339.2,873.5C1339.3,867.2 1339.7,860.8 1339.8,854.4C1339.9,848.1 1340,841.7 1339.8,835.3C1339.6,829 1339.4,822.6 1338.6,816.2C1337.9,809.9 1336.6,803.7 1335.4,797.1C1334.1,790.5 1331.7,780.1 1331,776.7Z" fill="#F04B50" stroke="#0a0a0a" stroke-width="1.25" stroke-linejoin="round"/>
<line x1="1328.67" y1="777.19" x2="1328.67" y2="1048.42" stroke="#fff" stroke-width="1.35"/>
<rect x="1325.67" y="848.31" width="6" height="108.29" fill="#0a0d10" stroke="#fff" stroke-width="1.7"/>
<line x1="1325.67" y1="906.95" x2="1331.67" y2="906.95" stroke="#fff" stroke-width="2.4"/>
<path d="M1369,768.9C1368.3,772 1365.9,781.3 1364.8,787.6C1363.7,793.9 1363,798.7 1362.5,806.7C1362,814.6 1361.9,824.2 1361.9,835.3C1362,846.5 1362.7,860.8 1362.9,873.5C1363.1,886.3 1363.2,899 1363.3,911.7C1363.3,924.5 1363.2,937.2 1363.3,949.9C1363.4,962.7 1363.6,978.6 1363.8,988.1C1364.1,997.7 1364.2,1000.9 1364.8,1007.2C1365.4,1013.6 1366.7,1020 1367.7,1026.3C1368.6,1032.7 1369.8,1039.7 1370.5,1045.4C1371.3,1051.2 1371.9,1055 1372.2,1060.7C1372.4,1066.4 1372.2,1076.6 1372.2,1079.8L1372.8,1079.8C1372.8,1076.6 1372.5,1066.4 1372.8,1060.7C1373,1055 1373.6,1051.2 1374.4,1045.4C1375.1,1039.7 1376.3,1032.7 1377.2,1026.3C1378.2,1020 1379.5,1013.6 1380.1,1007.2C1380.8,1000.9 1380.8,997.7 1381.1,988.1C1381.3,978.6 1381.6,962.7 1381.7,949.9C1381.7,937.2 1381.6,924.5 1381.7,911.7C1381.7,899 1381.8,886.3 1382,873.5C1382.3,860.8 1382.9,846.5 1383,835.3C1383.1,824.2 1382.9,814.6 1382.4,806.7C1381.9,798.7 1381.2,793.9 1380.1,787.6C1379,781.3 1376.6,772 1375.9,768.9Z" fill="#F04B50" stroke="#0a0a0a" stroke-width="1.25" stroke-linejoin="round"/>
<line x1="1372.46" y1="769.36" x2="1372.46" y2="1048.42" stroke="#fff" stroke-width="1.35"/>
<rect x="1369.46" y="835.33" width="6" height="129.3" fill="#0a0d10" stroke="#fff" stroke-width="1.7"/>
<line x1="1369.46" y1="899.31" x2="1375.46" y2="899.31" stroke="#fff" stroke-width="2.4"/>
<path d="M1415.9,812.4C1415.7,815 1415.6,822.3 1414.7,827.7C1413.8,833.1 1412.5,838.8 1410.5,844.9C1408.5,850.9 1404.9,857.6 1402.8,864C1400.8,870.3 1399.1,876.7 1398.1,883.1C1397,889.4 1396.5,895.8 1396.5,902.2C1396.5,908.5 1397.5,914.9 1398.1,921.3C1398.6,927.6 1399,934 1400,940.4C1400.9,946.7 1402.4,953.1 1403.8,959.5C1405.2,965.8 1406.9,972.2 1408.2,978.6C1409.5,984.9 1410.4,991.3 1411.5,997.7C1412.5,1004 1413.7,1010.4 1414.3,1016.8C1415,1023.1 1415.2,1028.2 1415.5,1035.9C1415.8,1043.5 1415.9,1058.2 1415.9,1062.6L1416.6,1062.6C1416.6,1058.2 1416.7,1043.5 1417,1035.9C1417.3,1028.2 1417.5,1023.1 1418.2,1016.8C1418.8,1010.4 1420,1004 1421,997.7C1422.1,991.3 1423,984.9 1424.3,978.6C1425.6,972.2 1427.3,965.8 1428.7,959.5C1430.1,953.1 1431.6,946.7 1432.5,940.4C1433.5,934 1433.9,927.6 1434.4,921.3C1435,914.9 1436,908.5 1436,902.2C1436,895.8 1435.5,889.4 1434.4,883.1C1433.4,876.7 1431.7,870.3 1429.7,864C1427.6,857.6 1424,850.9 1422,844.9C1420,838.8 1418.7,833.1 1417.8,827.7C1416.9,822.3 1416.8,815 1416.6,812.4Z" fill="#F04B50" stroke="#0a0a0a" stroke-width="1.25" stroke-linejoin="round"/>
<line x1="1416.25" y1="824.69" x2="1416.25" y2="1038.87" stroke="#fff" stroke-width="1.35"/>
<rect x="1413.25" y="886.51" width="6" height="63.41" fill="#0a0d10" stroke="#fff" stroke-width="1.7"/>
<line x1="1413.25" y1="915.93" x2="1419.25" y2="915.93" stroke="#fff" stroke-width="2.4"/>
<path d="M1453.9,804.8C1453,806.7 1450.1,812.4 1448.6,816.2C1447,820 1445.4,822.9 1444.3,827.7C1443.3,832.5 1442.3,838.8 1442.2,844.9C1442.1,850.9 1443.1,857.6 1443.8,864C1444.4,870.3 1445.5,876.7 1446.3,883.1C1447.1,889.4 1447.8,895.8 1448.6,902.2C1449.3,908.5 1450.2,914.9 1450.8,921.3C1451.5,927.6 1451.9,934 1452.4,940.4C1452.9,946.7 1453.4,953.1 1453.9,959.5C1454.4,965.8 1454.8,972.2 1455.3,978.6C1455.7,984.9 1456.1,991.3 1456.6,997.7C1457.1,1004 1457.7,1010.4 1458.1,1016.8C1458.5,1023.1 1458.8,1029.8 1459.1,1035.9C1459.4,1041.9 1459.6,1050.2 1459.7,1053.1L1460.3,1053.1C1460.5,1050.2 1460.7,1041.9 1461,1035.9C1461.3,1029.8 1461.5,1023.1 1462,1016.8C1462.4,1010.4 1463,1004 1463.5,997.7C1464,991.3 1464.4,984.9 1464.8,978.6C1465.3,972.2 1465.7,965.8 1466.2,959.5C1466.6,953.1 1467.2,946.7 1467.7,940.4C1468.2,934 1468.6,927.6 1469.2,921.3C1469.9,914.9 1470.8,908.5 1471.5,902.2C1472.3,895.8 1473,889.4 1473.8,883.1C1474.6,876.7 1475.6,870.3 1476.3,864C1477,857.6 1477.9,850.9 1477.8,844.9C1477.8,838.8 1476.8,832.5 1475.7,827.7C1474.7,822.9 1473.1,820 1471.5,816.2C1469.9,812.4 1467.1,806.7 1466.2,804.8Z" fill="#F04B50" stroke="#0a0a0a" stroke-width="1.25" stroke-linejoin="round"/>
<line x1="1460.04" y1="805.27" x2="1460.04" y2="1038.87" stroke="#fff" stroke-width="1.35"/>
<rect x="1457.04" y="842.39" width="6" height="84.23" fill="#0a0d10" stroke="#fff" stroke-width="1.7"/>
<line x1="1457.04" y1="880.78" x2="1463.04" y2="880.78" stroke="#fff" stroke-width="2.4"/>
<path d="M1501,749.8C1500.3,752.9 1498.3,762.2 1497.1,768.5C1495.9,774.8 1494.7,781.2 1493.9,787.6C1493.1,793.9 1492.5,800.3 1492.3,806.7C1492.2,813 1492.4,819.4 1492.7,825.8C1493,832.1 1493.7,838.5 1494.3,844.9C1494.8,851.2 1495.2,857.6 1495.8,864C1496.4,870.3 1497.2,876.7 1497.7,883.1C1498.2,889.4 1498.7,895.8 1499,902.2C1499.4,908.5 1499.5,914.9 1499.6,921.3C1499.7,927.6 1499.8,934 1499.6,940.4C1499.4,946.7 1498.9,953.1 1498.5,959.5C1498.1,965.8 1497.5,972.2 1497.1,978.6C1496.7,984.9 1496.3,991.3 1496.2,997.7C1496,1004 1495.9,1010.4 1496.2,1016.8C1496.4,1023.1 1497.1,1029.5 1497.7,1035.9C1498.3,1042.2 1499.4,1049.2 1500,1055C1500.6,1060.7 1501.2,1066.2 1501.5,1070.3C1501.9,1074.3 1501.9,1077.9 1501.9,1079.4L1505.7,1079.4C1505.8,1077.9 1505.8,1074.3 1506.1,1070.3C1506.4,1066.2 1507,1060.7 1507.7,1055C1508.3,1049.2 1509.3,1042.2 1510,1035.9C1510.6,1029.5 1511.2,1023.1 1511.5,1016.8C1511.7,1010.4 1511.6,1004 1511.5,997.7C1511.3,991.3 1510.9,984.9 1510.5,978.6C1510.1,972.2 1509.6,965.8 1509.2,959.5C1508.8,953.1 1508.2,946.7 1508,940.4C1507.9,934 1507.9,927.6 1508,921.3C1508.1,914.9 1508.3,908.5 1508.6,902.2C1508.9,895.8 1509.4,889.4 1510,883.1C1510.5,876.7 1511.3,870.3 1511.9,864C1512.4,857.6 1512.9,851.2 1513.4,844.9C1513.9,838.5 1514.6,832.1 1514.9,825.8C1515.3,819.4 1515.5,813 1515.3,806.7C1515.1,800.3 1514.6,793.9 1513.8,787.6C1513,781.2 1511.7,774.8 1510.5,768.5C1509.4,762.2 1507.3,752.9 1506.7,749.8Z" fill="#F04B50" stroke="#0a0a0a" stroke-width="1.25" stroke-linejoin="round"/>
<line x1="1503.83" y1="750.26" x2="1503.83" y2="1077.92" stroke="#fff" stroke-width="1.35"/>
<rect x="1500.83" y="814.32" width="6" height="175.33" fill="#0a0d10" stroke="#fff" stroke-width="1.7"/>
<line x1="1500.83" y1="874.1" x2="1506.83" y2="874.1" stroke="#fff" stroke-width="2.4"/>
<path d="M1547.3,757C1547.2,758.9 1547.2,763.4 1546.5,768.5C1545.7,773.6 1544.1,781.2 1542.8,787.6C1541.6,793.9 1540.1,800.3 1539,806.7C1538,813 1537.1,819.4 1536.5,825.8C1535.9,832.1 1535.6,838.5 1535.6,844.9C1535.6,851.2 1536.2,857.6 1536.5,864C1536.9,870.3 1537.3,876.7 1537.7,883.1C1538,889.4 1538.2,895.8 1538.4,902.2C1538.7,908.5 1539,914.9 1539,921.3C1539,927.6 1538.6,934 1538.4,940.4C1538.3,946.7 1538,953.1 1538,959.5C1538,965.8 1538.1,972.2 1538.4,978.6C1538.7,984.9 1539.3,991.3 1540,997.7C1540.6,1004 1541.5,1010.4 1542.3,1016.8C1543.1,1023.1 1544,1029.5 1544.7,1035.9C1545.5,1042.2 1546.2,1048.6 1546.7,1055C1547.1,1061.3 1547.2,1070.9 1547.3,1074.1L1547.9,1074.1C1548,1070.9 1548.1,1061.3 1548.6,1055C1549,1048.6 1549.8,1042.2 1550.5,1035.9C1551.2,1029.5 1552.2,1023.1 1553,1016.8C1553.8,1010.4 1554.6,1004 1555.3,997.7C1555.9,991.3 1556.5,984.9 1556.8,978.6C1557.1,972.2 1557.2,965.8 1557.2,959.5C1557.2,953.1 1557,946.7 1556.8,940.4C1556.7,934 1556.2,927.6 1556.2,921.3C1556.2,914.9 1556.6,908.5 1556.8,902.2C1557,895.8 1557.3,889.4 1557.6,883.1C1557.9,876.7 1558.4,870.3 1558.7,864C1559.1,857.6 1559.7,851.2 1559.7,844.9C1559.7,838.5 1559.3,832.1 1558.7,825.8C1558.2,819.4 1557.3,813 1556.2,806.7C1555.2,800.3 1553.7,793.9 1552.4,787.6C1551.2,781.2 1549.5,773.6 1548.8,768.5C1548,763.4 1548.1,758.9 1547.9,757Z" fill="#F04B50" stroke="#0a0a0a" stroke-width="1.25" stroke-linejoin="round"/>
<line x1="1547.62" y1="765.48" x2="1547.62" y2="1057.97" stroke="#fff" stroke-width="1.35"/>
<rect x="1544.62" y="845.83" width="6" height="119.37" fill="#0a0d10" stroke="#fff" stroke-width="1.7"/>
<line x1="1544.62" y1="897.78" x2="1550.62" y2="897.78" stroke="#fff" stroke-width="2.4"/>
<path d="M1587.6,742.7C1586.7,745.4 1583.9,753 1582.2,758.9C1580.6,764.8 1578.7,771.7 1577.6,778C1576.5,784.4 1575.8,790.8 1575.5,797.1C1575.2,803.5 1575.4,809.9 1575.7,816.2C1576.1,822.6 1577,829 1577.6,835.3C1578.3,841.7 1578.9,848.1 1579.5,854.4C1580.2,860.8 1580.8,867.2 1581.5,873.5C1582.1,879.9 1582.7,886.3 1583.4,892.6C1584,899 1584.6,905.4 1585.3,911.7C1585.9,918.1 1586.6,924.5 1587.2,930.8C1587.8,937.2 1588.3,943.6 1588.7,949.9C1589.2,956.3 1589.6,962.7 1589.9,969C1590.2,975.4 1590.4,981.8 1590.6,988.1C1590.8,994.5 1591,992.3 1591.1,1007.2C1591.2,1022.2 1591.1,1066.1 1591.1,1077.9L1591.7,1077.9C1591.7,1066.1 1591.6,1022.2 1591.7,1007.2C1591.8,992.3 1592,994.5 1592.2,988.1C1592.4,981.8 1592.6,975.4 1592.9,969C1593.3,962.7 1593.6,956.3 1594.1,949.9C1594.5,943.6 1595,937.2 1595.6,930.8C1596.2,924.5 1596.9,918.1 1597.5,911.7C1598.2,905.4 1598.8,899 1599.5,892.6C1600.1,886.3 1600.7,879.9 1601.4,873.5C1602,867.2 1602.6,860.8 1603.3,854.4C1603.9,848.1 1604.6,841.7 1605.2,835.3C1605.8,829 1606.8,822.6 1607.1,816.2C1607.5,809.9 1607.6,803.5 1607.3,797.1C1607,790.8 1606.3,784.4 1605.2,778C1604.1,771.7 1602.3,764.8 1600.6,758.9C1598.9,753 1596.1,745.4 1595.2,742.7Z" fill="#F04B50" stroke="#0a0a0a" stroke-width="1.25" stroke-linejoin="round"/>
<line x1="1591.41" y1="743.19" x2="1591.41" y2="991.12" stroke="#fff" stroke-width="1.35"/>
<rect x="1588.41" y="795.22" width="6" height="88.81" fill="#0a0d10" stroke="#fff" stroke-width="1.7"/>
<line x1="1588.41" y1="831.51" x2="1594.41" y2="831.51" stroke="#fff" stroke-width="2.4"/>
<path d="M1633.3,848.3C1632.4,850.9 1629.7,858.2 1627.9,864C1626.2,869.8 1624,876.7 1622.8,883.1C1621.5,889.4 1620.7,895.8 1620.3,902.2C1619.9,908.5 1620.1,914.9 1620.3,921.3C1620.5,927.6 1621,934 1621.4,940.4C1621.8,946.7 1622.2,953.1 1622.6,959.5C1622.9,965.8 1623.2,972.2 1623.7,978.6C1624.2,984.9 1624.9,991.3 1625.6,997.7C1626.3,1004 1627.1,1010.4 1627.9,1016.8C1628.7,1023.1 1629.7,1029.5 1630.4,1035.9C1631.1,1042.2 1631.8,1047.7 1632.3,1055C1632.9,1062.2 1633.4,1075.3 1633.7,1079.4L1636.7,1079.4C1637,1075.3 1637.5,1062.2 1638.1,1055C1638.6,1047.7 1639.3,1042.2 1640,1035.9C1640.7,1029.5 1641.7,1023.1 1642.5,1016.8C1643.3,1010.4 1644.1,1004 1644.8,997.7C1645.5,991.3 1646.2,984.9 1646.7,978.6C1647.2,972.2 1647.5,965.8 1647.8,959.5C1648.2,953.1 1648.6,946.7 1649,940.4C1649.4,934 1649.9,927.6 1650.1,921.3C1650.3,914.9 1650.5,908.5 1650.1,902.2C1649.7,895.8 1648.9,889.4 1647.6,883.1C1646.4,876.7 1644.2,869.8 1642.5,864C1640.7,858.2 1638,850.9 1637.1,848.3Z" fill="#F04B50" stroke="#0a0a0a" stroke-width="1.25" stroke-linejoin="round"/>
<line x1="1635.2" y1="848.81" x2="1635.2" y2="1077.92" stroke="#fff" stroke-width="1.35"/>
<rect x="1632.2" y="907.52" width="6" height="87.67" fill="#0a0d10" stroke="#fff" stroke-width="1.7"/>
<line x1="1632.2" y1="944.57" x2="1638.2" y2="944.57" stroke="#fff" stroke-width="2.4"/>
<path d="M1677.1,775.7C1676.3,779.3 1673.6,790.4 1672.3,797.1C1671,803.9 1670.1,809.9 1669.4,816.2C1668.8,822.6 1668.6,829 1668.5,835.3C1668.3,841.7 1668.4,848.1 1668.5,854.4C1668.6,860.8 1668.9,867.2 1669,873.5C1669.1,879.9 1669.1,886.3 1669,892.6C1668.9,899 1668.7,905.4 1668.5,911.7C1668.3,918.1 1667.9,924.5 1667.9,930.8C1667.9,937.2 1668.1,943.6 1668.5,949.9C1668.8,956.3 1669.3,962.7 1669.8,969C1670.3,975.4 1670.8,981.8 1671.3,988.1C1671.8,994.5 1672.3,1000.9 1672.9,1007.2C1673.4,1013.6 1674.2,1020 1674.8,1026.3C1675.4,1032.7 1675.9,1036.6 1676.3,1045.4C1676.8,1054.3 1677.3,1073.8 1677.5,1079.4L1680.5,1079.4C1680.7,1073.8 1681.2,1054.3 1681.7,1045.4C1682.1,1036.6 1682.6,1032.7 1683.2,1026.3C1683.8,1020 1684.5,1013.6 1685.1,1007.2C1685.7,1000.9 1686.1,994.5 1686.6,988.1C1687.2,981.8 1687.7,975.4 1688.2,969C1688.7,962.7 1689.2,956.3 1689.5,949.9C1689.8,943.6 1690.1,937.2 1690.1,930.8C1690.1,924.5 1689.7,918.1 1689.5,911.7C1689.3,905.4 1689,899 1688.9,892.6C1688.9,886.3 1688.9,879.9 1688.9,873.5C1689,867.2 1689.4,860.8 1689.5,854.4C1689.6,848.1 1689.7,841.7 1689.5,835.3C1689.4,829 1689.2,822.6 1688.6,816.2C1687.9,809.9 1687,803.9 1685.7,797.1C1684.4,790.4 1681.7,779.3 1680.9,775.7Z" fill="#F04B50" stroke="#0a0a0a" stroke-width="1.25" stroke-linejoin="round"/>
<line x1="1678.99" y1="776.23" x2="1678.99" y2="1077.92" stroke="#fff" stroke-width="1.35"/>
<rect x="1675.99" y="847.74" width="6" height="119.37" fill="#0a0d10" stroke="#fff" stroke-width="1.7"/>
<line x1="1675.99" y1="914.02" x2="1681.99" y2="914.02" stroke="#fff" stroke-width="2.4"/>
<path d="M1721.2,804.8C1720.9,807.3 1720.1,815 1719,820C1717.8,825.1 1716.2,829.6 1714.2,835.3C1712.1,841.1 1708.3,848.1 1706.5,854.4C1704.8,860.8 1704.2,868.1 1703.6,873.5C1703.1,878.9 1702.9,882.1 1703.1,886.9C1703.2,891.7 1703.9,896.4 1704.6,902.2C1705.3,907.9 1706.3,914.9 1707.5,921.3C1708.6,927.6 1710,934 1711.3,940.4C1712.6,946.7 1714,953.1 1715.1,959.5C1716.2,965.8 1717.1,972.2 1718,978.6C1718.9,984.9 1719.8,991.3 1720.5,997.7C1721.1,1004 1721.5,1008.2 1721.8,1016.8C1722.2,1025.4 1722.4,1043.8 1722.5,1049.2L1723.1,1049.2C1723.2,1043.8 1723.4,1025.4 1723.7,1016.8C1724.1,1008.2 1724.4,1004 1725.1,997.7C1725.7,991.3 1726.7,984.9 1727.6,978.6C1728.5,972.2 1729.3,965.8 1730.4,959.5C1731.6,953.1 1733,946.7 1734.3,940.4C1735.5,934 1737,927.6 1738.1,921.3C1739.2,914.9 1740.2,907.9 1741,902.2C1741.7,896.4 1742.3,891.7 1742.5,886.9C1742.7,882.1 1742.5,878.9 1741.9,873.5C1741.4,868.1 1740.8,860.8 1739.1,854.4C1737.3,848.1 1733.5,841.1 1731.4,835.3C1729.3,829.6 1727.8,825.1 1726.6,820C1725.4,815 1724.7,807.3 1724.3,804.8Z" fill="#F04B50" stroke="#0a0a0a" stroke-width="1.25" stroke-linejoin="round"/>
<line x1="1722.78" y1="805.27" x2="1722.78" y2="1019.77" stroke="#fff" stroke-width="1.35"/>
<rect x="1719.78" y="866.84" width="6" height="66.28" fill="#0a0d10" stroke="#fff" stroke-width="1.7"/>
<line x1="1719.78" y1="895.49" x2="1725.78" y2="895.49" stroke="#fff" stroke-width="2.4"/>
<rect x="1171.5" y="723.4" width="576.9" height="373" fill="none" stroke="#4d4d4d" stroke-width="1.4"/>
<rect x="1170.6" y="697.4" width="580.7" height="26" fill="#D9D9D9" stroke="#333" stroke-width="1.4"/>
<text x="1459.8" y="716.1" font-size="19.29" text-anchor="middle" fill="#1a1a1a" stroke="#1a1a1a" stroke-width="0.3" textLength="48.55" lengthAdjust="spacingAndGlyphs">Hyper</text>
<line x1="1166.7" y1="740.4" x2="1171.5" y2="740.4" stroke="#333" stroke-width="1.8"/>
<text x="1158.9" y="746.2" font-size="24.04" text-anchor="end" fill="#4d4d4d" stroke="#4d4d4d" stroke-width="0.3" textLength="44.57" lengthAdjust="spacingAndGlyphs">1.00</text>
<line x1="1166.7" y1="825.25" x2="1171.5" y2="825.25" stroke="#333" stroke-width="1.8"/>
<text x="1158.9" y="831.05" font-size="24.04" text-anchor="end" fill="#4d4d4d" stroke="#4d4d4d" stroke-width="0.3" textLength="44.57" lengthAdjust="spacingAndGlyphs">0.75</text>
<line x1="1166.7" y1="910.1" x2="1171.5" y2="910.1" stroke="#333" stroke-width="1.8"/>
<text x="1158.9" y="915.9" font-size="24.04" text-anchor="end" fill="#4d4d4d" stroke="#4d4d4d" stroke-width="0.3" textLength="44.57" lengthAdjust="spacingAndGlyphs">0.50</text>
<line x1="1166.7" y1="994.95" x2="1171.5" y2="994.95" stroke="#333" stroke-width="1.8"/>
<text x="1158.9" y="1000.75" font-size="24.04" text-anchor="end" fill="#4d4d4d" stroke="#4d4d4d" stroke-width="0.3" textLength="44.57" lengthAdjust="spacingAndGlyphs">0.25</text>
<line x1="1166.7" y1="1079.8" x2="1171.5" y2="1079.8" stroke="#333" stroke-width="1.8"/>
<text x="1158.9" y="1085.6" font-size="24.04" text-anchor="end" fill="#4d4d4d" stroke="#4d4d4d" stroke-width="0.3" textLength="44.57" lengthAdjust="spacingAndGlyphs">0.00</text>
<rect x="1171.5" y="1131.1" width="576.9" height="372.3" fill="#fff"/>
<line x1="1171.5" y1="1444.6" x2="1748.4" y2="1444.6" stroke="#EBEBEB" stroke-width="0.9"/>
<line x1="1171.5" y1="1359.8" x2="1748.4" y2="1359.8" stroke="#EBEBEB" stroke-width="0.9"/>
<line x1="1171.5" y1="1275" x2="1748.4" y2="1275" stroke="#EBEBEB" stroke-width="0.9"/>
<line x1="1171.5" y1="1190.2" x2="1748.4" y2="1190.2" stroke="#EBEBEB" stroke-width="0.9"/>
<line x1="1171.5" y1="1487" x2="1748.4" y2="1487" stroke="#EBEBEB" stroke-width="1.7"/>
<line x1="1171.5" y1="1402.2" x2="1748.4" y2="1402.2" stroke="#EBEBEB" stroke-width="1.7"/>
<line x1="1171.5" y1="1317.4" x2="1748.4" y2="1317.4" stroke="#EBEBEB" stroke-width="1.7"/>
<line x1="1171.5" y1="1232.6" x2="1748.4" y2="1232.6" stroke="#EBEBEB" stroke-width="1.7"/>
<line x1="1171.5" y1="1147.8" x2="1748.4" y2="1147.8" stroke="#EBEBEB" stroke-width="1.7"/>
<line x1="1197.3" y1="1131.1" x2="1197.3" y2="1503.4" stroke="#EBEBEB" stroke-width="1.7"/>
<line x1="1241.09" y1="1131.1" x2="1241.09" y2="1503.4" stroke="#EBEBEB" stroke-width="1.7"/>
<line x1="1284.88" y1="1131.1" x2="1284.88" y2="1503.4" stroke="#EBEBEB" stroke-width="1.7"/>
<line x1="1328.67" y1="1131.1" x2="1328.67" y2="1503.4" stroke="#EBEBEB" stroke-width="1.7"/>
<line x1="1372.46" y1="1131.1" x2="1372.46" y2="1503.4" stroke="#EBEBEB" stroke-width="1.7"/>
<line x1="1416.25" y1="1131.1" x2="1416.25" y2="1503.4" stroke="#EBEBEB" stroke-width="1.7"/>
<line x1="1460.04" y1="1131.1" x2="1460.04" y2="1503.4" stroke="#EBEBEB" stroke-width="1.7"/>
<line x1="1503.83" y1="1131.1" x2="1503.83" y2="1503.4" stroke="#EBEBEB" stroke-width="1.7"/>
<line x1="1547.62" y1="1131.1" x2="1547.62" y2="1503.4" stroke="#EBEBEB" stroke-width="1.7"/>
<line x1="1591.41" y1="1131.1" x2="1591.41" y2="1503.4" stroke="#EBEBEB" stroke-width="1.7"/>
<line x1="1635.2" y1="1131.1" x2="1635.2" y2="1503.4" stroke="#EBEBEB" stroke-width="1.7"/>
<line x1="1678.99" y1="1131.1" x2="1678.99" y2="1503.4" stroke="#EBEBEB" stroke-width="1.7"/>
<line x1="1722.78" y1="1131.1" x2="1722.78" y2="1503.4" stroke="#EBEBEB" stroke-width="1.7"/>
<path d="M1195.8,1187.1C1195.2,1189.5 1193.5,1195.9 1192.5,1201.5C1191.5,1207 1190.4,1214.2 1189.6,1220.6C1188.8,1227 1188.1,1233.4 1187.7,1239.8C1187.3,1246.2 1187.4,1252.6 1187.3,1259C1187.3,1265.3 1187.2,1271.7 1187.3,1278.1C1187.5,1284.5 1187.8,1290.9 1188.1,1297.3C1188.4,1303.7 1188.9,1310.1 1189.3,1316.4C1189.6,1322.8 1189.7,1329.2 1190,1335.6C1190.3,1342 1190.7,1348.4 1191,1354.8C1191.3,1361.2 1191.6,1367.5 1191.9,1373.9C1192.3,1380.3 1192.8,1386.7 1193.1,1393.1C1193.4,1399.5 1193.5,1405.9 1193.9,1412.3C1194.2,1418.6 1194.6,1425 1195,1431.4C1195.4,1437.8 1195.8,1444.2 1196.2,1450.6C1196.5,1457 1196.9,1463.7 1197,1469.8C1197.1,1475.8 1197,1484.1 1197,1487L1197.6,1487C1197.6,1484.1 1197.5,1475.8 1197.6,1469.8C1197.7,1463.7 1198.1,1457 1198.4,1450.6C1198.8,1444.2 1199.2,1437.8 1199.6,1431.4C1200,1425 1200.4,1418.6 1200.7,1412.3C1201.1,1405.9 1201.2,1399.5 1201.5,1393.1C1201.8,1386.7 1202.3,1380.3 1202.7,1373.9C1203,1367.5 1203.3,1361.2 1203.6,1354.8C1203.9,1348.4 1204.3,1342 1204.6,1335.6C1204.9,1329.2 1205,1322.8 1205.3,1316.4C1205.7,1310.1 1206.2,1303.7 1206.5,1297.3C1206.8,1290.9 1207.1,1284.5 1207.3,1278.1C1207.4,1271.7 1207.3,1265.3 1207.3,1259C1207.2,1252.6 1207.3,1246.2 1206.9,1239.8C1206.5,1233.4 1205.8,1227 1205,1220.6C1204.2,1214.2 1203.1,1207 1202.1,1201.5C1201.1,1195.9 1199.4,1189.5 1198.8,1187.1Z" fill="#2E7FD6" stroke="#0a0a0a" stroke-width="1.25" stroke-linejoin="round"/>
<line x1="1197.3" y1="1187.59" x2="1197.3" y2="1453.59" stroke="#fff" stroke-width="1.35"/>
<rect x="1194.3" y="1250.33" width="6" height="117.86" fill="#0a0d10" stroke="#fff" stroke-width="1.7"/>
<line x1="1194.3" y1="1297.28" x2="1200.3" y2="1297.28" stroke="#fff" stroke-width="2.4"/>
<path d="M1239.6,1174.2C1238.9,1177.2 1236.5,1185.7 1235.3,1191.9C1234.2,1198 1233.1,1204.7 1232.5,1211C1231.8,1217.4 1231.7,1223.8 1231.5,1230.2C1231.4,1236.6 1231.4,1243 1231.5,1249.4C1231.7,1255.8 1232.2,1262.1 1232.5,1268.5C1232.7,1274.9 1232.9,1281.3 1233,1287.7C1233.2,1294.1 1233.3,1300.5 1233.4,1306.9C1233.6,1313.2 1233.7,1319.6 1233.8,1326C1233.9,1332.4 1234.1,1338.8 1234.2,1345.2C1234.3,1351.6 1234.2,1358 1234.4,1364.4C1234.6,1370.7 1234.9,1377.1 1235.3,1383.5C1235.8,1389.9 1236.3,1396.3 1236.9,1402.7C1237.5,1409.1 1238.2,1415.5 1238.8,1421.8C1239.3,1428.2 1239.8,1434.6 1240.1,1441C1240.5,1447.4 1240.7,1453.5 1240.8,1460.2C1240.9,1466.9 1240.8,1477.7 1240.8,1481.3L1241.4,1481.3C1241.4,1477.7 1241.3,1466.9 1241.4,1460.2C1241.5,1453.5 1241.7,1447.4 1242,1441C1242.4,1434.6 1242.8,1428.2 1243.4,1421.8C1243.9,1415.5 1244.7,1409.1 1245.3,1402.7C1245.9,1396.3 1246.4,1389.9 1246.8,1383.5C1247.2,1377.1 1247.6,1370.7 1247.8,1364.4C1248,1358 1247.9,1351.6 1248,1345.2C1248.1,1338.8 1248.2,1332.4 1248.4,1326C1248.5,1319.6 1248.6,1313.2 1248.7,1306.9C1248.9,1300.5 1249,1294.1 1249.1,1287.7C1249.3,1281.3 1249.5,1274.9 1249.7,1268.5C1250,1262.1 1250.5,1255.8 1250.7,1249.4C1250.8,1243 1250.8,1236.6 1250.7,1230.2C1250.5,1223.8 1250.3,1217.4 1249.7,1211C1249.1,1204.7 1248,1198 1246.8,1191.9C1245.7,1185.7 1243.3,1177.2 1242.6,1174.2Z" fill="#2E7FD6" stroke="#0a0a0a" stroke-width="1.25" stroke-linejoin="round"/>
<line x1="1241.09" y1="1174.75" x2="1241.09" y2="1444.01" stroke="#fff" stroke-width="1.35"/>
<rect x="1238.09" y="1238.83" width="6" height="120.16" fill="#0a0d10" stroke="#fff" stroke-width="1.7"/>
<line x1="1238.09" y1="1292.87" x2="1244.09" y2="1292.87" stroke="#fff" stroke-width="2.4"/>
<path d="M1282,1164.1C1281.2,1167.1 1278.7,1176.1 1277.2,1182.3C1275.8,1188.5 1274.2,1195.1 1273.4,1201.5C1272.6,1207.8 1272.4,1214.2 1272.4,1220.6C1272.4,1227 1273,1233.4 1273.4,1239.8C1273.8,1246.2 1274.4,1252.6 1274.9,1259C1275.4,1265.3 1275.7,1271.7 1276.3,1278.1C1276.8,1284.5 1277.6,1290.9 1278.2,1297.3C1278.7,1303.7 1279,1310.1 1279.5,1316.4C1280,1322.8 1280.6,1329.2 1281.1,1335.6C1281.5,1342 1281.8,1348.4 1282.2,1354.8C1282.6,1361.2 1283,1367.5 1283.3,1373.9C1283.7,1380.3 1283.9,1386.7 1284.1,1393.1C1284.3,1399.5 1284.5,1401.7 1284.6,1412.3C1284.7,1422.8 1284.6,1449 1284.6,1456.3L1285.2,1456.3C1285.2,1449 1285.1,1422.8 1285.2,1412.3C1285.3,1401.7 1285.4,1399.5 1285.6,1393.1C1285.9,1386.7 1286.1,1380.3 1286.4,1373.9C1286.7,1367.5 1287.2,1361.2 1287.6,1354.8C1287.9,1348.4 1288.3,1342 1288.7,1335.6C1289.2,1329.2 1289.8,1322.8 1290.2,1316.4C1290.7,1310.1 1291,1303.7 1291.6,1297.3C1292.1,1290.9 1293,1284.5 1293.5,1278.1C1294,1271.7 1294.4,1265.3 1294.8,1259C1295.3,1252.6 1296,1246.2 1296.4,1239.8C1296.8,1233.4 1297.3,1227 1297.3,1220.6C1297.3,1214.2 1297.2,1207.8 1296.4,1201.5C1295.6,1195.1 1294,1188.5 1292.5,1182.3C1291.1,1176.1 1288.5,1167.1 1287.8,1164.1Z" fill="#2E7FD6" stroke="#0a0a0a" stroke-width="1.25" stroke-linejoin="round"/>
<line x1="1284.88" y1="1164.59" x2="1284.88" y2="1396.1" stroke="#fff" stroke-width="1.35"/>
<rect x="1281.88" y="1214.49" width="6" height="85.66" fill="#0a0d10" stroke="#fff" stroke-width="1.7"/>
<line x1="1281.88" y1="1252.24" x2="1287.88" y2="1252.24" stroke="#fff" stroke-width="2.4"/>
<path d="M1325.8,1187.7C1325.1,1190 1322.7,1196 1321.4,1201.5C1320.1,1207 1318.8,1214.2 1318.1,1220.6C1317.5,1227 1317.5,1233.4 1317.6,1239.8C1317.7,1246.2 1318.3,1252.6 1318.7,1259C1319.1,1265.3 1319.7,1271.7 1320.1,1278.1C1320.4,1284.5 1320.5,1290.9 1320.6,1297.3C1320.7,1303.7 1320.6,1310.1 1320.6,1316.4C1320.7,1322.8 1320.8,1329.2 1321,1335.6C1321.2,1342 1321.6,1348.4 1322,1354.8C1322.3,1361.2 1322.6,1367.5 1322.9,1373.9C1323.2,1380.3 1323.5,1386.7 1323.9,1393.1C1324.3,1399.5 1324.8,1405.9 1325.2,1412.3C1325.6,1418.6 1326.1,1425 1326.4,1431.4C1326.7,1437.8 1327,1447.4 1327.1,1450.6L1330.2,1450.6C1330.3,1447.4 1330.6,1437.8 1331,1431.4C1331.3,1425 1331.7,1418.6 1332.1,1412.3C1332.5,1405.9 1333.1,1399.5 1333.5,1393.1C1333.8,1386.7 1334.1,1380.3 1334.4,1373.9C1334.7,1367.5 1335.1,1361.2 1335.4,1354.8C1335.7,1348.4 1336.1,1342 1336.3,1335.6C1336.6,1329.2 1336.6,1322.8 1336.7,1316.4C1336.8,1310.1 1336.6,1303.7 1336.7,1297.3C1336.8,1290.9 1337,1284.5 1337.3,1278.1C1337.6,1271.7 1338.2,1265.3 1338.6,1259C1339,1252.6 1339.7,1246.2 1339.8,1239.8C1339.9,1233.4 1339.8,1227 1339.2,1220.6C1338.6,1214.2 1337.2,1207 1335.9,1201.5C1334.7,1196 1332.3,1190 1331.5,1187.7Z" fill="#2E7FD6" stroke="#0a0a0a" stroke-width="1.25" stroke-linejoin="round"/>
<line x1="1328.67" y1="1188.16" x2="1328.67" y2="1449.09" stroke="#fff" stroke-width="1.35"/>
<rect x="1325.67" y="1239.79" width="6" height="104.83" fill="#0a0d10" stroke="#fff" stroke-width="1.7"/>
<line x1="1325.67" y1="1282.52" x2="1331.67" y2="1282.52" stroke="#fff" stroke-width="2.4"/>
<path d="M1370.5,1173.7C1369.6,1176.7 1366.4,1185.6 1364.8,1191.9C1363.2,1198.1 1361.8,1204.7 1361,1211C1360.2,1217.4 1360.1,1223.8 1360,1230.2C1360,1236.6 1360.3,1243 1360.6,1249.4C1360.9,1255.8 1361.5,1262.1 1361.9,1268.5C1362.4,1274.9 1362.9,1281.3 1363.3,1287.7C1363.7,1294.1 1364,1300.5 1364.4,1306.9C1364.8,1313.2 1365.3,1319.6 1365.8,1326C1366.2,1332.4 1366.7,1338.8 1367.1,1345.2C1367.5,1351.6 1367.8,1358 1368.2,1364.4C1368.7,1370.7 1369.2,1377.1 1369.6,1383.5C1370,1389.9 1370.2,1396.3 1370.5,1402.7C1370.9,1409.1 1371.2,1415.5 1371.5,1421.8C1371.8,1428.2 1372,1432.2 1372.2,1441C1372.3,1449.8 1372.2,1469 1372.2,1474.5L1372.8,1474.5C1372.8,1469 1372.7,1449.8 1372.8,1441C1372.9,1432.2 1373.1,1428.2 1373.4,1421.8C1373.7,1415.5 1374.1,1409.1 1374.4,1402.7C1374.7,1396.3 1374.9,1389.9 1375.3,1383.5C1375.7,1377.1 1376.3,1370.7 1376.7,1364.4C1377.1,1358 1377.4,1351.6 1377.8,1345.2C1378.2,1338.8 1378.7,1332.4 1379.2,1326C1379.6,1319.6 1380.1,1313.2 1380.5,1306.9C1380.9,1300.5 1381.2,1294.1 1381.7,1287.7C1382.1,1281.3 1382.5,1274.9 1383,1268.5C1383.4,1262.1 1384,1255.8 1384.3,1249.4C1384.6,1243 1385,1236.6 1384.9,1230.2C1384.8,1223.8 1384.7,1217.4 1383.9,1211C1383.1,1204.7 1381.7,1198.1 1380.1,1191.9C1378.5,1185.6 1375.3,1176.7 1374.4,1173.7Z" fill="#2E7FD6" stroke="#0a0a0a" stroke-width="1.25" stroke-linejoin="round"/>
<line x1="1372.46" y1="1174.17" x2="1372.46" y2="1424.84" stroke="#fff" stroke-width="1.35"/>
<rect x="1369.46" y="1230.2" width="6" height="91.6" fill="#0a0d10" stroke="#fff" stroke-width="1.7"/>
<line x1="1369.46" y1="1269.49" x2="1375.46" y2="1269.49" stroke="#fff" stroke-width="2.4"/>
<path d="M1412.8,1165.6C1412.4,1168.4 1410.7,1176.3 1410.1,1182.3C1409.5,1188.3 1409.5,1191.9 1409.4,1201.5C1409.2,1211 1409.4,1227 1409.4,1239.8C1409.3,1252.6 1409.1,1265.3 1409,1278.1C1408.8,1290.9 1408.7,1303.7 1408.6,1316.4C1408.5,1329.2 1408.5,1345.2 1408.6,1354.8C1408.7,1364.4 1408.7,1367.5 1409,1373.9C1409.2,1380.3 1409.7,1386.7 1410.1,1393.1C1410.5,1399.5 1411,1405.9 1411.5,1412.3C1411.9,1418.6 1412.4,1425 1412.8,1431.4C1413.2,1437.8 1413.6,1444.2 1414,1450.6C1414.3,1457 1414.8,1465.1 1415.1,1469.8C1415.4,1474.4 1415.8,1476.9 1415.9,1478.4L1416.6,1478.4C1416.7,1476.9 1417.1,1474.4 1417.4,1469.8C1417.7,1465.1 1418.2,1457 1418.5,1450.6C1418.9,1444.2 1419.3,1437.8 1419.7,1431.4C1420.1,1425 1420.6,1418.6 1421,1412.3C1421.5,1405.9 1422,1399.5 1422.4,1393.1C1422.8,1386.7 1423.3,1380.3 1423.5,1373.9C1423.8,1367.5 1423.8,1364.4 1423.9,1354.8C1424,1345.2 1424,1329.2 1423.9,1316.4C1423.8,1303.7 1423.7,1290.9 1423.5,1278.1C1423.4,1265.3 1423.2,1252.6 1423.1,1239.8C1423.1,1227 1423.3,1211 1423.1,1201.5C1423,1191.9 1423,1188.3 1422.4,1182.3C1421.8,1176.3 1420.1,1168.4 1419.7,1165.6Z" fill="#2E7FD6" stroke="#0a0a0a" stroke-width="1.25" stroke-linejoin="round"/>
<line x1="1416.25" y1="1166.12" x2="1416.25" y2="1472.75" stroke="#fff" stroke-width="1.35"/>
<rect x="1413.25" y="1236.53" width="6" height="137.79" fill="#0a0d10" stroke="#fff" stroke-width="1.7"/>
<line x1="1413.25" y1="1314.14" x2="1419.25" y2="1314.14" stroke="#fff" stroke-width="2.4"/>
<path d="M1459.7,1177.5C1459,1179.9 1457.3,1186.3 1455.3,1191.9C1453.2,1197.5 1449.8,1204.7 1447.6,1211C1445.4,1217.4 1443.1,1224.8 1441.9,1230.2C1440.6,1235.6 1439.9,1238.8 1439.9,1243.6C1439.9,1248.4 1440.6,1253.8 1441.9,1259C1443.1,1264.1 1445.8,1269.5 1447.6,1274.3C1449.4,1279.1 1451.5,1282.3 1452.8,1287.7C1454,1293.1 1454.6,1300.5 1455.3,1306.9C1455.9,1313.2 1456.1,1319.6 1456.6,1326C1457.1,1332.4 1457.7,1338.8 1458.1,1345.2C1458.5,1351.6 1458.7,1356.4 1458.9,1364.4C1459.1,1372.3 1459.1,1378.1 1459.3,1393.1C1459.4,1408.1 1459.7,1444.2 1459.7,1454.4L1460.3,1454.4C1460.4,1444.2 1460.7,1408.1 1460.8,1393.1C1460.9,1378.1 1461,1372.3 1461.2,1364.4C1461.4,1356.4 1461.6,1351.6 1462,1345.2C1462.3,1338.8 1463,1332.4 1463.5,1326C1464,1319.6 1464.2,1313.2 1464.8,1306.9C1465.5,1300.5 1466,1293.1 1467.3,1287.7C1468.6,1282.3 1470.7,1279.1 1472.5,1274.3C1474.3,1269.5 1477,1264.1 1478.2,1259C1479.5,1253.8 1480.1,1248.4 1480.1,1243.6C1480.1,1238.8 1479.5,1235.6 1478.2,1230.2C1477,1224.8 1474.7,1217.4 1472.5,1211C1470.3,1204.7 1466.8,1197.5 1464.8,1191.9C1462.8,1186.3 1461.1,1179.9 1460.3,1177.5Z" fill="#2E7FD6" stroke="#0a0a0a" stroke-width="1.25" stroke-linejoin="round"/>
<line x1="1460.04" y1="1188.88" x2="1460.04" y2="1396.1" stroke="#fff" stroke-width="1.35"/>
<rect x="1457.04" y="1224.07" width="6" height="51.17" fill="#0a0d10" stroke="#fff" stroke-width="1.7"/>
<line x1="1457.04" y1="1247.45" x2="1463.04" y2="1247.45" stroke="#fff" stroke-width="2.4"/>
<path d="M1502.3,1168.9C1501.8,1171.1 1500.3,1176.9 1499,1182.3C1497.8,1187.7 1495.7,1195.1 1494.6,1201.5C1493.6,1207.8 1493,1214.2 1492.7,1220.6C1492.4,1227 1492.5,1233.4 1492.7,1239.8C1492.9,1246.2 1493.5,1252.6 1493.9,1259C1494.3,1265.3 1494.8,1271.7 1495.2,1278.1C1495.6,1284.5 1495.9,1290.9 1496.2,1297.3C1496.5,1303.7 1496.7,1310.1 1497.1,1316.4C1497.5,1322.8 1498.1,1329.2 1498.5,1335.6C1498.8,1342 1499,1348.4 1499.2,1354.8C1499.4,1361.2 1499.5,1367.5 1499.6,1373.9C1499.7,1380.3 1499.7,1386.7 1500,1393.1C1500.3,1399.5 1501.1,1405.9 1501.5,1412.3C1502,1418.6 1502.5,1425 1502.9,1431.4C1503.2,1437.8 1503.4,1442.1 1503.5,1450.6C1503.6,1459.1 1503.5,1476.9 1503.5,1482.2L1504.1,1482.2C1504.1,1476.9 1504,1459.1 1504.1,1450.6C1504.2,1442.1 1504.5,1437.8 1504.8,1431.4C1505.1,1425 1505.6,1418.6 1506.1,1412.3C1506.6,1405.9 1507.3,1399.5 1507.7,1393.1C1508,1386.7 1507.9,1380.3 1508,1373.9C1508.2,1367.5 1508.2,1361.2 1508.4,1354.8C1508.6,1348.4 1508.8,1342 1509.2,1335.6C1509.5,1329.2 1510.1,1322.8 1510.5,1316.4C1510.9,1310.1 1511.2,1303.7 1511.5,1297.3C1511.8,1290.9 1512.1,1284.5 1512.4,1278.1C1512.8,1271.7 1513.4,1265.3 1513.8,1259C1514.2,1252.6 1514.7,1246.2 1514.9,1239.8C1515.1,1233.4 1515.3,1227 1514.9,1220.6C1514.6,1214.2 1514.1,1207.8 1513,1201.5C1512,1195.1 1509.9,1187.7 1508.6,1182.3C1507.3,1176.9 1505.9,1171.1 1505.4,1168.9Z" fill="#2E7FD6" stroke="#0a0a0a" stroke-width="1.25" stroke-linejoin="round"/>
<line x1="1503.83" y1="1169.38" x2="1503.83" y2="1434.42" stroke="#fff" stroke-width="1.35"/>
<rect x="1500.83" y="1227.33" width="6" height="110.19" fill="#0a0d10" stroke="#fff" stroke-width="1.7"/>
<line x1="1500.83" y1="1271.41" x2="1506.83" y2="1271.41" stroke="#fff" stroke-width="2.4"/>
<path d="M1543.8,1162.7C1542.8,1166 1539.3,1175.8 1538,1182.3C1536.8,1188.7 1536.5,1195.1 1536.1,1201.5C1535.8,1207.8 1535.9,1214.2 1536.1,1220.6C1536.4,1227 1537.1,1233.4 1537.7,1239.8C1538.2,1246.2 1539,1252.6 1539.6,1259C1540.1,1265.3 1540.5,1271.7 1540.9,1278.1C1541.4,1284.5 1541.9,1290.9 1542.3,1297.3C1542.6,1303.7 1542.7,1310.1 1542.8,1316.4C1542.9,1322.8 1542.8,1329.2 1542.8,1335.6C1542.9,1342 1542.9,1348.4 1543,1354.8C1543.1,1361.2 1543.3,1367.5 1543.4,1373.9C1543.5,1380.3 1543.5,1386.7 1543.8,1393.1C1544,1399.5 1544.5,1405.9 1544.9,1412.3C1545.4,1418.6 1546.1,1424.4 1546.5,1431.4C1546.9,1438.5 1547.2,1450.6 1547.3,1454.4L1547.9,1454.4C1548.1,1450.6 1548.4,1438.5 1548.8,1431.4C1549.2,1424.4 1549.9,1418.6 1550.3,1412.3C1550.7,1405.9 1551.2,1399.5 1551.4,1393.1C1551.7,1386.7 1551.7,1380.3 1551.8,1373.9C1552,1367.5 1552.1,1361.2 1552.2,1354.8C1552.3,1348.4 1552.4,1342 1552.4,1335.6C1552.4,1329.2 1552.3,1322.8 1552.4,1316.4C1552.5,1310.1 1552.7,1303.7 1553,1297.3C1553.3,1290.9 1553.9,1284.5 1554.3,1278.1C1554.8,1271.7 1555.1,1265.3 1555.7,1259C1556.2,1252.6 1557,1246.2 1557.6,1239.8C1558.2,1233.4 1558.9,1227 1559.1,1220.6C1559.4,1214.2 1559.4,1207.8 1559.1,1201.5C1558.8,1195.1 1558.5,1188.7 1557.2,1182.3C1555.9,1175.8 1552.4,1166 1551.4,1162.7Z" fill="#2E7FD6" stroke="#0a0a0a" stroke-width="1.25" stroke-linejoin="round"/>
<line x1="1547.62" y1="1163.25" x2="1547.62" y2="1434.42" stroke="#fff" stroke-width="1.35"/>
<rect x="1544.62" y="1209.12" width="6" height="120.73" fill="#0a0d10" stroke="#fff" stroke-width="1.7"/>
<line x1="1544.62" y1="1255.12" x2="1550.62" y2="1255.12" stroke="#fff" stroke-width="2.4"/>
<path d="M1589.9,1176.2C1589.2,1178.8 1587.1,1186.1 1585.7,1191.9C1584.3,1197.7 1582.6,1204.7 1581.5,1211C1580.3,1217.4 1579.5,1223.8 1579,1230.2C1578.4,1236.6 1578.2,1243 1578,1249.4C1577.8,1255.8 1577.9,1262.1 1578,1268.5C1578.1,1274.9 1577.8,1281.3 1578.4,1287.7C1579,1294.1 1580.4,1300.5 1581.5,1306.9C1582.5,1313.2 1583.9,1319.6 1584.7,1326C1585.5,1332.4 1585.6,1338.8 1586,1345.2C1586.5,1351.6 1587,1358 1587.6,1364.4C1588.2,1370.7 1589,1377.1 1589.5,1383.5C1590,1389.9 1590.2,1396.3 1590.5,1402.7C1590.7,1409.1 1591,1408.1 1591.1,1421.8C1591.2,1435.6 1591.1,1474.5 1591.1,1485.1L1591.7,1485.1C1591.7,1474.5 1591.6,1435.6 1591.7,1421.8C1591.8,1408.1 1592.1,1409.1 1592.4,1402.7C1592.6,1396.3 1592.8,1389.9 1593.3,1383.5C1593.8,1377.1 1594.7,1370.7 1595.2,1364.4C1595.8,1358 1596.3,1351.6 1596.8,1345.2C1597.2,1338.8 1597.3,1332.4 1598.1,1326C1598.9,1319.6 1600.3,1313.2 1601.4,1306.9C1602.4,1300.5 1603.9,1294.1 1604.4,1287.7C1605,1281.3 1604.7,1274.9 1604.8,1268.5C1604.9,1262.1 1605,1255.8 1604.8,1249.4C1604.7,1243 1604.4,1236.6 1603.9,1230.2C1603.3,1223.8 1602.5,1217.4 1601.4,1211C1600.2,1204.7 1598.6,1197.7 1597.2,1191.9C1595.7,1186.1 1593.6,1178.8 1592.9,1176.2Z" fill="#2E7FD6" stroke="#0a0a0a" stroke-width="1.25" stroke-linejoin="round"/>
<line x1="1591.41" y1="1176.66" x2="1591.41" y2="1405.68" stroke="#fff" stroke-width="1.35"/>
<rect x="1588.41" y="1236.91" width="6" height="71.86" fill="#0a0d10" stroke="#fff" stroke-width="1.7"/>
<line x1="1588.41" y1="1271.41" x2="1594.41" y2="1271.41" stroke="#fff" stroke-width="2.4"/>
<path d="M1631,1175C1630.3,1177.8 1627.5,1185.9 1626.6,1191.9C1625.7,1197.9 1625.8,1204.7 1625.6,1211C1625.5,1217.4 1625.6,1223.8 1625.6,1230.2C1625.7,1236.6 1625.9,1243 1626,1249.4C1626.2,1255.8 1626.4,1262.1 1626.6,1268.5C1626.8,1274.9 1626.9,1281.3 1627.2,1287.7C1627.4,1294.1 1627.6,1300.5 1627.9,1306.9C1628.2,1313.2 1628.8,1319.6 1629.1,1326C1629.4,1332.4 1629.5,1338.8 1629.8,1345.2C1630.2,1351.6 1630.7,1358 1631,1364.4C1631.3,1370.7 1631.5,1377.1 1631.8,1383.5C1632,1389.9 1632.2,1396.3 1632.3,1402.7C1632.5,1409.1 1632.6,1415.5 1632.7,1421.8C1632.8,1428.2 1632.8,1434.6 1632.9,1441C1633,1447.4 1633.2,1453.3 1633.3,1460.2C1633.4,1467 1633.6,1478.5 1633.7,1482.2L1636.7,1482.2C1636.8,1478.5 1637,1467 1637.1,1460.2C1637.2,1453.3 1637.4,1447.4 1637.5,1441C1637.6,1434.6 1637.6,1428.2 1637.7,1421.8C1637.8,1415.5 1637.9,1409.1 1638.1,1402.7C1638.2,1396.3 1638.4,1389.9 1638.6,1383.5C1638.9,1377.1 1639.1,1370.7 1639.4,1364.4C1639.7,1358 1640.2,1351.6 1640.6,1345.2C1640.9,1338.8 1641,1332.4 1641.3,1326C1641.6,1319.6 1642.2,1313.2 1642.5,1306.9C1642.8,1300.5 1643,1294.1 1643.2,1287.7C1643.5,1281.3 1643.6,1274.9 1643.8,1268.5C1644,1262.1 1644.2,1255.8 1644.4,1249.4C1644.5,1243 1644.7,1236.6 1644.8,1230.2C1644.8,1223.8 1644.9,1217.4 1644.8,1211C1644.6,1204.7 1644.7,1197.9 1643.8,1191.9C1642.9,1185.9 1640.1,1177.8 1639.4,1175Z" fill="#2E7FD6" stroke="#0a0a0a" stroke-width="1.25" stroke-linejoin="round"/>
<line x1="1635.2" y1="1175.51" x2="1635.2" y2="1480.71" stroke="#fff" stroke-width="1.35"/>
<rect x="1632.2" y="1224.07" width="6" height="118.24" fill="#0a0d10" stroke="#fff" stroke-width="1.7"/>
<line x1="1632.2" y1="1277.16" x2="1638.2" y2="1277.16" stroke="#fff" stroke-width="2.4"/>
<path d="M1677.5,1173.1C1676.9,1176.2 1675.4,1185.6 1674.2,1191.9C1673,1198.2 1671.3,1204.7 1670.4,1211C1669.4,1217.4 1669,1223.8 1668.5,1230.2C1667.9,1236.6 1667.4,1243 1667.1,1249.4C1666.8,1255.8 1666.5,1262.1 1666.5,1268.5C1666.6,1274.9 1666.9,1281.3 1667.5,1287.7C1668.1,1294.1 1669.4,1300.5 1670.4,1306.9C1671.3,1313.2 1672.4,1319.6 1673.2,1326C1674,1332.4 1674.7,1338.8 1675.2,1345.2C1675.6,1351.6 1675.9,1358 1676.1,1364.4C1676.4,1370.7 1676.5,1377.1 1676.7,1383.5C1676.9,1389.9 1676.9,1396.3 1677.1,1402.7C1677.3,1409.1 1677.6,1415.5 1677.8,1421.8C1678.1,1428.2 1678.5,1430.5 1678.7,1441C1678.8,1451.5 1678.7,1477.7 1678.7,1485.1L1679.3,1485.1C1679.3,1477.7 1679.2,1451.5 1679.3,1441C1679.4,1430.5 1679.9,1428.2 1680.1,1421.8C1680.4,1415.5 1680.7,1409.1 1680.9,1402.7C1681.1,1396.3 1681.1,1389.9 1681.3,1383.5C1681.4,1377.1 1681.6,1370.7 1681.9,1364.4C1682.1,1358 1682.3,1351.6 1682.8,1345.2C1683.3,1338.8 1683.9,1332.4 1684.7,1326C1685.5,1319.6 1686.6,1313.2 1687.6,1306.9C1688.6,1300.5 1689.8,1294.1 1690.5,1287.7C1691.1,1281.3 1691.4,1274.9 1691.4,1268.5C1691.5,1262.1 1691.2,1255.8 1690.9,1249.4C1690.5,1243 1690.1,1236.6 1689.5,1230.2C1689,1223.8 1688.6,1217.4 1687.6,1211C1686.6,1204.7 1685,1198.2 1683.8,1191.9C1682.6,1185.6 1681.1,1176.2 1680.5,1173.1Z" fill="#2E7FD6" stroke="#0a0a0a" stroke-width="1.25" stroke-linejoin="round"/>
<line x1="1678.99" y1="1173.6" x2="1678.99" y2="1424.84" stroke="#fff" stroke-width="1.35"/>
<rect x="1675.99" y="1239.79" width="6" height="90.07" fill="#0a0d10" stroke="#fff" stroke-width="1.7"/>
<line x1="1675.99" y1="1277.16" x2="1681.99" y2="1277.16" stroke="#fff" stroke-width="2.4"/>
<path d="M1719.3,1189C1718.3,1191.1 1714.8,1196.2 1713.2,1201.5C1711.6,1206.7 1710.4,1214.2 1709.8,1220.6C1709.1,1227 1709.2,1233.4 1709.4,1239.8C1709.6,1246.2 1710.3,1252.6 1710.9,1259C1711.5,1265.3 1712.3,1271.7 1712.8,1278.1C1713.4,1284.5 1713.8,1290.9 1714.2,1297.3C1714.5,1303.7 1714.7,1310.1 1715.1,1316.4C1715.5,1322.8 1716.2,1329.2 1716.7,1335.6C1717.1,1342 1717.5,1348.4 1718,1354.8C1718.5,1361.2 1719.4,1367.5 1719.9,1373.9C1720.5,1380.3 1720.8,1386.7 1721.2,1393.1C1721.7,1399.5 1722.3,1403.3 1722.5,1412.3C1722.7,1421.2 1722.5,1441 1722.5,1446.8L1723.1,1446.8C1723.1,1441 1722.9,1421.2 1723.1,1412.3C1723.3,1403.3 1723.9,1399.5 1724.3,1393.1C1724.7,1386.7 1725.1,1380.3 1725.7,1373.9C1726.2,1367.5 1727,1361.2 1727.6,1354.8C1728.1,1348.4 1728.4,1342 1728.9,1335.6C1729.4,1329.2 1730,1322.8 1730.4,1316.4C1730.9,1310.1 1731,1303.7 1731.4,1297.3C1731.8,1290.9 1732.2,1284.5 1732.7,1278.1C1733.3,1271.7 1734.1,1265.3 1734.7,1259C1735.2,1252.6 1736,1246.2 1736.2,1239.8C1736.4,1233.4 1736.4,1227 1735.8,1220.6C1735.2,1214.2 1733.9,1206.7 1732.4,1201.5C1730.8,1196.2 1727.2,1191.1 1726.2,1189Z" fill="#2E7FD6" stroke="#0a0a0a" stroke-width="1.25" stroke-linejoin="round"/>
<line x1="1722.78" y1="1189.5" x2="1722.78" y2="1396.1" stroke="#fff" stroke-width="1.35"/>
<rect x="1719.78" y="1229.82" width="6" height="92.37" fill="#0a0d10" stroke="#fff" stroke-width="1.7"/>
<line x1="1719.78" y1="1265.66" x2="1725.78" y2="1265.66" stroke="#fff" stroke-width="2.4"/>
<rect x="1171.5" y="1131.1" width="576.9" height="372.3" fill="none" stroke="#4d4d4d" stroke-width="1.4"/>
<rect x="1170.6" y="1104.7" width="580.7" height="26.4" fill="#D9D9D9" stroke="#333" stroke-width="1.4"/>
<text x="1459.8" y="1123.8" font-size="19.29" text-anchor="middle" fill="#1a1a1a" stroke="#1a1a1a" stroke-width="0.3" textLength="42.49" lengthAdjust="spacingAndGlyphs">Hypo</text>
<line x1="1166.7" y1="1147.8" x2="1171.5" y2="1147.8" stroke="#333" stroke-width="1.8"/>
<text x="1158.9" y="1153.6" font-size="24.04" text-anchor="end" fill="#4d4d4d" stroke="#4d4d4d" stroke-width="0.3" textLength="44.57" lengthAdjust="spacingAndGlyphs">1.00</text>
<line x1="1166.7" y1="1232.6" x2="1171.5" y2="1232.6" stroke="#333" stroke-width="1.8"/>
<text x="1158.9" y="1238.4" font-size="24.04" text-anchor="end" fill="#4d4d4d" stroke="#4d4d4d" stroke-width="0.3" textLength="44.57" lengthAdjust="spacingAndGlyphs">0.75</text>
<line x1="1166.7" y1="1317.4" x2="1171.5" y2="1317.4" stroke="#333" stroke-width="1.8"/>
<text x="1158.9" y="1323.2" font-size="24.04" text-anchor="end" fill="#4d4d4d" stroke="#4d4d4d" stroke-width="0.3" textLength="44.57" lengthAdjust="spacingAndGlyphs">0.50</text>
<line x1="1166.7" y1="1402.2" x2="1171.5" y2="1402.2" stroke="#333" stroke-width="1.8"/>
<text x="1158.9" y="1408" font-size="24.04" text-anchor="end" fill="#4d4d4d" stroke="#4d4d4d" stroke-width="0.3" textLength="44.57" lengthAdjust="spacingAndGlyphs">0.25</text>
<line x1="1166.7" y1="1487" x2="1171.5" y2="1487" stroke="#333" stroke-width="1.8"/>
<text x="1158.9" y="1492.8" font-size="24.04" text-anchor="end" fill="#4d4d4d" stroke="#4d4d4d" stroke-width="0.3" textLength="44.57" lengthAdjust="spacingAndGlyphs">0.00</text>
<rect x="1171.5" y="1538" width="576.9" height="372.6" fill="#fff"/>
<line x1="1171.5" y1="1851.72" x2="1748.4" y2="1851.72" stroke="#EBEBEB" stroke-width="0.9"/>
<line x1="1171.5" y1="1766.97" x2="1748.4" y2="1766.97" stroke="#EBEBEB" stroke-width="0.9"/>
<line x1="1171.5" y1="1682.22" x2="1748.4" y2="1682.22" stroke="#EBEBEB" stroke-width="0.9"/>
<line x1="1171.5" y1="1597.47" x2="1748.4" y2="1597.47" stroke="#EBEBEB" stroke-width="0.9"/>
<line x1="1171.5" y1="1894.1" x2="1748.4" y2="1894.1" stroke="#EBEBEB" stroke-width="1.7"/>
<line x1="1171.5" y1="1809.35" x2="1748.4" y2="1809.35" stroke="#EBEBEB" stroke-width="1.7"/>
<line x1="1171.5" y1="1724.6" x2="1748.4" y2="1724.6" stroke="#EBEBEB" stroke-width="1.7"/>
<line x1="1171.5" y1="1639.85" x2="1748.4" y2="1639.85" stroke="#EBEBEB" stroke-width="1.7"/>
<line x1="1171.5" y1="1555.1" x2="1748.4" y2="1555.1" stroke="#EBEBEB" stroke-width="1.7"/>
<line x1="1197.3" y1="1538" x2="1197.3" y2="1910.6" stroke="#EBEBEB" stroke-width="1.7"/>
<line x1="1241.09" y1="1538" x2="1241.09" y2="1910.6" stroke="#EBEBEB" stroke-width="1.7"/>
<line x1="1284.88" y1="1538" x2="1284.88" y2="1910.6" stroke="#EBEBEB" stroke-width="1.7"/>
<line x1="1328.67" y1="1538" x2="1328.67" y2="1910.6" stroke="#EBEBEB" stroke-width="1.7"/>
<line x1="1372.46" y1="1538" x2="1372.46" y2="1910.6" stroke="#EBEBEB" stroke-width="1.7"/>
<line x1="1416.25" y1="1538" x2="1416.25" y2="1910.6" stroke="#EBEBEB" stroke-width="1.7"/>
<line x1="1460.04" y1="1538" x2="1460.04" y2="1910.6" stroke="#EBEBEB" stroke-width="1.7"/>
<line x1="1503.83" y1="1538" x2="1503.83" y2="1910.6" stroke="#EBEBEB" stroke-width="1.7"/>
<line x1="1547.62" y1="1538" x2="1547.62" y2="1910.6" stroke="#EBEBEB" stroke-width="1.7"/>
<line x1="1591.41" y1="1538" x2="1591.41" y2="1910.6" stroke="#EBEBEB" stroke-width="1.7"/>
<line x1="1635.2" y1="1538" x2="1635.2" y2="1910.6" stroke="#EBEBEB" stroke-width="1.7"/>
<line x1="1678.99" y1="1538" x2="1678.99" y2="1910.6" stroke="#EBEBEB" stroke-width="1.7"/>
<line x1="1722.78" y1="1538" x2="1722.78" y2="1910.6" stroke="#EBEBEB" stroke-width="1.7"/>
<path d="M1187.3,1573.8C1186.4,1576.1 1182.9,1583.4 1181.6,1587.6C1180.3,1591.8 1179.9,1595.3 1179.5,1599.1C1179,1602.9 1178.8,1606.1 1178.9,1610.6C1179.1,1615 1179.7,1620.1 1180.5,1625.9C1181.2,1631.6 1182.6,1638.6 1183.5,1645C1184.5,1651.4 1185.4,1657.8 1186.2,1664.1C1187,1670.5 1187.9,1676.9 1188.5,1683.3C1189.1,1689.7 1189.6,1696 1190,1702.4C1190.5,1708.8 1190.9,1715.2 1191.2,1721.5C1191.5,1727.9 1191.7,1734.3 1191.9,1740.7C1192.2,1747 1192.4,1753.4 1192.7,1759.8C1193,1766.2 1193.2,1772.6 1193.5,1778.9C1193.7,1785.3 1194,1791.7 1194.2,1798.1C1194.5,1804.4 1194.7,1810.8 1195,1817.2C1195.3,1823.6 1195.5,1829.9 1195.8,1836.3C1196,1842.7 1196.2,1849.1 1196.3,1855.5C1196.5,1861.8 1196.4,1868.4 1196.5,1874.6C1196.6,1880.8 1196.9,1889.7 1197,1892.8L1197.6,1892.8C1197.7,1889.7 1198,1880.8 1198.1,1874.6C1198.2,1868.4 1198.1,1861.8 1198.3,1855.5C1198.4,1849.1 1198.6,1842.7 1198.8,1836.3C1199.1,1829.9 1199.3,1823.6 1199.6,1817.2C1199.9,1810.8 1200.1,1804.4 1200.4,1798.1C1200.6,1791.7 1200.9,1785.3 1201.1,1778.9C1201.4,1772.6 1201.6,1766.2 1201.9,1759.8C1202.2,1753.4 1202.4,1747 1202.7,1740.7C1202.9,1734.3 1203.1,1727.9 1203.4,1721.5C1203.7,1715.2 1204.1,1708.8 1204.6,1702.4C1205,1696 1205.5,1689.7 1206.1,1683.3C1206.7,1676.9 1207.6,1670.5 1208.4,1664.1C1209.2,1657.8 1210.1,1651.4 1211.1,1645C1212,1638.6 1213.4,1631.6 1214.1,1625.9C1214.9,1620.1 1215.5,1615 1215.7,1610.6C1215.8,1606.1 1215.6,1602.9 1215.1,1599.1C1214.7,1595.3 1214.3,1591.8 1213,1587.6C1211.7,1583.4 1208.2,1576.1 1207.3,1573.8Z" fill="#1DBC6E" stroke="#0a0a0a" stroke-width="1.25" stroke-linejoin="round"/>
<line x1="1197.3" y1="1574.35" x2="1197.3" y2="1877.59" stroke="#fff" stroke-width="1.35"/>
<rect x="1194.3" y="1606.75" width="6" height="108.09" fill="#0a0d10" stroke="#fff" stroke-width="1.7"/>
<line x1="1194.3" y1="1646.93" x2="1200.3" y2="1646.93" stroke="#fff" stroke-width="2.4"/>
<path d="M1235.3,1561.4C1234.6,1564.2 1232.2,1572.1 1231.1,1578.1C1230.1,1584 1229.6,1590.8 1229.2,1597.2C1228.8,1603.6 1228.6,1609.9 1228.6,1616.3C1228.7,1622.7 1229.3,1629.1 1229.6,1635.4C1229.9,1641.8 1230.3,1648.2 1230.6,1654.6C1230.8,1661 1231,1667.3 1231.1,1673.7C1231.3,1680.1 1231.5,1686.5 1231.5,1692.8C1231.6,1699.2 1231.5,1705.6 1231.5,1712C1231.5,1718.4 1231.5,1724.7 1231.5,1731.1C1231.6,1737.5 1231.6,1743.9 1231.9,1750.2C1232.2,1756.6 1232.6,1763 1233,1769.4C1233.5,1775.7 1233.9,1782.1 1234.4,1788.5C1234.8,1794.9 1235.3,1801.3 1235.7,1807.6C1236.1,1814 1236.5,1820.4 1236.9,1826.8C1237.3,1833.1 1237.6,1839.5 1238,1845.9C1238.4,1852.3 1238.8,1858.6 1239.2,1865C1239.5,1871.4 1239.9,1879.4 1240.1,1884.2C1240.4,1888.9 1240.7,1892.1 1240.8,1893.7L1241.4,1893.7C1241.5,1892.1 1241.8,1888.9 1242,1884.2C1242.3,1879.4 1242.7,1871.4 1243,1865C1243.4,1858.6 1243.8,1852.3 1244.2,1845.9C1244.5,1839.5 1244.9,1833.1 1245.3,1826.8C1245.7,1820.4 1246,1814 1246.5,1807.6C1246.9,1801.3 1247.3,1794.9 1247.8,1788.5C1248.2,1782.1 1248.7,1775.7 1249.1,1769.4C1249.5,1763 1250,1756.6 1250.3,1750.2C1250.5,1743.9 1250.6,1737.5 1250.7,1731.1C1250.7,1724.7 1250.7,1718.4 1250.7,1712C1250.7,1705.6 1250.6,1699.2 1250.7,1692.8C1250.7,1686.5 1250.9,1680.1 1251,1673.7C1251.2,1667.3 1251.4,1661 1251.6,1654.6C1251.9,1648.2 1252.3,1641.8 1252.6,1635.4C1252.9,1629.1 1253.5,1622.7 1253.5,1616.3C1253.6,1609.9 1253.4,1603.6 1253,1597.2C1252.5,1590.8 1252.1,1584 1251,1578.1C1250,1572.1 1247.5,1564.2 1246.8,1561.4Z" fill="#1DBC6E" stroke="#0a0a0a" stroke-width="1.25" stroke-linejoin="round"/>
<line x1="1241.09" y1="1561.91" x2="1241.09" y2="1887.15" stroke="#fff" stroke-width="1.35"/>
<rect x="1238.09" y="1619.76" width="6" height="139.08" fill="#0a0d10" stroke="#fff" stroke-width="1.7"/>
<line x1="1238.09" y1="1683.28" x2="1244.09" y2="1683.28" stroke="#fff" stroke-width="2.4"/>
<path d="M1273.4,1558C1272.6,1559.7 1269.6,1564.2 1268.6,1568.5C1267.6,1572.8 1267.4,1579 1267.3,1583.8C1267.2,1588.6 1267.5,1591.8 1268,1597.2C1268.6,1602.6 1269.7,1609.9 1270.5,1616.3C1271.4,1622.7 1272.2,1629.1 1273,1635.4C1273.8,1641.8 1274.7,1648.2 1275.3,1654.6C1275.9,1661 1276.5,1667.3 1276.8,1673.7C1277.2,1680.1 1277.4,1686.5 1277.6,1692.8C1277.8,1699.2 1278,1705.6 1278.2,1712C1278.4,1718.4 1278.6,1724.7 1278.8,1731.1C1278.9,1737.5 1279,1743.9 1279.1,1750.2C1279.3,1756.6 1279.3,1763 1279.5,1769.4C1279.7,1775.7 1280,1782.1 1280.3,1788.5C1280.6,1794.9 1281,1801.3 1281.4,1807.6C1281.9,1814 1282.6,1820.4 1283,1826.8C1283.4,1833.1 1283.7,1841.7 1283.9,1845.9C1284.2,1850 1284.5,1850.7 1284.6,1851.6L1285.2,1851.6C1285.3,1850.7 1285.6,1850 1285.8,1845.9C1286.1,1841.7 1286.4,1833.1 1286.8,1826.8C1287.2,1820.4 1287.9,1814 1288.3,1807.6C1288.8,1801.3 1289.2,1794.9 1289.5,1788.5C1289.8,1782.1 1290,1775.7 1290.2,1769.4C1290.4,1763 1290.5,1756.6 1290.6,1750.2C1290.8,1743.9 1290.8,1737.5 1291,1731.1C1291.2,1724.7 1291.4,1718.4 1291.6,1712C1291.8,1705.6 1291.9,1699.2 1292.2,1692.8C1292.4,1686.5 1292.5,1680.1 1292.9,1673.7C1293.3,1667.3 1293.8,1661 1294.5,1654.6C1295.1,1648.2 1296,1641.8 1296.8,1635.4C1297.5,1629.1 1298.4,1622.7 1299.2,1616.3C1300.1,1609.9 1301.2,1602.6 1301.7,1597.2C1302.3,1591.8 1302.6,1588.6 1302.5,1583.8C1302.4,1579 1302.2,1572.8 1301.2,1568.5C1300.1,1564.2 1297.2,1559.7 1296.4,1558Z" fill="#1DBC6E" stroke="#0a0a0a" stroke-width="1.25" stroke-linejoin="round"/>
<line x1="1284.88" y1="1558.47" x2="1284.88" y2="1848.89" stroke="#fff" stroke-width="1.35"/>
<rect x="1281.88" y="1585.71" width="6" height="124.73" fill="#0a0d10" stroke="#fff" stroke-width="1.7"/>
<line x1="1281.88" y1="1629.71" x2="1287.88" y2="1629.71" stroke="#fff" stroke-width="2.4"/>
<path d="M1322.9,1565.6C1322.4,1567.7 1320.9,1572.8 1320.1,1578.1C1319.2,1583.3 1318.1,1590.8 1317.6,1597.2C1317,1603.6 1316.9,1609.9 1316.8,1616.3C1316.7,1622.7 1316.7,1629.1 1316.8,1635.4C1316.9,1641.8 1317.1,1648.2 1317.2,1654.6C1317.3,1661 1317.3,1667.3 1317.6,1673.7C1317.8,1680.1 1318.4,1686.5 1318.7,1692.8C1319,1699.2 1319.2,1705.6 1319.5,1712C1319.8,1718.4 1320.3,1724.7 1320.6,1731.1C1320.9,1737.5 1321.2,1743.9 1321.4,1750.2C1321.6,1756.6 1321.8,1763 1322,1769.4C1322.2,1775.7 1322.4,1782.1 1322.5,1788.5C1322.7,1794.9 1322.7,1801.3 1322.9,1807.6C1323.1,1814 1323.4,1820.4 1323.7,1826.8C1324,1833.1 1324.4,1839.5 1324.8,1845.9C1325.3,1852.3 1325.9,1858.6 1326.4,1865C1326.8,1871.4 1327.3,1880.1 1327.5,1884.2C1327.7,1888.2 1327.7,1888.6 1327.7,1889.5L1329.6,1889.5C1329.7,1888.6 1329.6,1888.2 1329.8,1884.2C1330,1880.1 1330.5,1871.4 1331,1865C1331.4,1858.6 1332.1,1852.3 1332.5,1845.9C1332.9,1839.5 1333.3,1833.1 1333.6,1826.8C1334,1820.4 1334.2,1814 1334.4,1807.6C1334.6,1801.3 1334.6,1794.9 1334.8,1788.5C1335,1782.1 1335.2,1775.7 1335.4,1769.4C1335.6,1763 1335.7,1756.6 1335.9,1750.2C1336.2,1743.9 1336.4,1737.5 1336.7,1731.1C1337,1724.7 1337.5,1718.4 1337.9,1712C1338.2,1705.6 1338.3,1699.2 1338.6,1692.8C1338.9,1686.5 1339.5,1680.1 1339.8,1673.7C1340,1667.3 1340,1661 1340.2,1654.6C1340.3,1648.2 1340.5,1641.8 1340.5,1635.4C1340.6,1629.1 1340.7,1622.7 1340.5,1616.3C1340.4,1609.9 1340.3,1603.6 1339.8,1597.2C1339.2,1590.8 1338.2,1583.3 1337.3,1578.1C1336.4,1572.8 1334.9,1567.7 1334.4,1565.6Z" fill="#1DBC6E" stroke="#0a0a0a" stroke-width="1.25" stroke-linejoin="round"/>
<line x1="1328.67" y1="1566.12" x2="1328.67" y2="1888.01" stroke="#fff" stroke-width="1.35"/>
<rect x="1325.67" y="1619.19" width="6" height="136.79" fill="#0a0d10" stroke="#fff" stroke-width="1.7"/>
<line x1="1325.67" y1="1676.2" x2="1331.67" y2="1676.2" stroke="#fff" stroke-width="2.4"/>
<path d="M1363.3,1557C1362.6,1558.9 1360.4,1564 1359.4,1568.5C1358.5,1573 1357.7,1579 1357.5,1583.8C1357.3,1588.6 1357.8,1591.8 1358.1,1597.2C1358.4,1602.6 1359,1609.9 1359.4,1616.3C1359.9,1622.7 1360.5,1629.1 1361,1635.4C1361.5,1641.8 1362,1648.2 1362.5,1654.6C1363,1661 1363.5,1667.3 1363.8,1673.7C1364.2,1680.1 1364.3,1686.5 1364.4,1692.8C1364.5,1699.2 1364.4,1705.6 1364.4,1712C1364.4,1718.4 1364.3,1724.7 1364.4,1731.1C1364.5,1737.5 1364.9,1743.9 1365.2,1750.2C1365.5,1756.6 1366,1763 1366.3,1769.4C1366.7,1775.7 1366.8,1782.1 1367.1,1788.5C1367.4,1794.9 1367.8,1801.3 1368.2,1807.6C1368.7,1814 1369.1,1820.4 1369.6,1826.8C1370,1833.1 1370.5,1839.5 1370.9,1845.9C1371.4,1852.3 1371.9,1857.4 1372.2,1865C1372.4,1872.7 1372.2,1887.3 1372.2,1891.8L1372.8,1891.8C1372.8,1887.3 1372.6,1872.7 1372.8,1865C1373,1857.4 1373.6,1852.3 1374,1845.9C1374.4,1839.5 1374.9,1833.1 1375.3,1826.8C1375.8,1820.4 1376.3,1814 1376.7,1807.6C1377.1,1801.3 1377.5,1794.9 1377.8,1788.5C1378.1,1782.1 1378.3,1775.7 1378.6,1769.4C1378.9,1763 1379.4,1756.6 1379.7,1750.2C1380.1,1743.9 1380.4,1737.5 1380.5,1731.1C1380.6,1724.7 1380.5,1718.4 1380.5,1712C1380.5,1705.6 1380.4,1699.2 1380.5,1692.8C1380.6,1686.5 1380.8,1680.1 1381.1,1673.7C1381.4,1667.3 1381.9,1661 1382.4,1654.6C1382.9,1648.2 1383.4,1641.8 1383.9,1635.4C1384.5,1629.1 1385,1622.7 1385.5,1616.3C1386,1609.9 1386.5,1602.6 1386.8,1597.2C1387.1,1591.8 1387.6,1588.6 1387.4,1583.8C1387.2,1579 1386.4,1573 1385.5,1568.5C1384.5,1564 1382.3,1558.9 1381.7,1557Z" fill="#1DBC6E" stroke="#0a0a0a" stroke-width="1.25" stroke-linejoin="round"/>
<line x1="1372.46" y1="1557.51" x2="1372.46" y2="1848.89" stroke="#fff" stroke-width="1.35"/>
<rect x="1369.46" y="1596.23" width="6" height="139.66" fill="#0a0d10" stroke="#fff" stroke-width="1.7"/>
<line x1="1369.46" y1="1652.09" x2="1375.46" y2="1652.09" stroke="#fff" stroke-width="2.4"/>
<path d="M1411.5,1561.4C1410.8,1564.2 1408.7,1572.1 1407.6,1578.1C1406.6,1584 1405.6,1590.8 1405.1,1597.2C1404.7,1603.6 1404.8,1609.9 1404.8,1616.3C1404.8,1622.7 1405,1629.1 1405.1,1635.4C1405.3,1641.8 1405.5,1648.2 1405.5,1654.6C1405.5,1661 1405.3,1667.3 1405.1,1673.7C1405,1680.1 1404.7,1686.5 1404.8,1692.8C1404.9,1699.2 1405.4,1705.6 1405.7,1712C1406,1718.4 1406.4,1724.7 1406.7,1731.1C1407,1737.5 1407.3,1743.9 1407.6,1750.2C1408,1756.6 1408.3,1763 1408.6,1769.4C1408.9,1775.7 1409.2,1782.1 1409.5,1788.5C1409.9,1794.9 1410.2,1801.3 1410.5,1807.6C1410.8,1814 1411.1,1820.4 1411.5,1826.8C1411.8,1833.1 1412.3,1839.5 1412.8,1845.9C1413.3,1852.3 1413.9,1857.7 1414.3,1865C1414.8,1872.4 1415.1,1885.7 1415.3,1889.9L1417.2,1889.9C1417.4,1885.7 1417.7,1872.4 1418.2,1865C1418.6,1857.7 1419.2,1852.3 1419.7,1845.9C1420.2,1839.5 1420.7,1833.1 1421,1826.8C1421.4,1820.4 1421.7,1814 1422,1807.6C1422.3,1801.3 1422.6,1794.9 1423,1788.5C1423.3,1782.1 1423.6,1775.7 1423.9,1769.4C1424.2,1763 1424.5,1756.6 1424.9,1750.2C1425.2,1743.9 1425.5,1737.5 1425.8,1731.1C1426.1,1724.7 1426.5,1718.4 1426.8,1712C1427.1,1705.6 1427.6,1699.2 1427.7,1692.8C1427.8,1686.5 1427.5,1680.1 1427.4,1673.7C1427.2,1667.3 1427,1661 1427,1654.6C1427,1648.2 1427.2,1641.8 1427.4,1635.4C1427.5,1629.1 1427.7,1622.7 1427.7,1616.3C1427.7,1609.9 1427.8,1603.6 1427.4,1597.2C1426.9,1590.8 1425.9,1584 1424.9,1578.1C1423.8,1572.1 1421.7,1564.2 1421,1561.4Z" fill="#1DBC6E" stroke="#0a0a0a" stroke-width="1.25" stroke-linejoin="round"/>
<line x1="1416.25" y1="1561.91" x2="1416.25" y2="1888.39" stroke="#fff" stroke-width="1.35"/>
<rect x="1413.25" y="1622.44" width="6" height="137.36" fill="#0a0d10" stroke="#fff" stroke-width="1.7"/>
<line x1="1413.25" y1="1688.06" x2="1419.25" y2="1688.06" stroke="#fff" stroke-width="2.4"/>
<path d="M1459.7,1564.7C1459.3,1568.5 1458.1,1580.6 1457.2,1587.6C1456.3,1594.6 1455.3,1600.4 1454.3,1606.8C1453.3,1613.1 1452.2,1619.5 1451.4,1625.9C1450.6,1632.3 1450.1,1638.6 1449.5,1645C1449,1651.4 1448.6,1657.8 1448.2,1664.1C1447.8,1670.5 1447.3,1676.9 1447,1683.3C1446.7,1689.7 1446.3,1696 1446.3,1702.4C1446.3,1708.8 1446.7,1715.2 1447,1721.5C1447.3,1727.9 1448.2,1734.3 1448.2,1740.7C1448.2,1747 1447.5,1753.4 1447,1759.8C1446.5,1766.2 1445.4,1774.1 1445.1,1778.9C1444.8,1783.7 1444.9,1785.3 1445.1,1788.5C1445.4,1791.7 1445.8,1794.9 1446.6,1798.1C1447.5,1801.3 1449,1804.4 1450.1,1807.6C1451.2,1810.8 1452.3,1814 1453.3,1817.2C1454.4,1820.4 1455.4,1823.6 1456.2,1826.8C1457,1829.9 1457.6,1833.1 1458.1,1836.3C1458.6,1839.5 1458.8,1841.6 1459.1,1845.9C1459.4,1850.2 1459.6,1859.4 1459.7,1862.2L1460.3,1862.2C1460.5,1859.4 1460.7,1850.2 1461,1845.9C1461.3,1841.6 1461.5,1839.5 1462,1836.3C1462.4,1833.1 1463.1,1829.9 1463.9,1826.8C1464.7,1823.6 1465.7,1820.4 1466.7,1817.2C1467.8,1814 1468.9,1810.8 1470,1807.6C1471.1,1804.4 1472.6,1801.3 1473.4,1798.1C1474.3,1794.9 1474.7,1791.7 1475,1788.5C1475.2,1785.3 1475.3,1783.7 1475,1778.9C1474.7,1774.1 1473.6,1766.2 1473.1,1759.8C1472.5,1753.4 1471.9,1747 1471.9,1740.7C1471.9,1734.3 1472.7,1727.9 1473.1,1721.5C1473.4,1715.2 1473.8,1708.8 1473.8,1702.4C1473.8,1696 1473.4,1689.7 1473.1,1683.3C1472.7,1676.9 1472.3,1670.5 1471.9,1664.1C1471.5,1657.8 1471.1,1651.4 1470.6,1645C1470,1638.6 1469.5,1632.3 1468.7,1625.9C1467.9,1619.5 1466.7,1613.1 1465.8,1606.8C1464.8,1600.4 1463.8,1594.6 1462.9,1587.6C1462,1580.6 1460.8,1568.5 1460.3,1564.7Z" fill="#1DBC6E" stroke="#0a0a0a" stroke-width="1.25" stroke-linejoin="round"/>
<line x1="1460.04" y1="1584.62" x2="1460.04" y2="1848.89" stroke="#fff" stroke-width="1.35"/>
<rect x="1457.04" y="1671.42" width="6" height="106.94" fill="#0a0d10" stroke="#fff" stroke-width="1.7"/>
<line x1="1457.04" y1="1713.89" x2="1463.04" y2="1713.89" stroke="#fff" stroke-width="2.4"/>
<path d="M1493.3,1556.6C1492.7,1558.6 1490.4,1564 1489.5,1568.5C1488.6,1573 1488.1,1579 1487.9,1583.8C1487.8,1588.6 1488,1591.8 1488.5,1597.2C1489,1602.6 1489.9,1609.9 1490.8,1616.3C1491.7,1622.7 1492.9,1629.1 1493.9,1635.4C1494.8,1641.8 1495.9,1648.2 1496.6,1654.6C1497.3,1661 1497.7,1667.3 1498.1,1673.7C1498.5,1680.1 1498.7,1686.5 1498.9,1692.8C1499,1699.2 1499.2,1705.6 1499.2,1712C1499.3,1718.4 1499.2,1724.7 1499.2,1731.1C1499.2,1737.5 1499.2,1743.9 1499.2,1750.2C1499.2,1756.6 1499.4,1763 1499.2,1769.4C1499.1,1775.7 1498.7,1782.1 1498.5,1788.5C1498.3,1794.9 1498.2,1801.3 1498.1,1807.6C1498,1814 1497.8,1820.4 1497.7,1826.8C1497.6,1833.1 1497.6,1839.5 1497.7,1845.9C1497.8,1852.3 1498.1,1858.6 1498.5,1865C1498.9,1871.4 1499.5,1879.2 1500,1884.2C1500.5,1889.1 1501.3,1892.9 1501.5,1894.7L1506.1,1894.7C1506.4,1892.9 1507.1,1889.1 1507.7,1884.2C1508.2,1879.2 1508.8,1871.4 1509.2,1865C1509.6,1858.6 1509.8,1852.3 1510,1845.9C1510.1,1839.5 1510,1833.1 1510,1826.8C1509.9,1820.4 1509.7,1814 1509.6,1807.6C1509.4,1801.3 1509.4,1794.9 1509.2,1788.5C1509,1782.1 1508.6,1775.7 1508.4,1769.4C1508.3,1763 1508.4,1756.6 1508.4,1750.2C1508.4,1743.9 1508.4,1737.5 1508.4,1731.1C1508.4,1724.7 1508.4,1718.4 1508.4,1712C1508.5,1705.6 1508.6,1699.2 1508.8,1692.8C1509,1686.5 1509.2,1680.1 1509.6,1673.7C1510,1667.3 1510.4,1661 1511.1,1654.6C1511.8,1648.2 1512.8,1641.8 1513.8,1635.4C1514.7,1629.1 1516,1622.7 1516.8,1616.3C1517.7,1609.9 1518.7,1602.6 1519.1,1597.2C1519.6,1591.8 1519.9,1588.6 1519.7,1583.8C1519.6,1579 1519.1,1573 1518.2,1568.5C1517.3,1564 1515,1558.6 1514.4,1556.6Z" fill="#1DBC6E" stroke="#0a0a0a" stroke-width="1.25" stroke-linejoin="round"/>
<line x1="1503.83" y1="1557.13" x2="1503.83" y2="1893.17" stroke="#fff" stroke-width="1.35"/>
<rect x="1500.83" y="1585.33" width="6" height="185.95" fill="#0a0d10" stroke="#fff" stroke-width="1.7"/>
<line x1="1500.83" y1="1633.54" x2="1506.83" y2="1633.54" stroke="#fff" stroke-width="2.4"/>
<path d="M1542.8,1558.5C1542,1561.8 1539.3,1571.6 1538,1578.1C1536.8,1584.5 1535.7,1590.8 1535.2,1597.2C1534.6,1603.6 1534.5,1609.9 1534.6,1616.3C1534.7,1622.7 1535.3,1629.1 1535.7,1635.4C1536.2,1641.8 1536.6,1648.2 1537.1,1654.6C1537.5,1661 1538,1667.3 1538.4,1673.7C1538.8,1680.1 1539.3,1686.5 1539.6,1692.8C1539.9,1699.2 1540.1,1705.6 1540.3,1712C1540.6,1718.4 1540.9,1724.7 1541.1,1731.1C1541.4,1737.5 1541.6,1743.9 1541.9,1750.2C1542.1,1756.6 1542.5,1763 1542.6,1769.4C1542.8,1775.7 1542.8,1782.1 1542.6,1788.5C1542.5,1794.9 1542.2,1801.3 1541.9,1807.6C1541.6,1814 1541.1,1820.4 1540.9,1826.8C1540.7,1833.1 1540.7,1839.5 1540.7,1845.9C1540.7,1852.3 1540.7,1858.6 1540.9,1865C1541.1,1871.4 1541.5,1879.5 1541.9,1884.2C1542.3,1888.8 1543.2,1891.3 1543.4,1892.8L1551.8,1892.8C1552.1,1891.3 1552.9,1888.8 1553.4,1884.2C1553.8,1879.5 1554.1,1871.4 1554.3,1865C1554.5,1858.6 1554.5,1852.3 1554.5,1845.9C1554.5,1839.5 1554.5,1833.1 1554.3,1826.8C1554.1,1820.4 1553.7,1814 1553.4,1807.6C1553.1,1801.3 1552.7,1794.9 1552.6,1788.5C1552.5,1782.1 1552.5,1775.7 1552.6,1769.4C1552.7,1763 1553.1,1756.6 1553.4,1750.2C1553.6,1743.9 1553.9,1737.5 1554.1,1731.1C1554.4,1724.7 1554.6,1718.4 1554.9,1712C1555.2,1705.6 1555.3,1699.2 1555.7,1692.8C1556,1686.5 1556.4,1680.1 1556.8,1673.7C1557.2,1667.3 1557.7,1661 1558.2,1654.6C1558.6,1648.2 1559.1,1641.8 1559.5,1635.4C1559.9,1629.1 1560.5,1622.7 1560.6,1616.3C1560.7,1609.9 1560.6,1603.6 1560.1,1597.2C1559.5,1590.8 1558.5,1584.5 1557.2,1578.1C1555.9,1571.6 1553.2,1561.8 1552.4,1558.5Z" fill="#1DBC6E" stroke="#0a0a0a" stroke-width="1.25" stroke-linejoin="round"/>
<line x1="1547.62" y1="1559.04" x2="1547.62" y2="1891.26" stroke="#fff" stroke-width="1.35"/>
<rect x="1544.62" y="1615.94" width="6" height="171.99" fill="#0a0d10" stroke="#fff" stroke-width="1.7"/>
<line x1="1544.62" y1="1677.54" x2="1550.62" y2="1677.54" stroke="#fff" stroke-width="2.4"/>
<path d="M1583.8,1554.7C1582.6,1557 1578.9,1563.6 1577.1,1568.5C1575.2,1573.3 1573.6,1579 1572.6,1583.8C1571.7,1588.6 1571.3,1592.7 1571.3,1597.2C1571.3,1601.7 1572,1605.8 1572.6,1610.6C1573.3,1615.4 1574.2,1620.1 1575.1,1625.9C1576.1,1631.6 1577.4,1638.6 1578.4,1645C1579.3,1651.4 1580.2,1657.8 1580.9,1664.1C1581.5,1670.5 1581.8,1676.9 1582.2,1683.3C1582.6,1689.7 1583,1696 1583.4,1702.4C1583.8,1708.8 1584.3,1715.2 1584.7,1721.5C1585.2,1727.9 1585.6,1734.3 1586,1740.7C1586.5,1747 1587.1,1753.4 1587.6,1759.8C1588,1766.2 1588.3,1772.6 1588.7,1778.9C1589.1,1785.3 1589.6,1791.7 1589.9,1798.1C1590.2,1804.4 1590.2,1810.8 1590.5,1817.2C1590.7,1823.6 1591,1823.9 1591.1,1836.3C1591.2,1848.8 1591.1,1882.6 1591.1,1891.8L1591.7,1891.8C1591.7,1882.6 1591.6,1848.8 1591.7,1836.3C1591.8,1823.9 1592.2,1823.6 1592.4,1817.2C1592.6,1810.8 1592.7,1804.4 1592.9,1798.1C1593.2,1791.7 1593.7,1785.3 1594.1,1778.9C1594.5,1772.6 1594.8,1766.2 1595.2,1759.8C1595.7,1753.4 1596.3,1747 1596.8,1740.7C1597.2,1734.3 1597.7,1727.9 1598.1,1721.5C1598.6,1715.2 1599,1708.8 1599.5,1702.4C1599.9,1696 1600.2,1689.7 1600.6,1683.3C1601,1676.9 1601.3,1670.5 1601.9,1664.1C1602.6,1657.8 1603.5,1651.4 1604.4,1645C1605.4,1638.6 1606.7,1631.6 1607.7,1625.9C1608.6,1620.1 1609.5,1615.4 1610.2,1610.6C1610.8,1605.8 1611.5,1601.7 1611.5,1597.2C1611.5,1592.7 1611.1,1588.6 1610.2,1583.8C1609.2,1579 1607.6,1573.3 1605.8,1568.5C1603.9,1563.6 1600.2,1557 1599.1,1554.7Z" fill="#1DBC6E" stroke="#0a0a0a" stroke-width="1.25" stroke-linejoin="round"/>
<line x1="1591.41" y1="1555.22" x2="1591.41" y2="1820.19" stroke="#fff" stroke-width="1.35"/>
<rect x="1588.41" y="1593.74" width="6" height="103.88" fill="#0a0d10" stroke="#fff" stroke-width="1.7"/>
<line x1="1588.41" y1="1629.71" x2="1594.41" y2="1629.71" stroke="#fff" stroke-width="2.4"/>
<path d="M1634.9,1590.5C1634.9,1595.8 1635.2,1614.6 1634.9,1622.1C1634.6,1629.6 1633.6,1630 1632.9,1635.4C1632.2,1640.9 1631.2,1648.2 1630.4,1654.6C1629.6,1661 1628.7,1667.3 1627.9,1673.7C1627.1,1680.1 1626.5,1686.5 1625.6,1692.8C1624.8,1699.2 1623.6,1705.6 1622.8,1712C1622,1718.4 1621.3,1724.7 1620.8,1731.1C1620.4,1737.5 1620.3,1743.9 1620.3,1750.2C1620.3,1756.6 1620.6,1763 1620.8,1769.4C1621,1775.7 1621.3,1782.1 1621.4,1788.5C1621.6,1794.9 1621.7,1801.3 1621.8,1807.6C1621.9,1814 1621.9,1820.4 1622.2,1826.8C1622.5,1833.1 1623,1839.5 1623.7,1845.9C1624.4,1852.3 1625.5,1858.6 1626.6,1865C1627.7,1871.4 1629.2,1879.2 1630.4,1884.2C1631.6,1889.1 1633.1,1892.9 1633.7,1894.7L1636.7,1894.7C1637.3,1892.9 1638.8,1889.1 1640,1884.2C1641.2,1879.2 1642.7,1871.4 1643.8,1865C1644.9,1858.6 1646,1852.3 1646.7,1845.9C1647.4,1839.5 1647.9,1833.1 1648.2,1826.8C1648.5,1820.4 1648.5,1814 1648.6,1807.6C1648.7,1801.3 1648.8,1794.9 1649,1788.5C1649.1,1782.1 1649.4,1775.7 1649.6,1769.4C1649.8,1763 1650.1,1756.6 1650.1,1750.2C1650.1,1743.9 1650,1737.5 1649.6,1731.1C1649.1,1724.7 1648.4,1718.4 1647.6,1712C1646.8,1705.6 1645.6,1699.2 1644.8,1692.8C1643.9,1686.5 1643.3,1680.1 1642.5,1673.7C1641.7,1667.3 1640.8,1661 1640,1654.6C1639.2,1648.2 1638.2,1640.9 1637.5,1635.4C1636.8,1630 1635.8,1629.6 1635.5,1622.1C1635.2,1614.6 1635.5,1595.8 1635.5,1590.5Z" fill="#1DBC6E" stroke="#0a0a0a" stroke-width="1.25" stroke-linejoin="round"/>
<line x1="1635.2" y1="1632.45" x2="1635.2" y2="1893.17" stroke="#fff" stroke-width="1.35"/>
<rect x="1632.2" y="1732.06" width="6" height="95.08" fill="#0a0d10" stroke="#fff" stroke-width="1.7"/>
<line x1="1632.2" y1="1776.06" x2="1638.2" y2="1776.06" stroke="#fff" stroke-width="2.4"/>
<path d="M1670.4,1558.5C1669.9,1560.8 1668,1567.5 1667.5,1572.3C1667,1577.2 1667,1581.9 1667.1,1587.6C1667.3,1593.4 1668,1600.4 1668.5,1606.8C1668.9,1613.1 1669.4,1619.5 1669.8,1625.9C1670.2,1632.3 1670.6,1638.6 1670.9,1645C1671.3,1651.4 1671.6,1657.8 1671.7,1664.1C1671.8,1670.5 1671.8,1676.9 1671.7,1683.3C1671.7,1689.7 1671.5,1696 1671.3,1702.4C1671.2,1708.8 1671,1715.2 1670.9,1721.5C1670.9,1727.9 1670.9,1734.3 1670.9,1740.7C1671,1747 1671.2,1753.4 1671.3,1759.8C1671.5,1766.2 1671.6,1772.6 1671.7,1778.9C1671.8,1785.3 1672,1791.7 1672.1,1798.1C1672.2,1804.4 1672.4,1810.8 1672.5,1817.2C1672.6,1823.6 1672.7,1829.9 1672.9,1836.3C1673.1,1842.7 1673.2,1849.1 1673.6,1855.5C1674,1861.8 1674.6,1868.1 1675.2,1874.6C1675.7,1881.1 1676.8,1891.3 1677.1,1894.7L1680.9,1894.7C1681.2,1891.3 1682.2,1881.1 1682.8,1874.6C1683.4,1868.1 1684,1861.8 1684.4,1855.5C1684.7,1849.1 1684.9,1842.7 1685.1,1836.3C1685.3,1829.9 1685.4,1823.6 1685.5,1817.2C1685.6,1810.8 1685.8,1804.4 1685.9,1798.1C1686,1791.7 1686.1,1785.3 1686.3,1778.9C1686.4,1772.6 1686.5,1766.2 1686.6,1759.8C1686.8,1753.4 1687,1747 1687,1740.7C1687.1,1734.3 1687.1,1727.9 1687,1721.5C1687,1715.2 1686.8,1708.8 1686.6,1702.4C1686.5,1696 1686.3,1689.7 1686.3,1683.3C1686.2,1676.9 1686.1,1670.5 1686.3,1664.1C1686.4,1657.8 1686.7,1651.4 1687,1645C1687.4,1638.6 1687.8,1632.3 1688.2,1625.9C1688.6,1619.5 1689.1,1613.1 1689.5,1606.8C1690,1600.4 1690.7,1593.4 1690.9,1587.6C1691,1581.9 1691,1577.2 1690.5,1572.3C1689.9,1567.5 1688.1,1560.8 1687.6,1558.5Z" fill="#1DBC6E" stroke="#0a0a0a" stroke-width="1.25" stroke-linejoin="round"/>
<line x1="1678.99" y1="1559.04" x2="1678.99" y2="1893.17" stroke="#fff" stroke-width="1.35"/>
<rect x="1675.99" y="1600.06" width="6" height="178.3" fill="#0a0d10" stroke="#fff" stroke-width="1.7"/>
<line x1="1675.99" y1="1692.84" x2="1681.99" y2="1692.84" stroke="#fff" stroke-width="2.4"/>
<path d="M1716.1,1566.2C1715.2,1568.2 1712.4,1572.9 1710.9,1578.1C1709.4,1583.2 1708,1590.8 1707.1,1597.2C1706.2,1603.6 1705.9,1609.9 1705.5,1616.3C1705.2,1622.7 1705,1629.1 1705.2,1635.4C1705.3,1641.8 1705.9,1648.2 1706.5,1654.6C1707.1,1661 1708.1,1667.3 1709,1673.7C1709.9,1680.1 1710.8,1686.5 1711.7,1692.8C1712.5,1699.2 1713.4,1705.6 1714.2,1712C1714.9,1718.4 1715.5,1724.7 1716.1,1731.1C1716.6,1737.5 1716.9,1743.9 1717.4,1750.2C1717.9,1756.6 1718.5,1763 1719,1769.4C1719.4,1775.7 1719.7,1782.1 1720.1,1788.5C1720.5,1794.9 1720.9,1801.3 1721.2,1807.6C1721.6,1814 1721.8,1820.4 1722,1826.8C1722.2,1833.1 1722.4,1838.6 1722.5,1845.9C1722.6,1853.2 1722.5,1866.6 1722.5,1870.8L1723.1,1870.8C1723.1,1866.6 1723,1853.2 1723.1,1845.9C1723.2,1838.6 1723.3,1833.1 1723.5,1826.8C1723.8,1820.4 1724,1814 1724.3,1807.6C1724.6,1801.3 1725.1,1794.9 1725.5,1788.5C1725.8,1782.1 1726.2,1775.7 1726.6,1769.4C1727.1,1763 1727.7,1756.6 1728.1,1750.2C1728.6,1743.9 1728.9,1737.5 1729.5,1731.1C1730,1724.7 1730.7,1718.4 1731.4,1712C1732.1,1705.6 1733,1699.2 1733.9,1692.8C1734.7,1686.5 1735.7,1680.1 1736.6,1673.7C1737.4,1667.3 1738.4,1661 1739.1,1654.6C1739.7,1648.2 1740.2,1641.8 1740.4,1635.4C1740.6,1629.1 1740.3,1622.7 1740,1616.3C1739.7,1609.9 1739.4,1603.6 1738.5,1597.2C1737.6,1590.8 1736.2,1583.2 1734.7,1578.1C1733.2,1572.9 1730.3,1568.2 1729.5,1566.2Z" fill="#1DBC6E" stroke="#0a0a0a" stroke-width="1.25" stroke-linejoin="round"/>
<line x1="1722.78" y1="1566.7" x2="1722.78" y2="1829.76" stroke="#fff" stroke-width="1.35"/>
<rect x="1719.78" y="1610.96" width="6" height="90.49" fill="#0a0d10" stroke="#fff" stroke-width="1.7"/>
<line x1="1719.78" y1="1652.67" x2="1725.78" y2="1652.67" stroke="#fff" stroke-width="2.4"/>
<rect x="1171.5" y="1538" width="576.9" height="372.6" fill="none" stroke="#4d4d4d" stroke-width="1.4"/>
<rect x="1170.6" y="1511.8" width="580.7" height="26.2" fill="#D9D9D9" stroke="#333" stroke-width="1.4"/>
<text x="1468.2" y="1530.7" font-size="19.29" text-anchor="middle" fill="#1a1a1a" stroke="#1a1a1a" stroke-width="0.3" textLength="93.3" lengthAdjust="spacingAndGlyphs">Hypo-block</text>
<line x1="1166.7" y1="1555.1" x2="1171.5" y2="1555.1" stroke="#333" stroke-width="1.8"/>
<text x="1158.9" y="1560.9" font-size="24.04" text-anchor="end" fill="#4d4d4d" stroke="#4d4d4d" stroke-width="0.3" textLength="44.57" lengthAdjust="spacingAndGlyphs">1.00</text>
<line x1="1166.7" y1="1639.85" x2="1171.5" y2="1639.85" stroke="#333" stroke-width="1.8"/>
<text x="1158.9" y="1645.65" font-size="24.04" text-anchor="end" fill="#4d4d4d" stroke="#4d4d4d" stroke-width="0.3" textLength="44.57" lengthAdjust="spacingAndGlyphs">0.75</text>
<line x1="1166.7" y1="1724.6" x2="1171.5" y2="1724.6" stroke="#333" stroke-width="1.8"/>
<text x="1158.9" y="1730.4" font-size="24.04" text-anchor="end" fill="#4d4d4d" stroke="#4d4d4d" stroke-width="0.3" textLength="44.57" lengthAdjust="spacingAndGlyphs">0.50</text>
<line x1="1166.7" y1="1809.35" x2="1171.5" y2="1809.35" stroke="#333" stroke-width="1.8"/>
<text x="1158.9" y="1815.15" font-size="24.04" text-anchor="end" fill="#4d4d4d" stroke="#4d4d4d" stroke-width="0.3" textLength="44.57" lengthAdjust="spacingAndGlyphs">0.25</text>
<line x1="1166.7" y1="1894.1" x2="1171.5" y2="1894.1" stroke="#333" stroke-width="1.8"/>
<text x="1158.9" y="1899.9" font-size="24.04" text-anchor="end" fill="#4d4d4d" stroke="#4d4d4d" stroke-width="0.3" textLength="44.57" lengthAdjust="spacingAndGlyphs">0.00</text>
<line x1="1197.3" y1="1910.6" x2="1197.3" y2="1915.4" stroke="#333" stroke-width="1.8"/>
<text x="1202.6" y="1923.2" font-size="23.76" text-anchor="end" fill="#4d4d4d" stroke="#4d4d4d" stroke-width="0.3" transform="rotate(-90 1202.6 1923.2)" textLength="56.95" lengthAdjust="spacingAndGlyphs">BLCA</text>
<line x1="1241.09" y1="1910.6" x2="1241.09" y2="1915.4" stroke="#333" stroke-width="1.8"/>
<text x="1246.39" y="1923.2" font-size="23.76" text-anchor="end" fill="#4d4d4d" stroke="#4d4d4d" stroke-width="0.3" transform="rotate(-90 1246.39 1923.2)" textLength="60.57" lengthAdjust="spacingAndGlyphs">BRCA</text>
<line x1="1284.88" y1="1910.6" x2="1284.88" y2="1915.4" stroke="#333" stroke-width="1.8"/>
<text x="1290.18" y="1923.2" font-size="23.76" text-anchor="end" fill="#4d4d4d" stroke="#4d4d4d" stroke-width="0.3" transform="rotate(-90 1290.18 1923.2)" textLength="62.98" lengthAdjust="spacingAndGlyphs">COAD</text>
<line x1="1328.67" y1="1910.6" x2="1328.67" y2="1915.4" stroke="#333" stroke-width="1.8"/>
<text x="1333.97" y="1923.2" font-size="23.76" text-anchor="end" fill="#4d4d4d" stroke="#4d4d4d" stroke-width="0.3" transform="rotate(-90 1333.97 1923.2)" textLength="59.37" lengthAdjust="spacingAndGlyphs">ESCA</text>
<line x1="1372.46" y1="1910.6" x2="1372.46" y2="1915.4" stroke="#333" stroke-width="1.8"/>
<text x="1377.76" y="1923.2" font-size="23.76" text-anchor="end" fill="#4d4d4d" stroke="#4d4d4d" stroke-width="0.3" transform="rotate(-90 1377.76 1923.2)" textLength="61.77" lengthAdjust="spacingAndGlyphs">HNSC</text>
<line x1="1416.25" y1="1910.6" x2="1416.25" y2="1915.4" stroke="#333" stroke-width="1.8"/>
<text x="1421.55" y="1923.2" font-size="23.76" text-anchor="end" fill="#4d4d4d" stroke="#4d4d4d" stroke-width="0.3" transform="rotate(-90 1421.55 1923.2)" textLength="52.08" lengthAdjust="spacingAndGlyphs">KIRC</text>
<line x1="1460.04" y1="1910.6" x2="1460.04" y2="1915.4" stroke="#333" stroke-width="1.8"/>
<text x="1465.34" y="1923.2" font-size="23.76" text-anchor="end" fill="#4d4d4d" stroke="#4d4d4d" stroke-width="0.3" transform="rotate(-90 1465.34 1923.2)" textLength="50.88" lengthAdjust="spacingAndGlyphs">KIRP</text>
<line x1="1503.83" y1="1910.6" x2="1503.83" y2="1915.4" stroke="#333" stroke-width="1.8"/>
<text x="1509.13" y="1923.2" font-size="23.76" text-anchor="end" fill="#4d4d4d" stroke="#4d4d4d" stroke-width="0.3" transform="rotate(-90 1509.13 1923.2)" textLength="49.67" lengthAdjust="spacingAndGlyphs">LIHC</text>
<line x1="1547.62" y1="1910.6" x2="1547.62" y2="1915.4" stroke="#333" stroke-width="1.8"/>
<text x="1552.92" y="1923.2" font-size="23.76" text-anchor="end" fill="#4d4d4d" stroke="#4d4d4d" stroke-width="0.3" transform="rotate(-90 1552.92 1923.2)" textLength="58.15" lengthAdjust="spacingAndGlyphs">LUAD</text>
<line x1="1591.41" y1="1910.6" x2="1591.41" y2="1915.4" stroke="#333" stroke-width="1.8"/>
<text x="1596.71" y="1923.2" font-size="23.76" text-anchor="end" fill="#4d4d4d" stroke="#4d4d4d" stroke-width="0.3" transform="rotate(-90 1596.71 1923.2)" textLength="58.15" lengthAdjust="spacingAndGlyphs">LUSC</text>
<line x1="1635.2" y1="1910.6" x2="1635.2" y2="1915.4" stroke="#333" stroke-width="1.8"/>
<text x="1640.5" y="1923.2" font-size="23.76" text-anchor="end" fill="#4d4d4d" stroke="#4d4d4d" stroke-width="0.3" transform="rotate(-90 1640.5 1923.2)" textLength="57.75" lengthAdjust="spacingAndGlyphs">PAAD</text>
<line x1="1678.99" y1="1910.6" x2="1678.99" y2="1915.4" stroke="#333" stroke-width="1.8"/>
<text x="1684.29" y="1923.2" font-size="23.76" text-anchor="end" fill="#4d4d4d" stroke="#4d4d4d" stroke-width="0.3" transform="rotate(-90 1684.29 1923.2)" textLength="60.57" lengthAdjust="spacingAndGlyphs">PRAD</text>
<line x1="1722.78" y1="1910.6" x2="1722.78" y2="1915.4" stroke="#333" stroke-width="1.8"/>
<text x="1728.08" y="1923.2" font-size="23.76" text-anchor="end" fill="#4d4d4d" stroke="#4d4d4d" stroke-width="0.3" transform="rotate(-90 1728.08 1923.2)" textLength="61.77" lengthAdjust="spacingAndGlyphs">UCEC</text>
<text x="1090" y="1303.5" font-size="28.34" text-anchor="middle" stroke="#000" stroke-width="0.3" transform="rotate(-90 1090 1303.5)" textLength="85.25" lengthAdjust="spacingAndGlyphs">PSFSE</text>
<text x="1049" y="696.3" font-size="32" stroke="#000" stroke-width="0.3" font-weight="bold" font-family="'DejaVu Sans', sans-serif">d</text>
</g>
<g id="pe">
<path d="M26.5,1882.9V1870.7H31V1882.9M35.5,1882.9V1871.8H40V1882.9M37.7,1871.8V1870.7H44.4V1882.9M28.8,1870.7V1868.2H41.1V1870.7M22.1,1882.9V1865.7H34.9V1868.2M48.9,1882.9V1865.7H53.4V1882.9M28.5,1865.7V1863.2H51.1V1865.7M17.6,1882.9V1860.7H39.8V1863.2M66.8,1882.9V1868.3H71.3V1882.9M62.3,1882.9V1865.8H69V1868.3M57.9,1882.9V1860.7H65.7V1865.8M28.7,1860.7V1858.2H61.8V1860.7M75.7,1882.9V1849.4H80.2V1882.9M89.2,1882.9V1869H93.6V1882.9M84.7,1882.9V1862.9H91.4V1869M98.1,1882.9V1867.6H102.6V1882.9M88,1862.9V1858.2H100.4V1867.6M107.1,1882.9V1865.4H111.5V1882.9M94.2,1858.2V1846.3H109.3V1865.4M78,1849.4V1838H101.7V1846.3M45.2,1858.2V1835.6H89.9V1838M116,1882.9V1866H120.5V1882.9M129.4,1882.9V1868.8H133.9V1882.9M131.7,1868.8V1866.3H138.4V1882.9M125,1882.9V1863.8H135V1866.3M147.3,1882.9V1867.4H151.8V1882.9M142.8,1882.9V1863.8H149.6V1867.4M130,1863.8V1861.3H146.2V1863.8M160.7,1882.9V1869.4H165.2V1882.9M156.3,1882.9V1866.9H163V1869.4M138.1,1861.3V1856.5H159.6V1866.9M118.2,1866V1850.8H148.9V1856.5M169.7,1882.9V1868.4H174.2V1882.9M187.6,1882.9V1867.9H192V1882.9M183.1,1882.9V1865.4H189.8V1867.9M178.6,1882.9V1862.3H186.5V1865.4M171.9,1868.4V1859.8H182.5V1862.3M133.5,1850.8V1848.3H177.2V1859.8M209.9,1882.9V1868.6H214.4V1882.9M205.5,1882.9V1864.4H212.2V1868.6M223.4,1882.9V1868.8H227.8V1882.9M218.9,1882.9V1865.6H225.6V1868.8M208.8,1864.4V1861.9H222.2V1865.6M201,1882.9V1859.4H215.5V1861.9M196.5,1882.9V1856.9H208.3V1859.4M241.2,1882.9V1871.8H245.7V1882.9M243.5,1871.8V1870.3H250.2V1882.9M236.8,1882.9V1867.8H246.8V1870.3M241.8,1867.8V1865.3H254.7V1882.9M232.3,1882.9V1862.8H248.2V1865.3M202.4,1856.9V1854.4H240.3V1862.8M268.1,1882.9V1871.2H272.6V1882.9M290.5,1882.9V1871.8H294.9V1882.9M286,1882.9V1871.8H292.7V1871.8M281.5,1882.9V1871.8H289.3V1871.8M277,1882.9V1871.8H285.4V1871.8M281.2,1871.8V1871.2H299.4V1882.9M270.3,1871.2V1868.7H290.3V1871.2M263.6,1882.9V1866.2H280.3V1868.7M272,1866.2V1863.7H303.9V1882.9M287.9,1863.7V1861.2H308.3V1882.9M259.1,1882.9V1858.7H298.1V1861.2M278.6,1858.7V1852.5H312.8V1882.9M221.3,1854.4V1850H295.7V1852.5M339.7,1882.9V1871.8H344.1V1882.9M335.2,1882.9V1870.8H341.9V1871.8M330.7,1882.9V1868.3H338.5V1870.8M334.6,1868.3V1865.8H348.6V1882.9M326.2,1882.9V1863.3H341.6V1865.8M333.9,1863.3V1860.8H353.1V1882.9M357.5,1882.9V1868.5H362V1882.9M359.8,1868.5V1866H366.5V1882.9M363.1,1866V1863.3H371V1882.9M367.1,1863.3V1860.8H375.4V1882.9M343.5,1860.8V1858.3H371.2V1860.8M321.8,1882.9V1855.8H357.4V1858.3M317.3,1882.9V1853.3H339.6V1855.8M328.4,1853.3V1850.8H379.9V1882.9M397.8,1882.9V1871.8H402.3V1882.9M393.3,1882.9V1871.8H400V1871.8M388.9,1882.9V1871H396.7V1871.8M392.8,1871V1868.5H406.8V1882.9M399.8,1868.5V1866H411.2V1882.9M384.4,1882.9V1863.5H405.5V1866M415.7,1882.9V1868.8H420.2V1882.9M394.9,1863.5V1861H417.9V1868.8M442.5,1882.9V1871.8H447V1882.9M444.8,1871.8V1871.8H451.5V1882.9M438.1,1882.9V1871.8H448.1V1871.8M433.6,1882.9V1871.8H443.1V1871.8M438.3,1871.8V1870.6H456V1882.9M429.1,1882.9V1868.1H447.1V1870.6M438.1,1868.1V1865.6H460.4V1882.9M464.9,1882.9V1866.3H469.4V1882.9M449.3,1865.6V1863.1H467.1V1866.3M424.6,1882.9V1860.6H458.2V1863.1M406.4,1861V1858.1H441.4V1860.6M354.2,1850.8V1846.7H423.9V1858.1M258.5,1850V1828.9H389.1V1846.7M155.4,1848.3V1798H323.8V1828.9M67.6,1835.6V1716H239.6V1798M478.3,1882.9V1868.1H482.8V1882.9M473.8,1882.9V1861.2H480.6V1868.1M487.3,1882.9V1868.9H491.7V1882.9M489.5,1868.9V1866.4H496.2V1882.9M500.7,1882.9V1866.1H505.2V1882.9M492.9,1866.4V1858.6H502.9V1866.1M518.6,1882.9V1871.8H523V1882.9M514.1,1882.9V1869.3H520.8V1871.8M517.5,1869.3V1866.8H527.5V1882.9M509.6,1882.9V1864.3H522.5V1866.8M532,1882.9V1867.8H536.5V1882.9M534.2,1867.8V1864.3H540.9V1882.9M516.1,1864.3V1861.8H537.6V1864.3M545.4,1882.9V1867.4H549.9V1882.9M547.7,1867.4V1862.6H554.4V1882.9M526.8,1861.8V1858.1H551V1862.6M497.9,1858.6V1847.1H538.9V1858.1M477.2,1861.2V1843.6H518.4V1847.1M572.3,1882.9V1871.8H576.7V1882.9M567.8,1882.9V1871.8H574.5V1871.8M571.1,1871.8V1871.8H581.2V1882.9M599.1,1882.9V1871.8H603.6V1882.9M594.6,1882.9V1871.8H601.3V1871.8M590.1,1882.9V1871.8H598V1871.8M594.1,1871.8V1871.8H608V1882.9M585.7,1882.9V1871.8H601V1871.8M617,1882.9V1871.8H621.5V1882.9M612.5,1882.9V1871.8H619.2V1871.8M593.4,1871.8V1871.8H615.9V1871.8M576.2,1871.8V1871.3H604.6V1871.8M590.4,1871.3V1868.8H625.9V1882.9M563.3,1882.9V1866.3H608.2V1868.8M558.8,1882.9V1863.8H585.7V1866.3M634.9,1882.9V1866H639.3V1882.9M652.8,1882.9V1870.3H657.2V1882.9M648.3,1882.9V1867.8H655V1870.3M661.7,1882.9V1867.8H666.2V1882.9M651.6,1867.8V1865.3H663.9V1867.8M643.8,1882.9V1862.8H657.8V1865.3M637.1,1866V1856.6H650.8V1862.8M630.4,1882.9V1850.4H644V1856.6M572.3,1863.8V1840H637.2V1850.4M497.8,1843.6V1810.7H604.7V1840M675.1,1882.9V1871.2H679.6V1882.9M677.4,1871.2V1868.7H684.1V1882.9M680.7,1868.7V1866.2H688.5V1882.9M693,1882.9V1871.2H697.5V1882.9M702,1882.9V1871.2H706.4V1882.9M695.3,1871.2V1868.7H704.2V1871.2M699.7,1868.7V1866.2H710.9V1882.9M684.6,1866.2V1863.7H705.3V1866.2M695,1863.7V1861.2H715.4V1882.9M670.7,1882.9V1858.7H705.2V1861.2M728.8,1882.9V1871.2H733.3V1882.9M731,1871.2V1868.7H737.8V1882.9M734.4,1868.7V1866.2H742.2V1882.9M724.3,1882.9V1863.7H738.3V1866.2M731.3,1863.7V1861.2H746.7V1882.9M719.9,1882.9V1858.7H739V1861.2M687.9,1858.7V1856.2H729.4V1858.7M760.1,1882.9V1867.8H764.6V1882.9M755.6,1882.9V1864H762.4V1867.8M751.2,1882.9V1848.3H759V1864M708.7,1856.2V1824.3H755.1V1848.3M769.1,1882.9V1866H773.5V1882.9M782.5,1882.9V1868.3H787V1882.9M791.4,1882.9V1867.2H795.9V1882.9M784.7,1868.3V1864.4H793.7V1867.2M800.4,1882.9V1867.5H804.8V1882.9M789.2,1864.4V1861.9H802.6V1867.5M778,1882.9V1859.4H795.9V1861.9M771.3,1866V1853.5H787V1859.4M809.3,1882.9V1868.3H813.8V1882.9M827.2,1882.9V1868.1H831.7V1882.9M840.6,1882.9V1868.8H845.1V1882.9M836.2,1882.9V1866.3H842.9V1868.8M829.4,1868.1V1863.8H839.5V1866.3M822.7,1882.9V1856.6H834.5V1863.8M818.3,1882.9V1854.1H828.6V1856.6M811.6,1868.3V1851.4H823.4V1854.1M779.1,1853.5V1835.6H817.5V1851.4M858.5,1882.9V1870.2H863V1882.9M854.1,1882.9V1867.7H860.8V1870.2M849.6,1882.9V1865.2H857.4V1867.7M867.5,1882.9V1868H871.9V1882.9M869.7,1868V1863.4H876.4V1882.9M880.9,1882.9V1868.5H885.4V1882.9M873.1,1863.4V1860.9H883.1V1868.5M853.5,1865.2V1856.2H878.1V1860.9M894.3,1882.9V1866.1H898.8V1882.9M889.8,1882.9V1861.4H896.5V1866.1M907.7,1882.9V1868.8H912.2V1882.9M910,1868.8V1866.3H916.7V1882.9M913.3,1866.3V1863.8H921.1V1882.9M917.2,1863.8V1860H925.6V1882.9M903.3,1882.9V1857.5H921.4V1860M893.2,1861.4V1855H912.3V1857.5M865.8,1856.2V1844.2H902.8V1855M934.6,1882.9V1868.3H939V1882.9M930.1,1882.9V1865.2H936.8V1868.3M933.4,1865.2V1858.5H943.5V1882.9M956.9,1882.9V1871.4H961.4V1882.9M965.9,1882.9V1871.4H970.3V1882.9M959.2,1871.4V1868.9H968.1V1871.4M963.6,1868.9V1866.4H974.8V1882.9M969.2,1866.4V1863.9H979.3V1882.9M952.5,1882.9V1861.4H974.3V1863.9M948,1882.9V1858.9H963.4V1861.4M955.7,1858.9V1856.4H983.8V1882.9M938.5,1858.5V1853.9H969.7V1856.4M988.2,1882.9V1868.3H992.7V1882.9M1006.1,1882.9V1868.4H1010.6V1882.9M1001.7,1882.9V1865.5H1008.4V1868.4M997.2,1882.9V1863H1005V1865.5M990.5,1868.3V1853H1001.1V1863M954.1,1853.9V1840.7H995.8V1853M884.3,1844.2V1830.9H974.9V1840.7M798.3,1835.6V1820H929.6V1830.9M731.9,1824.3V1774.8H864V1820M551.3,1810.7V1673.8H797.9V1774.8M153.6,1716V1488.9H674.6V1673.8" fill="none" stroke="#000" stroke-width="1.75" stroke-linejoin="miter"/>
<rect x="15.4" y="1892" width="58.11" height="50.4" fill="#66C2A5"/>
<rect x="82.45" y="1892" width="17.88" height="50.4" fill="#66C2A5"/>
<rect x="100.33" y="1892" width="4.47" height="50.4" fill="#8DA0CB"/>
<rect x="109.27" y="1892" width="4.47" height="50.4" fill="#8DA0CB"/>
<rect x="113.74" y="1892" width="49.17" height="50.4" fill="#66C2A5"/>
<rect x="167.38" y="1892" width="4.47" height="50.4" fill="#8DA0CB"/>
<rect x="171.85" y="1892" width="13.41" height="50.4" fill="#66C2A5"/>
<rect x="189.73" y="1892" width="281.61" height="50.4" fill="#66C2A5"/>
<rect x="475.81" y="1892" width="4.47" height="50.4" fill="#66C2A5"/>
<rect x="484.75" y="1892" width="8.94" height="50.4" fill="#E78AC3"/>
<rect x="493.69" y="1892" width="67.05" height="50.4" fill="#FC8D62"/>
<rect x="574.15" y="1892" width="13.41" height="50.4" fill="#FC8D62"/>
<rect x="596.5" y="1892" width="4.47" height="50.4" fill="#FC8D62"/>
<rect x="609.91" y="1892" width="4.47" height="50.4" fill="#FC8D62"/>
<rect x="618.85" y="1892" width="8.94" height="50.4" fill="#FC8D62"/>
<rect x="632.26" y="1892" width="8.94" height="50.4" fill="#FC8D62"/>
<rect x="645.67" y="1892" width="17.88" height="50.4" fill="#FC8D62"/>
<rect x="668.02" y="1892" width="4.47" height="50.4" fill="#66C2A5"/>
<rect x="766.36" y="1892" width="17.88" height="50.4" fill="#FC8D62"/>
<rect x="788.71" y="1892" width="17.88" height="50.4" fill="#FC8D62"/>
<rect x="846.82" y="1892" width="8.94" height="50.4" fill="#8DA0CB"/>
<rect x="860.23" y="1892" width="8.94" height="50.4" fill="#8DA0CB"/>
<rect x="878.11" y="1892" width="8.94" height="50.4" fill="#8DA0CB"/>
<rect x="909.4" y="1892" width="4.47" height="50.4" fill="#FC8D62"/>
<rect x="918.34" y="1892" width="4.47" height="50.4" fill="#FC8D62"/>
<rect x="922.81" y="1892" width="13.41" height="50.4" fill="#8DA0CB"/>
<rect x="940.69" y="1892" width="4.47" height="50.4" fill="#8DA0CB"/>
<rect x="945.16" y="1892" width="8.94" height="50.4" fill="#66C2A5"/>
<rect x="958.57" y="1892" width="4.47" height="50.4" fill="#8DA0CB"/>
<rect x="980.92" y="1892" width="4.47" height="50.4" fill="#E78AC3"/>
<rect x="994.33" y="1892" width="8.94" height="50.4" fill="#FC8D62"/>
<line x1="15.4" y1="1953.9" x2="464.5" y2="1953.9" stroke="#000" stroke-width="1.6"/>
<line x1="469.2" y1="1953.9" x2="1007.7" y2="1953.9" stroke="#000" stroke-width="1.6"/>
<line x1="848.1" y1="1962.3" x2="1010" y2="1962.3" stroke="#000" stroke-width="1.6"/>
<text x="193.4" y="1983" font-size="20.9" font-weight="bold" textLength="92.6" lengthAdjust="spacingAndGlyphs">ERG+ ***</text>
<text x="568.3" y="1979.4" font-size="20.9" font-weight="bold" textLength="228.3" lengthAdjust="spacingAndGlyphs">SPOP|FOXA1 mut  ***</text>
<text x="884.7" y="1983" font-size="20.9" font-weight="bold" textLength="87.4" lengthAdjust="spacingAndGlyphs">ETV+ ***</text>
<text x="719.4" y="1473.7" font-size="21.2" font-weight="bold" textLength="62.2" lengthAdjust="spacingAndGlyphs">PRAD</text>
<rect x="721" y="1490.2" width="30" height="29.6" rx="2.2" fill="#96D5C0" stroke="#666" stroke-width="1.1"/>
<text x="761.2" y="1513.2" font-size="22.5" textLength="144.42" lengthAdjust="spacingAndGlyphs">ERG+ (n = 98)</text>
<rect x="721" y="1525.2" width="30" height="29.6" rx="2.2" fill="#FDAF91" stroke="#666" stroke-width="1.1"/>
<text x="761.2" y="1546" font-size="22.5" textLength="229.15" lengthAdjust="spacingAndGlyphs">SPOP|FOXA1 mut (40)</text>
<rect x="721" y="1560.2" width="30" height="29.6" rx="2.2" fill="#AFBCDC" stroke="#666" stroke-width="1.1"/>
<text x="761.2" y="1583.1" font-size="22.5" textLength="101.82" lengthAdjust="spacingAndGlyphs">ETV+ (14)</text>
<rect x="721" y="1595.2" width="30" height="29.6" rx="2.2" fill="#F3C4E1" stroke="#666" stroke-width="1.1"/>
<text x="761.2" y="1618" font-size="22.5" textLength="127.1" lengthAdjust="spacingAndGlyphs">IDH1 mut (3)</text>
<rect x="721" y="1630.2" width="30" height="29.6" rx="2.2" fill="#fff" stroke="#666" stroke-width="1.1"/>
<text x="761.2" y="1652.5" font-size="22.5" textLength="112.31" lengthAdjust="spacingAndGlyphs">Others (68)</text>
<text x="-1.6" y="1458" font-size="32" stroke="#000" stroke-width="0.3" font-weight="bold" font-family="'DejaVu Sans', sans-serif" textLength="23.2" lengthAdjust="spacingAndGlyphs">e</text>
</g>
</svg>
</body></html>
